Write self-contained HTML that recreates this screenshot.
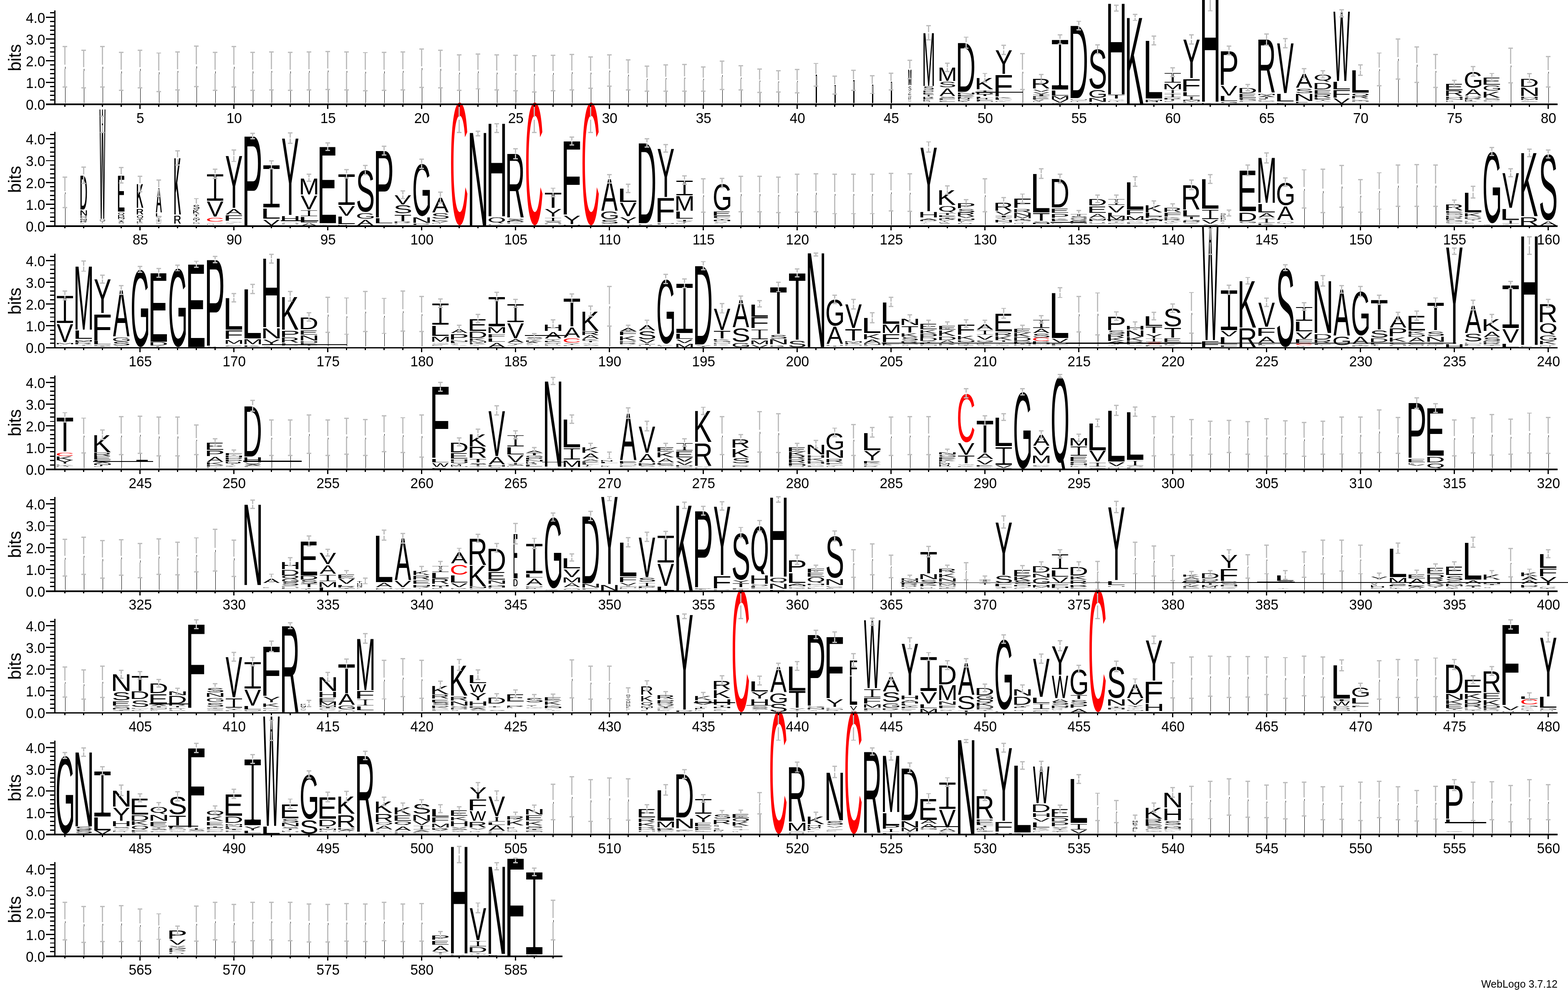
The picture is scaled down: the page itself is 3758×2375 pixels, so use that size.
<!DOCTYPE html>
<html><head><meta charset="utf-8"><title>WebLogo</title><style>html,body{margin:0;padding:0;background:#fff}svg{display:block}</style></head><body>
<svg width="3758" height="2375" viewBox="0 0 3758 2375">
<rect width="3758" height="2375" fill="#fff"/>
<g font-family="'Liberation Sans',sans-serif" font-size="100">
<g fill="#000"><text transform="matrix(.1026 0 0 .0203 2177.18 244.49)">V</text><text transform="matrix(.1268 0 0 .0234 2176.18 241.95)">P</text><text transform="matrix(.1177 0 0 .0266 2176.26 239.02)">K</text><text transform="matrix(.1137 0 0 .0297 2176.29 235.69)">R</text><text transform="matrix(.1245 0 0 .0511 2176.2 227.86)">E</text><text transform="matrix(.1083 0 0 .0556 2176.99 223.35)">Y</text><text transform="matrix(.1173 0 0 .1472 2176.69 217.01)">S</text><text transform="matrix(.1009 0 0 .53 2176.05 204.13)">M</text><text transform="matrix(.1009 0 0 .53 2176.75 204.13)">M</text><text transform="matrix(.2829 0 0 .0223 2210.9 244.49)">N</text><text transform="matrix(.3033 0 0 .0258 2210.74 241.7)">K</text><text transform="matrix(.4566 0 0 .0293 2209.48 238.47)">E</text><text transform="matrix(.4168 0 0 .0327 2209.81 234.81)">R</text><text transform="matrix(.4377 0 0 .0513 2212.24 230.72)">T</text><text transform="matrix(.4566 0 0 .0562 2209.48 226.2)">E</text><text transform="matrix(.465 0 0 .0611 2209.41 221.24)">P</text><text transform="matrix(.4299 0 0 .1166 2211.27 215.43)">S</text><text transform="matrix(.37 0 0 1.8321 2210.19 205.69)">M</text><text transform="matrix(.6891 0 0 .0211 2246.27 244.49)">E</text><text transform="matrix(.3261 0 0 .0244 2249.25 241.85)">E</text><text transform="matrix(.7642 0 0 .0277 2245.66 238.8)">F</text><text transform="matrix(.6488 0 0 .0301 2248.98 235.31)">S</text><text transform="matrix(.5633 0 0 .265 2251.81 230.17)">A</text><text transform="matrix(.6488 0 0 .1766 2248.98 209.17)">S</text><text transform="matrix(.5583 0 0 .4543 2247.34 194.23)">M</text><text transform="matrix(.4721 0 0 .026 2292.15 241.68)">D</text><text transform="matrix(.4915 0 0 .0295 2291.99 238.43)">N</text><text transform="matrix(.6824 0 0 .033 2290.43 234.74)">K</text><text transform="matrix(.7223 0 0 .0517 2290.1 230.61)">E</text><text transform="matrix(.7009 0 0 .0567 2290.28 226.05)">N</text><text transform="matrix(.661 0 0 1.6882 2290.6 219.75)">D</text><text transform="matrix(.5852 0 0 .0227 2336.22 244.49)">M</text><text transform="matrix(.801 0 0 .0263 2334.45 241.65)">F</text><text transform="matrix(.455 0 0 .0298 2337.29 238.36)">H</text><text transform="matrix(.8879 0 0 .0333 2333.74 234.64)">L</text><text transform="matrix(.6924 0 0 .0522 2339.47 230.47)">T</text><text transform="matrix(.661 0 0 .0572 2335.6 225.86)">D</text><text transform="matrix(.6924 0 0 .0622 2339.47 220.82)">T</text><text transform="matrix(.6824 0 0 .3861 2335.43 214.03)">K</text><text transform="matrix(.4701 0 0 .0203 2382.17 244.49)">K</text><text transform="matrix(.5948 0 0 .0234 2385.76 241.96)">V</text><text transform="matrix(.8879 0 0 .0266 2378.74 239.03)">L</text><text transform="matrix(.6824 0 0 .0297 2380.43 235.71)">K</text><text transform="matrix(.801 0 0 .7495 2379.45 230.69)">F</text><text transform="matrix(.6284 0 0 .8101 2384.64 176.53)">Y</text><text transform="matrix(.3236 0 0 .0239 2473.37 244.49)">R</text><text transform="matrix(.3979 0 0 .0277 2475.85 241.5)">V</text><text transform="matrix(.7223 0 0 .0314 2470.1 238.04)">E</text><text transform="matrix(.6824 0 0 .0351 2470.43 234.11)">K</text><text transform="matrix(.5948 0 0 .0603 2475.76 224.87)">V</text><text transform="matrix(.5948 0 0 .0656 2475.76 219.55)">V</text><text transform="matrix(.6594 0 0 .3256 2470.62 212.46)">R</text><text transform="matrix(.5948 0 0 .1124 2520.76 246.28)">V</text><text transform="matrix(.5852 0 0 .1124 2516.22 237.94)">M</text><text transform="matrix(.8879 0 0 .1666 2513.74 228.61)">L</text><text transform="matrix(.3164 0 0 .0192 2563.43 244.49)">H</text><text transform="matrix(.5997 0 0 .0216 2563.01 242.07)">G</text><text transform="matrix(.5852 0 0 .0252 2561.22 239.31)">M</text><text transform="matrix(.661 0 0 2.5058 2560.6 234.86)">D</text><text transform="matrix(.5362 0 0 .025 2606.63 247.62)">K</text><text transform="matrix(.7009 0 0 .12 2605.28 244.19)">N</text><text transform="matrix(.5997 0 0 .2575 2608.01 234.09)">G</text><text transform="matrix(.6801 0 0 1.3315 2607.94 212.2)">S</text><text transform="matrix(.4291 0 0 .0192 2652.51 244.49)">H</text><text transform="matrix(.5904 0 0 .0252 2655.91 239.31)">A</text><text transform="matrix(.6924 0 0 .12 2654.47 235.86)">T</text><text transform="matrix(.7009 0 0 3.1493 2650.28 226)">H</text><text transform="matrix(.6824 0 0 2.9828 2695.43 248.4)">K</text><text transform="matrix(.5158 0 0 .0267 2741.79 244.91)">H</text><text transform="matrix(.5852 0 0 .0308 2741.22 241.57)">M</text><text transform="matrix(.8879 0 0 2.0062 2738.74 236.42)">L</text><text transform="matrix(.4031 0 0 .024 2787.72 244.49)">E</text><text transform="matrix(.6924 0 0 .0278 2789.47 241.49)">T</text><text transform="matrix(.7356 0 0 .0315 2784.99 238.01)">P</text><text transform="matrix(.5852 0 0 .1893 2786.22 214.03)">M</text><text transform="matrix(.7356 0 0 .0232 2829.99 245.53)">P</text><text transform="matrix(.5852 0 0 .0268 2831.22 242.63)">M</text><text transform="matrix(.8879 0 0 .1288 2828.74 230.17)">L</text><text transform="matrix(.801 0 0 .4164 2829.45 218.71)">F</text><text transform="matrix(.6284 0 0 1.3324 2834.64 187.46)">Y</text><text transform="matrix(.4237 0 0 .0225 2877.55 247.83)">K</text><text transform="matrix(.7009 0 0 3.8685 2875.28 243.71)">H</text><text transform="matrix(.5997 0 0 .0291 2923.01 247.17)">G</text><text transform="matrix(.8879 0 0 .159 2918.74 242.15)">L</text><text transform="matrix(.5948 0 0 .3332 2925.76 228.61)">V</text><text transform="matrix(.7356 0 0 1.1735 2919.99 203.09)">P</text><text transform="matrix(.801 0 0 .024 2964.45 244.49)">F</text><text transform="matrix(.5997 0 0 .027 2968.01 241.46)">G</text><text transform="matrix(.801 0 0 .0315 2964.45 238.01)">F</text><text transform="matrix(.7223 0 0 .1275 2965.1 233.78)">E</text><text transform="matrix(.661 0 0 .1742 2965.6 223.4)">D</text><text transform="matrix(.7356 0 0 .0231 3009.99 241.99)">P</text><text transform="matrix(.3286 0 0 .0255 3014.53 239.08)">S</text><text transform="matrix(.6924 0 0 .0293 3014.47 235.82)">T</text><text transform="matrix(.5904 0 0 .0324 3015.91 232.16)">A</text><text transform="matrix(.5852 0 0 .0355 3011.22 228.1)">M</text><text transform="matrix(.6594 0 0 1.8321 3010.62 222.36)">R</text><text transform="matrix(.2659 0 0 .025 3058.84 247.62)">D</text><text transform="matrix(.8879 0 0 .2499 3053.74 243.19)">L</text><text transform="matrix(.5948 0 0 1.7261 3060.76 223.4)">V</text><text transform="matrix(.589 0 0 .03 3101.19 247.2)">F</text><text transform="matrix(.7009 0 0 .2423 3100.28 242.15)">N</text><text transform="matrix(.6801 0 0 .1398 3102.94 222.74)">S</text><text transform="matrix(.5904 0 0 .477 3105.91 210.38)">A</text><text transform="matrix(.5948 0 0 .024 3150.76 244.49)">V</text><text transform="matrix(.6284 0 0 .0278 3149.64 241.49)">Y</text><text transform="matrix(.7223 0 0 .0315 3145.1 238.01)">E</text><text transform="matrix(.6594 0 0 .1048 3145.62 233.78)">R</text><text transform="matrix(.7223 0 0 .1288 3145.1 224.96)">E</text><text transform="matrix(.661 0 0 .2196 3145.6 213.5)">D</text><text transform="matrix(.5948 0 0 .1666 3195.76 248.4)">V</text><text transform="matrix(.801 0 0 .2575 3189.45 234.34)">F</text><text transform="matrix(.8879 0 0 .2499 3188.74 214.03)">L</text><text transform="matrix(.4183 0 0 2.4074 3195.84 194.23)">W</text><text transform="matrix(.7009 0 0 .018 3235.28 244.49)">H</text><text transform="matrix(.7356 0 0 .0236 3234.99 239.63)">P</text><text transform="matrix(.6594 0 0 .0897 3235.62 236.38)">R</text><text transform="matrix(.8879 0 0 .7722 3233.74 222.36)">L</text><text transform="matrix(.3361 0 0 .0211 3463.27 244.49)">P</text><text transform="matrix(.3215 0 0 .0244 3463.39 241.85)">P</text><text transform="matrix(.7009 0 0 .0277 3460.28 238.8)">N</text><text transform="matrix(.7009 0 0 .0309 3460.28 235.34)">H</text><text transform="matrix(.6594 0 0 .1742 3460.62 230.17)">R</text><text transform="matrix(.7223 0 0 .212 3460.1 215.59)">E</text><text transform="matrix(.4828 0 0 .0228 3507.06 244.49)">D</text><text transform="matrix(.3186 0 0 .0263 3508.41 241.64)">R</text><text transform="matrix(.6594 0 0 .0299 3505.62 238.35)">R</text><text transform="matrix(.5904 0 0 .2272 3510.91 229.13)">A</text><text transform="matrix(.5997 0 0 .5444 3508.01 210.37)">G</text><text transform="matrix(.3037 0 0 .0216 3555.97 244.49)">A</text><text transform="matrix(.7356 0 0 .025 3549.99 241.79)">P</text><text transform="matrix(.6801 0 0 .0275 3552.94 238.63)">S</text><text transform="matrix(.6824 0 0 .2045 3550.43 233.82)">K</text><text transform="matrix(.5997 0 0 .1619 3553.01 216.99)">G</text><text transform="matrix(.7223 0 0 .2347 3550.1 203.09)">E</text><text transform="matrix(.5997 0 0 .0205 3643.01 244.47)">G</text><text transform="matrix(.5852 0 0 .0277 3641.22 238.8)">M</text><text transform="matrix(.7009 0 0 .0309 3640.28 235.34)">H</text><text transform="matrix(.7009 0 0 .2877 3640.28 230.17)">N</text><text transform="matrix(.661 0 0 .2802 3640.6 207.78)">D</text><text transform="matrix(.0993 0 0 .0222 192.36 536.16)">M</text><text transform="matrix(.2501 0 0 .0257 191.12 533.38)">R</text><text transform="matrix(.2275 0 0 .0283 192.03 530.13)">G</text><text transform="matrix(.222 0 0 .0326 191.35 526.52)">M</text><text transform="matrix(.2507 0 0 .0511 191.12 522.44)">D</text><text transform="matrix(.2658 0 0 .1817 190.64 516.63)">N</text><text transform="matrix(.2658 0 0 .1817 191.34 516.63)">N</text><text transform="matrix(.2507 0 0 1.1659 190.77 501.53)">D</text><text transform="matrix(.2507 0 0 1.1659 191.47 501.53)">D</text><text transform="matrix(.2 0 0 .024 238.41 536.16)">Y</text><text transform="matrix(.2167 0 0 .0278 238.37 533.15)">Y</text><text transform="matrix(.1442 0 0 3.8079 238.44 524.44)">W</text><text transform="matrix(.1442 0 0 3.8079 239.14 524.44)">W</text><text transform="matrix(.258 0 0 .0233 282 536.14)">S</text><text transform="matrix(.224 0 0 .0278 283.13 533.15)">A</text><text transform="matrix(.2383 0 0 .0315 282.65 529.68)">Y</text><text transform="matrix(.2658 0 0 .0518 280.99 525.44)">N</text><text transform="matrix(.2507 0 0 .0821 281.12 521.28)">D</text><text transform="matrix(.274 0 0 1.2492 280.58 507.25)">E</text><text transform="matrix(.274 0 0 1.2492 281.28 507.25)">E</text><text transform="matrix(.3368 0 0 .0232 325.41 537.2)">L</text><text transform="matrix(.2588 0 0 .0268 326.05 534.3)">K</text><text transform="matrix(.2626 0 0 .0897 327.59 530.65)">T</text><text transform="matrix(.2501 0 0 .1893 325.77 514.03)">R</text><text transform="matrix(.2501 0 0 .1893 326.47 514.03)">R</text><text transform="matrix(.2588 0 0 .8177 325.7 498.4)">K</text><text transform="matrix(.2588 0 0 .8177 326.4 498.4)">K</text><text transform="matrix(.186 0 0 .0185 372.91 536.14)">G</text><text transform="matrix(.2167 0 0 .0309 373.37 524.4)">Y</text><text transform="matrix(.3062 0 0 .1136 371.34 519.23)">L</text><text transform="matrix(.2036 0 0 .8252 373.46 508.82)">A</text><text transform="matrix(.2036 0 0 .8252 374.16 508.82)">A</text><text transform="matrix(.2256 0 0 .02 418.08 539.7)">V</text><text transform="matrix(.2501 0 0 .2802 415.77 535.9)">R</text><text transform="matrix(.2501 0 0 .2802 416.47 535.9)">R</text><text transform="matrix(.2588 0 0 1.9456 415.7 514.03)">K</text><text transform="matrix(.2588 0 0 1.9456 416.4 514.03)">K</text><text transform="matrix(.2658 0 0 .0203 460.99 536.16)">N</text><text transform="matrix(.279 0 0 .0235 460.89 533.61)">P</text><text transform="matrix(.2626 0 0 .0266 462.59 530.68)">T</text><text transform="matrix(.2658 0 0 .0298 460.99 527.34)">N</text><text transform="matrix(.2383 0 0 .033 462.65 523.61)">Y</text><text transform="matrix(.2626 0 0 .0746 462.59 519.19)">T</text><text transform="matrix(.2588 0 0 .1288 461.05 512.46)">K</text><text transform="matrix(.258 0 0 .1472 462 500.86)">S</text><text transform="matrix(.2434 0 0 .0209 494.03 537.62)">M</text><text transform="matrix(.5904 0 0 .0241 495.91 535.01)">A</text><text transform="matrix(.5948 0 0 .5148 495.76 519.23)">V</text><text transform="matrix(.3037 0 0 .0248 539.5 536.76)">G</text><text transform="matrix(.801 0 0 .1742 534.45 528.61)">F</text><text transform="matrix(.5904 0 0 .1893 540.91 514.03)">A</text><text transform="matrix(.6284 0 0 1.8018 539.64 498.4)">Y</text><text transform="matrix(.7356 0 0 3.0888 579.99 540.07)">P</text><text transform="matrix(.5948 0 0 .1893 630.76 540.07)">V</text><text transform="matrix(.8879 0 0 .3559 623.74 524.44)">L</text><text transform="matrix(.7009 0 0 .0232 670.28 537.2)">H</text><text transform="matrix(.7009 0 0 .1742 670.28 529.65)">H</text><text transform="matrix(.6284 0 0 2.6572 674.64 515.07)">Y</text><text transform="matrix(.5904 0 0 .0897 720.91 541.07)">A</text><text transform="matrix(.8879 0 0 .1817 713.74 533.3)">L</text><text transform="matrix(.5948 0 0 .4846 720.76 501.53)">V</text><text transform="matrix(.5852 0 0 .5603 716.22 465.59)">M</text><text transform="matrix(.7223 0 0 2.6497 760.1 534.86)">E</text><text transform="matrix(.2999 0 0 .0125 808.57 540.33)">M</text><text transform="matrix(.8879 0 0 .265 803.74 537.46)">L</text><text transform="matrix(.5948 0 0 .3332 810.76 516.63)">V</text><text transform="matrix(.5904 0 0 .1893 855.91 540.07)">A</text><text transform="matrix(.5997 0 0 .184 853.01 524.26)">G</text><text transform="matrix(.6801 0 0 1.4125 852.94 507.44)">S</text><text transform="matrix(.4482 0 0 .025 900.94 539.28)">A</text><text transform="matrix(.8879 0 0 .1666 893.74 534.86)">L</text><text transform="matrix(.7356 0 0 2.3014 894.99 520.8)">P</text><text transform="matrix(.6824 0 0 .0232 940.43 537.2)">K</text><text transform="matrix(.6594 0 0 .0268 940.62 534.3)">R</text><text transform="matrix(.6924 0 0 .2272 944.47 529.65)">T</text><text transform="matrix(.6801 0 0 .2722 942.94 511.16)">S</text><text transform="matrix(.5948 0 0 .3104 945.76 489.55)">V</text><text transform="matrix(.7356 0 0 .03 984.99 538.87)">P</text><text transform="matrix(.7009 0 0 .1893 985.28 533.82)">N</text><text transform="matrix(.5997 0 0 1.7582 988.01 516.48)">G</text><text transform="matrix(.3492 0 0 .024 1033.16 536.16)">N</text><text transform="matrix(.5948 0 0 .0278 1035.76 533.15)">V</text><text transform="matrix(.6824 0 0 .0315 1030.43 529.68)">K</text><text transform="matrix(.6801 0 0 .184 1032.94 524.26)">S</text><text transform="matrix(.5904 0 0 .4921 1035.91 508.82)">A</text><text transform="matrix(.7009 0 0 3.2175 1120.28 540.07)">N</text><text transform="matrix(.595 0 0 .025 1166.14 539.28)">P</text><text transform="matrix(.7009 0 0 3.2175 1165.28 518.19)">H</text><text transform="matrix(.6824 0 0 .022 1210.43 536.16)">K</text><text transform="matrix(.661 0 0 .0254 1210.6 533.41)">D</text><text transform="matrix(.5904 0 0 .0288 1215.91 530.24)">A</text><text transform="matrix(.6801 0 0 .0313 1212.94 526.61)">S</text><text transform="matrix(.6594 0 0 2.203 1210.62 521.32)">R</text><text transform="matrix(.7009 0 0 .0232 1300.28 537.2)">H</text><text transform="matrix(.6801 0 0 .026 1302.94 534.27)">S</text><text transform="matrix(.6284 0 0 .265 1304.64 519.23)">Y</text><text transform="matrix(.6924 0 0 .5224 1304.47 498.4)">T</text><text transform="matrix(.5852 0 0 .0125 1346.22 540.33)">M</text><text transform="matrix(.6284 0 0 .3029 1349.64 537.46)">Y</text><text transform="matrix(.801 0 0 2.5361 1344.45 514.03)">F</text><text transform="matrix(.6801 0 0 .1239 1437.94 535.74)">S</text><text transform="matrix(.5997 0 0 .2575 1438.01 525.23)">G</text><text transform="matrix(.5904 0 0 1.0902 1440.91 504.65)">A</text><text transform="matrix(.5514 0 0 .025 1485.92 539.28)">A</text><text transform="matrix(.6284 0 0 .2045 1484.64 534.86)">Y</text><text transform="matrix(.5948 0 0 .4543 1485.76 518.19)">V</text><text transform="matrix(.8879 0 0 .4619 1478.74 484.34)">L</text><text transform="matrix(.6023 0 0 .025 1526.08 539.28)">R</text><text transform="matrix(.661 0 0 2.7784 1525.6 534.86)">D</text><text transform="matrix(.801 0 0 .0174 1569.45 538.24)">F</text><text transform="matrix(.7009 0 0 .0201 1570.28 536.07)">N</text><text transform="matrix(.801 0 0 .8404 1569.45 532.25)">F</text><text transform="matrix(.6284 0 0 1.6731 1574.64 471.84)">Y</text><text transform="matrix(.3624 0 0 .024 1618.05 536.16)">N</text><text transform="matrix(.6284 0 0 .0278 1619.64 533.15)">Y</text><text transform="matrix(.6924 0 0 .0315 1619.47 529.68)">T</text><text transform="matrix(.8879 0 0 .2423 1613.74 524.44)">L</text><text transform="matrix(.5852 0 0 .4997 1616.22 505.17)">M</text><text transform="matrix(.375 0 0 .0222 1710.86 536.16)">V</text><text transform="matrix(.5488 0 0 .025 1708.53 533.35)">S</text><text transform="matrix(.7009 0 0 .0291 1705.28 530.16)">H</text><text transform="matrix(.6284 0 0 .0326 1709.64 526.52)">Y</text><text transform="matrix(.801 0 0 .0511 1704.45 522.44)">F</text><text transform="matrix(.7223 0 0 .1515 1705.1 516.63)">E</text><text transform="matrix(.5997 0 0 .8975 1708.01 502.73)">G</text><text transform="matrix(.3038 0 0 .022 2205.36 536.16)">Y</text><text transform="matrix(.4035 0 0 .0254 2205.14 533.41)">Y</text><text transform="matrix(.661 0 0 .0288 2200.6 530.24)">D</text><text transform="matrix(.5904 0 0 .0322 2205.91 526.64)">A</text><text transform="matrix(.7009 0 0 .1817 2200.28 521.32)">H</text><text transform="matrix(.6284 0 0 2.2182 2204.64 506.21)">Y</text><text transform="matrix(.4491 0 0 .0197 2248.99 536.14)">S</text><text transform="matrix(.382 0 0 .0234 2247.89 533.62)">R</text><text transform="matrix(.4181 0 0 .0266 2250.11 530.69)">Y</text><text transform="matrix(.6594 0 0 .0297 2245.62 527.36)">R</text><text transform="matrix(.7223 0 0 .0511 2245.1 519.53)">E</text><text transform="matrix(.6924 0 0 .0556 2249.47 515.02)">T</text><text transform="matrix(.6824 0 0 .4997 2245.43 491.11)">K</text><text transform="matrix(.578 0 0 .0222 2291.28 536.16)">N</text><text transform="matrix(.261 0 0 .0257 2295.45 533.38)">Y</text><text transform="matrix(.6824 0 0 .0291 2290.43 530.16)">K</text><text transform="matrix(.7009 0 0 .0326 2290.28 526.52)">H</text><text transform="matrix(.5948 0 0 .0511 2295.76 522.44)">V</text><text transform="matrix(.6594 0 0 .12 2290.62 517.63)">R</text><text transform="matrix(.6801 0 0 .1092 2292.94 508.67)">S</text><text transform="matrix(.7356 0 0 .159 2289.99 499.44)">P</text><text transform="matrix(.6284 0 0 .0241 2384.64 536.16)">Y</text><text transform="matrix(.7009 0 0 .0279 2380.28 533.14)">N</text><text transform="matrix(.7009 0 0 .0316 2380.28 529.65)">H</text><text transform="matrix(.6284 0 0 .0354 2384.64 525.69)">Y</text><text transform="matrix(.5948 0 0 .1136 2385.76 515.07)">V</text><text transform="matrix(.6594 0 0 .2802 2380.62 504.65)">R</text><text transform="matrix(.3138 0 0 .0211 2428.45 536.16)">M</text><text transform="matrix(.6284 0 0 .0244 2429.64 533.52)">Y</text><text transform="matrix(.5997 0 0 .0269 2428.01 530.44)">G</text><text transform="matrix(.5852 0 0 .067 2426.22 522.84)">M</text><text transform="matrix(.7009 0 0 .1048 2425.28 517.63)">N</text><text transform="matrix(.6594 0 0 .1136 2425.62 508.82)">R</text><text transform="matrix(.801 0 0 .3104 2424.45 498.4)">F</text><text transform="matrix(.7009 0 0 .0255 2470.28 536.78)">N</text><text transform="matrix(.6801 0 0 .0286 2472.94 533.57)">S</text><text transform="matrix(.6924 0 0 .2499 2474.47 528.61)">T</text><text transform="matrix(.8879 0 0 1.3324 2468.74 508.82)">L</text><text transform="matrix(.5152 0 0 .0211 2516.8 536.16)">F</text><text transform="matrix(.6824 0 0 .0244 2515.43 533.52)">K</text><text transform="matrix(.801 0 0 .0277 2514.45 530.47)">F</text><text transform="matrix(.6824 0 0 .0309 2515.43 527.01)">K</text><text transform="matrix(.7356 0 0 .1363 2514.99 521.84)">P</text><text transform="matrix(.7223 0 0 .1515 2515.1 509.86)">E</text><text transform="matrix(.661 0 0 .9842 2515.6 496.84)">D</text><text transform="matrix(.7009 0 0 .0222 2560.28 536.16)">N</text><text transform="matrix(.6594 0 0 .0257 2560.62 533.38)">R</text><text transform="matrix(.6801 0 0 .0283 2562.94 530.13)">S</text><text transform="matrix(.6801 0 0 .0497 2562.94 522.39)">S</text><text transform="matrix(.6924 0 0 .0746 2564.47 517.63)">T</text><text transform="matrix(.5997 0 0 .0205 2608.01 536.14)">G</text><text transform="matrix(.6475 0 0 .0244 2605.71 533.52)">H</text><text transform="matrix(.7356 0 0 .0277 2604.99 530.47)">P</text><text transform="matrix(.5852 0 0 .0309 2606.22 527.01)">M</text><text transform="matrix(.5904 0 0 .1288 2610.91 521.84)">A</text><text transform="matrix(.7223 0 0 .2272 2605.1 510.38)">E</text><text transform="matrix(.661 0 0 .212 2605.6 492.15)">D</text><text transform="matrix(.661 0 0 .0216 2650.6 536.16)">D</text><text transform="matrix(.6924 0 0 .025 2654.47 533.45)">T</text><text transform="matrix(.661 0 0 .0283 2650.6 530.33)">D</text><text transform="matrix(.5852 0 0 .12 2651.22 526.48)">M</text><text transform="matrix(.8879 0 0 .1048 2648.74 517.63)">L</text><text transform="matrix(.5948 0 0 .2196 2655.76 508.82)">V</text><text transform="matrix(.801 0 0 .018 2694.45 536.16)">F</text><text transform="matrix(.7356 0 0 .0208 2694.99 533.9)">P</text><text transform="matrix(.5948 0 0 .0236 2700.76 531.3)">V</text><text transform="matrix(.5852 0 0 .1363 2696.22 527.05)">M</text><text transform="matrix(.801 0 0 .159 2694.45 515.07)">F</text><text transform="matrix(.8879 0 0 .9464 2693.74 501.53)">L</text><text transform="matrix(.4607 0 0 .0222 2742.25 536.16)">F</text><text transform="matrix(.7009 0 0 .0291 2740.28 530.16)">H</text><text transform="matrix(.5904 0 0 .0326 2745.91 526.52)">A</text><text transform="matrix(.7356 0 0 .0511 2739.99 522.44)">P</text><text transform="matrix(.8879 0 0 .1048 2738.74 517.63)">L</text><text transform="matrix(.6824 0 0 .2347 2740.43 508.82)">K</text><text transform="matrix(.3346 0 0 .0191 2790.88 536.16)">V</text><text transform="matrix(.6177 0 0 .022 2785.96 533.77)">K</text><text transform="matrix(.6924 0 0 .025 2789.47 531.02)">T</text><text transform="matrix(.6594 0 0 .0279 2785.62 527.89)">R</text><text transform="matrix(.6824 0 0 .0309 2785.43 524.4)">K</text><text transform="matrix(.801 0 0 .1288 2784.45 519.23)">F</text><text transform="matrix(.6594 0 0 .1439 2785.62 507.78)">R</text><text transform="matrix(.5387 0 0 .0233 2833.32 536.14)">G</text><text transform="matrix(.661 0 0 .0278 2830.6 533.15)">D</text><text transform="matrix(.5997 0 0 .0306 2833.01 529.65)">G</text><text transform="matrix(.6924 0 0 .0821 2834.47 525.44)">T</text><text transform="matrix(.8879 0 0 .2045 2828.74 518.19)">L</text><text transform="matrix(.6594 0 0 .8328 2830.62 501.53)">R</text><text transform="matrix(.6801 0 0 .0243 2877.94 539.26)">S</text><text transform="matrix(.5948 0 0 .1351 2880.76 535.86)">V</text><text transform="matrix(.8879 0 0 1.0145 2873.74 499.96)">L</text><text transform="matrix(.1251 0 0 .0197 2925.4 536.14)">G</text><text transform="matrix(.148 0 0 .0234 2925.7 533.62)">Y</text><text transform="matrix(.1719 0 0 .0266 2924.61 530.69)">K</text><text transform="matrix(.1983 0 0 .0297 2924.4 527.36)">D</text><text transform="matrix(.2403 0 0 .0329 2924.05 523.64)">F</text><text transform="matrix(.2047 0 0 .0511 2924.35 519.53)">K</text><text transform="matrix(.1799 0 0 .054 2925.12 514.97)">G</text><text transform="matrix(.5904 0 0 .0232 2970.91 537.2)">A</text><text transform="matrix(.5997 0 0 .026 2968.01 534.27)">G</text><text transform="matrix(.661 0 0 .3029 2965.6 529.65)">D</text><text transform="matrix(.7223 0 0 1.4081 2965.1 506.21)">E</text><text transform="matrix(.6824 0 0 .03 3010.43 538.87)">K</text><text transform="matrix(.5904 0 0 .1439 3015.91 521.32)">A</text><text transform="matrix(.8879 0 0 .2877 3008.74 508.82)">L</text><text transform="matrix(.5852 0 0 1.552 3011.22 486.42)">M</text><text transform="matrix(.6055 0 0 .018 3059.66 536.16)">T</text><text transform="matrix(.7009 0 0 .0208 3055.28 533.9)">H</text><text transform="matrix(.5904 0 0 .0236 3060.91 531.3)">A</text><text transform="matrix(.5904 0 0 .4694 3060.91 527.05)">A</text><text transform="matrix(.5997 0 0 .7651 3058.01 491.4)">G</text><text transform="matrix(.5948 0 0 .0202 3465.76 536.16)">V</text><text transform="matrix(.801 0 0 .0234 3459.45 533.63)">F</text><text transform="matrix(.5997 0 0 .0258 3463.01 530.68)">G</text><text transform="matrix(.3837 0 0 .0297 3462.88 527.39)">E</text><text transform="matrix(.6594 0 0 .0328 3460.62 523.68)">R</text><text transform="matrix(.661 0 0 .0359 3460.6 519.57)">D</text><text transform="matrix(.5997 0 0 .0539 3463.01 515.03)">G</text><text transform="matrix(.7223 0 0 .0599 3460.1 510.19)">E</text><text transform="matrix(.6594 0 0 .2045 3460.62 503.61)">R</text><text transform="matrix(.3778 0 0 .0191 3507.93 536.16)">D</text><text transform="matrix(.4557 0 0 .022 3507.29 533.77)">L</text><text transform="matrix(.7009 0 0 .025 3505.28 531.02)">H</text><text transform="matrix(.6284 0 0 .0279 3509.64 527.89)">Y</text><text transform="matrix(.661 0 0 .0309 3505.6 524.4)">D</text><text transform="matrix(.6824 0 0 .1136 3505.43 519.23)">K</text><text transform="matrix(.8879 0 0 .6814 3503.74 508.82)">L</text><text transform="matrix(.2459 0 0 .0243 3554.79 539.26)">G</text><text transform="matrix(.5997 0 0 2.4056 3553.01 532.51)">G</text><text transform="matrix(.246 0 0 .0243 3599.79 539.26)">G</text><text transform="matrix(.8879 0 0 .3786 3593.74 527.05)">L</text><text transform="matrix(.5948 0 0 1.2113 3600.76 498.4)">V</text><text transform="matrix(.6594 0 0 .2802 3640.62 540.07)">R</text><text transform="matrix(.6824 0 0 2.1879 3640.43 518.19)">K</text><text transform="matrix(.5904 0 0 .1363 3690.91 540.07)">A</text><text transform="matrix(.6801 0 0 2.229 3687.94 525.91)">S</text><text transform="matrix(.3168 0 0 .0255 135.33 828.45)">Y</text><text transform="matrix(.5852 0 0 .0295 131.22 825.26)">M</text><text transform="matrix(.5948 0 0 .6284 135.76 820.28)">V</text><text transform="matrix(.6924 0 0 .0236 179.47 827.83)">T</text><text transform="matrix(.6594 0 0 .0273 175.62 824.87)">R</text><text transform="matrix(.801 0 0 .031 174.45 821.45)">F</text><text transform="matrix(.5852 0 0 .0346 176.22 817.58)">M</text><text transform="matrix(.8879 0 0 .2877 173.74 811.94)">L</text><text transform="matrix(.5852 0 0 2.1879 176.22 789.55)">M</text><text transform="matrix(.7356 0 0 .0201 219.99 827.73)">P</text><text transform="matrix(.8879 0 0 .1048 218.74 824.92)">L</text><text transform="matrix(.801 0 0 .9161 219.45 816.11)">F</text><text transform="matrix(.6284 0 0 1.1659 224.64 750.48)">Y</text><text transform="matrix(.3257 0 0 .02 270.31 831.37)">Y</text><text transform="matrix(.6801 0 0 .1313 267.94 828.44)">S</text><text transform="matrix(.5997 0 0 .1325 268.01 817.54)">G</text><text transform="matrix(.5904 0 0 1.5898 270.91 805.69)">A</text><text transform="matrix(.5997 0 0 2.6115 313.01 829.18)">G</text><text transform="matrix(.5939 0 0 .025 359.69 830.95)">T</text><text transform="matrix(.661 0 0 .1048 355.6 827.53)">D</text><text transform="matrix(.7223 0 0 2.3771 355.1 818.71)">E</text><text transform="matrix(.5997 0 0 2.6557 403.01 829.14)">G</text><text transform="matrix(.7223 0 0 2.8692 445.1 831.73)">E</text><text transform="matrix(.402 0 0 .0146 494.2 831.77)">S</text><text transform="matrix(.7356 0 0 2.9828 489.99 828.61)">P</text><text transform="matrix(.7223 0 0 .0174 535.1 829.91)">E</text><text transform="matrix(.5904 0 0 .0201 540.91 827.73)">A</text><text transform="matrix(.5852 0 0 .1363 536.22 823.92)">M</text><text transform="matrix(.801 0 0 .2877 534.45 811.94)">F</text><text transform="matrix(.8879 0 0 1.0902 533.74 789.55)">L</text><text transform="matrix(.6824 0 0 .03 580.43 830.53)">K</text><text transform="matrix(.5852 0 0 .1742 581.22 825.48)">M</text><text transform="matrix(.8879 0 0 1.7034 578.74 810.9)">L</text><text transform="matrix(.2582 0 0 .0243 629.73 830.93)">G</text><text transform="matrix(.6284 0 0 .1893 629.64 826.53)">Y</text><text transform="matrix(.7009 0 0 .3483 625.28 810.9)">N</text><text transform="matrix(.7009 0 0 2.3696 625.28 784.34)">H</text><text transform="matrix(.7356 0 0 .0232 669.99 828.87)">P</text><text transform="matrix(.8879 0 0 .0268 668.74 825.97)">L</text><text transform="matrix(.6594 0 0 .159 670.62 821.32)">R</text><text transform="matrix(.7356 0 0 .2272 669.99 807.78)">P</text><text transform="matrix(.6824 0 0 1.1356 670.43 789.55)">K</text><text transform="matrix(.6924 0 0 .024 719.47 827.83)">T</text><text transform="matrix(.7223 0 0 .0278 715.1 824.82)">E</text><text transform="matrix(.7009 0 0 .0315 715.28 821.35)">H</text><text transform="matrix(.7009 0 0 .1742 715.28 816.11)">N</text><text transform="matrix(.7223 0 0 .1439 715.1 801.53)">E</text><text transform="matrix(.661 0 0 .4089 715.6 789.03)">D</text><text transform="matrix(.4265 0 0 .018 1032.53 827.83)">D</text><text transform="matrix(.5997 0 0 .0202 1033.01 825.55)">G</text><text transform="matrix(.5852 0 0 .1666 1031.22 818.71)">M</text><text transform="matrix(.8879 0 0 .3483 1028.74 804.65)">L</text><text transform="matrix(.5948 0 0 .0211 1080.76 827.83)">V</text><text transform="matrix(.8879 0 0 .0277 1073.74 822.13)">L</text><text transform="matrix(.7009 0 0 .0309 1075.28 818.67)">N</text><text transform="matrix(.7356 0 0 .1817 1074.99 813.5)">P</text><text transform="matrix(.5904 0 0 .1363 1080.91 798.4)">A</text><text transform="matrix(.6824 0 0 .0278 1120.43 824.82)">K</text><text transform="matrix(.5852 0 0 .0315 1121.22 821.35)">M</text><text transform="matrix(.6824 0 0 .0821 1120.43 817.11)">K</text><text transform="matrix(.661 0 0 .212 1120.6 809.86)">D</text><text transform="matrix(.7223 0 0 .4089 1120.1 792.67)">E</text><text transform="matrix(.5904 0 0 .1439 1170.91 831.73)">A</text><text transform="matrix(.8879 0 0 .1136 1163.74 819.23)">L</text><text transform="matrix(.801 0 0 .1136 1164.45 808.82)">F</text><text transform="matrix(.5852 0 0 .1969 1166.22 798.4)">M</text><text transform="matrix(.3062 0 0 .0225 1214.49 828.85)">G</text><text transform="matrix(.6284 0 0 .0268 1214.64 825.97)">Y</text><text transform="matrix(.5904 0 0 .1136 1215.91 821.32)">A</text><text transform="matrix(.5948 0 0 .5224 1215.76 810.9)">V</text><text transform="matrix(.5015 0 0 .02 1260.93 827.83)">A</text><text transform="matrix(.2876 0 0 .0224 1259.72 825.3)">S</text><text transform="matrix(.4406 0 0 .0262 1260.94 822.43)">A</text><text transform="matrix(.6824 0 0 .0293 1255.43 819.16)">K</text><text transform="matrix(.6284 0 0 .0324 1259.64 815.49)">Y</text><text transform="matrix(.6801 0 0 .0345 1257.94 811.4)">S</text><text transform="matrix(.7356 0 0 .0191 1299.99 827.83)">P</text><text transform="matrix(.4672 0 0 .022 1302.19 825.44)">M</text><text transform="matrix(.6801 0 0 .0243 1302.94 822.66)">S</text><text transform="matrix(.7223 0 0 .0279 1300.1 819.56)">E</text><text transform="matrix(.6284 0 0 .0309 1304.64 816.07)">Y</text><text transform="matrix(.5904 0 0 .2272 1305.91 810.9)">A</text><text transform="matrix(.7009 0 0 .2272 1300.28 792.67)">H</text><text transform="matrix(.801 0 0 .0232 1344.45 828.87)">F</text><text transform="matrix(.6284 0 0 .0268 1349.64 825.97)">Y</text><text transform="matrix(.5904 0 0 .3483 1350.91 808.82)">A</text><text transform="matrix(.6924 0 0 .9691 1349.47 782.26)">T</text><text transform="matrix(.6801 0 0 .0185 1392.94 827.81)">S</text><text transform="matrix(.5323 0 0 .022 1394.86 825.44)">Y</text><text transform="matrix(.5904 0 0 .025 1395.91 822.69)">A</text><text transform="matrix(.6924 0 0 .0279 1394.47 819.56)">T</text><text transform="matrix(.6824 0 0 .0309 1390.43 816.07)">K</text><text transform="matrix(.5904 0 0 .1275 1395.91 811.9)">A</text><text transform="matrix(.6594 0 0 .12 1390.62 802.53)">R</text><text transform="matrix(.6824 0 0 .6662 1390.43 792.67)">K</text><text transform="matrix(.4431 0 0 .024 1485.94 827.83)">A</text><text transform="matrix(.6594 0 0 .0278 1480.62 824.82)">R</text><text transform="matrix(.7356 0 0 .0315 1479.99 821.35)">P</text><text transform="matrix(.6824 0 0 .1515 1480.43 816.11)">K</text><text transform="matrix(.801 0 0 .1136 1479.45 803.09)">F</text><text transform="matrix(.5904 0 0 .1048 1485.91 793.67)">A</text><text transform="matrix(.5223 0 0 .0232 1526.74 828.87)">H</text><text transform="matrix(.5948 0 0 .1048 1530.76 822.32)">V</text><text transform="matrix(.6801 0 0 .2722 1527.94 813.24)">S</text><text transform="matrix(.5904 0 0 .1893 1530.91 791.63)">A</text><text transform="matrix(.2782 0 0 .0174 1575.4 829.91)">T</text><text transform="matrix(.6824 0 0 .0201 1570.43 827.73)">K</text><text transform="matrix(.5997 0 0 2.1775 1573.01 821.8)">G</text><text transform="matrix(.5852 0 0 .1275 1616.22 832.73)">M</text><text transform="matrix(.5948 0 0 .1136 1620.76 822.36)">V</text><text transform="matrix(.8879 0 0 .159 1613.74 811.94)">L</text><text transform="matrix(.6284 0 0 .03 1664.64 830.53)">Y</text><text transform="matrix(.661 0 0 2.7254 1660.6 825.48)">D</text><text transform="matrix(.6824 0 0 .0191 1705.43 827.83)">K</text><text transform="matrix(.6824 0 0 .022 1705.43 825.44)">K</text><text transform="matrix(.5852 0 0 .025 1706.22 822.69)">M</text><text transform="matrix(.5997 0 0 .0272 1708.01 819.53)">G</text><text transform="matrix(.6824 0 0 .0309 1705.43 816.07)">K</text><text transform="matrix(.6924 0 0 .2499 1709.47 810.9)">T</text><text transform="matrix(.5948 0 0 .742 1710.76 791.11)">V</text><text transform="matrix(.5997 0 0 .1398 1753.01 831.6)">G</text><text transform="matrix(.6801 0 0 .4561 1752.94 818.79)">S</text><text transform="matrix(.5904 0 0 .9388 1755.91 784.34)">A</text><text transform="matrix(.5948 0 0 .0821 1800.76 832.73)">V</text><text transform="matrix(.5852 0 0 .1363 1796.22 825.48)">M</text><text transform="matrix(.801 0 0 .3634 1794.45 786.42)">F</text><text transform="matrix(.8879 0 0 .4316 1793.74 758.82)">L</text><text transform="matrix(.4894 0 0 .0291 1843.56 830.51)">G</text><text transform="matrix(.7009 0 0 .159 1840.28 825.48)">N</text><text transform="matrix(.6801 0 0 .1325 1842.94 811.81)">S</text><text transform="matrix(.6924 0 0 1.6125 1844.47 799.96)">T</text><text transform="matrix(.6801 0 0 .2207 1887.94 831.52)">S</text><text transform="matrix(.6924 0 0 2.3014 1889.47 813.5)">T</text><text transform="matrix(.7009 0 0 3.2629 1930.28 831.73)">N</text><text transform="matrix(.6924 0 0 .0174 1979.47 829.91)">T</text><text transform="matrix(.7009 0 0 .0201 1975.28 827.73)">H</text><text transform="matrix(.5904 0 0 .583 1980.91 823.92)">A</text><text transform="matrix(.5997 0 0 .8828 1978.01 780.35)">G</text><text transform="matrix(.5852 0 0 .024 2021.22 827.83)">M</text><text transform="matrix(.6824 0 0 .0278 2020.43 824.82)">K</text><text transform="matrix(.5852 0 0 .0315 2021.22 821.35)">M</text><text transform="matrix(.6924 0 0 .3937 2024.47 816.11)">T</text><text transform="matrix(.5948 0 0 .8177 2025.76 786.42)">V</text><text transform="matrix(.8879 0 0 .0232 2063.74 828.87)">L</text><text transform="matrix(.7009 0 0 .0268 2065.28 825.97)">N</text><text transform="matrix(.5904 0 0 .1124 2070.91 822.32)">A</text><text transform="matrix(.6824 0 0 .1742 2065.43 812.98)">K</text><text transform="matrix(.8879 0 0 .5148 2063.74 798.4)">L</text><text transform="matrix(.3975 0 0 .0255 2112.76 828.45)">K</text><text transform="matrix(.8879 0 0 .0295 2108.74 825.26)">L</text><text transform="matrix(.801 0 0 .2802 2109.45 820.28)">F</text><text transform="matrix(.5852 0 0 .2877 2111.22 798.4)">M</text><text transform="matrix(.8879 0 0 .742 2108.74 776.01)">L</text><text transform="matrix(.2947 0 0 .0233 2159.69 827.8)">S</text><text transform="matrix(.5997 0 0 .027 2158.01 824.79)">G</text><text transform="matrix(.6594 0 0 .0315 2155.62 821.35)">R</text><text transform="matrix(.6801 0 0 .1104 2157.94 816)">S</text><text transform="matrix(.6824 0 0 .1124 2155.43 806.69)">K</text><text transform="matrix(.6924 0 0 .2272 2159.47 797.36)">T</text><text transform="matrix(.7009 0 0 .2196 2155.28 779.13)">N</text><text transform="matrix(.7009 0 0 .024 2200.28 827.83)">N</text><text transform="matrix(.8879 0 0 .0278 2198.74 824.82)">L</text><text transform="matrix(.6284 0 0 .0315 2204.64 821.35)">Y</text><text transform="matrix(.661 0 0 .1048 2200.6 817.11)">D</text><text transform="matrix(.7356 0 0 .12 2199.99 809.3)">P</text><text transform="matrix(.6824 0 0 .1136 2200.43 799.44)">K</text><text transform="matrix(.7223 0 0 .1742 2200.1 789.03)">E</text><text transform="matrix(.5829 0 0 .0232 2246.24 828.87)">L</text><text transform="matrix(.6594 0 0 .0268 2245.62 825.97)">R</text><text transform="matrix(.5904 0 0 .0821 2250.91 822.32)">A</text><text transform="matrix(.661 0 0 .1136 2245.6 815.07)">D</text><text transform="matrix(.6824 0 0 .1817 2245.43 804.65)">K</text><text transform="matrix(.7223 0 0 .1288 2245.1 789.55)">E</text><text transform="matrix(.3818 0 0 .0244 2292.89 825.19)">M</text><text transform="matrix(.6284 0 0 .0277 2294.64 822.13)">Y</text><text transform="matrix(.7009 0 0 .0309 2290.28 818.67)">H</text><text transform="matrix(.6824 0 0 .1363 2290.43 813.5)">K</text><text transform="matrix(.801 0 0 .3559 2289.45 801.53)">F</text><text transform="matrix(.5422 0 0 .0205 2338.3 827.81)">G</text><text transform="matrix(.3152 0 0 .0244 2338.44 825.19)">N</text><text transform="matrix(.6284 0 0 .0277 2339.64 822.13)">Y</text><text transform="matrix(.5997 0 0 .0301 2338.01 818.65)">G</text><text transform="matrix(.5948 0 0 .1363 2340.76 813.5)">V</text><text transform="matrix(.5904 0 0 .1817 2340.91 789.55)">A</text><text transform="matrix(.2903 0 0 .0244 2385.39 825.19)">Y</text><text transform="matrix(.6924 0 0 .0309 2384.47 818.67)">T</text><text transform="matrix(.6824 0 0 .12 2380.43 814.5)">K</text><text transform="matrix(.6594 0 0 .1136 2380.62 804.65)">R</text><text transform="matrix(.7223 0 0 .6133 2380.1 794.23)">E</text><text transform="matrix(.5852 0 0 .024 2426.22 827.83)">M</text><text transform="matrix(.5852 0 0 .0278 2426.22 824.82)">M</text><text transform="matrix(.7356 0 0 .0315 2424.99 821.35)">P</text><text transform="matrix(.661 0 0 .12 2425.6 817.11)">D</text><text transform="matrix(.6824 0 0 .1212 2425.43 807.25)">K</text><text transform="matrix(.7223 0 0 .1351 2425.1 797.32)">E</text><text transform="matrix(.5447 0 0 .024 2475.92 827.83)">A</text><text transform="matrix(.7009 0 0 .0278 2470.28 824.82)">H</text><text transform="matrix(.7356 0 0 .0315 2469.99 821.35)">P</text><text transform="matrix(.6801 0 0 .1239 2472.94 808.65)">S</text><text transform="matrix(.5904 0 0 .1439 2475.91 798.4)">A</text><text transform="matrix(.8879 0 0 .0232 2513.74 828.87)">L</text><text transform="matrix(.801 0 0 .0268 2514.45 825.97)">F</text><text transform="matrix(.5948 0 0 .1212 2520.76 821.32)">V</text><text transform="matrix(.8879 0 0 1.5671 2513.74 810.38)">L</text><text transform="matrix(.5948 0 0 .0278 2655.76 824.82)">V</text><text transform="matrix(.5904 0 0 .0315 2655.91 821.35)">A</text><text transform="matrix(.6824 0 0 .1124 2650.43 817.11)">K</text><text transform="matrix(.6594 0 0 .1124 2650.62 808.78)">R</text><text transform="matrix(.6801 0 0 .1092 2652.94 800.34)">S</text><text transform="matrix(.7356 0 0 .4694 2649.99 791.11)">P</text><text transform="matrix(.5948 0 0 .024 2700.76 827.83)">V</text><text transform="matrix(.7356 0 0 .0278 2694.99 824.82)">P</text><text transform="matrix(.6594 0 0 .0315 2695.62 821.35)">R</text><text transform="matrix(.6824 0 0 .1275 2695.43 817.11)">K</text><text transform="matrix(.7009 0 0 .2196 2695.28 806.73)">N</text><text transform="matrix(.7009 0 0 .1351 2695.28 790.03)">H</text><text transform="matrix(.7009 0 0 .0174 2740.28 829.91)">N</text><text transform="matrix(.8879 0 0 .0201 2738.74 827.73)">L</text><text transform="matrix(.6284 0 0 .1288 2744.64 809.86)">Y</text><text transform="matrix(.6924 0 0 .212 2744.47 798.4)">T</text><text transform="matrix(.8879 0 0 .3256 2738.74 781.21)">L</text><text transform="matrix(.3695 0 0 .0175 2789.17 827.81)">G</text><text transform="matrix(.6824 0 0 .0208 2785.43 825.57)">K</text><text transform="matrix(.7223 0 0 .1351 2785.1 819.71)">E</text><text transform="matrix(.6924 0 0 .3407 2789.47 808.82)">T</text><text transform="matrix(.6801 0 0 .6033 2787.94 782.19)">S</text><text transform="matrix(.801 0 0 .2045 2874.45 831.73)">F</text><text transform="matrix(.4183 0 0 3.9593 2880.84 815.07)">W</text><text transform="matrix(.801 0 0 .03 2919.45 830.53)">F</text><text transform="matrix(.8879 0 0 .2423 2918.74 825.48)">L</text><text transform="matrix(.5948 0 0 .1817 2925.76 806.21)">V</text><text transform="matrix(.6594 0 0 .6435 2965.62 831.73)">R</text><text transform="matrix(.6824 0 0 1.6125 2965.43 784.86)">K</text><text transform="matrix(.3094 0 0 .0232 3013.49 828.87)">E</text><text transform="matrix(.8879 0 0 .0268 3008.74 825.97)">L</text><text transform="matrix(.5904 0 0 .2045 3015.91 821.32)">A</text><text transform="matrix(.801 0 0 .2802 3009.45 804.65)">F</text><text transform="matrix(.5948 0 0 .8252 3015.76 782.78)">V</text><text transform="matrix(.6801 0 0 2.6704 3057.94 829.13)">S</text><text transform="matrix(.3714 0 0 .0243 3104.34 830.93)">S</text><text transform="matrix(.801 0 0 .1275 3099.45 822.32)">F</text><text transform="matrix(.5948 0 0 .2196 3105.76 811.94)">V</text><text transform="matrix(.8879 0 0 .3332 3098.74 794.23)">L</text><text transform="matrix(.5186 0 0 .0232 3149.89 828.87)">Y</text><text transform="matrix(.801 0 0 .0268 3144.45 825.97)">F</text><text transform="matrix(.6594 0 0 .1124 3145.62 822.32)">R</text><text transform="matrix(.661 0 0 .1742 3145.6 812.98)">D</text><text transform="matrix(.7009 0 0 1.8018 3145.28 798.4)">N</text><text transform="matrix(.5904 0 0 .02 3195.91 831.37)">A</text><text transform="matrix(.5997 0 0 .2943 3193.01 827.28)">G</text><text transform="matrix(.5904 0 0 1.5898 3195.91 804.13)">A</text><text transform="matrix(.7356 0 0 .0174 3234.99 829.91)">P</text><text transform="matrix(.5904 0 0 .2423 3240.91 823.92)">A</text><text transform="matrix(.5997 0 0 1.4787 3238.01 803.21)">G</text><text transform="matrix(.801 0 0 .0295 3279.45 825.26)">F</text><text transform="matrix(.661 0 0 .1288 3280.6 820.28)">D</text><text transform="matrix(.6801 0 0 .2355 3282.94 808.59)">S</text><text transform="matrix(.6924 0 0 1.0145 3284.47 789.55)">T</text><text transform="matrix(.7009 0 0 .018 3325.28 827.83)">H</text><text transform="matrix(.6801 0 0 .0202 3327.94 825.55)">S</text><text transform="matrix(.8879 0 0 .0236 3323.74 822.97)">L</text><text transform="matrix(.6824 0 0 .1439 3325.43 818.71)">K</text><text transform="matrix(.7356 0 0 .2726 3324.99 806.21)">P</text><text transform="matrix(.5904 0 0 .3786 3330.91 784.86)">A</text><text transform="matrix(.5324 0 0 .018 3371.66 827.83)">M</text><text transform="matrix(.6801 0 0 .0202 3372.94 825.55)">S</text><text transform="matrix(.661 0 0 .0236 3370.6 822.97)">D</text><text transform="matrix(.5904 0 0 .1439 3375.91 818.71)">A</text><text transform="matrix(.661 0 0 .0897 3370.6 807.21)">D</text><text transform="matrix(.6824 0 0 .0973 3370.43 800.44)">K</text><text transform="matrix(.7223 0 0 .4997 3370.1 792.15)">E</text><text transform="matrix(.3248 0 0 .018 3418.36 827.83)">M</text><text transform="matrix(.5997 0 0 .0202 3418.01 825.55)">G</text><text transform="matrix(.5997 0 0 .0229 3418.01 822.94)">G</text><text transform="matrix(.7009 0 0 .1666 3415.28 818.71)">N</text><text transform="matrix(.6801 0 0 .1545 3417.94 804.5)">S</text><text transform="matrix(.6924 0 0 .9388 3419.47 791.11)">T</text><text transform="matrix(.7009 0 0 .1048 3460.28 832.73)">H</text><text transform="matrix(.6284 0 0 3.3537 3464.64 823.92)">Y</text><text transform="matrix(.7356 0 0 .018 3504.99 827.83)">P</text><text transform="matrix(.8879 0 0 .0208 3503.74 825.57)">L</text><text transform="matrix(.5852 0 0 .0236 3506.22 822.97)">M</text><text transform="matrix(.6801 0 0 .2575 3507.94 818.46)">S</text><text transform="matrix(.5904 0 0 .9539 3510.91 797.88)">A</text><text transform="matrix(.6594 0 0 .0278 3550.62 824.82)">R</text><text transform="matrix(.661 0 0 .0315 3550.6 821.35)">D</text><text transform="matrix(.6801 0 0 .1019 3552.94 817.01)">S</text><text transform="matrix(.5904 0 0 .1893 3555.91 808.3)">A</text><text transform="matrix(.6824 0 0 .4013 3550.43 792.67)">K</text><text transform="matrix(.8879 0 0 .1136 3593.74 831.73)">L</text><text transform="matrix(.5948 0 0 .4694 3600.76 821.32)">V</text><text transform="matrix(.4464 0 0 .025 3642.36 830.95)">D</text><text transform="matrix(.7009 0 0 3.7777 3640.28 826.53)">H</text><text transform="matrix(.3799 0 0 .0174 3687.91 829.91)">M</text><text transform="matrix(.5948 0 0 .0201 3690.76 827.73)">V</text><text transform="matrix(.6824 0 0 .1048 3685.43 824.92)">K</text><text transform="matrix(.5997 0 0 .1693 3688.01 815.94)">G</text><text transform="matrix(.6594 0 0 .636 3685.62 771.84)">R</text><text transform="matrix(.4915 0 0 .018 131.99 1119.49)">H</text><text transform="matrix(.6924 0 0 .0208 134.47 1117.24)">T</text><text transform="matrix(.6824 0 0 .0236 130.43 1114.63)">K</text><text transform="matrix(.6284 0 0 .12 134.64 1111.38)">Y</text><text transform="matrix(.6824 0 0 .12 130.43 1102.53)">K</text><text transform="matrix(.6924 0 0 1.1735 134.47 1082.26)">T</text><text transform="matrix(.2975 0 0 .0222 223.58 1119.49)">D</text><text transform="matrix(.5852 0 0 .0257 224.71 1116.71)">T</text><text transform="matrix(.7009 0 0 .0291 220.28 1113.5)">N</text><text transform="matrix(.5904 0 0 .0326 225.91 1109.85)">A</text><text transform="matrix(.801 0 0 .0511 219.45 1105.77)">F</text><text transform="matrix(.7223 0 0 .1124 220.1 1100.96)">E</text><text transform="matrix(.6594 0 0 .1048 220.62 1092.63)">R</text><text transform="matrix(.6824 0 0 .5905 220.43 1083.82)">K</text><text transform="matrix(.5063 0 0 .0232 491.87 1120.53)">P</text><text transform="matrix(.7356 0 0 .0268 489.99 1117.63)">P</text><text transform="matrix(.6824 0 0 .0821 490.43 1113.98)">K</text><text transform="matrix(.5904 0 0 .1666 495.91 1106.73)">A</text><text transform="matrix(.7356 0 0 .1742 489.99 1092.67)">P</text><text transform="matrix(.7223 0 0 .2347 490.1 1078.09)">E</text><text transform="matrix(.2603 0 0 .0216 539.72 1119.47)">G</text><text transform="matrix(.3587 0 0 .025 539.22 1116.68)">G</text><text transform="matrix(.5245 0 0 .0292 539.87 1113.49)">Y</text><text transform="matrix(.626 0 0 .0326 535.89 1109.84)">N</text><text transform="matrix(.7356 0 0 .0512 534.99 1105.76)">P</text><text transform="matrix(.7356 0 0 .0561 534.99 1101.25)">P</text><text transform="matrix(.7009 0 0 .061 535.28 1096.3)">H</text><text transform="matrix(.801 0 0 .0659 534.45 1090.93)">F</text><text transform="matrix(.8879 0 0 .024 578.74 1119.49)">L</text><text transform="matrix(.5904 0 0 .0278 585.91 1116.49)">A</text><text transform="matrix(.6801 0 0 .0306 582.94 1112.98)">S</text><text transform="matrix(.7009 0 0 .159 580.28 1107.78)">H</text><text transform="matrix(.661 0 0 1.7488 580.6 1094.23)">D</text><text transform="matrix(.5923 0 0 .02 1031.17 1123.03)">E</text><text transform="matrix(.4183 0 0 .1288 1035.84 1119.23)">W</text><text transform="matrix(.8879 0 0 .1136 1028.74 1107.78)">L</text><text transform="matrix(.801 0 0 2.4604 1029.45 1097.36)">F</text><text transform="matrix(.5852 0 0 .0235 1076.22 1119.49)">M</text><text transform="matrix(.3601 0 0 .0272 1078.07 1116.55)">M</text><text transform="matrix(.6284 0 0 .0308 1079.64 1113.15)">Y</text><text transform="matrix(.7009 0 0 .0345 1075.28 1109.3)">H</text><text transform="matrix(.7009 0 0 .054 1075.28 1104.99)">H</text><text transform="matrix(.7223 0 0 .1817 1075.1 1098.92)">E</text><text transform="matrix(.661 0 0 .3407 1075.6 1083.82)">D</text><text transform="matrix(.6924 0 0 .024 1124.47 1119.49)">T</text><text transform="matrix(.6924 0 0 .0278 1124.47 1116.49)">T</text><text transform="matrix(.6801 0 0 .0306 1122.94 1112.98)">S</text><text transform="matrix(.6924 0 0 .1136 1124.47 1107.78)">T</text><text transform="matrix(.6594 0 0 .3634 1120.62 1097.36)">R</text><text transform="matrix(.6824 0 0 .4316 1120.43 1069.76)">K</text><text transform="matrix(.5271 0 0 .0225 1168.63 1120.51)">S</text><text transform="matrix(.7009 0 0 .0268 1165.28 1117.63)">H</text><text transform="matrix(.5904 0 0 .2575 1170.91 1112.98)">A</text><text transform="matrix(.5948 0 0 1.5671 1170.76 1092.67)">V</text><text transform="matrix(.2878 0 0 .024 1213.66 1119.49)">K</text><text transform="matrix(.6801 0 0 .027 1212.94 1116.46)">S</text><text transform="matrix(.6924 0 0 .0315 1214.47 1113.01)">T</text><text transform="matrix(.5948 0 0 .2423 1215.76 1107.78)">V</text><text transform="matrix(.8879 0 0 .2347 1208.74 1088.51)">L</text><text transform="matrix(.7223 0 0 .0223 1255.1 1119.49)">E</text><text transform="matrix(.8879 0 0 .0257 1253.74 1116.71)">L</text><text transform="matrix(.3842 0 0 .0284 1259.09 1113.46)">G</text><text transform="matrix(.3727 0 0 .0326 1257.97 1109.84)">R</text><text transform="matrix(.7009 0 0 .0512 1255.28 1105.76)">N</text><text transform="matrix(.7356 0 0 .0561 1254.99 1101.25)">P</text><text transform="matrix(.5997 0 0 .0593 1258.01 1096.24)">G</text><text transform="matrix(.6924 0 0 .0659 1259.47 1090.92)">T</text><text transform="matrix(.5904 0 0 .0708 1260.91 1085.11)">A</text><text transform="matrix(.5597 0 0 .025 1305.92 1122.62)">A</text><text transform="matrix(.7009 0 0 2.9601 1300.28 1118.19)">N</text><text transform="matrix(.5997 0 0 .0194 1348.01 1123.02)">G</text><text transform="matrix(.5852 0 0 .2272 1346.22 1119.23)">M</text><text transform="matrix(.8879 0 0 .9615 1343.74 1071.84)">L</text><text transform="matrix(.3664 0 0 .0235 1395.2 1119.49)">T</text><text transform="matrix(.4338 0 0 .0272 1395.05 1116.55)">T</text><text transform="matrix(.8879 0 0 .0308 1388.74 1113.15)">L</text><text transform="matrix(.7223 0 0 .0345 1390.1 1109.3)">E</text><text transform="matrix(.5904 0 0 .054 1395.91 1104.99)">A</text><text transform="matrix(.5904 0 0 .159 1395.91 1098.92)">A</text><text transform="matrix(.6824 0 0 .1893 1390.43 1085.38)">K</text><text transform="matrix(.3004 0 0 .0219 1438.56 1119.49)">N</text><text transform="matrix(.4087 0 0 .0253 1437.67 1116.75)">F</text><text transform="matrix(.8879 0 0 .0321 1433.74 1109.99)">L</text><text transform="matrix(.4786 0 0 .0355 1437.1 1105.97)">N</text><text transform="matrix(.6597 0 0 .0191 1480.61 1119.49)">L</text><text transform="matrix(.661 0 0 .022 1480.6 1117.11)">D</text><text transform="matrix(.5852 0 0 .025 1481.22 1114.35)">M</text><text transform="matrix(.801 0 0 .0279 1479.45 1111.23)">F</text><text transform="matrix(.7223 0 0 .0309 1480.1 1107.73)">E</text><text transform="matrix(.5904 0 0 1.6201 1485.91 1102.57)">A</text><text transform="matrix(.6801 0 0 .0233 1527.94 1119.47)">S</text><text transform="matrix(.7223 0 0 .0278 1525.1 1116.49)">E</text><text transform="matrix(.7009 0 0 .0315 1525.28 1113.01)">N</text><text transform="matrix(.5904 0 0 .2877 1530.91 1107.78)">A</text><text transform="matrix(.5948 0 0 .9161 1530.76 1085.38)">V</text><text transform="matrix(.5904 0 0 .024 1575.91 1119.49)">A</text><text transform="matrix(.6801 0 0 .027 1572.94 1116.46)">S</text><text transform="matrix(.801 0 0 .0315 1569.45 1113.01)">F</text><text transform="matrix(.5904 0 0 .1363 1575.91 1107.78)">A</text><text transform="matrix(.6824 0 0 .159 1570.43 1095.8)">K</text><text transform="matrix(.7223 0 0 .1515 1570.1 1082.26)">E</text><text transform="matrix(.7223 0 0 .0232 1615.1 1120.53)">E</text><text transform="matrix(.661 0 0 .0268 1615.6 1117.63)">D</text><text transform="matrix(.5948 0 0 .1124 1620.76 1113.98)">V</text><text transform="matrix(.5948 0 0 .12 1620.76 1105.65)">V</text><text transform="matrix(.7223 0 0 .1969 1615.1 1095.8)">E</text><text transform="matrix(.5823 0 0 .0174 1661.25 1121.58)">P</text><text transform="matrix(.5948 0 0 .0201 1665.76 1119.4)">V</text><text transform="matrix(.6594 0 0 .7798 1660.62 1115.59)">R</text><text transform="matrix(.6824 0 0 1.0675 1660.43 1059.34)">K</text><text transform="matrix(.6594 0 0 .018 1750.62 1119.49)">R</text><text transform="matrix(.661 0 0 .0208 1750.6 1117.24)">D</text><text transform="matrix(.5948 0 0 .0236 1755.76 1114.63)">V</text><text transform="matrix(.6801 0 0 .1693 1752.94 1110.21)">S</text><text transform="matrix(.6824 0 0 .2877 1750.43 1095.8)">K</text><text transform="matrix(.6594 0 0 .3029 1750.62 1073.4)">R</text><text transform="matrix(.6411 0 0 .024 1885.77 1119.49)">N</text><text transform="matrix(.7009 0 0 .0278 1885.28 1116.49)">H</text><text transform="matrix(.7223 0 0 .0315 1885.1 1113.01)">E</text><text transform="matrix(.6594 0 0 .1124 1885.62 1108.78)">R</text><text transform="matrix(.6594 0 0 .1124 1885.62 1100.44)">R</text><text transform="matrix(.6824 0 0 .1275 1885.43 1092.11)">K</text><text transform="matrix(.7223 0 0 .1439 1885.1 1081.73)">E</text><text transform="matrix(.8879 0 0 .0191 1928.74 1119.49)">L</text><text transform="matrix(.7356 0 0 .022 1929.99 1117.11)">P</text><text transform="matrix(.5948 0 0 .025 1935.76 1114.35)">V</text><text transform="matrix(.7009 0 0 .0279 1930.28 1111.23)">H</text><text transform="matrix(.661 0 0 .0309 1930.6 1107.73)">D</text><text transform="matrix(.6824 0 0 .0897 1930.43 1103.57)">K</text><text transform="matrix(.7009 0 0 .0973 1930.28 1096.8)">H</text><text transform="matrix(.7009 0 0 .3332 1930.28 1088.51)">N</text><text transform="matrix(.3652 0 0 .024 1978.03 1119.49)">R</text><text transform="matrix(.801 0 0 .0315 1974.45 1113.01)">F</text><text transform="matrix(.6594 0 0 .1136 1975.62 1107.78)">R</text><text transform="matrix(.7009 0 0 .2575 1975.28 1097.36)">N</text><text transform="matrix(.5997 0 0 .5591 1978.01 1076.5)">G</text><text transform="matrix(.5389 0 0 .0191 2066.6 1119.49)">R</text><text transform="matrix(.6266 0 0 .022 2065.88 1117.11)">P</text><text transform="matrix(.801 0 0 .025 2064.45 1114.35)">F</text><text transform="matrix(.6824 0 0 .0279 2065.43 1111.23)">K</text><text transform="matrix(.7223 0 0 .0309 2065.1 1107.73)">E</text><text transform="matrix(.6284 0 0 .3104 2069.64 1102.57)">Y</text><text transform="matrix(.8879 0 0 .5981 2063.74 1078.61)">L</text><text transform="matrix(.4084 0 0 .0236 2247.67 1119.49)">M</text><text transform="matrix(.4208 0 0 .0273 2247.57 1116.54)">H</text><text transform="matrix(.3663 0 0 .0309 2248.02 1113.13)">M</text><text transform="matrix(.3083 0 0 .0346 2248.5 1109.26)">P</text><text transform="matrix(.6824 0 0 .0543 2245.43 1104.93)">K</text><text transform="matrix(.7223 0 0 .0595 2245.1 1100.14)">E</text><text transform="matrix(.5997 0 0 .0628 2248.01 1094.84)">G</text><text transform="matrix(.7009 0 0 .0699 2245.28 1089.2)">N</text><text transform="matrix(.6824 0 0 .018 2290.43 1119.49)">K</text><text transform="matrix(.5948 0 0 .0208 2295.76 1117.24)">V</text><text transform="matrix(.6924 0 0 .2575 2294.47 1110.38)">T</text><text transform="matrix(.5948 0 0 .4013 2295.76 1090.07)">V</text><text transform="matrix(.5545 0 0 .0225 2338.24 1120.51)">G</text><text transform="matrix(.7223 0 0 .0268 2335.1 1117.63)">E</text><text transform="matrix(.5948 0 0 .1515 2340.76 1112.98)">V</text><text transform="matrix(.5904 0 0 .1817 2340.91 1099.96)">A</text><text transform="matrix(.6924 0 0 1.1053 2339.47 1084.86)">T</text><text transform="matrix(.5997 0 0 .0146 2383.01 1123.44)">G</text><text transform="matrix(.5948 0 0 .0821 2385.76 1121.28)">V</text><text transform="matrix(.8879 0 0 .9918 2378.74 1069.23)">L</text><text transform="matrix(.5997 0 0 2.5895 2428.01 1120.87)">G</text><text transform="matrix(.5948 0 0 .018 2475.76 1119.49)">V</text><text transform="matrix(.8879 0 0 .0208 2468.74 1117.24)">L</text><text transform="matrix(.5904 0 0 .0236 2475.91 1114.63)">A</text><text transform="matrix(.5852 0 0 .2499 2471.22 1110.38)">M</text><text transform="matrix(.5948 0 0 .2953 2475.76 1090.59)">V</text><text transform="matrix(.5904 0 0 .3634 2475.91 1067.67)">A</text><text transform="matrix(.3607 0 0 .0211 2563.07 1119.49)">K</text><text transform="matrix(.5852 0 0 .0244 2561.22 1116.85)">M</text><text transform="matrix(.7009 0 0 .0277 2560.28 1113.8)">H</text><text transform="matrix(.7356 0 0 .0309 2559.99 1110.34)">P</text><text transform="matrix(.7223 0 0 .1515 2560.1 1105.17)">E</text><text transform="matrix(.5852 0 0 .2499 2561.22 1067.67)">M</text><text transform="matrix(.5997 0 0 .0243 2608.01 1122.59)">G</text><text transform="matrix(.5948 0 0 .3634 2610.76 1106.21)">V</text><text transform="matrix(.8879 0 0 .9312 2603.74 1078.61)">L</text><text transform="matrix(.3939 0 0 .0174 2652.79 1121.58)">M</text><text transform="matrix(.5904 0 0 .0201 2655.91 1119.4)">A</text><text transform="matrix(.5948 0 0 .1275 2655.76 1116.59)">V</text><text transform="matrix(.8879 0 0 1.7639 2648.74 1106.21)">L</text><text transform="matrix(.8879 0 0 .0174 2693.74 1121.58)">L</text><text transform="matrix(.6801 0 0 .0195 2697.94 1119.38)">S</text><text transform="matrix(.8879 0 0 1.658 2693.74 1102.05)">L</text><text transform="matrix(.5948 0 0 .0278 3375.76 1116.49)">V</text><text transform="matrix(.2593 0 0 .0315 3373.9 1113.01)">K</text><text transform="matrix(.7223 0 0 .1136 3370.1 1107.78)">E</text><text transform="matrix(.7356 0 0 1.8926 3369.99 1097.36)">P</text><text transform="matrix(.661 0 0 .1893 3415.6 1107.78)">D</text><text transform="matrix(.7223 0 0 1.6428 3415.1 1092.15)">E</text><text transform="matrix(.7009 0 0 2.7935 580.28 1402.05)">N</text><text transform="matrix(.2547 0 0 .0244 628.94 1408.52)">E</text><text transform="matrix(.5904 0 0 .1515 630.91 1396.84)">A</text><text transform="matrix(.6331 0 0 .018 670.83 1411.16)">F</text><text transform="matrix(.7009 0 0 .0208 670.28 1408.91)">H</text><text transform="matrix(.661 0 0 .0236 670.6 1406.3)">D</text><text transform="matrix(.6801 0 0 .1019 672.94 1402.95)">S</text><text transform="matrix(.5997 0 0 .1019 673.01 1395.14)">G</text><text transform="matrix(.661 0 0 .1817 670.6 1378.61)">D</text><text transform="matrix(.7009 0 0 .2347 670.28 1363.51)">H</text><text transform="matrix(.4525 0 0 .0174 720.01 1413.24)">T</text><text transform="matrix(.6924 0 0 .0201 719.47 1411.07)">T</text><text transform="matrix(.6924 0 0 .1136 719.47 1407.26)">T</text><text transform="matrix(.6801 0 0 .1166 717.94 1397.73)">S</text><text transform="matrix(.661 0 0 .1275 715.6 1388.98)">D</text><text transform="matrix(.7223 0 0 1.1735 715.1 1378.61)">E</text><text transform="matrix(.8879 0 0 .1124 758.74 1416.07)">L</text><text transform="matrix(.5852 0 0 .1666 761.22 1406.73)">M</text><text transform="matrix(.5904 0 0 .3029 765.91 1375.48)">A</text><text transform="matrix(.5948 0 0 .3861 765.76 1352.05)">V</text><text transform="matrix(.6594 0 0 .0278 805.62 1408.15)">R</text><text transform="matrix(.8879 0 0 .0315 803.74 1404.68)">L</text><text transform="matrix(.5948 0 0 .159 810.76 1399.44)">V</text><text transform="matrix(.7223 0 0 .1288 805.1 1385.9)">E</text><text transform="matrix(.1458 0 0 .0229 854.83 1411.16)">L</text><text transform="matrix(.1799 0 0 .0257 855.12 1408.27)">G</text><text transform="matrix(.2103 0 0 .03 854.3 1404.99)">N</text><text transform="matrix(.2103 0 0 .0335 854.3 1401.24)">H</text><text transform="matrix(.2077 0 0 .0526 855.56 1397.05)">T</text><text transform="matrix(.3201 0 0 .0174 898.4 1413.24)">D</text><text transform="matrix(.7009 0 0 .0201 895.28 1411.07)">N</text><text transform="matrix(.5904 0 0 .1439 900.91 1407.26)">A</text><text transform="matrix(.8879 0 0 1.6125 893.74 1394.76)">L</text><text transform="matrix(.3202 0 0 .0174 945.88 1413.24)">V</text><text transform="matrix(.6924 0 0 .0201 944.47 1411.07)">T</text><text transform="matrix(.5948 0 0 .212 945.76 1407.26)">V</text><text transform="matrix(.5904 0 0 1.4384 945.91 1390.07)">A</text><text transform="matrix(.4759 0 0 .024 989.98 1411.16)">Y</text><text transform="matrix(.6594 0 0 .0278 985.62 1408.15)">R</text><text transform="matrix(.7009 0 0 .0315 985.28 1404.68)">H</text><text transform="matrix(.7223 0 0 .1136 985.1 1399.44)">E</text><text transform="matrix(.6594 0 0 .1288 985.62 1389.03)">R</text><text transform="matrix(.6824 0 0 .1439 985.43 1377.57)">K</text><text transform="matrix(.4775 0 0 .024 1032.11 1411.16)">E</text><text transform="matrix(.6924 0 0 .0278 1034.47 1408.15)">T</text><text transform="matrix(.7009 0 0 .0315 1030.28 1404.68)">H</text><text transform="matrix(.6594 0 0 .159 1030.62 1399.44)">R</text><text transform="matrix(.8879 0 0 .1817 1028.74 1385.9)">L</text><text transform="matrix(.6594 0 0 .0201 1075.62 1411.07)">R</text><text transform="matrix(.5948 0 0 .1212 1080.76 1407.26)">V</text><text transform="matrix(.8879 0 0 .2423 1073.74 1396.32)">L</text><text transform="matrix(.5904 0 0 .3634 1080.91 1350.49)">A</text><text transform="matrix(.6755 0 0 .0232 1120.48 1412.2)">E</text><text transform="matrix(.7009 0 0 .0268 1120.28 1409.3)">N</text><text transform="matrix(.6824 0 0 .7041 1120.43 1404.65)">K</text><text transform="matrix(.6594 0 0 .9085 1120.62 1353.61)">R</text><text transform="matrix(.598 0 0 .024 1166.12 1411.16)">K</text><text transform="matrix(.7009 0 0 .0278 1165.28 1408.15)">H</text><text transform="matrix(.5997 0 0 .0306 1168.01 1404.65)">G</text><text transform="matrix(.7009 0 0 .1136 1165.28 1399.44)">N</text><text transform="matrix(.7223 0 0 .2575 1165.1 1389.03)">E</text><text transform="matrix(.661 0 0 .7874 1165.6 1368.71)">D</text><text transform="matrix(.0988 0 0 .0232 1231.08 1412.2)">A</text><text transform="matrix(.152 0 0 .2347 1229.5 1404.65)">D</text><text transform="matrix(.152 0 0 .2347 1230.2 1404.65)">D</text><text transform="matrix(.1661 0 0 1.5368 1229.39 1385.9)">E</text><text transform="matrix(.1661 0 0 1.5368 1230.09 1385.9)">E</text><text transform="matrix(.4114 0 0 .018 1257.65 1411.16)">N</text><text transform="matrix(.7223 0 0 .0208 1255.1 1408.91)">E</text><text transform="matrix(.7009 0 0 .0236 1255.28 1406.3)">N</text><text transform="matrix(.5904 0 0 .2196 1260.91 1402.05)">A</text><text transform="matrix(.8879 0 0 .1136 1253.74 1384.34)">L</text><text transform="matrix(.4814 0 0 .0243 1303.6 1414.26)">G</text><text transform="matrix(.5997 0 0 2.3908 1303.01 1407.52)">G</text><text transform="matrix(.7009 0 0 .0174 1345.28 1413.24)">N</text><text transform="matrix(.5948 0 0 .0201 1350.76 1411.07)">V</text><text transform="matrix(.5904 0 0 .1212 1350.91 1407.26)">A</text><text transform="matrix(.5852 0 0 .159 1346.22 1396.32)">M</text><text transform="matrix(.5948 0 0 .265 1350.76 1382.78)">V</text><text transform="matrix(.8879 0 0 .3559 1343.74 1361.94)">L</text><text transform="matrix(.801 0 0 .0174 1389.45 1413.24)">F</text><text transform="matrix(.661 0 0 .0201 1390.6 1411.07)">D</text><text transform="matrix(.7009 0 0 .1275 1390.28 1408.26)">N</text><text transform="matrix(.661 0 0 2.3242 1390.6 1397.88)">D</text><text transform="matrix(.7009 0 0 .1893 1435.28 1415.07)">N</text><text transform="matrix(.6284 0 0 3.0282 1439.64 1399.44)">Y</text><text transform="matrix(.3705 0 0 .018 1482.99 1411.16)">L</text><text transform="matrix(.5852 0 0 .0208 1481.22 1408.91)">M</text><text transform="matrix(.5948 0 0 .0897 1485.76 1403.05)">V</text><text transform="matrix(.801 0 0 .1666 1479.45 1395.28)">F</text><text transform="matrix(.8879 0 0 1.1659 1478.74 1381.21)">L</text><text transform="matrix(.2667 0 0 .0232 1528.84 1412.2)">M</text><text transform="matrix(.7356 0 0 .0268 1524.99 1409.3)">P</text><text transform="matrix(.6801 0 0 .1251 1527.94 1394.11)">S</text><text transform="matrix(.5948 0 0 1.3779 1530.76 1382.78)">V</text><text transform="matrix(.8879 0 0 .1288 1568.74 1415.07)">L</text><text transform="matrix(.5948 0 0 .7647 1575.76 1403.61)">V</text><text transform="matrix(.6824 0 0 2.9525 1615.43 1415.07)">K</text><text transform="matrix(.661 0 0 .0201 1660.6 1411.07)">D</text><text transform="matrix(.7356 0 0 2.6421 1659.99 1407.26)">P</text><text transform="matrix(.7356 0 0 .025 1704.99 1414.28)">P</text><text transform="matrix(.801 0 0 .4316 1704.45 1409.86)">F</text><text transform="matrix(.6284 0 0 2.3771 1709.64 1377.57)">Y</text><text transform="matrix(.801 0 0 .0174 1749.45 1413.24)">F</text><text transform="matrix(.8879 0 0 .0201 1748.74 1411.07)">L</text><text transform="matrix(.6924 0 0 .1212 1754.47 1407.26)">T</text><text transform="matrix(.6284 0 0 .0897 1754.64 1397.32)">Y</text><text transform="matrix(.6801 0 0 1.5817 1752.94 1388)">S</text><text transform="matrix(.801 0 0 .024 1794.45 1411.16)">F</text><text transform="matrix(.8879 0 0 .0278 1793.74 1408.15)">L</text><text transform="matrix(.7009 0 0 .3029 1795.28 1399.44)">H</text><text transform="matrix(.7011 0 0 .02 1840.27 1414.7)">F</text><text transform="matrix(.7009 0 0 .1742 1840.28 1410.9)">N</text><text transform="matrix(.7009 0 0 2.7481 1840.28 1381.73)">H</text><text transform="matrix(.7356 0 0 .0244 1884.99 1408.52)">P</text><text transform="matrix(.7009 0 0 .0277 1885.28 1405.47)">N</text><text transform="matrix(.5904 0 0 .0309 1890.91 1402.01)">A</text><text transform="matrix(.8879 0 0 .3407 1883.74 1396.84)">L</text><text transform="matrix(.7356 0 0 .4089 1884.99 1370.8)">P</text><text transform="matrix(.801 0 0 .0211 1929.45 1411.16)">F</text><text transform="matrix(.3603 0 0 .0244 1933.07 1408.52)">F</text><text transform="matrix(.7009 0 0 .0309 1930.28 1402.01)">H</text><text transform="matrix(.7223 0 0 .1351 1930.1 1381.69)">E</text><text transform="matrix(.801 0 0 .1351 1929.45 1371.8)">F</text><text transform="matrix(.2832 0 0 .018 1978.7 1411.16)">D</text><text transform="matrix(.6801 0 0 .0202 1977.94 1408.89)">S</text><text transform="matrix(.7356 0 0 .0236 1974.99 1406.3)">P</text><text transform="matrix(.7009 0 0 .2045 1975.28 1402.05)">N</text><text transform="matrix(.6801 0 0 1.4051 1977.94 1384.01)">S</text><text transform="matrix(.6209 0 0 .0203 2155.93 1411.16)">K</text><text transform="matrix(.3716 0 0 .0234 2160.21 1408.62)">Y</text><text transform="matrix(.6009 0 0 .0266 2156.1 1405.69)">D</text><text transform="matrix(.6594 0 0 .0297 2155.62 1402.36)">R</text><text transform="matrix(.7356 0 0 .0329 2154.99 1398.64)">P</text><text transform="matrix(.5852 0 0 .0511 2156.22 1394.53)">M</text><text transform="matrix(.7009 0 0 .0556 2155.28 1390.02)">N</text><text transform="matrix(.8157 0 0 .0211 2199.33 1411.16)">L</text><text transform="matrix(.4297 0 0 .0244 2202.5 1408.52)">M</text><text transform="matrix(.7356 0 0 .0277 2199.99 1405.47)">P</text><text transform="matrix(.6824 0 0 .0309 2200.43 1402.01)">K</text><text transform="matrix(.6801 0 0 .1166 2202.94 1397.73)">S</text><text transform="matrix(.7009 0 0 .1666 2200.28 1387.98)">N</text><text transform="matrix(.6924 0 0 .7344 2204.47 1373.92)">T</text><text transform="matrix(.661 0 0 .0191 2245.6 1411.16)">D</text><text transform="matrix(.6924 0 0 .022 2249.47 1408.77)">T</text><text transform="matrix(.7009 0 0 .025 2245.28 1406.02)">N</text><text transform="matrix(.5852 0 0 .0279 2246.22 1402.89)">M</text><text transform="matrix(.661 0 0 .0309 2245.6 1399.4)">D</text><text transform="matrix(.7009 0 0 .1136 2245.28 1394.23)">N</text><text transform="matrix(.6824 0 0 .1288 2245.43 1383.82)">K</text><text transform="matrix(.6594 0 0 .1363 2245.62 1372.36)">R</text><text transform="matrix(.4775 0 0 .033 2346.03 1401.41)">T</text><text transform="matrix(.434 0 0 .0211 2385.83 1411.16)">V</text><text transform="matrix(.8879 0 0 .0277 2378.74 1405.47)">L</text><text transform="matrix(.801 0 0 .0309 2379.45 1402.01)">F</text><text transform="matrix(.6801 0 0 .2355 2382.94 1396.61)">S</text><text transform="matrix(.6284 0 0 1.8169 2384.64 1377.57)">Y</text><text transform="matrix(.5631 0 0 .024 2426.41 1411.16)">L</text><text transform="matrix(.7009 0 0 .0315 2425.28 1404.68)">H</text><text transform="matrix(.6801 0 0 .1239 2427.94 1400.32)">S</text><text transform="matrix(.6824 0 0 .1275 2425.43 1391.07)">K</text><text transform="matrix(.7223 0 0 .212 2425.1 1380.69)">E</text><text transform="matrix(.2594 0 0 .024 2475.45 1411.16)">Y</text><text transform="matrix(.5852 0 0 .0278 2471.22 1408.15)">M</text><text transform="matrix(.7009 0 0 .0315 2470.28 1404.68)">H</text><text transform="matrix(.5997 0 0 .184 2473.01 1399.26)">G</text><text transform="matrix(.7009 0 0 .1363 2470.28 1383.82)">N</text><text transform="matrix(.661 0 0 .2196 2470.6 1371.84)">D</text><text transform="matrix(.5125 0 0 .0232 2519.87 1412.2)">T</text><text transform="matrix(.7009 0 0 .0268 2515.28 1409.3)">H</text><text transform="matrix(.801 0 0 .0973 2514.45 1405.65)">F</text><text transform="matrix(.5948 0 0 .1893 2520.76 1397.36)">V</text><text transform="matrix(.8879 0 0 .2272 2513.74 1381.73)">L</text><text transform="matrix(.661 0 0 .024 2560.6 1411.16)">D</text><text transform="matrix(.7356 0 0 .0278 2559.99 1408.15)">P</text><text transform="matrix(.6594 0 0 .0315 2560.62 1404.68)">R</text><text transform="matrix(.6594 0 0 .1136 2560.62 1399.44)">R</text><text transform="matrix(.6824 0 0 .1136 2560.43 1389.03)">K</text><text transform="matrix(.661 0 0 .2953 2560.6 1378.61)">D</text><text transform="matrix(.7009 0 0 .0236 2650.28 1406.3)">H</text><text transform="matrix(.8879 0 0 .1363 2648.74 1402.05)">L</text><text transform="matrix(.6284 0 0 2.5286 2654.64 1390.07)">Y</text><text transform="matrix(.7223 0 0 .0226 2830.1 1411.16)">E</text><text transform="matrix(.6824 0 0 .0261 2830.43 1408.33)">K</text><text transform="matrix(.5948 0 0 .0296 2835.76 1405.07)">V</text><text transform="matrix(.5113 0 0 .0331 2834.9 1401.36)">Y</text><text transform="matrix(.7356 0 0 .0519 2829.99 1397.22)">P</text><text transform="matrix(.6801 0 0 .0553 2832.94 1392.59)">S</text><text transform="matrix(.5904 0 0 .0619 2835.91 1387.62)">A</text><text transform="matrix(.6824 0 0 .0669 2830.43 1382.16)">K</text><text transform="matrix(.6198 0 0 .0225 2875.94 1411.16)">R</text><text transform="matrix(.4951 0 0 .026 2876.96 1408.35)">M</text><text transform="matrix(.661 0 0 .0295 2875.6 1405.09)">D</text><text transform="matrix(.6924 0 0 .033 2879.47 1401.41)">T</text><text transform="matrix(.6824 0 0 .0517 2875.43 1397.28)">K</text><text transform="matrix(.661 0 0 .159 2875.6 1386.42)">D</text><text transform="matrix(.5356 0 0 .0216 2923.33 1411.14)">G</text><text transform="matrix(.5997 0 0 .025 2923.01 1408.35)">G</text><text transform="matrix(.7009 0 0 .0291 2920.28 1405.16)">H</text><text transform="matrix(.6801 0 0 .0317 2922.94 1401.49)">S</text><text transform="matrix(.5997 0 0 .0497 2923.01 1397.39)">G</text><text transform="matrix(.801 0 0 .4089 2919.45 1391.63)">F</text><text transform="matrix(.6284 0 0 .4467 2924.64 1360.9)">Y</text><text transform="matrix(.4559 0 0 .0222 3060.02 1411.16)">Y</text><text transform="matrix(.5997 0 0 .0497 3058.01 1397.39)">G</text><text transform="matrix(.8879 0 0 .1817 3053.74 1391.63)">L</text><text transform="matrix(.482 0 0 .0235 3282.07 1411.16)">D</text><text transform="matrix(.5582 0 0 .0272 3281.45 1408.22)">H</text><text transform="matrix(.2744 0 0 .0308 3283.77 1404.81)">P</text><text transform="matrix(.231 0 0 .0345 3285.92 1400.95)">V</text><text transform="matrix(.5948 0 0 .0645 3285.76 1386.64)">V</text><text transform="matrix(.5116 0 0 .0211 3329.88 1411.16)">T</text><text transform="matrix(.4808 0 0 .0244 3327.08 1408.52)">F</text><text transform="matrix(.7223 0 0 .0277 3325.1 1405.47)">E</text><text transform="matrix(.6801 0 0 .0301 3327.94 1401.98)">S</text><text transform="matrix(.5852 0 0 .1666 3326.22 1396.84)">M</text><text transform="matrix(.8879 0 0 .9842 3323.74 1382.78)">L</text><text transform="matrix(.4443 0 0 .024 3372.38 1411.16)">M</text><text transform="matrix(.5904 0 0 .0278 3375.91 1408.15)">A</text><text transform="matrix(.7223 0 0 .0315 3370.1 1404.68)">E</text><text transform="matrix(.5904 0 0 .159 3375.91 1399.44)">A</text><text transform="matrix(.7223 0 0 .1288 3370.1 1385.9)">E</text><text transform="matrix(.3348 0 0 .024 3420.96 1411.16)">A</text><text transform="matrix(.6284 0 0 .0278 3419.64 1408.15)">Y</text><text transform="matrix(.6824 0 0 .1275 3415.43 1400.44)">K</text><text transform="matrix(.6594 0 0 .0821 3415.62 1391.07)">R</text><text transform="matrix(.661 0 0 .1124 3415.6 1384.82)">D</text><text transform="matrix(.7223 0 0 .2045 3415.1 1375.48)">E</text><text transform="matrix(.5054 0 0 .025 3463.73 1408.35)">S</text><text transform="matrix(.5852 0 0 .0291 3461.22 1405.16)">M</text><text transform="matrix(.661 0 0 .0326 3460.6 1401.52)">D</text><text transform="matrix(.6801 0 0 .0497 3462.94 1397.39)">S</text><text transform="matrix(.6801 0 0 .1545 3462.94 1391.48)">S</text><text transform="matrix(.7223 0 0 .3029 3460.1 1378.09)">E</text><text transform="matrix(.5904 0 0 .024 3510.91 1411.16)">A</text><text transform="matrix(.6924 0 0 .0278 3509.47 1408.15)">T</text><text transform="matrix(.6801 0 0 .0306 3507.94 1404.65)">S</text><text transform="matrix(.5904 0 0 .1136 3510.91 1399.44)">A</text><text transform="matrix(.8879 0 0 1.2794 3503.74 1389.03)">L</text><text transform="matrix(.2939 0 0 .0224 3554.69 1408.64)">S</text><text transform="matrix(.7009 0 0 .0324 3550.28 1398.82)">H</text><text transform="matrix(.6824 0 0 .1742 3550.43 1389.03)">K</text><text transform="matrix(.4088 0 0 .024 3645.95 1411.16)">A</text><text transform="matrix(.7356 0 0 .0278 3639.99 1408.15)">P</text><text transform="matrix(.661 0 0 .0315 3640.6 1404.68)">D</text><text transform="matrix(.5904 0 0 .1136 3645.91 1399.44)">A</text><text transform="matrix(.5904 0 0 .1048 3645.91 1390.03)">A</text><text transform="matrix(.6824 0 0 .1212 3640.43 1381.21)">K</text><text transform="matrix(.6242 0 0 .018 3689.62 1411.16)">T</text><text transform="matrix(.6594 0 0 .0208 3685.62 1408.91)">R</text><text transform="matrix(.5904 0 0 .0236 3690.91 1406.3)">A</text><text transform="matrix(.6284 0 0 .2726 3689.64 1402.05)">Y</text><text transform="matrix(.801 0 0 .2499 3684.45 1380.69)">F</text><text transform="matrix(.8879 0 0 .477 3683.74 1360.9)">L</text><text transform="matrix(.7009 0 0 .0278 265.28 1699.82)">N</text><text transform="matrix(.6801 0 0 .0306 267.94 1696.32)">S</text><text transform="matrix(.7223 0 0 .1515 265.1 1691.11)">E</text><text transform="matrix(.6801 0 0 .2722 267.94 1677.82)">S</text><text transform="matrix(.7009 0 0 .5678 265.28 1656.21)">N</text><text transform="matrix(.5883 0 0 .018 311.2 1702.83)">F</text><text transform="matrix(.6284 0 0 .0208 314.64 1700.57)">Y</text><text transform="matrix(.801 0 0 .0236 309.45 1697.97)">F</text><text transform="matrix(.6801 0 0 .2207 312.94 1693.5)">S</text><text transform="matrix(.661 0 0 .2499 310.6 1675.49)">D</text><text transform="matrix(.6924 0 0 .5224 314.47 1655.69)">T</text><text transform="matrix(.2876 0 0 .0191 358.67 1702.83)">D</text><text transform="matrix(.7223 0 0 .022 355.1 1700.44)">E</text><text transform="matrix(.5852 0 0 .025 356.22 1697.69)">M</text><text transform="matrix(.5904 0 0 .0309 360.91 1691.07)">A</text><text transform="matrix(.7223 0 0 .318 355.1 1685.9)">E</text><text transform="matrix(.661 0 0 .3332 355.6 1661.42)">D</text><text transform="matrix(.7356 0 0 .0191 399.99 1702.83)">P</text><text transform="matrix(.533 0 0 .022 401.65 1700.44)">H</text><text transform="matrix(.661 0 0 .025 400.6 1697.69)">D</text><text transform="matrix(.6924 0 0 .0279 404.47 1694.56)">T</text><text transform="matrix(.6594 0 0 .0309 400.62 1691.07)">R</text><text transform="matrix(.661 0 0 .265 400.6 1685.9)">D</text><text transform="matrix(.7009 0 0 .1275 400.28 1666.07)">N</text><text transform="matrix(.801 0 0 2.8919 444.45 1696.32)">F</text><text transform="matrix(.5997 0 0 .0175 493.01 1702.81)">G</text><text transform="matrix(.5997 0 0 .0202 493.01 1700.55)">G</text><text transform="matrix(.6801 0 0 .1325 492.94 1693.58)">S</text><text transform="matrix(.5997 0 0 .1251 493.01 1681.61)">G</text><text transform="matrix(.7009 0 0 .1288 490.28 1670.28)">N</text><text transform="matrix(.6801 0 0 .1472 492.94 1658.67)">S</text><text transform="matrix(.801 0 0 .0232 534.45 1703.87)">F</text><text transform="matrix(.6284 0 0 .0268 539.64 1700.97)">Y</text><text transform="matrix(.5948 0 0 1.393 540.76 1671.32)">V</text><text transform="matrix(.5462 0 0 .0169 583.28 1704.89)">G</text><text transform="matrix(.7009 0 0 .0201 580.28 1702.74)">N</text><text transform="matrix(.8879 0 0 .1048 578.74 1699.92)">L</text><text transform="matrix(.5948 0 0 .5527 585.76 1691.11)">V</text><text transform="matrix(.6824 0 0 .018 625.43 1702.83)">K</text><text transform="matrix(.5904 0 0 .0208 630.91 1700.57)">A</text><text transform="matrix(.661 0 0 .0236 625.6 1697.97)">D</text><text transform="matrix(.6824 0 0 .1136 625.43 1693.71)">K</text><text transform="matrix(.6284 0 0 .1893 629.64 1683.3)">Y</text><text transform="matrix(.801 0 0 1.7034 624.45 1667.67)">F</text><text transform="matrix(.6594 0 0 2.9903 670.62 1706.73)">R</text><text transform="matrix(.1799 0 0 .0198 720.12 1702.81)">G</text><text transform="matrix(.2103 0 0 .0235 719.3 1700.28)">N</text><text transform="matrix(.1784 0 0 .0266 720.95 1697.34)">V</text><text transform="matrix(.2103 0 0 .0298 719.3 1694.01)">N</text><text transform="matrix(.2207 0 0 .033 719.21 1690.28)">P</text><text transform="matrix(.5948 0 0 .0211 765.76 1702.83)">V</text><text transform="matrix(.7356 0 0 .0244 759.99 1700.19)">P</text><text transform="matrix(.5852 0 0 .0309 761.22 1693.68)">M</text><text transform="matrix(.5852 0 0 .1048 761.22 1689.51)">M</text><text transform="matrix(.7223 0 0 .1275 760.1 1681.69)">E</text><text transform="matrix(.7009 0 0 .1817 760.28 1671.32)">H</text><text transform="matrix(.7009 0 0 .477 760.28 1656.21)">N</text><text transform="matrix(.5852 0 0 .0174 806.22 1704.91)">M</text><text transform="matrix(.5904 0 0 .0201 810.91 1702.74)">A</text><text transform="matrix(.5997 0 0 .1313 808.01 1699.79)">G</text><text transform="matrix(.5904 0 0 .371 810.91 1689.03)">A</text><text transform="matrix(.6924 0 0 1.0069 809.47 1660.9)">T</text><text transform="matrix(.4715 0 0 .025 855.93 1705.95)">A</text><text transform="matrix(.8879 0 0 .1212 848.74 1701.53)">L</text><text transform="matrix(.801 0 0 .2575 849.45 1673.92)">F</text><text transform="matrix(.5852 0 0 1.7791 851.22 1653.61)">M</text><text transform="matrix(.8879 0 0 .0211 1028.74 1702.83)">L</text><text transform="matrix(.7356 0 0 .0244 1029.99 1700.19)">P</text><text transform="matrix(.6824 0 0 .0277 1030.43 1697.14)">K</text><text transform="matrix(.661 0 0 .0309 1030.6 1693.68)">D</text><text transform="matrix(.6801 0 0 .0872 1032.94 1689.42)">S</text><text transform="matrix(.7223 0 0 .0973 1030.1 1682.74)">E</text><text transform="matrix(.6594 0 0 .1212 1030.62 1674.44)">R</text><text transform="matrix(.6824 0 0 .2953 1030.43 1663.51)">K</text><text transform="matrix(.3139 0 0 .0233 1079.6 1702.8)">S</text><text transform="matrix(.661 0 0 .0278 1075.6 1699.82)">D</text><text transform="matrix(.7009 0 0 .1439 1075.28 1691.11)">N</text><text transform="matrix(.6594 0 0 .1363 1075.62 1678.61)">R</text><text transform="matrix(.6824 0 0 1.0448 1075.43 1666.63)">K</text><text transform="matrix(.6801 0 0 .0233 1122.94 1702.8)">S</text><text transform="matrix(.5904 0 0 .0278 1125.91 1699.82)">A</text><text transform="matrix(.7223 0 0 .0315 1120.1 1696.35)">E</text><text transform="matrix(.7009 0 0 .1515 1120.28 1691.11)">H</text><text transform="matrix(.6284 0 0 .2423 1124.64 1678.09)">Y</text><text transform="matrix(.4183 0 0 .2802 1125.84 1658.82)">W</text><text transform="matrix(.8879 0 0 .2726 1118.74 1636.94)">L</text><text transform="matrix(.6801 0 0 .0185 1167.94 1702.81)">S</text><text transform="matrix(.661 0 0 .1969 1165.6 1685.9)">D</text><text transform="matrix(.2388 0 0 .0262 1214.07 1697.44)">K</text><text transform="matrix(.6594 0 0 .0293 1210.62 1694.16)">R</text><text transform="matrix(.7223 0 0 .2423 1210.1 1680.69)">E</text><text transform="matrix(.4228 0 0 .0326 1260.1 1693.18)">Y</text><text transform="matrix(.6801 0 0 .1472 1257.94 1683.15)">S</text><text transform="matrix(.6284 0 0 .0211 1304.64 1702.83)">Y</text><text transform="matrix(.7009 0 0 .0277 1300.28 1697.14)">N</text><text transform="matrix(.6824 0 0 .0309 1300.43 1693.68)">K</text><text transform="matrix(.6824 0 0 .1136 1300.43 1688.51)">K</text><text transform="matrix(.7223 0 0 .1124 1300.1 1679.09)">E</text><text transform="matrix(.0818 0 0 .022 1500.43 1702.83)">L</text><text transform="matrix(.131 0 0 .0254 1500.03 1700.08)">N</text><text transform="matrix(.1112 0 0 .0288 1500.19 1696.9)">E</text><text transform="matrix(.1345 0 0 .0322 1500 1693.3)">M</text><text transform="matrix(.152 0 0 .0356 1499.85 1689.27)">D</text><text transform="matrix(.1345 0 0 .0554 1500 1684.81)">M</text><text transform="matrix(.1445 0 0 .065 1500.78 1674.62)">Y</text><text transform="matrix(.1379 0 0 .0679 1500.41 1668.82)">G</text><text transform="matrix(.2362 0 0 .024 1535.16 1702.83)">D</text><text transform="matrix(.4775 0 0 .0278 1536.03 1699.82)">T</text><text transform="matrix(.4036 0 0 .0315 1533.79 1696.35)">M</text><text transform="matrix(.4706 0 0 .1893 1533.24 1680.69)">K</text><text transform="matrix(.4547 0 0 .3029 1533.37 1665.07)">R</text><text transform="matrix(.4958 0 0 .0203 1571.96 1702.83)">D</text><text transform="matrix(.6449 0 0 .0234 1570.73 1700.29)">K</text><text transform="matrix(.5948 0 0 .0297 1575.76 1694.03)">V</text><text transform="matrix(.6594 0 0 .0511 1570.62 1686.2)">R</text><text transform="matrix(.7356 0 0 .0556 1569.99 1681.69)">P</text><text transform="matrix(.6594 0 0 .1212 1570.62 1675.49)">R</text><text transform="matrix(.7356 0 0 .03 1614.99 1705.54)">P</text><text transform="matrix(.6284 0 0 3.2932 1619.64 1700.49)">Y</text><text transform="matrix(.3081 0 0 .0225 1663.5 1702.83)">K</text><text transform="matrix(.4875 0 0 .026 1662.03 1700.01)">F</text><text transform="matrix(.5032 0 0 .0295 1664.89 1696.76)">T</text><text transform="matrix(.5948 0 0 .0517 1665.76 1688.95)">V</text><text transform="matrix(.7009 0 0 .0567 1660.28 1684.39)">H</text><text transform="matrix(.6824 0 0 .1515 1660.43 1678.09)">K</text><text transform="matrix(.5149 0 0 .0211 1706.8 1702.83)">D</text><text transform="matrix(.2815 0 0 .0237 1709.61 1700.16)">G</text><text transform="matrix(.7009 0 0 .0277 1705.28 1697.14)">H</text><text transform="matrix(.6924 0 0 .0309 1709.47 1693.68)">T</text><text transform="matrix(.7009 0 0 .1893 1705.28 1688.51)">H</text><text transform="matrix(.6824 0 0 .2726 1705.43 1672.88)">K</text><text transform="matrix(.6594 0 0 .2953 1705.62 1651.53)">R</text><text transform="matrix(.3555 0 0 .024 1800.24 1702.83)">Y</text><text transform="matrix(.6801 0 0 .027 1797.94 1699.79)">S</text><text transform="matrix(.6801 0 0 .0306 1797.94 1696.32)">S</text><text transform="matrix(.7009 0 0 .212 1795.28 1691.11)">H</text><text transform="matrix(.6284 0 0 .212 1799.64 1673.92)">Y</text><text transform="matrix(.8879 0 0 .3559 1793.74 1656.74)">L</text><text transform="matrix(.6801 0 0 .2722 1842.94 1706.47)">S</text><text transform="matrix(.5997 0 0 .3311 1843.01 1684.54)">G</text><text transform="matrix(.5904 0 0 .8782 1845.91 1658.82)">A</text><text transform="matrix(.6924 0 0 .0232 1889.47 1703.87)">T</text><text transform="matrix(.6284 0 0 .0268 1889.64 1700.97)">Y</text><text transform="matrix(.6924 0 0 .5678 1889.47 1696.32)">T</text><text transform="matrix(.8879 0 0 .8328 1883.74 1654.65)">L</text><text transform="matrix(.7009 0 0 .0278 1930.28 1699.82)">N</text><text transform="matrix(.5997 0 0 .0306 1933.01 1696.32)">G</text><text transform="matrix(.7356 0 0 2.4604 1929.99 1691.11)">P</text><text transform="matrix(.5023 0 0 .018 1976.9 1702.83)">R</text><text transform="matrix(.7009 0 0 .0208 1975.28 1700.57)">N</text><text transform="matrix(.7356 0 0 .0236 1974.99 1697.97)">P</text><text transform="matrix(.6284 0 0 .2575 1979.64 1693.71)">Y</text><text transform="matrix(.801 0 0 2.1122 1974.45 1673.4)">F</text><text transform="matrix(.2892 0 0 .0243 2035.96 1705.93)">S</text><text transform="matrix(.253 0 0 .1439 2037.16 1701.53)">V</text><text transform="matrix(.3776 0 0 .9842 2033.83 1689.03)">L</text><text transform="matrix(.3776 0 0 .9842 2034.53 1689.03)">L</text><text transform="matrix(.3407 0 0 .5148 2034.13 1618.71)">F</text><text transform="matrix(.3407 0 0 .5148 2034.83 1618.71)">F</text><text transform="matrix(.8879 0 0 .0232 2063.74 1703.87)">L</text><text transform="matrix(.801 0 0 .0268 2064.45 1700.97)">F</text><text transform="matrix(.5852 0 0 .1136 2066.22 1696.32)">M</text><text transform="matrix(.801 0 0 .1742 2064.45 1685.9)">F</text><text transform="matrix(.4183 0 0 2.362 2070.84 1649.44)">W</text><text transform="matrix(.4503 0 0 .0225 2113.76 1703.85)">G</text><text transform="matrix(.6594 0 0 .0268 2110.62 1700.97)">R</text><text transform="matrix(.5997 0 0 .1545 2113.01 1696.17)">G</text><text transform="matrix(.6801 0 0 .3311 2112.94 1682.45)">S</text><text transform="matrix(.5904 0 0 .4997 2115.91 1656.74)">A</text><text transform="matrix(.368 0 0 .0197 2159.17 1702.81)">G</text><text transform="matrix(.6283 0 0 .0234 2155.87 1700.29)">E</text><text transform="matrix(.801 0 0 .0266 2154.45 1697.36)">F</text><text transform="matrix(.6284 0 0 .0297 2159.64 1694.03)">Y</text><text transform="matrix(.8879 0 0 .0329 2153.74 1690.31)">L</text><text transform="matrix(.7009 0 0 .0511 2155.28 1686.2)">H</text><text transform="matrix(.5904 0 0 .0556 2160.91 1681.69)">A</text><text transform="matrix(.7009 0 0 .1351 2155.28 1676.49)">H</text><text transform="matrix(.6284 0 0 1.7867 2159.64 1665.59)">Y</text><text transform="matrix(.5852 0 0 .1275 2201.22 1707.73)">M</text><text transform="matrix(.8879 0 0 .1288 2198.74 1697.36)">L</text><text transform="matrix(.5948 0 0 .3937 2205.76 1685.9)">V</text><text transform="matrix(.5482 0 0 .0205 2248.54 1702.81)">S</text><text transform="matrix(.5904 0 0 .0244 2250.91 1700.19)">A</text><text transform="matrix(.801 0 0 .0277 2244.45 1697.14)">F</text><text transform="matrix(.801 0 0 .0309 2244.45 1693.68)">F</text><text transform="matrix(.7009 0 0 .1136 2245.28 1688.51)">N</text><text transform="matrix(.5852 0 0 .5224 2246.22 1678.09)">M</text><text transform="matrix(.661 0 0 .6435 2245.6 1639.55)">D</text><text transform="matrix(.6924 0 0 .03 2294.47 1705.54)">T</text><text transform="matrix(.6801 0 0 .4709 2292.94 1700.03)">S</text><text transform="matrix(.5904 0 0 1.0902 2295.91 1664.55)">A</text><text transform="matrix(.6924 0 0 .024 2339.47 1702.83)">T</text><text transform="matrix(.6594 0 0 .0278 2335.62 1699.82)">R</text><text transform="matrix(.7009 0 0 .0315 2335.28 1696.35)">H</text><text transform="matrix(.6824 0 0 .1048 2335.43 1692.11)">K</text><text transform="matrix(.5997 0 0 .1239 2338.01 1676.36)">G</text><text transform="matrix(.661 0 0 .2347 2335.6 1666.11)">D</text><text transform="matrix(.5972 0 0 .025 2381.13 1705.95)">F</text><text transform="matrix(.5997 0 0 2.3835 2383.01 1699.2)">G</text><text transform="matrix(.4089 0 0 .0211 2427.67 1702.83)">R</text><text transform="matrix(.5841 0 0 .0277 2426.23 1697.14)">F</text><text transform="matrix(.6284 0 0 .0309 2429.64 1693.68)">Y</text><text transform="matrix(.661 0 0 .2802 2425.6 1688.51)">D</text><text transform="matrix(.7009 0 0 .2196 2425.28 1666.63)">N</text><text transform="matrix(.661 0 0 .0174 2470.6 1704.91)">D</text><text transform="matrix(.5948 0 0 .0201 2475.76 1702.74)">V</text><text transform="matrix(.8879 0 0 .1817 2468.74 1684.86)">L</text><text transform="matrix(.5948 0 0 1.3097 2475.76 1669.76)">V</text><text transform="matrix(.3952 0 0 .0211 2520.95 1702.83)">A</text><text transform="matrix(.4608 0 0 .0244 2517.25 1700.19)">R</text><text transform="matrix(.661 0 0 .0277 2515.6 1697.14)">D</text><text transform="matrix(.7009 0 0 .0309 2515.28 1693.68)">N</text><text transform="matrix(.6801 0 0 .1019 2517.94 1689.41)">S</text><text transform="matrix(.5904 0 0 .0973 2520.91 1681.69)">A</text><text transform="matrix(.4183 0 0 .7798 2520.84 1673.4)">W</text><text transform="matrix(.6284 0 0 .9918 2519.64 1617.15)">Y</text><text transform="matrix(.5904 0 0 .1136 2565.91 1706.73)">A</text><text transform="matrix(.7356 0 0 .1136 2559.99 1696.32)">P</text><text transform="matrix(.6801 0 0 .1104 2562.94 1685.79)">S</text><text transform="matrix(.6924 0 0 .1212 2564.47 1675.49)">T</text><text transform="matrix(.5997 0 0 .846 2563.01 1663.72)">G</text><text transform="matrix(.5441 0 0 .024 2654.83 1702.83)">Y</text><text transform="matrix(.7009 0 0 .0278 2650.28 1699.82)">H</text><text transform="matrix(.7009 0 0 .2272 2650.28 1691.11)">N</text><text transform="matrix(.6801 0 0 1.052 2652.94 1671.85)">S</text><text transform="matrix(.7009 0 0 .0211 2695.28 1702.83)">N</text><text transform="matrix(.5253 0 0 .0244 2699.87 1700.19)">Y</text><text transform="matrix(.6284 0 0 .0309 2699.64 1693.68)">Y</text><text transform="matrix(.5948 0 0 .1893 2700.76 1688.51)">V</text><text transform="matrix(.5904 0 0 .477 2700.91 1672.88)">A</text><text transform="matrix(.548 0 0 .0125 2745.78 1706.99)">V</text><text transform="matrix(.7009 0 0 .2423 2740.28 1704.13)">H</text><text transform="matrix(.801 0 0 .7495 2739.45 1684.86)">F</text><text transform="matrix(.6284 0 0 1.393 2744.64 1630.69)">Y</text><text transform="matrix(.7009 0 0 .024 3190.28 1702.83)">N</text><text transform="matrix(.661 0 0 .0278 3190.6 1699.82)">D</text><text transform="matrix(.7356 0 0 .0315 3189.99 1696.35)">P</text><text transform="matrix(.4183 0 0 .1439 3195.84 1691.11)">W</text><text transform="matrix(.8879 0 0 1.1432 3188.74 1674.44)">L</text><text transform="matrix(.2063 0 0 .0191 3240.57 1702.83)">Y</text><text transform="matrix(.801 0 0 .0279 3234.45 1694.56)">F</text><text transform="matrix(.8879 0 0 .1893 3233.74 1685.9)">L</text><text transform="matrix(.5997 0 0 .309 3238.01 1669.98)">G</text><text transform="matrix(.7356 0 0 .0232 3459.99 1703.87)">P</text><text transform="matrix(.6284 0 0 .0268 3464.64 1700.97)">Y</text><text transform="matrix(.7223 0 0 .1351 3460.1 1697.32)">E</text><text transform="matrix(.6824 0 0 .1275 3460.43 1687.42)">K</text><text transform="matrix(.7009 0 0 .1969 3460.28 1677.05)">N</text><text transform="matrix(.661 0 0 .9766 3460.6 1660.9)">D</text><text transform="matrix(.6924 0 0 .018 3509.47 1702.83)">T</text><text transform="matrix(.7356 0 0 .0208 3504.99 1700.57)">P</text><text transform="matrix(.7009 0 0 .0236 3505.28 1697.97)">H</text><text transform="matrix(.6594 0 0 .1048 3505.62 1694.71)">R</text><text transform="matrix(.661 0 0 .1212 3505.6 1685.9)">D</text><text transform="matrix(.6824 0 0 .1742 3505.43 1674.96)">K</text><text transform="matrix(.7223 0 0 .4391 3505.1 1660.38)">E</text><text transform="matrix(.6386 0 0 .0232 3550.79 1703.87)">N</text><text transform="matrix(.6824 0 0 .0268 3550.43 1700.97)">K</text><text transform="matrix(.661 0 0 .0897 3550.6 1697.32)">D</text><text transform="matrix(.6824 0 0 .1666 3550.43 1689.55)">K</text><text transform="matrix(.7223 0 0 .1969 3550.1 1675.49)">E</text><text transform="matrix(.6594 0 0 .7268 3550.62 1659.34)">R</text><text transform="matrix(.497 0 0 .025 3596.95 1705.95)">N</text><text transform="matrix(.5948 0 0 .1363 3600.76 1701.53)">V</text><text transform="matrix(.801 0 0 2.7859 3594.45 1689.55)">F</text><text transform="matrix(.5306 0 0 .0211 3644.83 1702.83)">T</text><text transform="matrix(.5742 0 0 .0244 3641.31 1700.19)">F</text><text transform="matrix(.5997 0 0 .0301 3643.01 1693.65)">G</text><text transform="matrix(.8879 0 0 .0821 3638.74 1675.44)">L</text><text transform="matrix(.4664 0 0 .0232 3687.2 1703.87)">M</text><text transform="matrix(.5997 0 0 .026 3688.01 1700.94)">G</text><text transform="matrix(.8879 0 0 .3634 3683.74 1696.32)">L</text><text transform="matrix(.6284 0 0 2.0441 3689.64 1668.71)">Y</text><text transform="matrix(.5997 0 0 2.6336 133.01 1995.83)">G</text><text transform="matrix(.6801 0 0 .1019 177.94 1996.7)">S</text><text transform="matrix(.6801 0 0 .1019 177.94 1988.89)">S</text><text transform="matrix(.7009 0 0 2.5664 175.28 1980.17)">N</text><text transform="matrix(.5948 0 0 .12 225.76 1999.4)">V</text><text transform="matrix(.8879 0 0 .4391 218.74 1989.55)">L</text><text transform="matrix(.4348 0 0 .0211 267.46 1994.49)">M</text><text transform="matrix(.6824 0 0 .0244 265.43 1991.85)">K</text><text transform="matrix(.6801 0 0 .0301 267.94 1985.31)">S</text><text transform="matrix(.7009 0 0 .159 265.28 1980.17)">H</text><text transform="matrix(.6284 0 0 .4467 269.64 1966.63)">Y</text><text transform="matrix(.7009 0 0 .5527 265.28 1933.3)">N</text><text transform="matrix(.8879 0 0 .0232 308.74 1995.54)">L</text><text transform="matrix(.7223 0 0 .0268 310.1 1992.64)">E</text><text transform="matrix(.6824 0 0 .1275 310.43 1977.01)">K</text><text transform="matrix(.661 0 0 .1817 310.6 1966.63)">D</text><text transform="matrix(.7223 0 0 .5527 310.1 1951.53)">E</text><text transform="matrix(.6824 0 0 .0211 355.43 1994.49)">K</text><text transform="matrix(.5948 0 0 .0244 360.76 1991.85)">V</text><text transform="matrix(.6801 0 0 .0269 357.94 1988.78)">S</text><text transform="matrix(.6284 0 0 .0309 359.64 1985.34)">Y</text><text transform="matrix(.7223 0 0 .1515 355.1 1980.17)">E</text><text transform="matrix(.7009 0 0 .2045 355.28 1967.15)">N</text><text transform="matrix(.5904 0 0 .022 405.91 1992.11)">A</text><text transform="matrix(.7009 0 0 .025 400.28 1989.35)">N</text><text transform="matrix(.6824 0 0 .0279 400.43 1986.23)">K</text><text transform="matrix(.8879 0 0 .0309 398.74 1982.73)">L</text><text transform="matrix(.6924 0 0 .3407 404.47 1977.57)">T</text><text transform="matrix(.6801 0 0 .5886 402.94 1950.95)">S</text><text transform="matrix(.5997 0 0 .0233 448.01 1994.47)">G</text><text transform="matrix(.6801 0 0 .027 447.94 1991.46)">S</text><text transform="matrix(.6924 0 0 .0315 449.47 1988.02)">T</text><text transform="matrix(.801 0 0 2.7481 444.45 1982.78)">F</text><text transform="matrix(.661 0 0 .0191 490.6 1994.49)">D</text><text transform="matrix(.7009 0 0 .025 490.28 1989.35)">N</text><text transform="matrix(.7356 0 0 .0279 489.99 1986.23)">P</text><text transform="matrix(.7223 0 0 .1136 490.1 1977.57)">E</text><text transform="matrix(.6824 0 0 .1439 490.43 1967.15)">K</text><text transform="matrix(.661 0 0 .02 535.6 1994.49)">D</text><text transform="matrix(.6824 0 0 .0231 535.43 1991.99)">K</text><text transform="matrix(.8879 0 0 .0293 533.74 1985.82)">L</text><text transform="matrix(.7009 0 0 .0324 535.28 1982.16)">N</text><text transform="matrix(.5852 0 0 .0355 536.22 1978.1)">M</text><text transform="matrix(.661 0 0 .212 535.6 1972.36)">D</text><text transform="matrix(.7223 0 0 .7495 535.1 1955.17)">E</text><text transform="matrix(.5663 0 0 .0125 581.38 1998.66)">N</text><text transform="matrix(.8879 0 0 .0821 578.74 1996.8)">L</text><text transform="matrix(.6284 0 0 .1363 584.64 1989.55)">Y</text><text transform="matrix(.8879 0 0 .2423 623.74 1998.4)">L</text><text transform="matrix(.4183 0 0 3.8079 630.84 1979.13)">W</text><text transform="matrix(.7009 0 0 .0211 670.28 1994.49)">H</text><text transform="matrix(.3597 0 0 .0244 673.07 1991.85)">R</text><text transform="matrix(.6924 0 0 .0277 674.47 1988.8)">T</text><text transform="matrix(.6801 0 0 .0301 672.94 1985.31)">S</text><text transform="matrix(.7009 0 0 .1136 670.28 1980.17)">N</text><text transform="matrix(.6801 0 0 .1166 672.94 1970.64)">S</text><text transform="matrix(.7223 0 0 .4846 670.1 1960.9)">E</text><text transform="matrix(.6801 0 0 .4561 717.94 1997.96)">S</text><text transform="matrix(.5997 0 0 1.5007 718.01 1962.04)">G</text><text transform="matrix(.2529 0 0 .0211 763.95 1994.49)">M</text><text transform="matrix(.7009 0 0 .0244 760.28 1991.85)">H</text><text transform="matrix(.5852 0 0 .0277 761.22 1988.8)">M</text><text transform="matrix(.6924 0 0 .0309 764.47 1985.34)">T</text><text transform="matrix(.661 0 0 .2196 760.6 1980.17)">D</text><text transform="matrix(.7223 0 0 .742 760.1 1962.46)">E</text><text transform="matrix(.4271 0 0 .024 807.52 1994.49)">M</text><text transform="matrix(.5904 0 0 .0278 810.91 1991.49)">A</text><text transform="matrix(.661 0 0 .0315 805.6 1988.02)">D</text><text transform="matrix(.6594 0 0 .4316 805.62 1982.78)">R</text><text transform="matrix(.6824 0 0 .5905 805.43 1950.49)">K</text><text transform="matrix(.422 0 0 .025 855.84 1997.62)">V</text><text transform="matrix(.6594 0 0 2.6345 850.62 1993.19)">R</text><text transform="matrix(.8879 0 0 .0232 893.74 1995.54)">L</text><text transform="matrix(.5904 0 0 .1363 900.91 1987.99)">A</text><text transform="matrix(.6594 0 0 .2726 895.62 1969.76)">R</text><text transform="matrix(.6824 0 0 .3861 895.43 1948.4)">K</text><text transform="matrix(.7436 0 0 .0174 939.93 1996.58)">F</text><text transform="matrix(.6824 0 0 .0201 940.43 1994.4)">K</text><text transform="matrix(.5904 0 0 .1515 945.91 1990.59)">A</text><text transform="matrix(.7223 0 0 .1817 940.1 1967.15)">E</text><text transform="matrix(.6824 0 0 .2423 940.43 1952.05)">K</text><text transform="matrix(.661 0 0 .0232 985.6 1995.54)">D</text><text transform="matrix(.5904 0 0 .0268 990.91 1992.64)">A</text><text transform="matrix(.5948 0 0 .1275 990.76 1977.01)">V</text><text transform="matrix(.7009 0 0 .1969 985.28 1966.63)">N</text><text transform="matrix(.6801 0 0 .3237 987.94 1950.17)">S</text><text transform="matrix(.5904 0 0 .024 1035.91 1994.49)">A</text><text transform="matrix(.5948 0 0 .0278 1035.76 1991.49)">V</text><text transform="matrix(.6594 0 0 .0315 1030.62 1988.02)">R</text><text transform="matrix(.5852 0 0 .1288 1031.22 1982.78)">M</text><text transform="matrix(.801 0 0 .1666 1029.45 1971.32)">F</text><text transform="matrix(.8879 0 0 .2575 1028.74 1957.26)">L</text><text transform="matrix(.513 0 0 .0211 1079.9 1994.49)">Y</text><text transform="matrix(.5406 0 0 .0237 1078.57 1991.83)">S</text><text transform="matrix(.6801 0 0 .0269 1077.94 1988.78)">S</text><text transform="matrix(.5948 0 0 .0309 1080.76 1985.34)">V</text><text transform="matrix(.7009 0 0 .1742 1075.28 1980.17)">H</text><text transform="matrix(.6824 0 0 .1136 1075.43 1965.59)">K</text><text transform="matrix(.7223 0 0 .1742 1075.1 1955.17)">E</text><text transform="matrix(.4358 0 0 .024 1122.45 1994.49)">R</text><text transform="matrix(.5948 0 0 .0315 1125.76 1988.02)">V</text><text transform="matrix(.6594 0 0 .1893 1120.62 1982.78)">R</text><text transform="matrix(.4183 0 0 .3332 1125.84 1967.15)">W</text><text transform="matrix(.801 0 0 .3634 1119.45 1941.63)">F</text><text transform="matrix(.6284 0 0 .3861 1124.64 1914.03)">Y</text><text transform="matrix(.7594 0 0 .0174 1164.8 1996.58)">L</text><text transform="matrix(.7356 0 0 .0201 1164.99 1994.4)">P</text><text transform="matrix(.5904 0 0 .1742 1170.91 1990.59)">A</text><text transform="matrix(.8879 0 0 .0973 1163.74 1977.01)">L</text><text transform="matrix(.5948 0 0 .689 1170.76 1955.69)">V</text><text transform="matrix(.4036 0 0 .0191 1215.85 1994.49)">V</text><text transform="matrix(.3472 0 0 .022 1213.18 1992.11)">M</text><text transform="matrix(.4513 0 0 .025 1212.32 1989.35)">K</text><text transform="matrix(.3312 0 0 .0279 1213.31 1986.23)">P</text><text transform="matrix(.6824 0 0 .159 1210.43 1977.57)">K</text><text transform="matrix(.6594 0 0 .1136 1210.62 1964.03)">R</text><text transform="matrix(.5852 0 0 .0191 1256.22 1994.49)">M</text><text transform="matrix(.7223 0 0 .022 1255.1 1992.11)">E</text><text transform="matrix(.7356 0 0 .0279 1254.99 1986.23)">P</text><text transform="matrix(.6801 0 0 .03 1257.94 1982.7)">S</text><text transform="matrix(.6824 0 0 .1363 1255.43 1977.57)">K</text><text transform="matrix(.7223 0 0 .159 1255.1 1965.59)">E</text><text transform="matrix(.7009 0 0 .1893 1255.28 1952.05)">N</text><text transform="matrix(.5233 0 0 .0211 1526.73 1994.49)">K</text><text transform="matrix(.7009 0 0 .0244 1525.28 1991.85)">H</text><text transform="matrix(.661 0 0 .0277 1525.6 1988.8)">D</text><text transform="matrix(.6594 0 0 .0309 1525.62 1985.34)">R</text><text transform="matrix(.6824 0 0 .1136 1525.43 1980.17)">K</text><text transform="matrix(.6594 0 0 .1136 1525.62 1969.76)">R</text><text transform="matrix(.7223 0 0 .2877 1525.1 1959.34)">E</text><text transform="matrix(.661 0 0 .024 1570.6 1994.49)">D</text><text transform="matrix(.801 0 0 .0278 1569.45 1991.49)">F</text><text transform="matrix(.6594 0 0 .0315 1570.62 1988.02)">R</text><text transform="matrix(.5852 0 0 .1969 1571.22 1982.78)">M</text><text transform="matrix(.8879 0 0 1.0523 1568.74 1966.63)">L</text><text transform="matrix(.5033 0 0 .018 1620.93 1994.49)">A</text><text transform="matrix(.8879 0 0 .0208 1613.74 1992.24)">L</text><text transform="matrix(.7009 0 0 .3407 1615.28 1985.38)">N</text><text transform="matrix(.661 0 0 1.499 1615.6 1959.34)">D</text><text transform="matrix(.5997 0 0 .0205 1663.01 1994.47)">G</text><text transform="matrix(.3802 0 0 .0244 1662.91 1991.85)">D</text><text transform="matrix(.801 0 0 .0277 1659.45 1988.8)">F</text><text transform="matrix(.7223 0 0 .0309 1660.1 1985.34)">E</text><text transform="matrix(.7223 0 0 .1136 1660.1 1980.17)">E</text><text transform="matrix(.6284 0 0 .2423 1664.64 1969.76)">Y</text><text transform="matrix(.2724 0 0 .0222 1708.79 1994.49)">M</text><text transform="matrix(.4509 0 0 .0257 1707.33 1991.71)">P</text><text transform="matrix(.2387 0 0 .0283 1709.94 1988.47)">S</text><text transform="matrix(.2072 0 0 .0497 1710.08 1980.73)">S</text><text transform="matrix(.6594 0 0 .1515 1705.62 1974.96)">R</text><text transform="matrix(.6801 0 0 .1545 1707.94 1961.79)">S</text><text transform="matrix(.2378 0 0 .0191 1754.07 1994.49)">R</text><text transform="matrix(.6924 0 0 .025 1754.47 1989.35)">T</text><text transform="matrix(.4178 0 0 .03 1754.13 1982.7)">S</text><text transform="matrix(.6824 0 0 .1275 1750.43 1978.57)">K</text><text transform="matrix(.7223 0 0 .1363 1750.1 1960.38)">E</text><text transform="matrix(.5342 0 0 .0174 1886.64 1996.58)">M</text><text transform="matrix(.5997 0 0 .0195 1888.01 1994.38)">G</text><text transform="matrix(.5852 0 0 .2726 1886.22 1990.59)">M</text><text transform="matrix(.6594 0 0 1.8851 1885.62 1969.24)">R</text><text transform="matrix(.2948 0 0 .0222 1933.61 1994.49)">E</text><text transform="matrix(.6486 0 0 .0291 1930.7 1988.5)">L</text><text transform="matrix(.4532 0 0 .0326 1932.31 1984.85)">M</text><text transform="matrix(.5489 0 0 .0511 1931.52 1980.77)">H</text><text transform="matrix(.6824 0 0 .2575 1930.43 1974.96)">K</text><text transform="matrix(.4046 0 0 .022 1977.71 1992.11)">D</text><text transform="matrix(.5997 0 0 .0243 1978.01 1989.33)">G</text><text transform="matrix(.5948 0 0 .0309 1980.76 1982.73)">V</text><text transform="matrix(.6801 0 0 .1325 1977.94 1977.44)">S</text><text transform="matrix(.7009 0 0 1.658 1975.28 1965.59)">N</text><text transform="matrix(.5904 0 0 .0125 2070.91 1998.66)">A</text><text transform="matrix(.6594 0 0 2.8087 2065.62 1995.8)">R</text><text transform="matrix(.832 0 0 .025 2109.2 1997.62)">L</text><text transform="matrix(.7356 0 0 .1048 2109.99 1986.38)">P</text><text transform="matrix(.8879 0 0 .4164 2108.74 1977.57)">L</text><text transform="matrix(.5852 0 0 1.9456 2111.22 1946.32)">M</text><text transform="matrix(.5377 0 0 .0174 2159.82 1996.58)">T</text><text transform="matrix(.6924 0 0 .0201 2159.47 1994.4)">T</text><text transform="matrix(.5852 0 0 .1048 2156.22 1991.59)">M</text><text transform="matrix(.7009 0 0 .212 2155.28 1982.78)">N</text><text transform="matrix(.661 0 0 1.8094 2155.6 1965.59)">D</text><text transform="matrix(.5997 0 0 .0306 2203.01 1987.99)">G</text><text transform="matrix(.5904 0 0 .1275 2205.91 1983.78)">A</text><text transform="matrix(.5904 0 0 .12 2205.91 1974.4)">A</text><text transform="matrix(.7223 0 0 .7192 2200.1 1964.55)">E</text><text transform="matrix(.3448 0 0 .0174 2248.2 1996.58)">E</text><text transform="matrix(.6801 0 0 .0195 2247.94 1994.38)">S</text><text transform="matrix(.5904 0 0 .0973 2250.91 1991.59)">A</text><text transform="matrix(.5948 0 0 .6133 2250.76 1983.3)">V</text><text transform="matrix(.7009 0 0 3.2629 2290.28 1998.4)">N</text><text transform="matrix(.5997 0 0 .0203 2338.01 1994.47)">G</text><text transform="matrix(.2615 0 0 .0274 2338.88 1988.86)">M</text><text transform="matrix(.6924 0 0 .0339 2339.47 1981.6)">T</text><text transform="matrix(.8879 0 0 .0527 2333.74 1977.36)">L</text><text transform="matrix(.7223 0 0 .0573 2335.1 1972.71)">E</text><text transform="matrix(.7356 0 0 .0619 2334.99 1967.66)">P</text><text transform="matrix(.6594 0 0 .7798 2335.62 1960.9)">R</text><text transform="matrix(.7009 0 0 .025 2380.28 1997.62)">H</text><text transform="matrix(.801 0 0 .3407 2379.45 1993.19)">F</text><text transform="matrix(.6284 0 0 2.5286 2384.64 1967.15)">Y</text><text transform="matrix(.243 0 0 .0146 2429.8 1998.44)">G</text><text transform="matrix(.8879 0 0 2.3166 2423.74 1995.28)">L</text><text transform="matrix(.3297 0 0 .024 2473.32 1994.49)">P</text><text transform="matrix(.6824 0 0 .0315 2470.43 1988.02)">K</text><text transform="matrix(.8879 0 0 .1666 2468.74 1982.78)">L</text><text transform="matrix(.5948 0 0 .1136 2475.76 1968.71)">V</text><text transform="matrix(.7009 0 0 .1363 2470.28 1958.3)">H</text><text transform="matrix(.661 0 0 .265 2470.6 1946.32)">D</text><text transform="matrix(.4183 0 0 1.2719 2475.84 1925.49)">W</text><text transform="matrix(.4754 0 0 .0211 2519.96 1994.49)">T</text><text transform="matrix(.5997 0 0 .0237 2518.01 1991.83)">G</text><text transform="matrix(.6284 0 0 .0277 2519.64 1988.8)">Y</text><text transform="matrix(.5948 0 0 .0309 2520.76 1985.34)">V</text><text transform="matrix(.7356 0 0 .1363 2514.99 1980.17)">P</text><text transform="matrix(.661 0 0 .1351 2515.6 1969.19)">D</text><text transform="matrix(.7223 0 0 .2726 2515.1 1958.3)">E</text><text transform="matrix(.2991 0 0 .0125 2563.57 1998.66)">M</text><text transform="matrix(.5948 0 0 .1048 2565.76 1996.8)">V</text><text transform="matrix(.8879 0 0 1.5141 2558.74 1972.36)">L</text><text transform="matrix(.1006 0 0 .0227 2714.15 1994.49)">N</text><text transform="matrix(.1813 0 0 .0263 2713.49 1991.65)">L</text><text transform="matrix(.2114 0 0 .0298 2713.24 1988.37)">P</text><text transform="matrix(.1954 0 0 .0324 2714.09 1984.61)">S</text><text transform="matrix(.199 0 0 .0522 2714.53 1980.47)">T</text><text transform="matrix(.2076 0 0 .0572 2713.27 1975.87)">E</text><text transform="matrix(.1682 0 0 .0622 2713.6 1970.82)">M</text><text transform="matrix(.6824 0 0 .025 2740.43 1989.35)">K</text><text transform="matrix(.6801 0 0 .0272 2742.94 1986.2)">S</text><text transform="matrix(.5948 0 0 .0309 2745.76 1982.73)">V</text><text transform="matrix(.7223 0 0 .1048 2740.1 1978.57)">E</text><text transform="matrix(.6594 0 0 .1048 2740.62 1970.76)">R</text><text transform="matrix(.6824 0 0 .3634 2740.43 1961.94)">K</text><text transform="matrix(.4049 0 0 .0191 2790.95 1994.49)">A</text><text transform="matrix(.3026 0 0 .022 2790.97 1992.11)">A</text><text transform="matrix(.5852 0 0 .025 2786.22 1989.35)">M</text><text transform="matrix(.7009 0 0 .0279 2785.28 1986.23)">N</text><text transform="matrix(.5997 0 0 .03 2788.01 1982.7)">G</text><text transform="matrix(.6801 0 0 .1251 2787.94 1977.45)">S</text><text transform="matrix(.7009 0 0 .4089 2785.28 1966.11)">H</text><text transform="matrix(.7009 0 0 .5073 2785.28 1935.38)">N</text><text transform="matrix(.5997 0 0 .0194 3463.01 1994.47)">G</text><text transform="matrix(.8879 0 0 .1136 3458.74 1972.36)">L</text><text transform="matrix(.7356 0 0 1.1508 3459.99 1961.94)">P</text><text transform="matrix(.6063 0 0 .02 401.05 2286.16)">H</text><text transform="matrix(.6824 0 0 .0231 400.43 2283.66)">K</text><text transform="matrix(.7356 0 0 .0262 399.99 2280.77)">P</text><text transform="matrix(.6824 0 0 .0293 400.43 2277.49)">K</text><text transform="matrix(.5997 0 0 .0315 403.01 2273.79)">G</text><text transform="matrix(.5948 0 0 .0355 405.76 2269.77)">V</text><text transform="matrix(.5948 0 0 .159 405.76 2264.03)">V</text><text transform="matrix(.7356 0 0 .2877 399.99 2250.49)">P</text><text transform="matrix(.6924 0 0 .0232 1034.47 2287.2)">T</text><text transform="matrix(.6284 0 0 .0268 1034.64 2284.3)">Y</text><text transform="matrix(.5904 0 0 .1893 1035.91 2279.65)">A</text><text transform="matrix(.7223 0 0 .1363 1030.1 2264.03)">E</text><text transform="matrix(.7356 0 0 .1439 1029.99 2252.05)">P</text><text transform="matrix(.638 0 0 .025 1075.79 2289.29)">P</text><text transform="matrix(.7009 0 0 3.7095 1075.28 2284.86)">H</text><text transform="matrix(.6924 0 0 .0201 1124.47 2286.07)">T</text><text transform="matrix(.661 0 0 .1666 1120.6 2282.26)">D</text><text transform="matrix(.5948 0 0 1.1053 1125.76 2253.09)">V</text><text transform="matrix(.3574 0 0 .02 1168.09 2289.7)">D</text><text transform="matrix(.7009 0 0 3.0282 1165.28 2285.9)">N</text><text transform="matrix(.801 0 0 3.3689 1209.45 2290.07)">F</text></g>
<g fill="#f00"><text transform="matrix(.6182 0 0 .1251 492.89 530.57)">C</text><text transform="matrix(.6182 0 0 4.1564 1077.89 536.01)">C</text><text transform="matrix(.6182 0 0 4.1564 1257.89 536.01)">C</text><text transform="matrix(.6182 0 0 4.1564 1392.89 536.01)">C</text><text transform="matrix(.6182 0 0 .1398 1347.89 821.18)">C</text><text transform="matrix(.6182 0 0 .1092 2472.89 817)">C</text><text transform="matrix(.6182 0 0 .0798 2742.89 824.84)">C</text><text transform="matrix(.6182 0 0 .0651 3102.89 827.46)">C</text><text transform="matrix(.6182 0 0 .1104 132.89 1092.56)">C</text><text transform="matrix(.6182 0 0 1.6405 2292.89 1058.26)">C</text><text transform="matrix(.6182 0 0 .3384 1077.89 1376.72)">C</text><text transform="matrix(.6182 0 0 4.1564 1752.89 1702.68)">C</text><text transform="matrix(.6182 0 0 4.1564 2607.89 1702.68)">C</text><text transform="matrix(.6182 0 0 .1619 3642.89 1688.35)">C</text><text transform="matrix(.6182 0 0 4.1711 1842.89 1994.33)">C</text><text transform="matrix(.6182 0 0 4.1711 2022.89 1994.33)">C</text></g>
</g>
<g font-family="'Liberation Mono',monospace" font-weight="normal" font-size="100" fill="#000"><text transform="matrix(.555 0 0 .0235 2290.55 244.49)">I</text><text transform="matrix(.9742 0 0 .0575 2466.42 229.72)">I</text><svg x="2521.03" y="95.79" width="39.15" height="10.45"><text transform="matrix(.9742 0 0 1.3719 -9.61 90.37)">I</text></svg><svg x="2521.03" y="204.1" width="39.15" height="10.45"><text transform="matrix(.9742 0 0 1.3719 -9.61 10.45)">I</text></svg><svg x="2537.96" y="105.74" width="5.29" height="98.85"><text transform="matrix(.5667 0 0 2.9574 -14.33 146.9)">I</text></svg><svg x="2791.03" y="224.96" width="39.15" height=".69"><text transform="matrix(.9742 0 0 .0903 -9.61 5.95)">I</text></svg><svg x="2791.03" y="232.09" width="39.15" height=".69"><text transform="matrix(.9742 0 0 .0903 -9.61 .69)">I</text></svg><svg x="2807.96" y="225.15" width="5.29" height="7.44"><text transform="matrix(.5667 0 0 .1947 -14.33 10.14)">I</text></svg><svg x="2791.03" y="215.63" width="39.15" height=".68"><text transform="matrix(.9742 0 0 .0893 -9.61 5.88)">I</text></svg><svg x="2791.03" y="222.68" width="39.15" height=".68"><text transform="matrix(.9742 0 0 .0893 -9.61 .68)">I</text></svg><svg x="2807.96" y="215.81" width="5.29" height="7.37"><text transform="matrix(.5667 0 0 .1926 -14.33 10.03)">I</text></svg><svg x="2791.03" y="174.44" width="39.15" height="2.11"><text transform="matrix(.9742 0 0 .2768 -9.61 18.23)">I</text></svg><svg x="2791.03" y="196.29" width="39.15" height="2.11"><text transform="matrix(.9742 0 0 .2768 -9.61 2.11)">I</text></svg><svg x="2807.96" y="176.05" width="5.29" height="20.74"><text transform="matrix(.5667 0 0 .5968 -14.33 30.04)">I</text></svg><svg x="2836.03" y="231.77" width="39.15" height=".63"><text transform="matrix(.9742 0 0 .0833 -9.61 5.49)">I</text></svg><svg x="2836.03" y="238.35" width="39.15" height=".63"><text transform="matrix(.9742 0 0 .0833 -9.61 .63)">I</text></svg><svg x="2852.96" y="231.91" width="5.29" height="6.94"><text transform="matrix(.5667 0 0 .1796 -14.33 9.39)">I</text></svg><text transform="matrix(.9742 0 0 .0217 3231.42 242.24)">I</text><text transform="matrix(.3359 0 0 .0261 370.54 531.02)">I</text><text transform="matrix(.3359 0 0 .0292 370.54 527.89)">I</text><svg x="496.03" y="417.67" width="39.15" height="5.59"><text transform="matrix(.9742 0 0 .7341 -9.61 48.36)">I</text></svg><svg x="496.03" y="475.62" width="39.15" height="5.59"><text transform="matrix(.9742 0 0 .7341 -9.61 5.59)">I</text></svg><svg x="512.96" y="422.76" width="5.29" height="53.36"><text transform="matrix(.5667 0 0 1.5825 -14.33 78.84)">I</text></svg><svg x="631.02" y="396.31" width="39.15" height="8.89"><text transform="matrix(.9742 0 0 1.1674 -9.61 76.89)">I</text></svg><svg x="631.02" y="488.47" width="39.15" height="8.89"><text transform="matrix(.9742 0 0 1.1674 -9.61 8.89)">I</text></svg><svg x="647.96" y="404.71" width="5.29" height="84.26"><text transform="matrix(.5667 0 0 2.5164 -14.33 125.07)">I</text></svg><svg x="721.02" y="504.13" width="39.15" height="1.24"><text transform="matrix(.9742 0 0 .1625 -9.61 10.7)">I</text></svg><svg x="721.02" y="516.95" width="39.15" height="1.24"><text transform="matrix(.9742 0 0 .1625 -9.61 1.24)">I</text></svg><svg x="737.96" y="504.86" width="5.29" height="12.59"><text transform="matrix(.5667 0 0 .3503 -14.33 17.84)">I</text></svg><svg x="811.02" y="417.67" width="39.15" height="6.46"><text transform="matrix(.9742 0 0 .8485 -9.61 55.89)">I</text></svg><svg x="811.02" y="484.65" width="39.15" height="6.46"><text transform="matrix(.9742 0 0 .8485 -9.61 6.46)">I</text></svg><svg x="827.96" y="423.63" width="5.29" height="61.52"><text transform="matrix(.5667 0 0 1.829 -14.33 91.04)">I</text></svg><svg x="1306.02" y="521.83" width="39.15" height=".69"><text transform="matrix(.9742 0 0 .0903 -9.61 5.95)">I</text></svg><svg x="1306.02" y="528.96" width="39.15" height=".69"><text transform="matrix(.9742 0 0 .0903 -9.61 .69)">I</text></svg><svg x="1322.96" y="522.02" width="5.29" height="7.44"><text transform="matrix(.5667 0 0 .1947 -14.33 10.14)">I</text></svg><svg x="1621.02" y="432.77" width="39.15" height="3.12"><text transform="matrix(.9742 0 0 .4092 -9.61 26.95)">I</text></svg><svg x="1621.02" y="465.08" width="39.15" height="3.12"><text transform="matrix(.9742 0 0 .4092 -9.61 3.12)">I</text></svg><svg x="1637.96" y="435.39" width="5.29" height="30.19"><text transform="matrix(.5667 0 0 .8821 -14.33 44.17)">I</text></svg><text transform="matrix(.9742 0 0 .0344 2241.42 523.64)">I</text><text transform="matrix(.9742 0 0 .058 2376.42 521.26)">I</text><text transform="matrix(.9742 0 0 .0323 2421.42 527.01)">I</text><svg x="2656.03" y="477.56" width="39.15" height="1.19"><text transform="matrix(.9742 0 0 .1565 -9.61 10.31)">I</text></svg><svg x="2656.03" y="489.92" width="39.15" height="1.19"><text transform="matrix(.9742 0 0 .1565 -9.61 1.19)">I</text></svg><svg x="2672.96" y="478.26" width="5.29" height="12.16"><text transform="matrix(.5667 0 0 .3373 -14.33 17.2)">I</text></svg><svg x="2881.03" y="502.56" width="39.15" height="1.97"><text transform="matrix(.9742 0 0 .2588 -9.61 17.05)">I</text></svg><svg x="2881.03" y="522.99" width="39.15" height="1.97"><text transform="matrix(.9742 0 0 .2588 -9.61 1.97)">I</text></svg><svg x="2897.96" y="504.03" width="5.29" height="19.46"><text transform="matrix(.5667 0 0 .5578 -14.33 28.11)">I</text></svg><svg x="3016.03" y="523.92" width="39.15" height=".87"><text transform="matrix(.9742 0 0 .1144 -9.61 7.53)">I</text></svg><svg x="3016.03" y="532.95" width="39.15" height=".87"><text transform="matrix(.9742 0 0 .1144 -9.61 .87)">I</text></svg><svg x="3032.96" y="524.29" width="5.29" height="9.16"><text transform="matrix(.5667 0 0 .2465 -14.33 12.7)">I</text></svg><svg x="3601.03" y="528.65" width="39.15" height=".63"><text transform="matrix(.9742 0 0 .0833 -9.61 5.49)">I</text></svg><svg x="3601.03" y="535.22" width="39.15" height=".63"><text transform="matrix(.9742 0 0 .0833 -9.61 .63)">I</text></svg><svg x="3617.96" y="528.78" width="5.29" height="6.94"><text transform="matrix(.5667 0 0 .1796 -14.33 9.39)">I</text></svg><svg x="136.03" y="709.33" width="39.15" height="5.73"><text transform="matrix(.9742 0 0 .7522 -9.61 49.55)">I</text></svg><svg x="136.03" y="768.71" width="39.15" height="5.73"><text transform="matrix(.9742 0 0 .7522 -9.61 5.73)">I</text></svg><svg x="152.96" y="714.56" width="5.29" height="54.65"><text transform="matrix(.5667 0 0 1.6214 -14.33 80.77)">I</text></svg><text transform="matrix(.9742 0 0 .0182 216.42 829.91)">I</text><svg x="1036.02" y="727.56" width="39.15" height="4.45"><text transform="matrix(.9742 0 0 .5837 -9.61 38.45)">I</text></svg><svg x="1036.02" y="773.64" width="39.15" height="4.45"><text transform="matrix(.9742 0 0 .5837 -9.61 4.45)">I</text></svg><svg x="1052.96" y="731.51" width="5.29" height="42.63"><text transform="matrix(.5667 0 0 1.2582 -14.33 62.79)">I</text></svg><text transform="matrix(.4081 0 0 .0255 1077 825.19)">I</text><svg x="1171.02" y="711.94" width="39.15" height="6.19"><text transform="matrix(.9742 0 0 .8124 -9.61 53.51)">I</text></svg><svg x="1171.02" y="776.07" width="39.15" height="6.19"><text transform="matrix(.9742 0 0 .8124 -9.61 6.19)">I</text></svg><svg x="1187.96" y="717.63" width="5.29" height="58.94"><text transform="matrix(.5667 0 0 1.7511 -14.33 87.19)">I</text></svg><svg x="1216.02" y="728.61" width="39.15" height="3.85"><text transform="matrix(.9742 0 0 .5055 -9.61 33.3)">I</text></svg><svg x="1216.02" y="768.51" width="39.15" height="3.85"><text transform="matrix(.9742 0 0 .5055 -9.61 3.85)">I</text></svg><svg x="1232.96" y="731.96" width="5.29" height="37.05"><text transform="matrix(.5667 0 0 1.0896 -14.33 54.44)">I</text></svg><text transform="matrix(.9742 0 0 .028 1521.42 825.97)">I</text><svg x="1621.02" y="680.17" width="39.15" height="10.4"><text transform="matrix(.9742 0 0 1.3659 -9.61 89.97)">I</text></svg><svg x="1621.02" y="788" width="39.15" height="10.4"><text transform="matrix(.9742 0 0 1.3659 -9.61 10.4)">I</text></svg><svg x="1637.96" y="690.07" width="5.29" height="98.42"><text transform="matrix(.5667 0 0 2.9444 -14.33 146.26)">I</text></svg><svg x="1801.02" y="789.02" width="39.15" height="2.15"><text transform="matrix(.9742 0 0 .2828 -9.61 18.63)">I</text></svg><svg x="1801.02" y="811.35" width="39.15" height="2.15"><text transform="matrix(.9742 0 0 .2828 -9.61 2.15)">I</text></svg><svg x="1817.96" y="790.68" width="5.29" height="21.17"><text transform="matrix(.5667 0 0 .6097 -14.33 30.68)">I</text></svg><text transform="matrix(.9138 0 0 .022 2287.01 827.83)">I</text><svg x="2341.03" y="792.15" width="39.15" height=".83"><text transform="matrix(.9742 0 0 .1084 -9.61 7.14)">I</text></svg><svg x="2341.03" y="800.7" width="39.15" height=".83"><text transform="matrix(.9742 0 0 .1084 -9.61 .83)">I</text></svg><svg x="2357.96" y="792.47" width="5.29" height="8.73"><text transform="matrix(.5667 0 0 .2336 -14.33 12.06)">I</text></svg><svg x="2476.03" y="766.63" width="39.15" height="1.7"><text transform="matrix(.9742 0 0 .2227 -9.61 14.67)">I</text></svg><svg x="2476.03" y="784.2" width="39.15" height="1.7"><text transform="matrix(.9742 0 0 .2227 -9.61 1.7)">I</text></svg><svg x="2492.96" y="767.82" width="5.29" height="16.88"><text transform="matrix(.5667 0 0 .48 -14.33 24.26)">I</text></svg><svg x="2746.03" y="811.46" width="39.15" height=".63"><text transform="matrix(.9742 0 0 .0833 -9.61 5.49)">I</text></svg><svg x="2746.03" y="818.04" width="39.15" height=".63"><text transform="matrix(.9742 0 0 .0833 -9.61 .63)">I</text></svg><svg x="2762.96" y="811.59" width="5.29" height="6.94"><text transform="matrix(.5667 0 0 .1796 -14.33 9.39)">I</text></svg><svg x="2926.03" y="695.79" width="39.15" height="8.39"><text transform="matrix(.9742 0 0 1.1012 -9.61 72.53)">I</text></svg><svg x="2926.03" y="782.72" width="39.15" height="8.39"><text transform="matrix(.9742 0 0 1.1012 -9.61 8.39)">I</text></svg><svg x="2942.96" y="703.68" width="5.29" height="79.54"><text transform="matrix(.5667 0 0 2.3737 -14.33 118.01)">I</text></svg><svg x="3106.03" y="735.9" width="39.15" height="2.89"><text transform="matrix(.9742 0 0 .3791 -9.61 24.97)">I</text></svg><svg x="3106.03" y="765.83" width="39.15" height="2.89"><text transform="matrix(.9742 0 0 .3791 -9.61 2.89)">I</text></svg><svg x="3122.96" y="738.28" width="5.29" height="28.04"><text transform="matrix(.5667 0 0 .8173 -14.33 40.96)">I</text></svg><text transform="matrix(.9742 0 0 .021 3231.42 827.73)">I</text><text transform="matrix(.4329 0 0 .0266 3281.76 828.45)">I</text><text transform="matrix(.9742 0 0 .0251 3546.42 827.83)">I</text><svg x="3601.03" y="684.33" width="39.15" height="8.98"><text transform="matrix(.9742 0 0 1.1794 -9.61 77.69)">I</text></svg><svg x="3601.03" y="777.44" width="39.15" height="8.98"><text transform="matrix(.9742 0 0 1.1794 -9.61 8.98)">I</text></svg><svg x="3617.96" y="692.82" width="5.29" height="85.12"><text transform="matrix(.5667 0 0 2.5423 -14.33 126.35)">I</text></svg><svg x="1216.02" y="1043.19" width="39.15" height="2.34"><text transform="matrix(.9742 0 0 .3069 -9.61 20.22)">I</text></svg><svg x="1216.02" y="1067.42" width="39.15" height="2.34"><text transform="matrix(.9742 0 0 .3069 -9.61 2.34)">I</text></svg><svg x="1232.96" y="1045.03" width="5.29" height="22.89"><text transform="matrix(.5667 0 0 .6616 -14.33 33.25)">I</text></svg><svg x="1351.02" y="1074.44" width="39.15" height="2.34"><text transform="matrix(.9742 0 0 .3069 -9.61 20.22)">I</text></svg><svg x="1351.02" y="1098.67" width="39.15" height="2.34"><text transform="matrix(.9742 0 0 .3069 -9.61 2.34)">I</text></svg><svg x="1367.96" y="1076.28" width="5.29" height="22.89"><text transform="matrix(.5667 0 0 .6616 -14.33 33.25)">I</text></svg><svg x="1621.02" y="1061.94" width="39.15" height="1.56"><text transform="matrix(.9742 0 0 .2046 -9.61 13.48)">I</text></svg><svg x="1621.02" y="1078.09" width="39.15" height="1.56"><text transform="matrix(.9742 0 0 .2046 -9.61 1.56)">I</text></svg><svg x="1637.96" y="1063" width="5.29" height="15.59"><text transform="matrix(.5667 0 0 .4411 -14.33 22.34)">I</text></svg><svg x="2386.03" y="1071.83" width="39.15" height="3.71"><text transform="matrix(.9742 0 0 .4874 -9.61 32.11)">I</text></svg><svg x="2386.03" y="1110.31" width="39.15" height="3.71"><text transform="matrix(.9742 0 0 .4874 -9.61 3.71)">I</text></svg><svg x="2402.96" y="1075.05" width="5.29" height="35.77"><text transform="matrix(.5667 0 0 1.0507 -14.33 52.51)">I</text></svg><svg x="2566.03" y="1070.27" width="39.15" height="1.93"><text transform="matrix(.9742 0 0 .2528 -9.61 16.65)">I</text></svg><svg x="2566.03" y="1090.23" width="39.15" height="1.93"><text transform="matrix(.9742 0 0 .2528 -9.61 1.93)">I</text></svg><svg x="2582.96" y="1071.7" width="5.29" height="19.03"><text transform="matrix(.5667 0 0 .5449 -14.33 27.47)">I</text></svg><svg x="2611.03" y="1108.81" width="39.15" height=".83"><text transform="matrix(.9742 0 0 .1084 -9.61 7.14)">I</text></svg><svg x="2611.03" y="1117.37" width="39.15" height=".83"><text transform="matrix(.9742 0 0 .1084 -9.61 .83)">I</text></svg><svg x="2627.96" y="1109.14" width="5.29" height="8.73"><text transform="matrix(.5667 0 0 .2336 -14.33 12.06)">I</text></svg><svg x="2701.03" y="1104.65" width="39.15" height=".96"><text transform="matrix(.9742 0 0 .1264 -9.61 8.33)">I</text></svg><svg x="2701.03" y="1114.63" width="39.15" height=".96"><text transform="matrix(.9742 0 0 .1264 -9.61 .96)">I</text></svg><svg x="2717.96" y="1105.11" width="5.29" height="10.02"><text transform="matrix(.5667 0 0 .2725 -14.33 13.99)">I</text></svg><svg x="766.02" y="1378.08" width="39.15" height="1.28"><text transform="matrix(.9742 0 0 .1685 -9.61 11.1)">I</text></svg><svg x="766.02" y="1391.39" width="39.15" height="1.28"><text transform="matrix(.9742 0 0 .1685 -9.61 1.28)">I</text></svg><svg x="782.96" y="1378.87" width="5.29" height="13.02"><text transform="matrix(.5667 0 0 .3633 -14.33 18.48)">I</text></svg><text transform="matrix(.9742 0 0 .0251 801.42 1411.16)">I</text><svg x="1036.02" y="1356.73" width="39.15" height="1.24"><text transform="matrix(.9742 0 0 .1625 -9.61 10.7)">I</text></svg><svg x="1036.02" y="1369.56" width="39.15" height="1.24"><text transform="matrix(.9742 0 0 .1625 -9.61 1.24)">I</text></svg><svg x="1052.96" y="1357.47" width="5.29" height="12.59"><text transform="matrix(.5667 0 0 .3503 -14.33 17.84)">I</text></svg><svg x="1261.02" y="1303.61" width="39.15" height="6.19"><text transform="matrix(.9742 0 0 .8124 -9.61 53.51)">I</text></svg><svg x="1261.02" y="1367.73" width="39.15" height="6.19"><text transform="matrix(.9742 0 0 .8124 -9.61 6.19)">I</text></svg><svg x="1277.96" y="1309.29" width="5.29" height="58.94"><text transform="matrix(.5667 0 0 1.7511 -14.33 87.19)">I</text></svg><text transform="matrix(.9742 0 0 .0247 1476.42 1406.3)">I</text><svg x="1531.02" y="1396.83" width="39.15" height=".69"><text transform="matrix(.9742 0 0 .0903 -9.61 5.95)">I</text></svg><svg x="1531.02" y="1403.96" width="39.15" height=".69"><text transform="matrix(.9742 0 0 .0903 -9.61 .69)">I</text></svg><svg x="1547.96" y="1397.02" width="5.29" height="7.44"><text transform="matrix(.5667 0 0 .1947 -14.33 10.14)">I</text></svg><svg x="1576.02" y="1283.81" width="39.15" height="5.68"><text transform="matrix(.9742 0 0 .7462 -9.61 49.15)">I</text></svg><svg x="1576.02" y="1342.72" width="39.15" height="5.68"><text transform="matrix(.9742 0 0 .7462 -9.61 5.68)">I</text></svg><svg x="1592.96" y="1289" width="5.29" height="54.22"><text transform="matrix(.5667 0 0 1.6085 -14.33 80.12)">I</text></svg><text transform="matrix(.6758 0 0 .0182 1659.36 1413.24)">I</text><text transform="matrix(.6719 0 0 .0592 2340.47 1392.72)">I</text><text transform="matrix(.9742 0 0 .0255 2376.42 1408.52)">I</text><svg x="2521.03" y="1328.61" width="39.15" height="3.07"><text transform="matrix(.9742 0 0 .4032 -9.61 26.56)">I</text></svg><svg x="2521.03" y="1360.43" width="39.15" height="3.07"><text transform="matrix(.9742 0 0 .4032 -9.61 3.07)">I</text></svg><svg x="2537.96" y="1331.18" width="5.29" height="29.76"><text transform="matrix(.5667 0 0 .8691 -14.33 43.52)">I</text></svg><text transform="matrix(.7024 0 0 .0232 3459.1 1411.16)">I</text><text transform="matrix(.9742 0 0 .0306 3546.42 1402.49)">I</text><text transform="matrix(.9742 0 0 .0251 261.42 1702.83)">I</text><text transform="matrix(.9742 0 0 .0292 351.42 1694.56)">I</text><text transform="matrix(.9742 0 0 .0247 486.42 1697.97)">I</text><svg x="541.02" y="1673.92" width="39.15" height="1.97"><text transform="matrix(.9742 0 0 .2588 -9.61 17.05)">I</text></svg><svg x="541.02" y="1694.35" width="39.15" height="1.97"><text transform="matrix(.9742 0 0 .2588 -9.61 1.97)">I</text></svg><svg x="557.96" y="1675.39" width="5.29" height="19.46"><text transform="matrix(.5667 0 0 .5578 -14.33 28.11)">I</text></svg><svg x="586.02" y="1586.94" width="39.15" height="5.59"><text transform="matrix(.9742 0 0 .7341 -9.61 48.36)">I</text></svg><svg x="586.02" y="1644.89" width="39.15" height="5.59"><text transform="matrix(.9742 0 0 .7341 -9.61 5.59)">I</text></svg><svg x="602.96" y="1592.03" width="5.29" height="53.36"><text transform="matrix(.5667 0 0 1.5825 -14.33 78.84)">I</text></svg><text transform="matrix(.9742 0 0 .0289 756.42 1697.14)">I</text><svg x="856.02" y="1676.52" width="39.15" height="1.24"><text transform="matrix(.9742 0 0 .1625 -9.61 10.7)">I</text></svg><svg x="856.02" y="1689.35" width="39.15" height="1.24"><text transform="matrix(.9742 0 0 .1625 -9.61 1.24)">I</text></svg><svg x="872.96" y="1677.26" width="5.29" height="12.59"><text transform="matrix(.5667 0 0 .3503 -14.33 17.84)">I</text></svg><text transform="matrix(.715 0 0 .0292 1163.97 1694.56)">I</text><text transform="matrix(.9742 0 0 .0278 1566.42 1697.36)">I</text><svg x="2071.03" y="1652.04" width="39.15" height="1.7"><text transform="matrix(.9742 0 0 .2227 -9.61 14.67)">I</text></svg><svg x="2071.03" y="1669.62" width="39.15" height="1.7"><text transform="matrix(.9742 0 0 .2227 -9.61 1.7)">I</text></svg><svg x="2087.96" y="1653.24" width="5.29" height="16.88"><text transform="matrix(.5667 0 0 .48 -14.33 24.26)">I</text></svg><svg x="2206.03" y="1574.44" width="39.15" height="7.2"><text transform="matrix(.9742 0 0 .9447 -9.61 62.23)">I</text></svg><svg x="2206.03" y="1649.02" width="39.15" height="7.2"><text transform="matrix(.9742 0 0 .9447 -9.61 7.2)">I</text></svg><svg x="2222.96" y="1581.14" width="5.29" height="68.38"><text transform="matrix(.5667 0 0 2.0365 -14.33 101.31)">I</text></svg><svg x="2476.03" y="1687.46" width="39.15" height="1.01"><text transform="matrix(.9742 0 0 .1324 -9.61 8.72)">I</text></svg><svg x="2476.03" y="1697.91" width="39.15" height="1.01"><text transform="matrix(.9742 0 0 .1324 -9.61 1.01)">I</text></svg><svg x="2492.96" y="1687.97" width="5.29" height="10.45"><text transform="matrix(.5667 0 0 .2855 -14.33 14.63)">I</text></svg><text transform="matrix(.9742 0 0 .0329 2646.42 1696.35)">I</text><text transform="matrix(.9742 0 0 .0541 3186.42 1679.61)">I</text><svg x="226.03" y="1848.4" width="39.15" height="9.53"><text transform="matrix(.9742 0 0 1.2516 -9.61 82.44)">I</text></svg><svg x="226.03" y="1947.2" width="39.15" height="9.53"><text transform="matrix(.9742 0 0 1.2516 -9.61 9.53)">I</text></svg><svg x="242.96" y="1857.43" width="5.29" height="90.27"><text transform="matrix(.5667 0 0 2.698 -14.33 134.06)">I</text></svg><text transform="matrix(.9742 0 0 .0323 486.42 1982.73)">I</text><text transform="matrix(.9742 0 0 .0274 531.42 1989.1)">I</text><svg x="586.02" y="1820.27" width="39.15" height="13.84"><text transform="matrix(.9742 0 0 1.8172 -9.61 119.7)">I</text></svg><svg x="586.02" y="1963.73" width="39.15" height="13.84"><text transform="matrix(.9742 0 0 1.8172 -9.61 13.84)">I</text></svg><svg x="602.96" y="1833.62" width="5.29" height="130.61"><text transform="matrix(.5667 0 0 3.9172 -14.33 194.41)">I</text></svg><svg x="991.02" y="1978.61" width="39.15" height=".83"><text transform="matrix(.9742 0 0 .1084 -9.61 7.14)">I</text></svg><svg x="991.02" y="1987.16" width="39.15" height=".83"><text transform="matrix(.9742 0 0 .1084 -9.61 .83)">I</text></svg><svg x="1007.96" y="1978.93" width="5.29" height="8.73"><text transform="matrix(.5667 0 0 .2336 -14.33 12.06)">I</text></svg><svg x="1171.02" y="1958.29" width="39.15" height=".92"><text transform="matrix(.9742 0 0 .1204 -9.61 7.93)">I</text></svg><svg x="1171.02" y="1967.8" width="39.15" height=".92"><text transform="matrix(.9742 0 0 .1204 -9.61 .92)">I</text></svg><svg x="1187.96" y="1958.71" width="5.29" height="9.59"><text transform="matrix(.5667 0 0 .2595 -14.33 13.35)">I</text></svg><text transform="matrix(.9742 0 0 .0261 1251.42 1989.35)">I</text><text transform="matrix(.9742 0 0 .0247 1611.42 1989.64)">I</text><svg x="1666.02" y="1914.54" width="39.15" height="3.16"><text transform="matrix(.9742 0 0 .4152 -9.61 27.35)">I</text></svg><svg x="1666.02" y="1947.32" width="39.15" height="3.16"><text transform="matrix(.9742 0 0 .4152 -9.61 3.16)">I</text></svg><svg x="1682.96" y="1917.21" width="5.29" height="30.62"><text transform="matrix(.5667 0 0 .8951 -14.33 44.81)">I</text></svg><svg x="2116.03" y="1986.98" width="39.15" height=".63"><text transform="matrix(.9742 0 0 .0833 -9.61 5.49)">I</text></svg><svg x="2116.03" y="1993.56" width="39.15" height=".63"><text transform="matrix(.9742 0 0 .0833 -9.61 .63)">I</text></svg><svg x="2132.96" y="1987.12" width="5.29" height="6.94"><text transform="matrix(.5667 0 0 .1796 -14.33 9.39)">I</text></svg><svg x="2251.03" y="1875.48" width="39.15" height="5.55"><text transform="matrix(.9742 0 0 .7281 -9.61 47.96)">I</text></svg><svg x="2251.03" y="1932.96" width="39.15" height="5.55"><text transform="matrix(.9742 0 0 .7281 -9.61 5.55)">I</text></svg><svg x="2267.96" y="1880.53" width="5.29" height="52.93"><text transform="matrix(.5667 0 0 1.5695 -14.33 78.2)">I</text></svg><text transform="matrix(.9742 0 0 .0252 2331.42 1991.88)">I</text><text transform="matrix(.5942 0 0 .032 2335.16 1985.43)">I</text><svg x="2566.03" y="1974.96" width="39.15" height="1.15"><text transform="matrix(.9742 0 0 .1505 -9.61 9.91)">I</text></svg><svg x="2566.03" y="1986.84" width="39.15" height="1.15"><text transform="matrix(.9742 0 0 .1505 -9.61 1.15)">I</text></svg><svg x="2582.96" y="1975.61" width="5.29" height="11.73"><text transform="matrix(.5667 0 0 .3244 -14.33 16.56)">I</text></svg><svg x="1126.02" y="2255.69" width="39.15" height="1.1"><text transform="matrix(.9742 0 0 .1445 -9.61 9.52)">I</text></svg><svg x="1126.02" y="2267.09" width="39.15" height="1.1"><text transform="matrix(.9742 0 0 .1445 -9.61 1.1)">I</text></svg><svg x="1142.96" y="2256.29" width="5.29" height="11.3"><text transform="matrix(.5667 0 0 .3114 -14.33 15.92)">I</text></svg><svg x="1261.02" y="2090.59" width="39.15" height="17.28"><text transform="matrix(.9742 0 0 2.2685 -9.61 149.42)">I</text></svg><svg x="1261.02" y="2269.66" width="39.15" height="17.28"><text transform="matrix(.9742 0 0 2.2685 -9.61 17.28)">I</text></svg><svg x="1277.96" y="2107.37" width="5.29" height="162.8"><text transform="matrix(.5667 0 0 4.89 -14.33 242.57)">I</text></svg></g>
<g font-family="'DejaVu Sans',sans-serif" font-size="100" fill="#000"><text transform="matrix(.1 0 0 .026 2176.66 231.64)">Q</text><text transform="matrix(.4171 0 0 .0118 2518.68 248.3)">Q</text><text transform="matrix(.5802 0 0 .0175 2652.77 241.86)">Q</text><text transform="matrix(.5802 0 0 .0158 3012.77 244.29)">Q</text><text transform="matrix(.5802 0 0 .1854 3147.77 193.41)">Q</text><text transform="matrix(.5802 0 0 .0649 3237.77 228.77)">Q</text><text transform="matrix(.5802 0 0 .0264 3507.77 234.27)">Q</text><text transform="matrix(.2689 0 0 .0193 3644.52 241.6)">Q</text><text transform="matrix(.2001 0 0 .0249 237.73 529.36)">Q</text><text transform="matrix(.2201 0 0 .0708 281.94 514.11)">Q</text><text transform="matrix(.2201 0 0 .0948 326.94 522.66)">Q</text><text transform="matrix(.2001 0 0 .0174 372.73 533.55)">Q</text><text transform="matrix(.5802 0 0 .0233 537.77 533.29)">Q</text><text transform="matrix(.5802 0 0 .0212 672.77 534.03)">Q</text><text transform="matrix(.2647 0 0 .0197 764.54 539.03)">Q</text><text transform="matrix(.5802 0 0 .1615 1167.77 532.78)">Q</text><text transform="matrix(.407 0 0 .0197 1438.74 539.03)">Q</text><text transform="matrix(.5802 0 0 .1734 2247.77 506.58)">Q</text><text transform="matrix(.5802 0 0 .0257 2562.77 526.18)">Q</text><text transform="matrix(.4089 0 0 .0203 2743.73 533.11)">Q</text><text transform="matrix(.5802 0 0 .0187 1032.77 822.73)">Q</text><text transform="matrix(.3391 0 0 .019 1124.12 827.58)">Q</text><text transform="matrix(.4938 0 0 .0167 2383.25 827.61)">Q</text><text transform="matrix(.5802 0 0 .0218 2382.77 821.85)">Q</text><text transform="matrix(.2706 0 0 .019 2654.51 827.58)">Q</text><text transform="matrix(.5802 0 0 .0187 2787.77 822.73)">Q</text><text transform="matrix(.5802 0 0 .311 3687.77 797.52)">Q</text><text transform="matrix(.5802 0 0 .0219 1977.77 1116.2)">Q</text><text transform="matrix(.5802 0 0 .0187 2292.77 1114.39)">Q</text><svg x="2520.03" y="901.56" width="41.15" height="221.84"><text transform="matrix(.5802 0 0 2.7328 -2.26 203.82)">Q</text></svg><text transform="matrix(.5802 0 0 .1495 3417.77 1121.47)">Q</text><text transform="matrix(.5802 0 0 .0828 672.77 1386.36)">Q</text><text transform="matrix(.3258 0 0 .0137 1079.2 1413.07)">Q</text><text transform="matrix(.1334 0 0 .0212 1230.35 1409.03)">Q</text><text transform="matrix(.5802 0 0 .0249 1797.77 1404.36)">Q</text><svg x="1800.02" y="1260.42" width="41.15" height="115.59"><text transform="matrix(.5802 0 0 1.418 -2.26 106.24)">Q</text></svg><text transform="matrix(.5802 0 0 .1376 1842.77 1394.54)">Q</text><text transform="matrix(.5802 0 0 .0167 1887.77 1410.94)">Q</text><text transform="matrix(.5802 0 0 .0218 1932.77 1405.19)">Q</text><text transform="matrix(.5802 0 0 .1555 1932.77 1394.83)">Q</text><text transform="matrix(.5802 0 0 .0219 2427.77 1407.87)">Q</text><text transform="matrix(.5802 0 0 .0448 2877.77 1392.14)">Q</text><text transform="matrix(.5802 0 0 .0249 3417.77 1404.36)">Q</text><text transform="matrix(.5802 0 0 .0249 1077.77 1696.03)">Q</text><text transform="matrix(.5802 0 0 .023 1257.77 1696.53)">Q</text><text transform="matrix(.2474 0 0 .0193 1304.64 1699.94)">Q</text><text transform="matrix(.1334 0 0 .0475 1500.35 1679.32)">Q</text><text transform="matrix(.4001 0 0 .0897 1534.85 1689.95)">Q</text><text transform="matrix(.5802 0 0 .026 1572.77 1689.97)">Q</text><text transform="matrix(.3368 0 0 .019 1934.13 1702.58)">Q</text><text transform="matrix(.5802 0 0 .0828 2337.77 1683.23)">Q</text><text transform="matrix(.5802 0 0 .0218 2697.77 1696.85)">Q</text><text transform="matrix(.2621 0 0 .0244 3239.55 1690.75)">Q</text><text transform="matrix(.3783 0 0 .0218 3643.9 1696.85)">Q</text><text transform="matrix(.3284 0 0 .0099 179.18 1998.53)">Q</text><text transform="matrix(.5802 0 0 .0218 267.77 1988.52)">Q</text><text transform="matrix(.5802 0 0 .1077 312.77 1986.6)">Q</text><text transform="matrix(.5802 0 0 .1974 357.77 1947.94)">Q</text><text transform="matrix(.5802 0 0 .0151 402.77 1994.3)">Q</text><text transform="matrix(.5802 0 0 .0174 492.77 1991.88)">Q</text><text transform="matrix(.5802 0 0 .1435 492.77 1952.8)">Q</text><text transform="matrix(.5802 0 0 .0212 897.77 1992.36)">Q</text><text transform="matrix(.5802 0 0 .0649 897.77 1976.17)">Q</text><text transform="matrix(.5802 0 0 .0897 942.77 1976.41)">Q</text><text transform="matrix(.5802 0 0 .0828 1752.77 1968.13)">Q</text><text transform="matrix(.5802 0 0 .0219 2472.77 1991.21)">Q</text><text transform="matrix(.5802 0 0 .0151 2742.77 1994.3)">Q</text><text transform="matrix(.5802 0 0 .0174 2742.77 1991.88)">Q</text><text transform="matrix(.5802 0 0 .0137 1122.77 2288.07)">Q</text><text transform="matrix(.4085 0 0 .0118 1258.73 2289.97)">Q</text></g>
<g fill="#000" shape-rendering="crispEdges"><rect x="155.9" y="160.12" width="1.2" height="86.78"/><rect x="200.9" y="165.33" width="1.2" height="81.57"/><rect x="245.9" y="160.12" width="1.2" height="86.78"/><rect x="290.9" y="171.05" width="1.2" height="75.85"/><rect x="335.9" y="165.33" width="1.2" height="81.57"/><rect x="380.9" y="173.14" width="1.2" height="73.76"/><rect x="425.9" y="170.01" width="1.2" height="76.89"/><rect x="470.9" y="159.08" width="1.2" height="87.82"/><rect x="515.9" y="171.05" width="1.2" height="75.85"/><rect x="560.9" y="160.12" width="1.2" height="86.78"/><rect x="605.9" y="171.05" width="1.2" height="75.85"/><rect x="650.9" y="170.01" width="1.2" height="76.89"/><rect x="695.9" y="171.05" width="1.2" height="75.85"/><rect x="740.9" y="170.01" width="1.2" height="76.89"/><rect x="785.9" y="168.97" width="1.2" height="77.93"/><rect x="830.9" y="170.01" width="1.2" height="76.89"/><rect x="875.9" y="171.58" width="1.2" height="75.32"/><rect x="920.9" y="171.05" width="1.2" height="75.85"/><rect x="965.9" y="170.01" width="1.2" height="76.89"/><rect x="1010.9" y="163.24" width="1.2" height="83.66"/><rect x="1055.9" y="165.33" width="1.2" height="81.57"/><rect x="1100.9" y="174.18" width="1.2" height="72.72"/><rect x="1145.9" y="171.05" width="1.2" height="75.85"/><rect x="1190.9" y="173.66" width="1.2" height="73.24"/><rect x="1235.9" y="174.7" width="1.2" height="72.2"/><rect x="1280.9" y="176.78" width="1.2" height="70.12"/><rect x="1325.9" y="174.7" width="1.2" height="72.2"/><rect x="1370.9" y="173.14" width="1.2" height="73.76"/><rect x="1415.9" y="174.18" width="1.2" height="72.72"/><rect x="1460.9" y="168.97" width="1.2" height="77.93"/><rect x="1505.85" y="179.39" width="1.3" height="67.51"/><rect x="1550.85" y="188.76" width="1.3" height="58.14"/><rect x="1595.85" y="187.2" width="1.3" height="59.7"/><rect x="1640.85" y="186.16" width="1.3" height="60.74"/><rect x="1685.85" y="189.28" width="1.3" height="57.62"/><rect x="1730.85" y="180.43" width="1.3" height="66.47"/><rect x="1775.85" y="186.16" width="1.3" height="60.74"/><rect x="1820.85" y="193.45" width="1.3" height="53.45"/><rect x="1865.85" y="195.01" width="1.3" height="51.89"/><rect x="1910.85" y="194.49" width="1.3" height="52.41"/><rect x="1955.4" y="179.39" width="2.2" height="67.51"/><rect x="2000.4" y="203.87" width="2.2" height="43.03"/><rect x="2045.4" y="192.41" width="2.2" height="54.49"/><rect x="2090.4" y="202.83" width="2.2" height="44.07"/><rect x="2135.4" y="195.53" width="2.2" height="51.37"/><rect x="2450.9" y="171.58" width="1.2" height="75.32"/><rect x="3305.9" y="166.37" width="1.2" height="80.53"/><rect x="3350.9" y="141.37" width="1.2" height="105.53"/><rect x="3395.9" y="155.43" width="1.2" height="91.47"/><rect x="3440.9" y="170.01" width="1.2" height="76.89"/><rect x="3620.9" y="156.99" width="1.2" height="89.91"/><rect x="3710.9" y="172.1" width="1.2" height="74.8"/><rect x="155.9" y="461.16" width="1.2" height="77.41"/><rect x="1685.9" y="468.45" width="1.2" height="70.12"/><rect x="1775.9" y="465.33" width="1.2" height="73.24"/><rect x="1820.9" y="465.33" width="1.2" height="73.24"/><rect x="1865.9" y="466.89" width="1.2" height="71.68"/><rect x="1910.9" y="463.24" width="1.2" height="75.32"/><rect x="1955.9" y="462.2" width="1.2" height="76.37"/><rect x="2000.9" y="464.8" width="1.2" height="73.76"/><rect x="2045.9" y="464.8" width="1.2" height="73.76"/><rect x="2090.9" y="464.8" width="1.2" height="73.76"/><rect x="2135.9" y="460.64" width="1.2" height="77.93"/><rect x="2180.9" y="461.68" width="1.2" height="76.89"/><rect x="2360.9" y="467.93" width="1.2" height="70.64"/><rect x="3125.9" y="452.83" width="1.2" height="85.74"/><rect x="3170.9" y="457.51" width="1.2" height="81.05"/><rect x="3215.9" y="446.58" width="1.2" height="91.99"/><rect x="3260.9" y="469.49" width="1.2" height="69.07"/><rect x="3305.9" y="457.51" width="1.2" height="81.05"/><rect x="3350.9" y="445.01" width="1.2" height="93.55"/><rect x="3395.9" y="444.49" width="1.2" height="94.07"/><rect x="3440.9" y="445.01" width="1.2" height="93.55"/><rect x="785.9" y="754.39" width="1.2" height="75.85"/><rect x="830.9" y="757.51" width="1.2" height="72.72"/><rect x="875.9" y="746.58" width="1.2" height="83.66"/><rect x="920.9" y="756.99" width="1.2" height="73.24"/><rect x="965.9" y="745.53" width="1.2" height="84.7"/><rect x="1010.9" y="752.83" width="1.2" height="77.41"/><rect x="1460.9" y="734.08" width="1.2" height="96.16"/><rect x="2585.9" y="753.35" width="1.2" height="76.89"/><rect x="2630.9" y="752.31" width="1.2" height="77.93"/><rect x="2855.9" y="749.7" width="1.2" height="80.53"/><rect x="200.9" y="1043.97" width="1.2" height="77.93"/><rect x="290.9" y="1043.97" width="1.2" height="77.93"/><rect x="335.9" y="1041.89" width="1.2" height="80.01"/><rect x="380.9" y="1046.06" width="1.2" height="75.85"/><rect x="425.9" y="1046.06" width="1.2" height="75.85"/><rect x="470.9" y="1053.87" width="1.2" height="68.03"/><rect x="650.9" y="1049.18" width="1.2" height="72.72"/><rect x="695.9" y="1049.18" width="1.2" height="72.72"/><rect x="740.9" y="1040.33" width="1.2" height="81.57"/><rect x="785.9" y="1049.18" width="1.2" height="72.72"/><rect x="830.9" y="1045.53" width="1.2" height="76.37"/><rect x="875.9" y="1048.66" width="1.2" height="73.24"/><rect x="920.9" y="1039.81" width="1.2" height="82.1"/><rect x="965.9" y="1042.93" width="1.2" height="78.97"/><rect x="1010.9" y="1045.01" width="1.2" height="76.89"/><rect x="1730.9" y="1043.97" width="1.2" height="77.93"/><rect x="1820.9" y="1035.12" width="1.2" height="86.78"/><rect x="1865.9" y="1038.24" width="1.2" height="83.66"/><rect x="2045.9" y="1054.39" width="1.2" height="67.51"/><rect x="2135.9" y="1045.53" width="1.2" height="76.37"/><rect x="2180.9" y="1043.97" width="1.2" height="77.93"/><rect x="2225.9" y="1043.97" width="1.2" height="77.93"/><rect x="2765.9" y="1045.53" width="1.2" height="76.37"/><rect x="2810.9" y="1043.97" width="1.2" height="77.93"/><rect x="2855.9" y="1048.14" width="1.2" height="73.76"/><rect x="2900.9" y="1049.18" width="1.2" height="72.72"/><rect x="2945.9" y="1046.06" width="1.2" height="75.85"/><rect x="2990.9" y="1049.7" width="1.2" height="72.2"/><rect x="3035.9" y="1048.14" width="1.2" height="73.76"/><rect x="3080.9" y="1048.14" width="1.2" height="73.76"/><rect x="3125.9" y="1052.83" width="1.2" height="69.07"/><rect x="3170.9" y="1049.18" width="1.2" height="72.72"/><rect x="3215.9" y="1043.97" width="1.2" height="77.93"/><rect x="3260.9" y="1042.41" width="1.2" height="79.49"/><rect x="3305.9" y="1033.56" width="1.2" height="88.35"/><rect x="3350.9" y="1043.45" width="1.2" height="78.45"/><rect x="3485.9" y="1049.7" width="1.2" height="72.2"/><rect x="3530.9" y="1043.45" width="1.2" height="78.45"/><rect x="3575.9" y="1041.89" width="1.2" height="80.01"/><rect x="3620.9" y="1046.58" width="1.2" height="75.32"/><rect x="3665.9" y="1037.72" width="1.2" height="84.18"/><rect x="3710.9" y="1043.45" width="1.2" height="78.45"/><rect x="155.9" y="1336.68" width="1.2" height="76.89"/><rect x="200.9" y="1331.99" width="1.2" height="81.57"/><rect x="245.9" y="1340.33" width="1.2" height="73.24"/><rect x="290.9" y="1336.16" width="1.2" height="77.41"/><rect x="335.9" y="1343.45" width="1.2" height="70.12"/><rect x="380.9" y="1334.08" width="1.2" height="79.49"/><rect x="425.9" y="1338.24" width="1.2" height="75.32"/><rect x="470.9" y="1329.91" width="1.2" height="83.66"/><rect x="515.9" y="1318.45" width="1.2" height="95.12"/><rect x="560.9" y="1338.24" width="1.2" height="75.32"/><rect x="2045.9" y="1350.22" width="1.2" height="63.35"/><rect x="2090.9" y="1340.33" width="1.2" height="73.24"/><rect x="2135.9" y="1357.51" width="1.2" height="56.05"/><rect x="2315.9" y="1368.97" width="1.2" height="44.6"/><rect x="2630.9" y="1370.01" width="1.2" height="43.55"/><rect x="2720.9" y="1337.2" width="1.2" height="76.37"/><rect x="2765.9" y="1344.49" width="1.2" height="69.07"/><rect x="2810.9" y="1361.68" width="1.2" height="51.89"/><rect x="2990.9" y="1357.51" width="1.2" height="56.05"/><rect x="3035.9" y="1340.85" width="1.2" height="72.72"/><rect x="3125.9" y="1352.83" width="1.2" height="60.74"/><rect x="3170.9" y="1335.12" width="1.2" height="78.45"/><rect x="3215.9" y="1331.47" width="1.2" height="82.1"/><rect x="3260.9" y="1340.85" width="1.2" height="72.72"/><rect x="3620.9" y="1348.66" width="1.2" height="64.91"/><rect x="155.9" y="1634.6" width="1.2" height="70.64"/><rect x="200.9" y="1640.33" width="1.2" height="64.91"/><rect x="245.9" y="1634.08" width="1.2" height="71.16"/><rect x="920.9" y="1628.87" width="1.2" height="76.37"/><rect x="965.9" y="1623.66" width="1.2" height="81.57"/><rect x="1010.9" y="1627.83" width="1.2" height="77.41"/><rect x="1370.9" y="1627.31" width="1.2" height="77.93"/><rect x="1415.9" y="1636.16" width="1.2" height="69.07"/><rect x="1460.9" y="1635.64" width="1.2" height="69.6"/><rect x="2810.9" y="1630.43" width="1.2" height="74.8"/><rect x="2855.9" y="1624.18" width="1.2" height="81.05"/><rect x="2900.9" y="1620.54" width="1.2" height="84.7"/><rect x="2945.9" y="1622.62" width="1.2" height="82.62"/><rect x="2990.9" y="1622.1" width="1.2" height="83.14"/><rect x="3035.9" y="1619.49" width="1.2" height="85.74"/><rect x="3080.9" y="1624.7" width="1.2" height="80.53"/><rect x="3125.9" y="1620.01" width="1.2" height="85.22"/><rect x="3170.9" y="1622.62" width="1.2" height="82.62"/><rect x="3305.9" y="1629.39" width="1.2" height="75.85"/><rect x="3350.9" y="1625.74" width="1.2" height="79.49"/><rect x="3395.9" y="1626.79" width="1.2" height="78.45"/><rect x="3440.9" y="1623.14" width="1.2" height="82.1"/><rect x="1325.9" y="1921.58" width="1.2" height="75.32"/><rect x="1370.9" y="1909.6" width="1.2" height="87.3"/><rect x="1415.9" y="1918.45" width="1.2" height="78.45"/><rect x="1460.9" y="1913.24" width="1.2" height="83.66"/><rect x="1505.9" y="1915.85" width="1.2" height="81.05"/><rect x="1820.9" y="1925.22" width="1.2" height="71.68"/><rect x="2630.9" y="1933.56" width="1.2" height="63.35"/><rect x="2675.9" y="1945.01" width="1.2" height="51.89"/><rect x="2855.9" y="1923.66" width="1.2" height="73.24"/><rect x="2900.9" y="1917.41" width="1.2" height="79.49"/><rect x="2945.9" y="1910.12" width="1.2" height="86.78"/><rect x="2990.9" y="1915.85" width="1.2" height="81.05"/><rect x="3035.9" y="1920.54" width="1.2" height="76.37"/><rect x="3080.9" y="1918.97" width="1.2" height="77.93"/><rect x="3125.9" y="1914.81" width="1.2" height="82.1"/><rect x="3170.9" y="1925.22" width="1.2" height="71.68"/><rect x="3215.9" y="1924.18" width="1.2" height="72.72"/><rect x="3260.9" y="1920.54" width="1.2" height="76.37"/><rect x="3305.9" y="1915.85" width="1.2" height="81.05"/><rect x="3350.9" y="1925.22" width="1.2" height="71.68"/><rect x="3395.9" y="1930.95" width="1.2" height="65.95"/><rect x="3440.9" y="1923.66" width="1.2" height="73.24"/><rect x="3530.9" y="1920.54" width="1.2" height="76.37"/><rect x="3575.9" y="1918.97" width="1.2" height="77.93"/><rect x="3620.9" y="1925.74" width="1.2" height="71.16"/><rect x="3665.9" y="1915.33" width="1.2" height="81.57"/><rect x="3710.9" y="1922.1" width="1.2" height="74.8"/><rect x="155.9" y="2207.52" width="1.2" height="81.05"/><rect x="200.9" y="2215.33" width="1.2" height="73.24"/><rect x="245.9" y="2214.29" width="1.2" height="74.28"/><rect x="290.9" y="2213.24" width="1.2" height="75.32"/><rect x="335.9" y="2216.89" width="1.2" height="71.68"/><rect x="380.9" y="2220.54" width="1.2" height="68.03"/><rect x="470.9" y="2213.77" width="1.2" height="74.8"/><rect x="515.9" y="2207.52" width="1.2" height="81.05"/><rect x="560.9" y="2212.2" width="1.2" height="76.37"/><rect x="605.9" y="2208.56" width="1.2" height="80.01"/><rect x="650.9" y="2207.52" width="1.2" height="81.05"/><rect x="695.9" y="2208.56" width="1.2" height="80.01"/><rect x="740.9" y="2211.68" width="1.2" height="76.89"/><rect x="785.9" y="2212.2" width="1.2" height="76.37"/><rect x="830.9" y="2210.64" width="1.2" height="77.93"/><rect x="875.9" y="2211.16" width="1.2" height="77.41"/><rect x="920.9" y="2208.56" width="1.2" height="80.01"/><rect x="965.9" y="2211.16" width="1.2" height="77.41"/><rect x="1010.9" y="2210.64" width="1.2" height="77.93"/><rect x="1325.9" y="2204.91" width="1.2" height="83.66"/><rect x="2338.1" y="220.05" width="112.5" height="2"/><rect x="673.1" y="528.39" width="90" height="2"/><rect x="2518.1" y="532.28" width="85.5" height="1.5"/><rect x="2653.1" y="525.51" width="135" height="1.5"/><rect x="628.1" y="824.74" width="202.5" height="2"/><rect x="1258.1" y="802.62" width="103.5" height="2.5"/><rect x="2113.1" y="823.16" width="1377" height="1"/><rect x="2113.1" y="821.34" width="1377" height="1"/><rect x="2554.1" y="821.62" width="324" height="2"/><rect x="223.1" y="1104.95" width="144" height="2"/><rect x="326.6" y="1101.85" width="27" height="3"/><rect x="583.1" y="1104.33" width="139.5" height="2.2"/><rect x="1298.6" y="1106.76" width="54" height="1.5"/><rect x="2158.1" y="1395.72" width="720" height="1.2"/><rect x="2833.1" y="1395.22" width="924.9" height="2.2"/><rect x="3013.1" y="1394.03" width="90" height="3"/><rect x="358.1" y="1685.68" width="94.5" height="2"/><rect x="1663.1" y="1683.33" width="99" height="1.5"/><rect x="1789.1" y="1689.58" width="58.5" height="1.5"/><rect x="403.1" y="1979.16" width="72" height="1.5"/><rect x="2216.6" y="1979.95" width="81" height="2"/><rect x="3463.1" y="1970.33" width="99" height="2.5"/></g>
<g fill="#bebebe" shape-rendering="crispEdges"><rect x="154.1" y="112.2" width="3" height="43.12"/><rect x="150.2" y="110.45" width="10.8" height="2.9"/><rect x="154.1" y="164.91" width="3" height="43.12"/><rect x="150.2" y="206.88" width="10.8" height="2.9"/><rect x="199.1" y="120.53" width="3" height="40.31"/><rect x="195.2" y="118.78" width="10.8" height="2.9"/><rect x="199.1" y="169.8" width="3" height="40.31"/><rect x="195.2" y="208.97" width="10.8" height="2.9"/><rect x="244.1" y="112.2" width="3" height="43.12"/><rect x="240.2" y="110.45" width="10.8" height="2.9"/><rect x="244.1" y="164.91" width="3" height="43.12"/><rect x="240.2" y="206.88" width="10.8" height="2.9"/><rect x="289.1" y="126" width="3" height="40.55"/><rect x="285.2" y="124.25" width="10.8" height="2.9"/><rect x="289.1" y="175.56" width="3" height="40.55"/><rect x="285.2" y="214.96" width="10.8" height="2.9"/><rect x="334.1" y="120.53" width="3" height="40.31"/><rect x="330.2" y="118.78" width="10.8" height="2.9"/><rect x="334.1" y="169.8" width="3" height="40.31"/><rect x="330.2" y="208.97" width="10.8" height="2.9"/><rect x="379.1" y="127.3" width="3" height="41.25"/><rect x="375.2" y="125.55" width="10.8" height="2.9"/><rect x="379.1" y="177.72" width="3" height="41.25"/><rect x="375.2" y="217.82" width="10.8" height="2.9"/><rect x="424.1" y="125.22" width="3" height="40.31"/><rect x="420.2" y="123.47" width="10.8" height="2.9"/><rect x="424.1" y="174.49" width="3" height="40.31"/><rect x="420.2" y="213.65" width="10.8" height="2.9"/><rect x="469.1" y="110.64" width="3" height="43.59"/><rect x="465.2" y="108.89" width="10.8" height="2.9"/><rect x="469.1" y="163.92" width="3" height="43.59"/><rect x="465.2" y="206.36" width="10.8" height="2.9"/><rect x="514.1" y="126" width="3" height="40.55"/><rect x="510.2" y="124.25" width="10.8" height="2.9"/><rect x="514.1" y="175.56" width="3" height="40.55"/><rect x="510.2" y="214.96" width="10.8" height="2.9"/><rect x="559.1" y="112.2" width="3" height="43.12"/><rect x="555.2" y="110.45" width="10.8" height="2.9"/><rect x="559.1" y="164.91" width="3" height="43.12"/><rect x="555.2" y="206.88" width="10.8" height="2.9"/><rect x="604.1" y="126" width="3" height="40.55"/><rect x="600.2" y="124.25" width="10.8" height="2.9"/><rect x="604.1" y="175.56" width="3" height="40.55"/><rect x="600.2" y="214.96" width="10.8" height="2.9"/><rect x="649.1" y="125.22" width="3" height="40.31"/><rect x="645.2" y="123.47" width="10.8" height="2.9"/><rect x="649.1" y="174.49" width="3" height="40.31"/><rect x="645.2" y="213.65" width="10.8" height="2.9"/><rect x="694.1" y="126" width="3" height="40.55"/><rect x="690.2" y="124.25" width="10.8" height="2.9"/><rect x="694.1" y="175.56" width="3" height="40.55"/><rect x="690.2" y="214.96" width="10.8" height="2.9"/><rect x="739.1" y="125.22" width="3" height="40.31"/><rect x="735.2" y="123.47" width="10.8" height="2.9"/><rect x="739.1" y="174.49" width="3" height="40.31"/><rect x="735.2" y="213.65" width="10.8" height="2.9"/><rect x="784.1" y="124.18" width="3" height="40.31"/><rect x="780.2" y="122.43" width="10.8" height="2.9"/><rect x="784.1" y="173.45" width="3" height="40.31"/><rect x="780.2" y="212.61" width="10.8" height="2.9"/><rect x="829.1" y="125.22" width="3" height="40.31"/><rect x="825.2" y="123.47" width="10.8" height="2.9"/><rect x="829.1" y="174.49" width="3" height="40.31"/><rect x="825.2" y="213.65" width="10.8" height="2.9"/><rect x="874.1" y="126.26" width="3" height="40.78"/><rect x="870.2" y="124.51" width="10.8" height="2.9"/><rect x="874.1" y="176.11" width="3" height="40.78"/><rect x="870.2" y="215.74" width="10.8" height="2.9"/><rect x="919.1" y="126" width="3" height="40.55"/><rect x="915.2" y="124.25" width="10.8" height="2.9"/><rect x="919.1" y="175.56" width="3" height="40.55"/><rect x="915.2" y="214.96" width="10.8" height="2.9"/><rect x="964.1" y="125.22" width="3" height="40.31"/><rect x="960.2" y="123.47" width="10.8" height="2.9"/><rect x="964.1" y="174.49" width="3" height="40.31"/><rect x="960.2" y="213.65" width="10.8" height="2.9"/><rect x="1009.1" y="117.41" width="3" height="41.25"/><rect x="1005.2" y="115.66" width="10.8" height="2.9"/><rect x="1009.1" y="167.83" width="3" height="41.25"/><rect x="1005.2" y="207.93" width="10.8" height="2.9"/><rect x="1054.1" y="120.53" width="3" height="40.31"/><rect x="1050.2" y="118.78" width="10.8" height="2.9"/><rect x="1054.1" y="169.8" width="3" height="40.31"/><rect x="1050.2" y="208.97" width="10.8" height="2.9"/><rect x="1099.1" y="131.99" width="3" height="37.97"/><rect x="1095.2" y="130.24" width="10.8" height="2.9"/><rect x="1099.1" y="178.4" width="3" height="37.97"/><rect x="1095.2" y="215.22" width="10.8" height="2.9"/><rect x="1144.1" y="129.39" width="3" height="37.5"/><rect x="1140.2" y="127.64" width="10.8" height="2.9"/><rect x="1144.1" y="175.22" width="3" height="37.5"/><rect x="1140.2" y="211.57" width="10.8" height="2.9"/><rect x="1189.1" y="131.99" width="3" height="37.5"/><rect x="1185.2" y="130.24" width="10.8" height="2.9"/><rect x="1189.1" y="177.83" width="3" height="37.5"/><rect x="1185.2" y="214.18" width="10.8" height="2.9"/><rect x="1234.1" y="132.51" width="3" height="37.97"/><rect x="1230.2" y="130.76" width="10.8" height="2.9"/><rect x="1234.1" y="178.92" width="3" height="37.97"/><rect x="1230.2" y="215.74" width="10.8" height="2.9"/><rect x="1279.1" y="133.55" width="3" height="38.91"/><rect x="1275.2" y="131.8" width="10.8" height="2.9"/><rect x="1279.1" y="181.11" width="3" height="38.91"/><rect x="1275.2" y="218.86" width="10.8" height="2.9"/><rect x="1324.1" y="132.51" width="3" height="37.97"/><rect x="1320.2" y="130.76" width="10.8" height="2.9"/><rect x="1324.1" y="178.92" width="3" height="37.97"/><rect x="1320.2" y="215.74" width="10.8" height="2.9"/><rect x="1369.1" y="130.95" width="3" height="37.97"/><rect x="1365.2" y="129.2" width="10.8" height="2.9"/><rect x="1369.1" y="177.36" width="3" height="37.97"/><rect x="1365.2" y="214.18" width="10.8" height="2.9"/><rect x="1414.1" y="137.2" width="3" height="33.28"/><rect x="1410.2" y="135.45" width="10.8" height="2.9"/><rect x="1414.1" y="177.88" width="3" height="33.28"/><rect x="1410.2" y="210.01" width="10.8" height="2.9"/><rect x="1459.1" y="131.99" width="3" height="33.28"/><rect x="1455.2" y="130.24" width="10.8" height="2.9"/><rect x="1459.1" y="172.67" width="3" height="33.28"/><rect x="1455.2" y="204.8" width="10.8" height="2.9"/><rect x="1504.1" y="143.97" width="3" height="31.87"/><rect x="1500.2" y="142.22" width="10.8" height="2.9"/><rect x="1504.1" y="182.93" width="3" height="31.87"/><rect x="1500.2" y="213.65" width="10.8" height="2.9"/><rect x="1549.1" y="159.08" width="3" height="26.72"/><rect x="1545.2" y="157.33" width="10.8" height="2.9"/><rect x="1549.1" y="191.73" width="3" height="26.72"/><rect x="1545.2" y="217.3" width="10.8" height="2.9"/><rect x="1594.1" y="155.95" width="3" height="28.12"/><rect x="1590.2" y="154.2" width="10.8" height="2.9"/><rect x="1594.1" y="190.33" width="3" height="28.12"/><rect x="1590.2" y="217.3" width="10.8" height="2.9"/><rect x="1639.1" y="154.39" width="3" height="28.59"/><rect x="1635.2" y="152.64" width="10.8" height="2.9"/><rect x="1639.1" y="189.34" width="3" height="28.59"/><rect x="1635.2" y="216.78" width="10.8" height="2.9"/><rect x="1684.1" y="160.64" width="3" height="25.78"/><rect x="1680.2" y="158.89" width="10.8" height="2.9"/><rect x="1684.1" y="192.15" width="3" height="25.78"/><rect x="1680.2" y="216.78" width="10.8" height="2.9"/><rect x="1729.1" y="146.58" width="3" height="30.47"/><rect x="1725.2" y="144.83" width="10.8" height="2.9"/><rect x="1729.1" y="183.82" width="3" height="30.47"/><rect x="1725.2" y="213.13" width="10.8" height="2.9"/><rect x="1774.1" y="157.51" width="3" height="25.78"/><rect x="1770.2" y="155.76" width="10.8" height="2.9"/><rect x="1774.1" y="189.02" width="3" height="25.78"/><rect x="1770.2" y="213.65" width="10.8" height="2.9"/><rect x="1819.1" y="165.85" width="3" height="24.84"/><rect x="1815.2" y="164.1" width="10.8" height="2.9"/><rect x="1819.1" y="196.21" width="3" height="24.84"/><rect x="1815.2" y="219.9" width="10.8" height="2.9"/><rect x="1864.1" y="169.49" width="3" height="22.97"/><rect x="1860.2" y="167.74" width="10.8" height="2.9"/><rect x="1864.1" y="197.56" width="3" height="22.97"/><rect x="1860.2" y="219.38" width="10.8" height="2.9"/><rect x="1909.1" y="166.37" width="3" height="25.31"/><rect x="1905.2" y="164.62" width="10.8" height="2.9"/><rect x="1909.1" y="197.3" width="3" height="25.31"/><rect x="1905.2" y="221.47" width="10.8" height="2.9"/><rect x="1954.1" y="152.3" width="3" height="24.37"/><rect x="1950.2" y="150.55" width="10.8" height="2.9"/><rect x="1954.1" y="182.1" width="3" height="24.37"/><rect x="1950.2" y="205.32" width="10.8" height="2.9"/><rect x="1999.1" y="182.51" width="3" height="19.22"/><rect x="1995.2" y="180.76" width="10.8" height="2.9"/><rect x="1999.1" y="206" width="3" height="19.22"/><rect x="1995.2" y="224.07" width="10.8" height="2.9"/><rect x="2044.1" y="168.97" width="3" height="21.09"/><rect x="2040.2" y="167.22" width="10.8" height="2.9"/><rect x="2044.1" y="194.75" width="3" height="21.09"/><rect x="2040.2" y="214.7" width="10.8" height="2.9"/><rect x="2089.1" y="181.99" width="3" height="18.75"/><rect x="2085.2" y="180.24" width="10.8" height="2.9"/><rect x="2089.1" y="204.91" width="3" height="18.75"/><rect x="2085.2" y="222.51" width="10.8" height="2.9"/><rect x="2134.1" y="175.74" width="3" height="17.81"/><rect x="2130.2" y="173.99" width="10.8" height="2.9"/><rect x="2134.1" y="197.51" width="3" height="17.81"/><rect x="2130.2" y="214.18" width="10.8" height="2.9"/><rect x="2179.1" y="144.49" width="3" height="19.69"/><rect x="2175.2" y="142.74" width="10.8" height="2.9"/><rect x="2179.1" y="168.55" width="3" height="19.69"/><rect x="2175.2" y="187.09" width="10.8" height="2.9"/><rect x="2224.1" y="61.68" width="3" height="15"/><rect x="2220.2" y="59.93" width="10.8" height="2.9"/><rect x="2224.1" y="80.01" width="3" height="15"/><rect x="2220.2" y="93.86" width="10.8" height="2.9"/><rect x="2269.1" y="151.78" width="3" height="8.91"/><rect x="2265.2" y="150.03" width="10.8" height="2.9"/><rect x="2269.1" y="162.67" width="3" height="8.91"/><rect x="2265.2" y="170.43" width="10.8" height="2.9"/><rect x="2314.1" y="89.28" width="3" height="11.72"/><rect x="2310.2" y="87.53" width="10.8" height="2.9"/><rect x="2314.1" y="103.61" width="3" height="11.72"/><rect x="2310.2" y="114.18" width="10.8" height="2.9"/><rect x="2359.1" y="176.26" width="3" height="8.91"/><rect x="2355.2" y="174.51" width="10.8" height="2.9"/><rect x="2359.1" y="187.15" width="3" height="8.91"/><rect x="2355.2" y="194.9" width="10.8" height="2.9"/><rect x="2404.1" y="109.08" width="3" height="9.37"/><rect x="2400.2" y="107.33" width="10.8" height="2.9"/><rect x="2404.1" y="120.53" width="3" height="9.37"/><rect x="2400.2" y="128.76" width="10.8" height="2.9"/><rect x="2449.1" y="128.87" width="3" height="38.44"/><rect x="2445.2" y="127.12" width="10.8" height="2.9"/><rect x="2449.1" y="175.85" width="3" height="38.44"/><rect x="2445.2" y="213.13" width="10.8" height="2.9"/><rect x="2494.1" y="178.35" width="3" height="9.37"/><rect x="2490.2" y="176.6" width="10.8" height="2.9"/><rect x="2494.1" y="189.8" width="3" height="9.37"/><rect x="2490.2" y="198.03" width="10.8" height="2.9"/><rect x="2539.1" y="84.08" width="3" height="9.37"/><rect x="2535.2" y="82.33" width="10.8" height="2.9"/><rect x="2539.1" y="95.53" width="3" height="9.37"/><rect x="2535.2" y="103.76" width="10.8" height="2.9"/><rect x="2584.1" y="51.26" width="3" height="8.91"/><rect x="2580.2" y="49.51" width="10.8" height="2.9"/><rect x="2584.1" y="62.15" width="3" height="8.91"/><rect x="2580.2" y="69.91" width="10.8" height="2.9"/><rect x="2629.1" y="107.51" width="3" height="9.37"/><rect x="2625.2" y="105.76" width="10.8" height="2.9"/><rect x="2629.1" y="118.97" width="3" height="9.37"/><rect x="2625.2" y="127.2" width="10.8" height="2.9"/><rect x="2674.1" y="12.72" width="3" height="6.09"/><rect x="2670.2" y="10.97" width="10.8" height="2.9"/><rect x="2674.1" y="20.17" width="3" height="6.09"/><rect x="2670.2" y="25.11" width="10.8" height="2.9"/><rect x="2719.1" y="35.12" width="3" height="6.09"/><rect x="2715.2" y="33.37" width="10.8" height="2.9"/><rect x="2719.1" y="42.57" width="3" height="6.09"/><rect x="2715.2" y="47.51" width="10.8" height="2.9"/><rect x="2764.1" y="86.68" width="3" height="9.37"/><rect x="2760.2" y="84.93" width="10.8" height="2.9"/><rect x="2764.1" y="98.14" width="3" height="9.37"/><rect x="2760.2" y="106.36" width="10.8" height="2.9"/><rect x="2809.1" y="163.24" width="3" height="8.91"/><rect x="2805.2" y="161.49" width="10.8" height="2.9"/><rect x="2809.1" y="174.13" width="3" height="8.91"/><rect x="2805.2" y="181.88" width="10.8" height="2.9"/><rect x="2854.1" y="84.08" width="3" height="9.37"/><rect x="2850.2" y="82.33" width="10.8" height="2.9"/><rect x="2854.1" y="95.53" width="3" height="9.37"/><rect x="2850.2" y="103.76" width="10.8" height="2.9"/><rect x="2899.1" y="-36.76" width="3" height="28.12"/><rect x="2895.2" y="-38.51" width="10.8" height="2.9"/><rect x="2899.1" y="-2.38" width="3" height="28.12"/><rect x="2895.2" y="24.59" width="10.8" height="2.9"/><rect x="2944.1" y="110.64" width="3" height="9.37"/><rect x="2940.2" y="108.89" width="10.8" height="2.9"/><rect x="2944.1" y="122.1" width="3" height="9.37"/><rect x="2940.2" y="130.32" width="10.8" height="2.9"/><rect x="2989.1" y="202.83" width="3" height="6.56"/><rect x="2985.2" y="201.08" width="10.8" height="2.9"/><rect x="2989.1" y="210.85" width="3" height="6.56"/><rect x="2985.2" y="216.26" width="10.8" height="2.9"/><rect x="3034.1" y="81.99" width="3" height="11.72"/><rect x="3030.2" y="80.24" width="10.8" height="2.9"/><rect x="3034.1" y="96.32" width="3" height="11.72"/><rect x="3030.2" y="106.88" width="10.8" height="2.9"/><rect x="3079.1" y="92.93" width="3" height="9.37"/><rect x="3075.2" y="91.18" width="10.8" height="2.9"/><rect x="3079.1" y="104.39" width="3" height="9.37"/><rect x="3075.2" y="112.61" width="10.8" height="2.9"/><rect x="3124.1" y="164.8" width="3" height="10.31"/><rect x="3120.2" y="163.05" width="10.8" height="2.9"/><rect x="3124.1" y="177.41" width="3" height="10.31"/><rect x="3120.2" y="186.57" width="10.8" height="2.9"/><rect x="3169.1" y="170.01" width="3" height="7.5"/><rect x="3165.2" y="168.26" width="10.8" height="2.9"/><rect x="3169.1" y="179.18" width="3" height="7.5"/><rect x="3165.2" y="185.53" width="10.8" height="2.9"/><rect x="3214.1" y="24.18" width="3" height="7.03"/><rect x="3210.2" y="22.43" width="10.8" height="2.9"/><rect x="3214.1" y="32.77" width="3" height="7.03"/><rect x="3210.2" y="38.66" width="10.8" height="2.9"/><rect x="3259.1" y="155.43" width="3" height="11.25"/><rect x="3255.2" y="153.68" width="10.8" height="2.9"/><rect x="3259.1" y="169.18" width="3" height="11.25"/><rect x="3255.2" y="179.28" width="10.8" height="2.9"/><rect x="3304.1" y="127.3" width="3" height="35.16"/><rect x="3300.2" y="125.55" width="10.8" height="2.9"/><rect x="3304.1" y="170.27" width="3" height="35.16"/><rect x="3300.2" y="204.28" width="10.8" height="2.9"/><rect x="3349.1" y="93.97" width="3" height="42.66"/><rect x="3345.2" y="92.22" width="10.8" height="2.9"/><rect x="3349.1" y="146.11" width="3" height="42.66"/><rect x="3345.2" y="187.61" width="10.8" height="2.9"/><rect x="3394.1" y="113.24" width="3" height="37.97"/><rect x="3390.2" y="111.49" width="10.8" height="2.9"/><rect x="3394.1" y="159.65" width="3" height="37.97"/><rect x="3390.2" y="196.47" width="10.8" height="2.9"/><rect x="3439.1" y="130.95" width="3" height="35.16"/><rect x="3435.2" y="129.2" width="10.8" height="2.9"/><rect x="3439.1" y="173.92" width="3" height="35.16"/><rect x="3435.2" y="207.93" width="10.8" height="2.9"/><rect x="3484.1" y="192.93" width="3" height="6.09"/><rect x="3480.2" y="191.18" width="10.8" height="2.9"/><rect x="3484.1" y="200.38" width="3" height="6.09"/><rect x="3480.2" y="205.32" width="10.8" height="2.9"/><rect x="3529.1" y="160.12" width="3" height="9.84"/><rect x="3525.2" y="158.37" width="10.8" height="2.9"/><rect x="3529.1" y="172.15" width="3" height="9.84"/><rect x="3525.2" y="180.84" width="10.8" height="2.9"/><rect x="3574.1" y="176.26" width="3" height="8.44"/><rect x="3570.2" y="174.51" width="10.8" height="2.9"/><rect x="3574.1" y="186.58" width="3" height="8.44"/><rect x="3570.2" y="193.86" width="10.8" height="2.9"/><rect x="3619.1" y="115.85" width="3" height="37.03"/><rect x="3615.2" y="114.1" width="10.8" height="2.9"/><rect x="3619.1" y="161.11" width="3" height="37.03"/><rect x="3615.2" y="196.99" width="10.8" height="2.9"/><rect x="3664.1" y="176.78" width="3" height="9.37"/><rect x="3660.2" y="175.03" width="10.8" height="2.9"/><rect x="3664.1" y="188.24" width="3" height="9.37"/><rect x="3660.2" y="196.47" width="10.8" height="2.9"/><rect x="3709.1" y="135.64" width="3" height="32.81"/><rect x="3705.2" y="133.89" width="10.8" height="2.9"/><rect x="3709.1" y="175.74" width="3" height="32.81"/><rect x="3705.2" y="207.4" width="10.8" height="2.9"/><rect x="154.1" y="425.22" width="3" height="32.34"/><rect x="150.2" y="423.47" width="10.8" height="2.9"/><rect x="154.1" y="464.75" width="3" height="32.34"/><rect x="150.2" y="495.95" width="10.8" height="2.9"/><rect x="199.1" y="400.74" width="3" height="17.34"/><rect x="195.2" y="398.99" width="10.8" height="2.9"/><rect x="199.1" y="421.94" width="3" height="17.34"/><rect x="195.2" y="438.13" width="10.8" height="2.9"/><rect x="244.1" y="278.87" width="3" height="17.34"/><rect x="240.2" y="277.12" width="10.8" height="2.9"/><rect x="244.1" y="300.07" width="3" height="17.34"/><rect x="240.2" y="316.26" width="10.8" height="2.9"/><rect x="289.1" y="401.78" width="3" height="16.41"/><rect x="285.2" y="400.03" width="10.8" height="2.9"/><rect x="289.1" y="421.84" width="3" height="16.41"/><rect x="285.2" y="437.09" width="10.8" height="2.9"/><rect x="334.1" y="422.62" width="3" height="16.41"/><rect x="330.2" y="420.87" width="10.8" height="2.9"/><rect x="334.1" y="442.67" width="3" height="16.41"/><rect x="330.2" y="457.93" width="10.8" height="2.9"/><rect x="379.1" y="431.47" width="3" height="17.34"/><rect x="375.2" y="429.72" width="10.8" height="2.9"/><rect x="379.1" y="452.67" width="3" height="17.34"/><rect x="375.2" y="468.86" width="10.8" height="2.9"/><rect x="424.1" y="362.2" width="3" height="15"/><rect x="420.2" y="360.45" width="10.8" height="2.9"/><rect x="424.1" y="380.53" width="3" height="15"/><rect x="420.2" y="394.38" width="10.8" height="2.9"/><rect x="469.1" y="476.26" width="3" height="11.72"/><rect x="465.2" y="474.51" width="10.8" height="2.9"/><rect x="469.1" y="490.59" width="3" height="11.72"/><rect x="465.2" y="501.15" width="10.8" height="2.9"/><rect x="514.1" y="405.95" width="3" height="9.37"/><rect x="510.2" y="404.2" width="10.8" height="2.9"/><rect x="514.1" y="417.41" width="3" height="9.37"/><rect x="510.2" y="425.63" width="10.8" height="2.9"/><rect x="559.1" y="359.6" width="3" height="12.19"/><rect x="555.2" y="357.85" width="10.8" height="2.9"/><rect x="559.1" y="374.49" width="3" height="12.19"/><rect x="555.2" y="385.53" width="10.8" height="2.9"/><rect x="604.1" y="320.01" width="3" height="5.62"/><rect x="600.2" y="318.26" width="10.8" height="2.9"/><rect x="604.1" y="326.89" width="3" height="5.62"/><rect x="600.2" y="331.36" width="10.8" height="2.9"/><rect x="649.1" y="386.16" width="3" height="7.97"/><rect x="645.2" y="384.41" width="10.8" height="2.9"/><rect x="649.1" y="395.9" width="3" height="7.97"/><rect x="645.2" y="402.72" width="10.8" height="2.9"/><rect x="694.1" y="318.97" width="3" height="10.78"/><rect x="690.2" y="317.22" width="10.8" height="2.9"/><rect x="694.1" y="332.15" width="3" height="10.78"/><rect x="690.2" y="341.78" width="10.8" height="2.9"/><rect x="739.1" y="417.41" width="3" height="7.5"/><rect x="735.2" y="415.66" width="10.8" height="2.9"/><rect x="739.1" y="426.58" width="3" height="7.5"/><rect x="735.2" y="432.93" width="10.8" height="2.9"/><rect x="784.1" y="342.41" width="3" height="7.97"/><rect x="780.2" y="340.66" width="10.8" height="2.9"/><rect x="784.1" y="352.15" width="3" height="7.97"/><rect x="780.2" y="358.97" width="10.8" height="2.9"/><rect x="829.1" y="406.47" width="3" height="8.91"/><rect x="825.2" y="404.72" width="10.8" height="2.9"/><rect x="829.1" y="417.36" width="3" height="8.91"/><rect x="825.2" y="425.11" width="10.8" height="2.9"/><rect x="874.1" y="397.1" width="3" height="9.37"/><rect x="870.2" y="395.35" width="10.8" height="2.9"/><rect x="874.1" y="408.56" width="3" height="9.37"/><rect x="870.2" y="416.78" width="10.8" height="2.9"/><rect x="919.1" y="350.74" width="3" height="9.37"/><rect x="915.2" y="348.99" width="10.8" height="2.9"/><rect x="919.1" y="362.2" width="3" height="9.37"/><rect x="915.2" y="370.43" width="10.8" height="2.9"/><rect x="964.1" y="458.03" width="3" height="7.97"/><rect x="960.2" y="456.28" width="10.8" height="2.9"/><rect x="964.1" y="467.77" width="3" height="7.97"/><rect x="960.2" y="474.59" width="10.8" height="2.9"/><rect x="1009.1" y="381.47" width="3" height="9.84"/><rect x="1005.2" y="379.72" width="10.8" height="2.9"/><rect x="1009.1" y="393.5" width="3" height="9.84"/><rect x="1005.2" y="402.2" width="10.8" height="2.9"/><rect x="1054.1" y="461.16" width="3" height="11.25"/><rect x="1050.2" y="459.41" width="10.8" height="2.9"/><rect x="1054.1" y="474.91" width="3" height="11.25"/><rect x="1050.2" y="485.01" width="10.8" height="2.9"/><rect x="1099.1" y="249.7" width="3" height="30.47"/><rect x="1095.2" y="247.95" width="10.8" height="2.9"/><rect x="1099.1" y="286.94" width="3" height="30.47"/><rect x="1095.2" y="316.26" width="10.8" height="2.9"/><rect x="1144.1" y="314.81" width="3" height="4.69"/><rect x="1140.2" y="313.06" width="10.8" height="2.9"/><rect x="1144.1" y="320.54" width="3" height="4.69"/><rect x="1140.2" y="324.07" width="10.8" height="2.9"/><rect x="1189.1" y="296.58" width="3" height="9.37"/><rect x="1185.2" y="294.83" width="10.8" height="2.9"/><rect x="1189.1" y="308.04" width="3" height="9.37"/><rect x="1185.2" y="316.26" width="10.8" height="2.9"/><rect x="1234.1" y="356.99" width="3" height="10.31"/><rect x="1230.2" y="355.24" width="10.8" height="2.9"/><rect x="1234.1" y="369.6" width="3" height="10.31"/><rect x="1230.2" y="378.76" width="10.8" height="2.9"/><rect x="1279.1" y="249.7" width="3" height="30.47"/><rect x="1275.2" y="247.95" width="10.8" height="2.9"/><rect x="1279.1" y="286.94" width="3" height="30.47"/><rect x="1275.2" y="316.26" width="10.8" height="2.9"/><rect x="1324.1" y="451.26" width="3" height="8.91"/><rect x="1320.2" y="449.51" width="10.8" height="2.9"/><rect x="1324.1" y="462.15" width="3" height="8.91"/><rect x="1320.2" y="469.9" width="10.8" height="2.9"/><rect x="1369.1" y="328.87" width="3" height="8.44"/><rect x="1365.2" y="327.12" width="10.8" height="2.9"/><rect x="1369.1" y="339.18" width="3" height="8.44"/><rect x="1365.2" y="346.47" width="10.8" height="2.9"/><rect x="1414.1" y="249.7" width="3" height="30.47"/><rect x="1410.2" y="247.95" width="10.8" height="2.9"/><rect x="1414.1" y="286.94" width="3" height="30.47"/><rect x="1410.2" y="316.26" width="10.8" height="2.9"/><rect x="1459.1" y="418.45" width="3" height="8.91"/><rect x="1455.2" y="416.7" width="10.8" height="2.9"/><rect x="1459.1" y="429.34" width="3" height="8.91"/><rect x="1455.2" y="437.09" width="10.8" height="2.9"/><rect x="1504.1" y="441.37" width="3" height="8.91"/><rect x="1500.2" y="439.62" width="10.8" height="2.9"/><rect x="1504.1" y="452.25" width="3" height="8.91"/><rect x="1500.2" y="460.01" width="10.8" height="2.9"/><rect x="1549.1" y="333.04" width="3" height="8.44"/><rect x="1545.2" y="331.29" width="10.8" height="2.9"/><rect x="1549.1" y="343.35" width="3" height="8.44"/><rect x="1545.2" y="350.63" width="10.8" height="2.9"/><rect x="1594.1" y="347.1" width="3" height="7.5"/><rect x="1590.2" y="345.35" width="10.8" height="2.9"/><rect x="1594.1" y="356.26" width="3" height="7.5"/><rect x="1590.2" y="362.61" width="10.8" height="2.9"/><rect x="1639.1" y="421.58" width="3" height="8.91"/><rect x="1635.2" y="419.83" width="10.8" height="2.9"/><rect x="1639.1" y="432.46" width="3" height="8.91"/><rect x="1635.2" y="440.22" width="10.8" height="2.9"/><rect x="1684.1" y="428.87" width="3" height="35.62"/><rect x="1680.2" y="427.12" width="10.8" height="2.9"/><rect x="1684.1" y="472.41" width="3" height="35.62"/><rect x="1680.2" y="506.88" width="10.8" height="2.9"/><rect x="1729.1" y="427.83" width="3" height="9.84"/><rect x="1725.2" y="426.08" width="10.8" height="2.9"/><rect x="1729.1" y="439.86" width="3" height="9.84"/><rect x="1725.2" y="448.55" width="10.8" height="2.9"/><rect x="1774.1" y="423.14" width="3" height="37.97"/><rect x="1770.2" y="421.39" width="10.8" height="2.9"/><rect x="1774.1" y="469.54" width="3" height="37.97"/><rect x="1770.2" y="506.36" width="10.8" height="2.9"/><rect x="1819.1" y="423.14" width="3" height="37.97"/><rect x="1815.2" y="421.39" width="10.8" height="2.9"/><rect x="1819.1" y="469.54" width="3" height="37.97"/><rect x="1815.2" y="506.36" width="10.8" height="2.9"/><rect x="1864.1" y="424.7" width="3" height="37.97"/><rect x="1860.2" y="422.95" width="10.8" height="2.9"/><rect x="1864.1" y="471.11" width="3" height="37.97"/><rect x="1860.2" y="507.93" width="10.8" height="2.9"/><rect x="1909.1" y="417.93" width="3" height="40.78"/><rect x="1905.2" y="416.18" width="10.8" height="2.9"/><rect x="1909.1" y="467.77" width="3" height="40.78"/><rect x="1905.2" y="507.4" width="10.8" height="2.9"/><rect x="1954.1" y="417.15" width="3" height="40.55"/><rect x="1950.2" y="415.4" width="10.8" height="2.9"/><rect x="1954.1" y="466.71" width="3" height="40.55"/><rect x="1950.2" y="506.1" width="10.8" height="2.9"/><rect x="1999.1" y="417.93" width="3" height="42.19"/><rect x="1995.2" y="416.18" width="10.8" height="2.9"/><rect x="1999.1" y="469.49" width="3" height="42.19"/><rect x="1995.2" y="510.53" width="10.8" height="2.9"/><rect x="2044.1" y="417.93" width="3" height="42.19"/><rect x="2040.2" y="416.18" width="10.8" height="2.9"/><rect x="2044.1" y="469.49" width="3" height="42.19"/><rect x="2040.2" y="510.53" width="10.8" height="2.9"/><rect x="2089.1" y="417.93" width="3" height="42.19"/><rect x="2085.2" y="416.18" width="10.8" height="2.9"/><rect x="2089.1" y="469.49" width="3" height="42.19"/><rect x="2085.2" y="510.53" width="10.8" height="2.9"/><rect x="2134.1" y="415.85" width="3" height="40.31"/><rect x="2130.2" y="414.1" width="10.8" height="2.9"/><rect x="2134.1" y="465.12" width="3" height="40.31"/><rect x="2130.2" y="504.28" width="10.8" height="2.9"/><rect x="2179.1" y="416.89" width="3" height="40.31"/><rect x="2175.2" y="415.14" width="10.8" height="2.9"/><rect x="2179.1" y="466.16" width="3" height="40.31"/><rect x="2175.2" y="505.32" width="10.8" height="2.9"/><rect x="2224.1" y="340.33" width="3" height="10.78"/><rect x="2220.2" y="338.58" width="10.8" height="2.9"/><rect x="2224.1" y="353.5" width="3" height="10.78"/><rect x="2220.2" y="363.13" width="10.8" height="2.9"/><rect x="2269.1" y="446.06" width="3" height="8.44"/><rect x="2265.2" y="444.31" width="10.8" height="2.9"/><rect x="2269.1" y="456.37" width="3" height="8.44"/><rect x="2265.2" y="463.65" width="10.8" height="2.9"/><rect x="2314.1" y="478.87" width="3" height="7.5"/><rect x="2310.2" y="477.12" width="10.8" height="2.9"/><rect x="2314.1" y="488.03" width="3" height="7.5"/><rect x="2310.2" y="494.38" width="10.8" height="2.9"/><rect x="2359.1" y="428.87" width="3" height="35.16"/><rect x="2355.2" y="427.12" width="10.8" height="2.9"/><rect x="2359.1" y="471.84" width="3" height="35.16"/><rect x="2355.2" y="505.84" width="10.8" height="2.9"/><rect x="2404.1" y="474.18" width="3" height="8.91"/><rect x="2400.2" y="472.43" width="10.8" height="2.9"/><rect x="2404.1" y="485.07" width="3" height="8.91"/><rect x="2400.2" y="492.82" width="10.8" height="2.9"/><rect x="2449.1" y="465.33" width="3" height="9.37"/><rect x="2445.2" y="463.58" width="10.8" height="2.9"/><rect x="2449.1" y="476.78" width="3" height="9.37"/><rect x="2445.2" y="485.01" width="10.8" height="2.9"/><rect x="2494.1" y="404.39" width="3" height="10.31"/><rect x="2490.2" y="402.64" width="10.8" height="2.9"/><rect x="2494.1" y="416.99" width="3" height="10.31"/><rect x="2490.2" y="426.16" width="10.8" height="2.9"/><rect x="2539.1" y="417.41" width="3" height="9.37"/><rect x="2535.2" y="415.66" width="10.8" height="2.9"/><rect x="2539.1" y="428.87" width="3" height="9.37"/><rect x="2535.2" y="437.09" width="10.8" height="2.9"/><rect x="2584.1" y="504.39" width="3" height="7.03"/><rect x="2580.2" y="502.64" width="10.8" height="2.9"/><rect x="2584.1" y="512.98" width="3" height="7.03"/><rect x="2580.2" y="518.86" width="10.8" height="2.9"/><rect x="2629.1" y="467.41" width="3" height="7.97"/><rect x="2625.2" y="465.66" width="10.8" height="2.9"/><rect x="2629.1" y="477.15" width="3" height="7.97"/><rect x="2625.2" y="483.97" width="10.8" height="2.9"/><rect x="2674.1" y="467.41" width="3" height="7.97"/><rect x="2670.2" y="465.66" width="10.8" height="2.9"/><rect x="2674.1" y="477.15" width="3" height="7.97"/><rect x="2670.2" y="483.97" width="10.8" height="2.9"/><rect x="2719.1" y="423.66" width="3" height="10.31"/><rect x="2715.2" y="421.91" width="10.8" height="2.9"/><rect x="2719.1" y="436.26" width="3" height="10.31"/><rect x="2715.2" y="445.43" width="10.8" height="2.9"/><rect x="2764.1" y="481.99" width="3" height="8.44"/><rect x="2760.2" y="480.24" width="10.8" height="2.9"/><rect x="2764.1" y="492.3" width="3" height="8.44"/><rect x="2760.2" y="499.59" width="10.8" height="2.9"/><rect x="2809.1" y="488.76" width="3" height="7.03"/><rect x="2805.2" y="487.01" width="10.8" height="2.9"/><rect x="2809.1" y="497.36" width="3" height="7.03"/><rect x="2805.2" y="503.24" width="10.8" height="2.9"/><rect x="2854.1" y="431.47" width="3" height="10.31"/><rect x="2850.2" y="429.72" width="10.8" height="2.9"/><rect x="2854.1" y="444.08" width="3" height="10.31"/><rect x="2850.2" y="453.24" width="10.8" height="2.9"/><rect x="2899.1" y="418.45" width="3" height="9.37"/><rect x="2895.2" y="416.7" width="10.8" height="2.9"/><rect x="2899.1" y="429.91" width="3" height="9.37"/><rect x="2895.2" y="438.13" width="10.8" height="2.9"/><rect x="2944.1" y="503.35" width="3" height="6.09"/><rect x="2940.2" y="501.6" width="10.8" height="2.9"/><rect x="2944.1" y="510.79" width="3" height="6.09"/><rect x="2940.2" y="515.74" width="10.8" height="2.9"/><rect x="2989.1" y="396.06" width="3" height="10.78"/><rect x="2985.2" y="394.31" width="10.8" height="2.9"/><rect x="2989.1" y="409.23" width="3" height="10.78"/><rect x="2985.2" y="418.86" width="10.8" height="2.9"/><rect x="3034.1" y="366.89" width="3" height="10.31"/><rect x="3030.2" y="365.14" width="10.8" height="2.9"/><rect x="3034.1" y="379.49" width="3" height="10.31"/><rect x="3030.2" y="388.66" width="10.8" height="2.9"/><rect x="3079.1" y="426.78" width="3" height="8.91"/><rect x="3075.2" y="425.03" width="10.8" height="2.9"/><rect x="3079.1" y="437.67" width="3" height="8.91"/><rect x="3075.2" y="445.43" width="10.8" height="2.9"/><rect x="3124.1" y="407.25" width="3" height="41.02"/><rect x="3120.2" y="405.5" width="10.8" height="2.9"/><rect x="3124.1" y="457.38" width="3" height="41.02"/><rect x="3120.2" y="497.25" width="10.8" height="2.9"/><rect x="3169.1" y="405.43" width="3" height="46.87"/><rect x="3165.2" y="403.68" width="10.8" height="2.9"/><rect x="3169.1" y="462.72" width="3" height="46.87"/><rect x="3165.2" y="508.45" width="10.8" height="2.9"/><rect x="3214.1" y="396.84" width="3" height="44.77"/><rect x="3210.2" y="395.09" width="10.8" height="2.9"/><rect x="3214.1" y="451.55" width="3" height="44.77"/><rect x="3210.2" y="495.17" width="10.8" height="2.9"/><rect x="3259.1" y="430.95" width="3" height="34.69"/><rect x="3255.2" y="429.2" width="10.8" height="2.9"/><rect x="3259.1" y="473.35" width="3" height="34.69"/><rect x="3255.2" y="506.88" width="10.8" height="2.9"/><rect x="3304.1" y="414.28" width="3" height="38.91"/><rect x="3300.2" y="412.53" width="10.8" height="2.9"/><rect x="3304.1" y="461.84" width="3" height="38.91"/><rect x="3300.2" y="499.59" width="10.8" height="2.9"/><rect x="3349.1" y="395.53" width="3" height="44.53"/><rect x="3345.2" y="393.78" width="10.8" height="2.9"/><rect x="3349.1" y="449.96" width="3" height="44.53"/><rect x="3345.2" y="493.34" width="10.8" height="2.9"/><rect x="3394.1" y="394.75" width="3" height="44.77"/><rect x="3390.2" y="393" width="10.8" height="2.9"/><rect x="3394.1" y="449.47" width="3" height="44.77"/><rect x="3390.2" y="493.08" width="10.8" height="2.9"/><rect x="3439.1" y="395.53" width="3" height="44.53"/><rect x="3435.2" y="393.78" width="10.8" height="2.9"/><rect x="3439.1" y="449.96" width="3" height="44.53"/><rect x="3435.2" y="493.34" width="10.8" height="2.9"/><rect x="3484.1" y="479.91" width="3" height="7.5"/><rect x="3480.2" y="478.16" width="10.8" height="2.9"/><rect x="3484.1" y="489.08" width="3" height="7.5"/><rect x="3480.2" y="495.43" width="10.8" height="2.9"/><rect x="3529.1" y="447.1" width="3" height="12.19"/><rect x="3525.2" y="445.35" width="10.8" height="2.9"/><rect x="3529.1" y="461.99" width="3" height="12.19"/><rect x="3525.2" y="473.03" width="10.8" height="2.9"/><rect x="3574.1" y="353.87" width="3" height="8.44"/><rect x="3570.2" y="352.12" width="10.8" height="2.9"/><rect x="3574.1" y="364.18" width="3" height="8.44"/><rect x="3570.2" y="371.47" width="10.8" height="2.9"/><rect x="3619.1" y="404.39" width="3" height="8.44"/><rect x="3615.2" y="402.64" width="10.8" height="2.9"/><rect x="3619.1" y="414.7" width="3" height="8.44"/><rect x="3615.2" y="421.99" width="10.8" height="2.9"/><rect x="3664.1" y="357.51" width="3" height="7.97"/><rect x="3660.2" y="355.76" width="10.8" height="2.9"/><rect x="3664.1" y="367.25" width="3" height="7.97"/><rect x="3660.2" y="374.07" width="10.8" height="2.9"/><rect x="3709.1" y="360.12" width="3" height="7.97"/><rect x="3705.2" y="358.37" width="10.8" height="2.9"/><rect x="3709.1" y="369.86" width="3" height="7.97"/><rect x="3705.2" y="376.68" width="10.8" height="2.9"/><rect x="154.1" y="698.14" width="3" height="8.91"/><rect x="150.2" y="696.39" width="10.8" height="2.9"/><rect x="154.1" y="709.02" width="3" height="8.91"/><rect x="150.2" y="716.78" width="10.8" height="2.9"/><rect x="199.1" y="625.74" width="3" height="10.78"/><rect x="195.2" y="623.99" width="10.8" height="2.9"/><rect x="199.1" y="638.92" width="3" height="10.78"/><rect x="195.2" y="648.55" width="10.8" height="2.9"/><rect x="244.1" y="659.6" width="3" height="8.44"/><rect x="240.2" y="657.85" width="10.8" height="2.9"/><rect x="244.1" y="669.91" width="3" height="8.44"/><rect x="240.2" y="677.2" width="10.8" height="2.9"/><rect x="289.1" y="685.12" width="3" height="8.91"/><rect x="285.2" y="683.37" width="10.8" height="2.9"/><rect x="289.1" y="696" width="3" height="8.91"/><rect x="285.2" y="703.76" width="10.8" height="2.9"/><rect x="334.1" y="638.76" width="3" height="6.09"/><rect x="330.2" y="637.01" width="10.8" height="2.9"/><rect x="334.1" y="646.21" width="3" height="6.09"/><rect x="330.2" y="651.16" width="10.8" height="2.9"/><rect x="379.1" y="643.97" width="3" height="8.91"/><rect x="375.2" y="642.22" width="10.8" height="2.9"/><rect x="379.1" y="654.86" width="3" height="8.91"/><rect x="375.2" y="662.61" width="10.8" height="2.9"/><rect x="424.1" y="636.16" width="3" height="5.62"/><rect x="420.2" y="634.41" width="10.8" height="2.9"/><rect x="424.1" y="643.04" width="3" height="5.62"/><rect x="420.2" y="647.51" width="10.8" height="2.9"/><rect x="469.1" y="626.26" width="3" height="6.09"/><rect x="465.2" y="624.51" width="10.8" height="2.9"/><rect x="469.1" y="633.71" width="3" height="6.09"/><rect x="465.2" y="638.66" width="10.8" height="2.9"/><rect x="514.1" y="614.81" width="3" height="6.56"/><rect x="510.2" y="613.06" width="10.8" height="2.9"/><rect x="514.1" y="622.83" width="3" height="6.56"/><rect x="510.2" y="628.24" width="10.8" height="2.9"/><rect x="559.1" y="703.35" width="3" height="8.91"/><rect x="555.2" y="701.6" width="10.8" height="2.9"/><rect x="559.1" y="714.23" width="3" height="8.91"/><rect x="555.2" y="721.99" width="10.8" height="2.9"/><rect x="604.1" y="681.47" width="3" height="9.84"/><rect x="600.2" y="679.72" width="10.8" height="2.9"/><rect x="604.1" y="693.5" width="3" height="9.84"/><rect x="600.2" y="702.2" width="10.8" height="2.9"/><rect x="649.1" y="610.12" width="3" height="8.91"/><rect x="645.2" y="608.37" width="10.8" height="2.9"/><rect x="649.1" y="621" width="3" height="8.91"/><rect x="645.2" y="628.76" width="10.8" height="2.9"/><rect x="694.1" y="699.18" width="3" height="9.84"/><rect x="690.2" y="697.43" width="10.8" height="2.9"/><rect x="694.1" y="711.21" width="3" height="9.84"/><rect x="690.2" y="719.91" width="10.8" height="2.9"/><rect x="739.1" y="750.22" width="3" height="8.44"/><rect x="735.2" y="748.47" width="10.8" height="2.9"/><rect x="739.1" y="760.53" width="3" height="8.44"/><rect x="735.2" y="767.82" width="10.8" height="2.9"/><rect x="784.1" y="712.72" width="3" height="37.5"/><rect x="780.2" y="710.97" width="10.8" height="2.9"/><rect x="784.1" y="758.56" width="3" height="37.5"/><rect x="780.2" y="794.91" width="10.8" height="2.9"/><rect x="829.1" y="714.28" width="3" height="38.91"/><rect x="825.2" y="712.53" width="10.8" height="2.9"/><rect x="829.1" y="761.84" width="3" height="38.91"/><rect x="825.2" y="799.59" width="10.8" height="2.9"/><rect x="874.1" y="699.18" width="3" height="42.66"/><rect x="870.2" y="697.43" width="10.8" height="2.9"/><rect x="874.1" y="751.32" width="3" height="42.66"/><rect x="870.2" y="792.82" width="10.8" height="2.9"/><rect x="919.1" y="715.33" width="3" height="37.5"/><rect x="915.2" y="713.58" width="10.8" height="2.9"/><rect x="919.1" y="761.16" width="3" height="37.5"/><rect x="915.2" y="797.51" width="10.8" height="2.9"/><rect x="964.1" y="697.62" width="3" height="43.12"/><rect x="960.2" y="695.87" width="10.8" height="2.9"/><rect x="964.1" y="750.33" width="3" height="43.12"/><rect x="960.2" y="792.3" width="10.8" height="2.9"/><rect x="1009.1" y="711.16" width="3" height="37.5"/><rect x="1005.2" y="709.41" width="10.8" height="2.9"/><rect x="1009.1" y="756.99" width="3" height="37.5"/><rect x="1005.2" y="793.34" width="10.8" height="2.9"/><rect x="1054.1" y="716.37" width="3" height="8.91"/><rect x="1050.2" y="714.62" width="10.8" height="2.9"/><rect x="1054.1" y="727.25" width="3" height="8.91"/><rect x="1050.2" y="735.01" width="10.8" height="2.9"/><rect x="1099.1" y="779.39" width="3" height="7.5"/><rect x="1095.2" y="777.64" width="10.8" height="2.9"/><rect x="1099.1" y="788.56" width="3" height="7.5"/><rect x="1095.2" y="794.91" width="10.8" height="2.9"/><rect x="1144.1" y="753.35" width="3" height="8.91"/><rect x="1140.2" y="751.6" width="10.8" height="2.9"/><rect x="1144.1" y="764.23" width="3" height="8.91"/><rect x="1140.2" y="771.99" width="10.8" height="2.9"/><rect x="1189.1" y="700.74" width="3" height="8.91"/><rect x="1185.2" y="698.99" width="10.8" height="2.9"/><rect x="1189.1" y="711.63" width="3" height="8.91"/><rect x="1185.2" y="719.38" width="10.8" height="2.9"/><rect x="1234.1" y="717.93" width="3" height="8.44"/><rect x="1230.2" y="716.18" width="10.8" height="2.9"/><rect x="1234.1" y="728.24" width="3" height="8.44"/><rect x="1230.2" y="735.53" width="10.8" height="2.9"/><rect x="1279.1" y="799.7" width="3" height="6.56"/><rect x="1275.2" y="797.95" width="10.8" height="2.9"/><rect x="1279.1" y="807.72" width="3" height="6.56"/><rect x="1275.2" y="813.13" width="10.8" height="2.9"/><rect x="1324.1" y="766.37" width="3" height="8.44"/><rect x="1320.2" y="764.62" width="10.8" height="2.9"/><rect x="1324.1" y="776.68" width="3" height="8.44"/><rect x="1320.2" y="783.97" width="10.8" height="2.9"/><rect x="1369.1" y="704.39" width="3" height="8.91"/><rect x="1365.2" y="702.64" width="10.8" height="2.9"/><rect x="1369.1" y="715.27" width="3" height="8.91"/><rect x="1365.2" y="723.03" width="10.8" height="2.9"/><rect x="1414.1" y="733.56" width="3" height="10.78"/><rect x="1410.2" y="731.81" width="10.8" height="2.9"/><rect x="1414.1" y="746.73" width="3" height="10.78"/><rect x="1410.2" y="756.36" width="10.8" height="2.9"/><rect x="1459.1" y="687.2" width="3" height="42.19"/><rect x="1455.2" y="685.45" width="10.8" height="2.9"/><rect x="1459.1" y="738.76" width="3" height="42.19"/><rect x="1455.2" y="779.8" width="10.8" height="2.9"/><rect x="1504.1" y="779.39" width="3" height="6.09"/><rect x="1500.2" y="777.64" width="10.8" height="2.9"/><rect x="1504.1" y="786.84" width="3" height="6.09"/><rect x="1500.2" y="791.78" width="10.8" height="2.9"/><rect x="1549.1" y="767.41" width="3" height="8.91"/><rect x="1545.2" y="765.66" width="10.8" height="2.9"/><rect x="1549.1" y="778.29" width="3" height="8.91"/><rect x="1545.2" y="786.05" width="10.8" height="2.9"/><rect x="1594.1" y="657.51" width="3" height="9.84"/><rect x="1590.2" y="655.76" width="10.8" height="2.9"/><rect x="1594.1" y="669.55" width="3" height="9.84"/><rect x="1590.2" y="678.24" width="10.8" height="2.9"/><rect x="1639.1" y="668.97" width="3" height="8.91"/><rect x="1635.2" y="667.22" width="10.8" height="2.9"/><rect x="1639.1" y="679.86" width="3" height="8.91"/><rect x="1635.2" y="687.61" width="10.8" height="2.9"/><rect x="1684.1" y="627.31" width="3" height="8.44"/><rect x="1680.2" y="625.56" width="10.8" height="2.9"/><rect x="1684.1" y="637.62" width="3" height="8.44"/><rect x="1680.2" y="644.91" width="10.8" height="2.9"/><rect x="1729.1" y="727.83" width="3" height="9.84"/><rect x="1725.2" y="726.08" width="10.8" height="2.9"/><rect x="1729.1" y="739.86" width="3" height="9.84"/><rect x="1725.2" y="748.55" width="10.8" height="2.9"/><rect x="1774.1" y="709.6" width="3" height="7.97"/><rect x="1770.2" y="707.85" width="10.8" height="2.9"/><rect x="1774.1" y="719.34" width="3" height="7.97"/><rect x="1770.2" y="726.16" width="10.8" height="2.9"/><rect x="1819.1" y="720.53" width="3" height="6.56"/><rect x="1815.2" y="718.78" width="10.8" height="2.9"/><rect x="1819.1" y="728.56" width="3" height="6.56"/><rect x="1815.2" y="733.97" width="10.8" height="2.9"/><rect x="1864.1" y="676.78" width="3" height="9.84"/><rect x="1860.2" y="675.03" width="10.8" height="2.9"/><rect x="1864.1" y="688.82" width="3" height="9.84"/><rect x="1860.2" y="697.51" width="10.8" height="2.9"/><rect x="1909.1" y="644.49" width="3" height="8.44"/><rect x="1905.2" y="642.74" width="10.8" height="2.9"/><rect x="1909.1" y="654.81" width="3" height="8.44"/><rect x="1905.2" y="662.09" width="10.8" height="2.9"/><rect x="1954.1" y="606.99" width="3" height="2.81"/><rect x="1950.2" y="605.24" width="10.8" height="2.9"/><rect x="1954.1" y="610.43" width="3" height="2.81"/><rect x="1950.2" y="612.09" width="10.8" height="2.9"/><rect x="1999.1" y="708.03" width="3" height="8.44"/><rect x="1995.2" y="706.28" width="10.8" height="2.9"/><rect x="1999.1" y="718.35" width="3" height="8.44"/><rect x="1995.2" y="725.63" width="10.8" height="2.9"/><rect x="2044.1" y="717.93" width="3" height="9.84"/><rect x="2040.2" y="716.18" width="10.8" height="2.9"/><rect x="2044.1" y="729.96" width="3" height="9.84"/><rect x="2040.2" y="738.66" width="10.8" height="2.9"/><rect x="2089.1" y="750.22" width="3" height="10.31"/><rect x="2085.2" y="748.47" width="10.8" height="2.9"/><rect x="2089.1" y="762.83" width="3" height="10.31"/><rect x="2085.2" y="771.99" width="10.8" height="2.9"/><rect x="2134.1" y="713.24" width="3" height="9.37"/><rect x="2130.2" y="711.49" width="10.8" height="2.9"/><rect x="2134.1" y="724.7" width="3" height="9.37"/><rect x="2130.2" y="732.93" width="10.8" height="2.9"/><rect x="2179.1" y="754.39" width="3" height="7.5"/><rect x="2175.2" y="752.64" width="10.8" height="2.9"/><rect x="2179.1" y="763.56" width="3" height="7.5"/><rect x="2175.2" y="769.91" width="10.8" height="2.9"/><rect x="2224.1" y="767.93" width="3" height="7.03"/><rect x="2220.2" y="766.18" width="10.8" height="2.9"/><rect x="2224.1" y="776.52" width="3" height="7.03"/><rect x="2220.2" y="782.41" width="10.8" height="2.9"/><rect x="2269.1" y="771.58" width="3" height="7.03"/><rect x="2265.2" y="769.83" width="10.8" height="2.9"/><rect x="2269.1" y="780.17" width="3" height="7.03"/><rect x="2265.2" y="786.05" width="10.8" height="2.9"/><rect x="2314.1" y="766.89" width="3" height="7.97"/><rect x="2310.2" y="765.14" width="10.8" height="2.9"/><rect x="2314.1" y="776.63" width="3" height="7.97"/><rect x="2310.2" y="783.45" width="10.8" height="2.9"/><rect x="2359.1" y="767.41" width="3" height="7.5"/><rect x="2355.2" y="765.66" width="10.8" height="2.9"/><rect x="2359.1" y="776.58" width="3" height="7.5"/><rect x="2355.2" y="782.93" width="10.8" height="2.9"/><rect x="2404.1" y="739.28" width="3" height="10.31"/><rect x="2400.2" y="737.53" width="10.8" height="2.9"/><rect x="2404.1" y="751.89" width="3" height="10.31"/><rect x="2400.2" y="761.05" width="10.8" height="2.9"/><rect x="2449.1" y="779.91" width="3" height="7.03"/><rect x="2445.2" y="778.16" width="10.8" height="2.9"/><rect x="2449.1" y="788.5" width="3" height="7.03"/><rect x="2445.2" y="794.38" width="10.8" height="2.9"/><rect x="2494.1" y="756.47" width="3" height="7.97"/><rect x="2490.2" y="754.72" width="10.8" height="2.9"/><rect x="2494.1" y="766.21" width="3" height="7.97"/><rect x="2490.2" y="773.03" width="10.8" height="2.9"/><rect x="2539.1" y="689.81" width="3" height="10.31"/><rect x="2535.2" y="688.06" width="10.8" height="2.9"/><rect x="2539.1" y="702.41" width="3" height="10.31"/><rect x="2535.2" y="711.57" width="10.8" height="2.9"/><rect x="2584.1" y="711.16" width="3" height="37.97"/><rect x="2580.2" y="709.41" width="10.8" height="2.9"/><rect x="2584.1" y="757.57" width="3" height="37.97"/><rect x="2580.2" y="794.38" width="10.8" height="2.9"/><rect x="2629.1" y="702.31" width="3" height="45"/><rect x="2625.2" y="700.56" width="10.8" height="2.9"/><rect x="2629.1" y="757.31" width="3" height="45"/><rect x="2625.2" y="801.16" width="10.8" height="2.9"/><rect x="2674.1" y="747.62" width="3" height="8.91"/><rect x="2670.2" y="745.87" width="10.8" height="2.9"/><rect x="2674.1" y="758.5" width="3" height="8.91"/><rect x="2670.2" y="766.26" width="10.8" height="2.9"/><rect x="2719.1" y="771.58" width="3" height="7.97"/><rect x="2715.2" y="769.83" width="10.8" height="2.9"/><rect x="2719.1" y="781.32" width="3" height="7.97"/><rect x="2715.2" y="788.13" width="10.8" height="2.9"/><rect x="2764.1" y="749.18" width="3" height="7.5"/><rect x="2760.2" y="747.43" width="10.8" height="2.9"/><rect x="2764.1" y="758.35" width="3" height="7.5"/><rect x="2760.2" y="764.7" width="10.8" height="2.9"/><rect x="2809.1" y="728.87" width="3" height="8.91"/><rect x="2805.2" y="727.12" width="10.8" height="2.9"/><rect x="2809.1" y="739.75" width="3" height="8.91"/><rect x="2805.2" y="747.51" width="10.8" height="2.9"/><rect x="2854.1" y="701.26" width="3" height="43.59"/><rect x="2850.2" y="699.51" width="10.8" height="2.9"/><rect x="2854.1" y="754.54" width="3" height="43.59"/><rect x="2850.2" y="796.99" width="10.8" height="2.9"/><rect x="2899.1" y="546.58" width="3" height="28.12"/><rect x="2895.2" y="544.83" width="10.8" height="2.9"/><rect x="2899.1" y="580.95" width="3" height="28.12"/><rect x="2895.2" y="607.93" width="10.8" height="2.9"/><rect x="2944.1" y="684.08" width="3" height="9.37"/><rect x="2940.2" y="682.33" width="10.8" height="2.9"/><rect x="2944.1" y="695.53" width="3" height="9.37"/><rect x="2940.2" y="703.76" width="10.8" height="2.9"/><rect x="2989.1" y="665.33" width="3" height="6.56"/><rect x="2985.2" y="663.58" width="10.8" height="2.9"/><rect x="2989.1" y="673.35" width="3" height="6.56"/><rect x="2985.2" y="678.76" width="10.8" height="2.9"/><rect x="3034.1" y="714.81" width="3" height="8.91"/><rect x="3030.2" y="713.06" width="10.8" height="2.9"/><rect x="3034.1" y="725.69" width="3" height="8.91"/><rect x="3030.2" y="733.45" width="10.8" height="2.9"/><rect x="3079.1" y="634.6" width="3" height="6.09"/><rect x="3075.2" y="632.85" width="10.8" height="2.9"/><rect x="3079.1" y="642.05" width="3" height="6.09"/><rect x="3075.2" y="646.99" width="10.8" height="2.9"/><rect x="3124.1" y="725.74" width="3" height="7.97"/><rect x="3120.2" y="723.99" width="10.8" height="2.9"/><rect x="3124.1" y="735.48" width="3" height="7.97"/><rect x="3120.2" y="742.3" width="10.8" height="2.9"/><rect x="3169.1" y="661.16" width="3" height="10.78"/><rect x="3165.2" y="659.41" width="10.8" height="2.9"/><rect x="3169.1" y="674.34" width="3" height="10.78"/><rect x="3165.2" y="683.97" width="10.8" height="2.9"/><rect x="3214.1" y="685.12" width="3" height="7.5"/><rect x="3210.2" y="683.37" width="10.8" height="2.9"/><rect x="3214.1" y="694.28" width="3" height="7.5"/><rect x="3210.2" y="700.63" width="10.8" height="2.9"/><rect x="3259.1" y="687.2" width="3" height="10.31"/><rect x="3255.2" y="685.45" width="10.8" height="2.9"/><rect x="3259.1" y="699.81" width="3" height="10.31"/><rect x="3255.2" y="708.97" width="10.8" height="2.9"/><rect x="3304.1" y="708.03" width="3" height="9.37"/><rect x="3300.2" y="706.28" width="10.8" height="2.9"/><rect x="3304.1" y="719.49" width="3" height="9.37"/><rect x="3300.2" y="727.72" width="10.8" height="2.9"/><rect x="3349.1" y="748.66" width="3" height="7.97"/><rect x="3345.2" y="746.91" width="10.8" height="2.9"/><rect x="3349.1" y="758.4" width="3" height="7.97"/><rect x="3345.2" y="765.22" width="10.8" height="2.9"/><rect x="3394.1" y="746.06" width="3" height="9.37"/><rect x="3390.2" y="744.31" width="10.8" height="2.9"/><rect x="3394.1" y="757.51" width="3" height="9.37"/><rect x="3390.2" y="765.74" width="10.8" height="2.9"/><rect x="3439.1" y="714.28" width="3" height="9.84"/><rect x="3435.2" y="712.53" width="10.8" height="2.9"/><rect x="3439.1" y="726.32" width="3" height="9.84"/><rect x="3435.2" y="735.01" width="10.8" height="2.9"/><rect x="3484.1" y="594.49" width="3" height="6.56"/><rect x="3480.2" y="592.74" width="10.8" height="2.9"/><rect x="3484.1" y="602.51" width="3" height="6.56"/><rect x="3480.2" y="607.93" width="10.8" height="2.9"/><rect x="3529.1" y="719.49" width="3" height="10.31"/><rect x="3525.2" y="717.74" width="10.8" height="2.9"/><rect x="3529.1" y="732.1" width="3" height="10.31"/><rect x="3525.2" y="741.26" width="10.8" height="2.9"/><rect x="3574.1" y="753.87" width="3" height="8.91"/><rect x="3570.2" y="752.12" width="10.8" height="2.9"/><rect x="3574.1" y="764.75" width="3" height="8.91"/><rect x="3570.2" y="772.51" width="10.8" height="2.9"/><rect x="3619.1" y="674.7" width="3" height="7.5"/><rect x="3615.2" y="672.95" width="10.8" height="2.9"/><rect x="3619.1" y="683.87" width="3" height="7.5"/><rect x="3615.2" y="690.22" width="10.8" height="2.9"/><rect x="3664.1" y="567.41" width="3" height="18.75"/><rect x="3660.2" y="565.66" width="10.8" height="2.9"/><rect x="3664.1" y="590.33" width="3" height="18.75"/><rect x="3660.2" y="607.93" width="10.8" height="2.9"/><rect x="3709.1" y="717.41" width="3" height="8.44"/><rect x="3705.2" y="715.66" width="10.8" height="2.9"/><rect x="3709.1" y="727.72" width="3" height="8.44"/><rect x="3705.2" y="735.01" width="10.8" height="2.9"/><rect x="154.1" y="989.29" width="3" height="9.84"/><rect x="150.2" y="987.54" width="10.8" height="2.9"/><rect x="154.1" y="1001.32" width="3" height="9.84"/><rect x="150.2" y="1010.01" width="10.8" height="2.9"/><rect x="199.1" y="1002.31" width="3" height="37.5"/><rect x="195.2" y="1000.56" width="10.8" height="2.9"/><rect x="199.1" y="1048.14" width="3" height="37.5"/><rect x="195.2" y="1084.49" width="10.8" height="2.9"/><rect x="244.1" y="1030.95" width="3" height="9.84"/><rect x="240.2" y="1029.2" width="10.8" height="2.9"/><rect x="244.1" y="1042.98" width="3" height="9.84"/><rect x="240.2" y="1051.68" width="10.8" height="2.9"/><rect x="289.1" y="999.18" width="3" height="40.31"/><rect x="285.2" y="997.43" width="10.8" height="2.9"/><rect x="289.1" y="1048.45" width="3" height="40.31"/><rect x="285.2" y="1087.61" width="10.8" height="2.9"/><rect x="334.1" y="997.62" width="3" height="39.84"/><rect x="330.2" y="995.87" width="10.8" height="2.9"/><rect x="334.1" y="1046.32" width="3" height="39.84"/><rect x="330.2" y="1085.01" width="10.8" height="2.9"/><rect x="379.1" y="1000.22" width="3" height="41.25"/><rect x="375.2" y="998.47" width="10.8" height="2.9"/><rect x="379.1" y="1050.64" width="3" height="41.25"/><rect x="375.2" y="1090.74" width="10.8" height="2.9"/><rect x="424.1" y="1000.22" width="3" height="41.25"/><rect x="420.2" y="998.47" width="10.8" height="2.9"/><rect x="424.1" y="1050.64" width="3" height="41.25"/><rect x="420.2" y="1090.74" width="10.8" height="2.9"/><rect x="469.1" y="1018.45" width="3" height="31.87"/><rect x="465.2" y="1016.7" width="10.8" height="2.9"/><rect x="469.1" y="1057.41" width="3" height="31.87"/><rect x="465.2" y="1088.13" width="10.8" height="2.9"/><rect x="514.1" y="1051.78" width="3" height="7.97"/><rect x="510.2" y="1050.03" width="10.8" height="2.9"/><rect x="514.1" y="1061.52" width="3" height="7.97"/><rect x="510.2" y="1068.34" width="10.8" height="2.9"/><rect x="559.1" y="1078.35" width="3" height="6.09"/><rect x="555.2" y="1076.6" width="10.8" height="2.9"/><rect x="559.1" y="1085.79" width="3" height="6.09"/><rect x="555.2" y="1090.74" width="10.8" height="2.9"/><rect x="604.1" y="960.12" width="3" height="11.25"/><rect x="600.2" y="958.37" width="10.8" height="2.9"/><rect x="604.1" y="973.87" width="3" height="11.25"/><rect x="600.2" y="983.97" width="10.8" height="2.9"/><rect x="649.1" y="1006.99" width="3" height="37.97"/><rect x="645.2" y="1005.24" width="10.8" height="2.9"/><rect x="649.1" y="1053.4" width="3" height="37.97"/><rect x="645.2" y="1090.22" width="10.8" height="2.9"/><rect x="694.1" y="1006.99" width="3" height="37.97"/><rect x="690.2" y="1005.24" width="10.8" height="2.9"/><rect x="694.1" y="1053.4" width="3" height="37.97"/><rect x="690.2" y="1090.22" width="10.8" height="2.9"/><rect x="739.1" y="994.49" width="3" height="41.25"/><rect x="735.2" y="992.74" width="10.8" height="2.9"/><rect x="739.1" y="1044.91" width="3" height="41.25"/><rect x="735.2" y="1085.01" width="10.8" height="2.9"/><rect x="784.1" y="1006.99" width="3" height="37.97"/><rect x="780.2" y="1005.24" width="10.8" height="2.9"/><rect x="784.1" y="1053.4" width="3" height="37.97"/><rect x="780.2" y="1090.22" width="10.8" height="2.9"/><rect x="829.1" y="1002.83" width="3" height="38.44"/><rect x="825.2" y="1001.08" width="10.8" height="2.9"/><rect x="829.1" y="1049.81" width="3" height="38.44"/><rect x="825.2" y="1087.09" width="10.8" height="2.9"/><rect x="874.1" y="1005.95" width="3" height="38.44"/><rect x="870.2" y="1004.2" width="10.8" height="2.9"/><rect x="874.1" y="1052.93" width="3" height="38.44"/><rect x="870.2" y="1090.22" width="10.8" height="2.9"/><rect x="919.1" y="997.1" width="3" height="38.44"/><rect x="915.2" y="995.35" width="10.8" height="2.9"/><rect x="919.1" y="1044.08" width="3" height="38.44"/><rect x="915.2" y="1081.36" width="10.8" height="2.9"/><rect x="964.1" y="1001.26" width="3" height="37.5"/><rect x="960.2" y="999.51" width="10.8" height="2.9"/><rect x="964.1" y="1047.1" width="3" height="37.5"/><rect x="960.2" y="1083.45" width="10.8" height="2.9"/><rect x="1009.1" y="995.01" width="3" height="45"/><rect x="1005.2" y="993.26" width="10.8" height="2.9"/><rect x="1009.1" y="1050.01" width="3" height="45"/><rect x="1005.2" y="1093.86" width="10.8" height="2.9"/><rect x="1054.1" y="916.37" width="3" height="9.37"/><rect x="1050.2" y="914.62" width="10.8" height="2.9"/><rect x="1054.1" y="927.83" width="3" height="9.37"/><rect x="1050.2" y="936.05" width="10.8" height="2.9"/><rect x="1099.1" y="1049.7" width="3" height="8.44"/><rect x="1095.2" y="1047.95" width="10.8" height="2.9"/><rect x="1099.1" y="1060.01" width="3" height="8.44"/><rect x="1095.2" y="1067.3" width="10.8" height="2.9"/><rect x="1144.1" y="1028.87" width="3" height="8.91"/><rect x="1140.2" y="1027.12" width="10.8" height="2.9"/><rect x="1144.1" y="1039.75" width="3" height="8.91"/><rect x="1140.2" y="1047.51" width="10.8" height="2.9"/><rect x="1189.1" y="973.14" width="3" height="9.37"/><rect x="1185.2" y="971.39" width="10.8" height="2.9"/><rect x="1189.1" y="984.6" width="3" height="9.37"/><rect x="1185.2" y="992.82" width="10.8" height="2.9"/><rect x="1234.1" y="1032.51" width="3" height="8.44"/><rect x="1230.2" y="1030.76" width="10.8" height="2.9"/><rect x="1234.1" y="1042.83" width="3" height="8.44"/><rect x="1230.2" y="1050.11" width="10.8" height="2.9"/><rect x="1279.1" y="1073.14" width="3" height="5.16"/><rect x="1275.2" y="1071.39" width="10.8" height="2.9"/><rect x="1279.1" y="1079.44" width="3" height="5.16"/><rect x="1275.2" y="1083.45" width="10.8" height="2.9"/><rect x="1324.1" y="904.91" width="3" height="7.5"/><rect x="1320.2" y="903.16" width="10.8" height="2.9"/><rect x="1324.1" y="914.08" width="3" height="7.5"/><rect x="1320.2" y="920.43" width="10.8" height="2.9"/><rect x="1369.1" y="995.01" width="3" height="8.44"/><rect x="1365.2" y="993.26" width="10.8" height="2.9"/><rect x="1369.1" y="1005.33" width="3" height="8.44"/><rect x="1365.2" y="1012.61" width="10.8" height="2.9"/><rect x="1414.1" y="1063.24" width="3" height="7.03"/><rect x="1410.2" y="1061.49" width="10.8" height="2.9"/><rect x="1414.1" y="1071.84" width="3" height="7.03"/><rect x="1410.2" y="1077.72" width="10.8" height="2.9"/><rect x="1459.1" y="1084.08" width="3" height="6.56"/><rect x="1455.2" y="1082.33" width="10.8" height="2.9"/><rect x="1459.1" y="1092.1" width="3" height="6.56"/><rect x="1455.2" y="1097.51" width="10.8" height="2.9"/><rect x="1504.1" y="977.83" width="3" height="10.78"/><rect x="1500.2" y="976.08" width="10.8" height="2.9"/><rect x="1504.1" y="991" width="3" height="10.78"/><rect x="1500.2" y="1000.64" width="10.8" height="2.9"/><rect x="1549.1" y="1009.6" width="3" height="10.31"/><rect x="1545.2" y="1007.85" width="10.8" height="2.9"/><rect x="1549.1" y="1022.2" width="3" height="10.31"/><rect x="1545.2" y="1031.36" width="10.8" height="2.9"/><rect x="1594.1" y="1062.72" width="3" height="7.03"/><rect x="1590.2" y="1060.97" width="10.8" height="2.9"/><rect x="1594.1" y="1071.32" width="3" height="7.03"/><rect x="1590.2" y="1077.2" width="10.8" height="2.9"/><rect x="1639.1" y="1051.78" width="3" height="7.97"/><rect x="1635.2" y="1050.03" width="10.8" height="2.9"/><rect x="1639.1" y="1061.52" width="3" height="7.97"/><rect x="1635.2" y="1068.34" width="10.8" height="2.9"/><rect x="1684.1" y="976.26" width="3" height="7.5"/><rect x="1680.2" y="974.51" width="10.8" height="2.9"/><rect x="1684.1" y="985.43" width="3" height="7.5"/><rect x="1680.2" y="991.78" width="10.8" height="2.9"/><rect x="1729.1" y="999.18" width="3" height="40.31"/><rect x="1725.2" y="997.43" width="10.8" height="2.9"/><rect x="1729.1" y="1048.45" width="3" height="40.31"/><rect x="1725.2" y="1087.61" width="10.8" height="2.9"/><rect x="1774.1" y="1041.89" width="3" height="8.44"/><rect x="1770.2" y="1040.14" width="10.8" height="2.9"/><rect x="1774.1" y="1052.2" width="3" height="8.44"/><rect x="1770.2" y="1059.49" width="10.8" height="2.9"/><rect x="1819.1" y="986.68" width="3" height="43.59"/><rect x="1815.2" y="984.93" width="10.8" height="2.9"/><rect x="1819.1" y="1039.96" width="3" height="43.59"/><rect x="1815.2" y="1082.41" width="10.8" height="2.9"/><rect x="1864.1" y="991.89" width="3" height="41.72"/><rect x="1860.2" y="990.14" width="10.8" height="2.9"/><rect x="1864.1" y="1042.88" width="3" height="41.72"/><rect x="1860.2" y="1083.45" width="10.8" height="2.9"/><rect x="1909.1" y="1063.24" width="3" height="6.56"/><rect x="1905.2" y="1061.49" width="10.8" height="2.9"/><rect x="1909.1" y="1071.26" width="3" height="6.56"/><rect x="1905.2" y="1076.68" width="10.8" height="2.9"/><rect x="1954.1" y="1055.43" width="3" height="7.97"/><rect x="1950.2" y="1053.68" width="10.8" height="2.9"/><rect x="1954.1" y="1065.17" width="3" height="7.97"/><rect x="1950.2" y="1071.99" width="10.8" height="2.9"/><rect x="1999.1" y="1026.26" width="3" height="8.91"/><rect x="1995.2" y="1024.51" width="10.8" height="2.9"/><rect x="1999.1" y="1037.15" width="3" height="8.91"/><rect x="1995.2" y="1044.91" width="10.8" height="2.9"/><rect x="2044.1" y="1017.93" width="3" height="32.81"/><rect x="2040.2" y="1016.18" width="10.8" height="2.9"/><rect x="2044.1" y="1058.03" width="3" height="32.81"/><rect x="2040.2" y="1089.7" width="10.8" height="2.9"/><rect x="2089.1" y="1025.22" width="3" height="9.84"/><rect x="2085.2" y="1023.47" width="10.8" height="2.9"/><rect x="2089.1" y="1037.25" width="3" height="9.84"/><rect x="2085.2" y="1045.95" width="10.8" height="2.9"/><rect x="2134.1" y="1000.22" width="3" height="40.78"/><rect x="2130.2" y="998.47" width="10.8" height="2.9"/><rect x="2134.1" y="1050.07" width="3" height="40.78"/><rect x="2130.2" y="1089.7" width="10.8" height="2.9"/><rect x="2179.1" y="999.18" width="3" height="40.31"/><rect x="2175.2" y="997.43" width="10.8" height="2.9"/><rect x="2179.1" y="1048.45" width="3" height="40.31"/><rect x="2175.2" y="1087.61" width="10.8" height="2.9"/><rect x="2224.1" y="999.18" width="3" height="40.31"/><rect x="2220.2" y="997.43" width="10.8" height="2.9"/><rect x="2224.1" y="1048.45" width="3" height="40.31"/><rect x="2220.2" y="1087.61" width="10.8" height="2.9"/><rect x="2269.1" y="1076.78" width="3" height="5.62"/><rect x="2265.2" y="1075.03" width="10.8" height="2.9"/><rect x="2269.1" y="1083.66" width="3" height="5.62"/><rect x="2265.2" y="1088.13" width="10.8" height="2.9"/><rect x="2314.1" y="931.47" width="3" height="9.84"/><rect x="2310.2" y="929.72" width="10.8" height="2.9"/><rect x="2314.1" y="943.5" width="3" height="9.84"/><rect x="2310.2" y="952.2" width="10.8" height="2.9"/><rect x="2359.1" y="997.1" width="3" height="9.37"/><rect x="2355.2" y="995.35" width="10.8" height="2.9"/><rect x="2359.1" y="1008.56" width="3" height="9.37"/><rect x="2355.2" y="1016.78" width="10.8" height="2.9"/><rect x="2404.1" y="991.89" width="3" height="7.03"/><rect x="2400.2" y="990.14" width="10.8" height="2.9"/><rect x="2404.1" y="1000.48" width="3" height="7.03"/><rect x="2400.2" y="1006.36" width="10.8" height="2.9"/><rect x="2449.1" y="931.47" width="3" height="6.56"/><rect x="2445.2" y="929.72" width="10.8" height="2.9"/><rect x="2449.1" y="939.49" width="3" height="6.56"/><rect x="2445.2" y="944.91" width="10.8" height="2.9"/><rect x="2494.1" y="1032.51" width="3" height="7.97"/><rect x="2490.2" y="1030.76" width="10.8" height="2.9"/><rect x="2494.1" y="1042.25" width="3" height="7.97"/><rect x="2490.2" y="1049.07" width="10.8" height="2.9"/><rect x="2539.1" y="897.62" width="3" height="3.28"/><rect x="2535.2" y="895.87" width="10.8" height="2.9"/><rect x="2539.1" y="901.63" width="3" height="3.28"/><rect x="2535.2" y="903.76" width="10.8" height="2.9"/><rect x="2584.1" y="1040.85" width="3" height="7.5"/><rect x="2580.2" y="1039.1" width="10.8" height="2.9"/><rect x="2584.1" y="1050.01" width="3" height="7.5"/><rect x="2580.2" y="1056.36" width="10.8" height="2.9"/><rect x="2629.1" y="1004.39" width="3" height="7.97"/><rect x="2625.2" y="1002.64" width="10.8" height="2.9"/><rect x="2629.1" y="1014.13" width="3" height="7.97"/><rect x="2625.2" y="1020.95" width="10.8" height="2.9"/><rect x="2674.1" y="972.1" width="3" height="10.31"/><rect x="2670.2" y="970.35" width="10.8" height="2.9"/><rect x="2674.1" y="984.7" width="3" height="10.31"/><rect x="2670.2" y="993.86" width="10.8" height="2.9"/><rect x="2719.1" y="975.74" width="3" height="9.84"/><rect x="2715.2" y="973.99" width="10.8" height="2.9"/><rect x="2719.1" y="987.77" width="3" height="9.84"/><rect x="2715.2" y="996.47" width="10.8" height="2.9"/><rect x="2764.1" y="999.18" width="3" height="41.72"/><rect x="2760.2" y="997.43" width="10.8" height="2.9"/><rect x="2764.1" y="1050.17" width="3" height="41.72"/><rect x="2760.2" y="1090.74" width="10.8" height="2.9"/><rect x="2809.1" y="998.66" width="3" height="40.78"/><rect x="2805.2" y="996.91" width="10.8" height="2.9"/><rect x="2809.1" y="1048.5" width="3" height="40.78"/><rect x="2805.2" y="1088.13" width="10.8" height="2.9"/><rect x="2854.1" y="1005.95" width="3" height="37.97"/><rect x="2850.2" y="1004.2" width="10.8" height="2.9"/><rect x="2854.1" y="1052.36" width="3" height="37.97"/><rect x="2850.2" y="1089.18" width="10.8" height="2.9"/><rect x="2899.1" y="1010.12" width="3" height="35.16"/><rect x="2895.2" y="1008.37" width="10.8" height="2.9"/><rect x="2899.1" y="1053.09" width="3" height="35.16"/><rect x="2895.2" y="1087.09" width="10.8" height="2.9"/><rect x="2944.1" y="1007.51" width="3" height="34.69"/><rect x="2940.2" y="1005.76" width="10.8" height="2.9"/><rect x="2944.1" y="1049.91" width="3" height="34.69"/><rect x="2940.2" y="1083.45" width="10.8" height="2.9"/><rect x="2989.1" y="1011.16" width="3" height="34.69"/><rect x="2985.2" y="1009.41" width="10.8" height="2.9"/><rect x="2989.1" y="1053.56" width="3" height="34.69"/><rect x="2985.2" y="1087.09" width="10.8" height="2.9"/><rect x="3034.1" y="1003.61" width="3" height="40.08"/><rect x="3030.2" y="1001.86" width="10.8" height="2.9"/><rect x="3034.1" y="1052.59" width="3" height="40.08"/><rect x="3030.2" y="1091.52" width="10.8" height="2.9"/><rect x="3079.1" y="1009.08" width="3" height="35.16"/><rect x="3075.2" y="1007.33" width="10.8" height="2.9"/><rect x="3079.1" y="1052.05" width="3" height="35.16"/><rect x="3075.2" y="1086.05" width="10.8" height="2.9"/><rect x="3124.1" y="1012.72" width="3" height="36.09"/><rect x="3120.2" y="1010.97" width="10.8" height="2.9"/><rect x="3124.1" y="1056.84" width="3" height="36.09"/><rect x="3120.2" y="1091.78" width="10.8" height="2.9"/><rect x="3169.1" y="1010.12" width="3" height="35.16"/><rect x="3165.2" y="1008.37" width="10.8" height="2.9"/><rect x="3169.1" y="1053.09" width="3" height="35.16"/><rect x="3165.2" y="1087.09" width="10.8" height="2.9"/><rect x="3214.1" y="1000.22" width="3" height="39.37"/><rect x="3210.2" y="998.47" width="10.8" height="2.9"/><rect x="3214.1" y="1048.35" width="3" height="39.37"/><rect x="3210.2" y="1086.57" width="10.8" height="2.9"/><rect x="3259.1" y="999.7" width="3" height="38.44"/><rect x="3255.2" y="997.95" width="10.8" height="2.9"/><rect x="3259.1" y="1046.68" width="3" height="38.44"/><rect x="3255.2" y="1083.97" width="10.8" height="2.9"/><rect x="3304.1" y="983.04" width="3" height="45.47"/><rect x="3300.2" y="981.29" width="10.8" height="2.9"/><rect x="3304.1" y="1038.61" width="3" height="45.47"/><rect x="3300.2" y="1082.93" width="10.8" height="2.9"/><rect x="3349.1" y="1000.74" width="3" height="38.44"/><rect x="3345.2" y="998.99" width="10.8" height="2.9"/><rect x="3349.1" y="1047.72" width="3" height="38.44"/><rect x="3345.2" y="1085.01" width="10.8" height="2.9"/><rect x="3394.1" y="953.35" width="3" height="11.25"/><rect x="3390.2" y="951.6" width="10.8" height="2.9"/><rect x="3394.1" y="967.1" width="3" height="11.25"/><rect x="3390.2" y="977.2" width="10.8" height="2.9"/><rect x="3439.1" y="967.41" width="3" height="9.37"/><rect x="3435.2" y="965.66" width="10.8" height="2.9"/><rect x="3439.1" y="978.87" width="3" height="9.37"/><rect x="3435.2" y="987.09" width="10.8" height="2.9"/><rect x="3484.1" y="1006.99" width="3" height="38.44"/><rect x="3480.2" y="1005.24" width="10.8" height="2.9"/><rect x="3484.1" y="1053.97" width="3" height="38.44"/><rect x="3480.2" y="1091.26" width="10.8" height="2.9"/><rect x="3529.1" y="1001.79" width="3" height="37.5"/><rect x="3525.2" y="1000.04" width="10.8" height="2.9"/><rect x="3529.1" y="1047.62" width="3" height="37.5"/><rect x="3525.2" y="1083.97" width="10.8" height="2.9"/><rect x="3574.1" y="993.45" width="3" height="43.59"/><rect x="3570.2" y="991.7" width="10.8" height="2.9"/><rect x="3574.1" y="1046.73" width="3" height="43.59"/><rect x="3570.2" y="1089.18" width="10.8" height="2.9"/><rect x="3619.1" y="1004.91" width="3" height="37.5"/><rect x="3615.2" y="1003.16" width="10.8" height="2.9"/><rect x="3619.1" y="1050.74" width="3" height="37.5"/><rect x="3615.2" y="1087.09" width="10.8" height="2.9"/><rect x="3664.1" y="990.33" width="3" height="42.66"/><rect x="3660.2" y="988.58" width="10.8" height="2.9"/><rect x="3664.1" y="1042.46" width="3" height="42.66"/><rect x="3660.2" y="1083.97" width="10.8" height="2.9"/><rect x="3709.1" y="1000.74" width="3" height="38.44"/><rect x="3705.2" y="998.99" width="10.8" height="2.9"/><rect x="3709.1" y="1047.72" width="3" height="38.44"/><rect x="3705.2" y="1085.01" width="10.8" height="2.9"/><rect x="154.1" y="1292.93" width="3" height="39.37"/><rect x="150.2" y="1291.18" width="10.8" height="2.9"/><rect x="154.1" y="1341.06" width="3" height="39.37"/><rect x="150.2" y="1379.28" width="10.8" height="2.9"/><rect x="199.1" y="1287.72" width="3" height="39.84"/><rect x="195.2" y="1285.97" width="10.8" height="2.9"/><rect x="199.1" y="1336.42" width="3" height="39.84"/><rect x="195.2" y="1375.11" width="10.8" height="2.9"/><rect x="244.1" y="1295.8" width="3" height="40.08"/><rect x="240.2" y="1294.05" width="10.8" height="2.9"/><rect x="244.1" y="1344.78" width="3" height="40.08"/><rect x="240.2" y="1383.71" width="10.8" height="2.9"/><rect x="289.1" y="1293.97" width="3" height="37.97"/><rect x="285.2" y="1292.22" width="10.8" height="2.9"/><rect x="289.1" y="1340.38" width="3" height="37.97"/><rect x="285.2" y="1377.2" width="10.8" height="2.9"/><rect x="334.1" y="1302.83" width="3" height="36.56"/><rect x="330.2" y="1301.08" width="10.8" height="2.9"/><rect x="334.1" y="1347.51" width="3" height="36.56"/><rect x="330.2" y="1382.93" width="10.8" height="2.9"/><rect x="379.1" y="1291.89" width="3" height="37.97"/><rect x="375.2" y="1290.14" width="10.8" height="2.9"/><rect x="379.1" y="1338.3" width="3" height="37.97"/><rect x="375.2" y="1375.11" width="10.8" height="2.9"/><rect x="424.1" y="1299.7" width="3" height="34.69"/><rect x="420.2" y="1297.95" width="10.8" height="2.9"/><rect x="424.1" y="1342.1" width="3" height="34.69"/><rect x="420.2" y="1375.63" width="10.8" height="2.9"/><rect x="469.1" y="1289.29" width="3" height="36.56"/><rect x="465.2" y="1287.54" width="10.8" height="2.9"/><rect x="469.1" y="1333.97" width="3" height="36.56"/><rect x="465.2" y="1369.38" width="10.8" height="2.9"/><rect x="514.1" y="1268.45" width="3" height="45"/><rect x="510.2" y="1266.7" width="10.8" height="2.9"/><rect x="514.1" y="1323.45" width="3" height="45"/><rect x="510.2" y="1367.3" width="10.8" height="2.9"/><rect x="559.1" y="1295.01" width="3" height="38.91"/><rect x="555.2" y="1293.26" width="10.8" height="2.9"/><rect x="559.1" y="1342.57" width="3" height="38.91"/><rect x="555.2" y="1380.32" width="10.8" height="2.9"/><rect x="604.1" y="1198.66" width="3" height="8.91"/><rect x="600.2" y="1196.91" width="10.8" height="2.9"/><rect x="604.1" y="1209.55" width="3" height="8.91"/><rect x="600.2" y="1217.3" width="10.8" height="2.9"/><rect x="649.1" y="1376.26" width="3" height="7.97"/><rect x="645.2" y="1374.51" width="10.8" height="2.9"/><rect x="649.1" y="1386" width="3" height="7.97"/><rect x="645.2" y="1392.82" width="10.8" height="2.9"/><rect x="694.1" y="1337.2" width="3" height="7.97"/><rect x="690.2" y="1335.45" width="10.8" height="2.9"/><rect x="694.1" y="1346.94" width="3" height="7.97"/><rect x="690.2" y="1353.76" width="10.8" height="2.9"/><rect x="739.1" y="1285.12" width="3" height="10.31"/><rect x="735.2" y="1283.37" width="10.8" height="2.9"/><rect x="739.1" y="1297.72" width="3" height="10.31"/><rect x="735.2" y="1306.89" width="10.8" height="2.9"/><rect x="784.1" y="1316.37" width="3" height="7.03"/><rect x="780.2" y="1314.62" width="10.8" height="2.9"/><rect x="784.1" y="1324.96" width="3" height="7.03"/><rect x="780.2" y="1330.84" width="10.8" height="2.9"/><rect x="829.1" y="1367.41" width="3" height="7.5"/><rect x="825.2" y="1365.66" width="10.8" height="2.9"/><rect x="829.1" y="1376.58" width="3" height="7.5"/><rect x="825.2" y="1382.93" width="10.8" height="2.9"/><rect x="874.1" y="1386.16" width="3" height="5.62"/><rect x="870.2" y="1384.41" width="10.8" height="2.9"/><rect x="874.1" y="1393.03" width="3" height="5.62"/><rect x="870.2" y="1397.51" width="10.8" height="2.9"/><rect x="919.1" y="1270.54" width="3" height="10.78"/><rect x="915.2" y="1268.79" width="10.8" height="2.9"/><rect x="919.1" y="1283.71" width="3" height="10.78"/><rect x="915.2" y="1293.34" width="10.8" height="2.9"/><rect x="964.1" y="1278.35" width="3" height="10.31"/><rect x="960.2" y="1276.6" width="10.8" height="2.9"/><rect x="964.1" y="1290.95" width="3" height="10.31"/><rect x="960.2" y="1300.11" width="10.8" height="2.9"/><rect x="1009.1" y="1358.04" width="3" height="7.5"/><rect x="1005.2" y="1356.29" width="10.8" height="2.9"/><rect x="1009.1" y="1367.2" width="3" height="7.5"/><rect x="1005.2" y="1373.55" width="10.8" height="2.9"/><rect x="1054.1" y="1345.54" width="3" height="8.91"/><rect x="1050.2" y="1343.79" width="10.8" height="2.9"/><rect x="1054.1" y="1356.42" width="3" height="8.91"/><rect x="1050.2" y="1364.18" width="10.8" height="2.9"/><rect x="1099.1" y="1314.29" width="3" height="8.91"/><rect x="1095.2" y="1312.54" width="10.8" height="2.9"/><rect x="1099.1" y="1325.17" width="3" height="8.91"/><rect x="1095.2" y="1332.93" width="10.8" height="2.9"/><rect x="1144.1" y="1280.43" width="3" height="8.44"/><rect x="1140.2" y="1278.68" width="10.8" height="2.9"/><rect x="1144.1" y="1290.74" width="3" height="8.44"/><rect x="1140.2" y="1298.03" width="10.8" height="2.9"/><rect x="1189.1" y="1302.83" width="3" height="9.37"/><rect x="1185.2" y="1301.08" width="10.8" height="2.9"/><rect x="1189.1" y="1314.29" width="3" height="9.37"/><rect x="1185.2" y="1322.51" width="10.8" height="2.9"/><rect x="1234.1" y="1254.39" width="3" height="22.03"/><rect x="1230.2" y="1252.64" width="10.8" height="2.9"/><rect x="1234.1" y="1281.32" width="3" height="22.03"/><rect x="1230.2" y="1302.2" width="10.8" height="2.9"/><rect x="1279.1" y="1290.33" width="3" height="10.78"/><rect x="1275.2" y="1288.58" width="10.8" height="2.9"/><rect x="1279.1" y="1303.5" width="3" height="10.78"/><rect x="1275.2" y="1313.14" width="10.8" height="2.9"/><rect x="1324.1" y="1229.91" width="3" height="8.44"/><rect x="1320.2" y="1228.16" width="10.8" height="2.9"/><rect x="1324.1" y="1240.22" width="3" height="8.44"/><rect x="1320.2" y="1247.51" width="10.8" height="2.9"/><rect x="1369.1" y="1327.83" width="3" height="7.5"/><rect x="1365.2" y="1326.08" width="10.8" height="2.9"/><rect x="1369.1" y="1336.99" width="3" height="7.5"/><rect x="1365.2" y="1343.34" width="10.8" height="2.9"/><rect x="1414.1" y="1225.74" width="3" height="9.84"/><rect x="1410.2" y="1223.99" width="10.8" height="2.9"/><rect x="1414.1" y="1237.78" width="3" height="9.84"/><rect x="1410.2" y="1246.47" width="10.8" height="2.9"/><rect x="1459.1" y="1190.33" width="3" height="4.22"/><rect x="1455.2" y="1188.58" width="10.8" height="2.9"/><rect x="1459.1" y="1195.48" width="3" height="4.22"/><rect x="1455.2" y="1198.55" width="10.8" height="2.9"/><rect x="1504.1" y="1288.76" width="3" height="9.84"/><rect x="1500.2" y="1287.01" width="10.8" height="2.9"/><rect x="1504.1" y="1300.8" width="3" height="9.84"/><rect x="1500.2" y="1309.49" width="10.8" height="2.9"/><rect x="1549.1" y="1275.74" width="3" height="9.84"/><rect x="1545.2" y="1273.99" width="10.8" height="2.9"/><rect x="1549.1" y="1287.78" width="3" height="9.84"/><rect x="1545.2" y="1296.47" width="10.8" height="2.9"/><rect x="1594.1" y="1274.18" width="3" height="7.5"/><rect x="1590.2" y="1272.43" width="10.8" height="2.9"/><rect x="1594.1" y="1283.35" width="3" height="7.5"/><rect x="1590.2" y="1289.7" width="10.8" height="2.9"/><rect x="1639.1" y="1203.35" width="3" height="6.56"/><rect x="1635.2" y="1201.6" width="10.8" height="2.9"/><rect x="1639.1" y="1211.37" width="3" height="6.56"/><rect x="1635.2" y="1216.78" width="10.8" height="2.9"/><rect x="1684.1" y="1213.77" width="3" height="9.37"/><rect x="1680.2" y="1212.02" width="10.8" height="2.9"/><rect x="1684.1" y="1225.22" width="3" height="9.37"/><rect x="1680.2" y="1233.45" width="10.8" height="2.9"/><rect x="1729.1" y="1202.83" width="3" height="8.91"/><rect x="1725.2" y="1201.08" width="10.8" height="2.9"/><rect x="1729.1" y="1213.71" width="3" height="8.91"/><rect x="1725.2" y="1221.47" width="10.8" height="2.9"/><rect x="1774.1" y="1264.29" width="3" height="10.78"/><rect x="1770.2" y="1262.54" width="10.8" height="2.9"/><rect x="1774.1" y="1277.46" width="3" height="10.78"/><rect x="1770.2" y="1287.09" width="10.8" height="2.9"/><rect x="1819.1" y="1247.62" width="3" height="11.25"/><rect x="1815.2" y="1245.87" width="10.8" height="2.9"/><rect x="1819.1" y="1261.37" width="3" height="11.25"/><rect x="1815.2" y="1271.47" width="10.8" height="2.9"/><rect x="1864.1" y="1190.85" width="3" height="5.62"/><rect x="1860.2" y="1189.1" width="10.8" height="2.9"/><rect x="1864.1" y="1197.72" width="3" height="5.62"/><rect x="1860.2" y="1202.2" width="10.8" height="2.9"/><rect x="1909.1" y="1330.43" width="3" height="9.84"/><rect x="1905.2" y="1328.68" width="10.8" height="2.9"/><rect x="1909.1" y="1342.46" width="3" height="9.84"/><rect x="1905.2" y="1351.16" width="10.8" height="2.9"/><rect x="1954.1" y="1354.91" width="3" height="6.56"/><rect x="1950.2" y="1353.16" width="10.8" height="2.9"/><rect x="1954.1" y="1362.93" width="3" height="6.56"/><rect x="1950.2" y="1368.34" width="10.8" height="2.9"/><rect x="1999.1" y="1272.62" width="3" height="10.78"/><rect x="1995.2" y="1270.87" width="10.8" height="2.9"/><rect x="1999.1" y="1285.8" width="3" height="10.78"/><rect x="1995.2" y="1295.43" width="10.8" height="2.9"/><rect x="2044.1" y="1317.41" width="3" height="29.53"/><rect x="2040.2" y="1315.66" width="10.8" height="2.9"/><rect x="2044.1" y="1353.5" width="3" height="29.53"/><rect x="2040.2" y="1381.88" width="10.8" height="2.9"/><rect x="2089.1" y="1303.87" width="3" height="32.81"/><rect x="2085.2" y="1302.12" width="10.8" height="2.9"/><rect x="2089.1" y="1343.97" width="3" height="32.81"/><rect x="2085.2" y="1375.63" width="10.8" height="2.9"/><rect x="2134.1" y="1330.95" width="3" height="23.91"/><rect x="2130.2" y="1329.2" width="10.8" height="2.9"/><rect x="2134.1" y="1360.17" width="3" height="23.91"/><rect x="2130.2" y="1382.93" width="10.8" height="2.9"/><rect x="2179.1" y="1378.87" width="3" height="5.62"/><rect x="2175.2" y="1377.12" width="10.8" height="2.9"/><rect x="2179.1" y="1385.74" width="3" height="5.62"/><rect x="2175.2" y="1390.22" width="10.8" height="2.9"/><rect x="2224.1" y="1309.6" width="3" height="11.25"/><rect x="2220.2" y="1307.85" width="10.8" height="2.9"/><rect x="2224.1" y="1323.35" width="3" height="11.25"/><rect x="2220.2" y="1333.45" width="10.8" height="2.9"/><rect x="2269.1" y="1354.39" width="3" height="6.56"/><rect x="2265.2" y="1352.64" width="10.8" height="2.9"/><rect x="2269.1" y="1362.41" width="3" height="6.56"/><rect x="2265.2" y="1367.82" width="10.8" height="2.9"/><rect x="2314.1" y="1349.18" width="3" height="17.81"/><rect x="2310.2" y="1347.43" width="10.8" height="2.9"/><rect x="2314.1" y="1370.95" width="3" height="17.81"/><rect x="2310.2" y="1387.61" width="10.8" height="2.9"/><rect x="2359.1" y="1380.95" width="3" height="6.09"/><rect x="2355.2" y="1379.2" width="10.8" height="2.9"/><rect x="2359.1" y="1388.4" width="3" height="6.09"/><rect x="2355.2" y="1393.34" width="10.8" height="2.9"/><rect x="2404.1" y="1237.2" width="3" height="12.66"/><rect x="2400.2" y="1235.45" width="10.8" height="2.9"/><rect x="2404.1" y="1252.67" width="3" height="12.66"/><rect x="2400.2" y="1264.18" width="10.8" height="2.9"/><rect x="2449.1" y="1355.43" width="3" height="8.44"/><rect x="2445.2" y="1353.68" width="10.8" height="2.9"/><rect x="2449.1" y="1365.74" width="3" height="8.44"/><rect x="2445.2" y="1373.03" width="10.8" height="2.9"/><rect x="2494.1" y="1346.58" width="3" height="7.97"/><rect x="2490.2" y="1344.83" width="10.8" height="2.9"/><rect x="2494.1" y="1356.32" width="3" height="7.97"/><rect x="2490.2" y="1363.13" width="10.8" height="2.9"/><rect x="2539.1" y="1317.41" width="3" height="8.91"/><rect x="2535.2" y="1315.66" width="10.8" height="2.9"/><rect x="2539.1" y="1328.3" width="3" height="8.91"/><rect x="2535.2" y="1336.05" width="10.8" height="2.9"/><rect x="2584.1" y="1347.1" width="3" height="8.91"/><rect x="2580.2" y="1345.35" width="10.8" height="2.9"/><rect x="2584.1" y="1357.98" width="3" height="8.91"/><rect x="2580.2" y="1365.74" width="10.8" height="2.9"/><rect x="2629.1" y="1346.06" width="3" height="21.56"/><rect x="2625.2" y="1344.31" width="10.8" height="2.9"/><rect x="2629.1" y="1372.41" width="3" height="21.56"/><rect x="2625.2" y="1392.82" width="10.8" height="2.9"/><rect x="2674.1" y="1201.79" width="3" height="11.72"/><rect x="2670.2" y="1200.04" width="10.8" height="2.9"/><rect x="2674.1" y="1216.11" width="3" height="11.72"/><rect x="2670.2" y="1226.68" width="10.8" height="2.9"/><rect x="2719.1" y="1299.7" width="3" height="33.75"/><rect x="2715.2" y="1297.95" width="10.8" height="2.9"/><rect x="2719.1" y="1340.95" width="3" height="33.75"/><rect x="2715.2" y="1373.55" width="10.8" height="2.9"/><rect x="2764.1" y="1308.56" width="3" height="32.34"/><rect x="2760.2" y="1306.81" width="10.8" height="2.9"/><rect x="2764.1" y="1348.09" width="3" height="32.34"/><rect x="2760.2" y="1379.28" width="10.8" height="2.9"/><rect x="2809.1" y="1331.99" width="3" height="26.72"/><rect x="2805.2" y="1330.24" width="10.8" height="2.9"/><rect x="2809.1" y="1364.65" width="3" height="26.72"/><rect x="2805.2" y="1390.22" width="10.8" height="2.9"/><rect x="2854.1" y="1370.01" width="3" height="5.62"/><rect x="2850.2" y="1368.26" width="10.8" height="2.9"/><rect x="2854.1" y="1376.89" width="3" height="5.62"/><rect x="2850.2" y="1381.36" width="10.8" height="2.9"/><rect x="2899.1" y="1367.93" width="3" height="5.62"/><rect x="2895.2" y="1366.18" width="10.8" height="2.9"/><rect x="2899.1" y="1374.81" width="3" height="5.62"/><rect x="2895.2" y="1379.28" width="10.8" height="2.9"/><rect x="2944.1" y="1317.41" width="3" height="10.31"/><rect x="2940.2" y="1315.66" width="10.8" height="2.9"/><rect x="2944.1" y="1330.01" width="3" height="10.31"/><rect x="2940.2" y="1339.18" width="10.8" height="2.9"/><rect x="2989.1" y="1329.91" width="3" height="24.84"/><rect x="2985.2" y="1328.16" width="10.8" height="2.9"/><rect x="2989.1" y="1360.27" width="3" height="24.84"/><rect x="2985.2" y="1383.97" width="10.8" height="2.9"/><rect x="3034.1" y="1306.99" width="3" height="30.47"/><rect x="3030.2" y="1305.24" width="10.8" height="2.9"/><rect x="3034.1" y="1344.23" width="3" height="30.47"/><rect x="3030.2" y="1373.55" width="10.8" height="2.9"/><rect x="3079.1" y="1367.41" width="3" height="9.37"/><rect x="3075.2" y="1365.66" width="10.8" height="2.9"/><rect x="3079.1" y="1378.87" width="3" height="9.37"/><rect x="3075.2" y="1387.09" width="10.8" height="2.9"/><rect x="3124.1" y="1322.62" width="3" height="27.19"/><rect x="3120.2" y="1320.87" width="10.8" height="2.9"/><rect x="3124.1" y="1355.85" width="3" height="27.19"/><rect x="3120.2" y="1381.88" width="10.8" height="2.9"/><rect x="3169.1" y="1295.01" width="3" height="36.09"/><rect x="3165.2" y="1293.26" width="10.8" height="2.9"/><rect x="3169.1" y="1339.13" width="3" height="36.09"/><rect x="3165.2" y="1374.07" width="10.8" height="2.9"/><rect x="3214.1" y="1295.01" width="3" height="32.81"/><rect x="3210.2" y="1293.26" width="10.8" height="2.9"/><rect x="3214.1" y="1335.12" width="3" height="32.81"/><rect x="3210.2" y="1366.78" width="10.8" height="2.9"/><rect x="3259.1" y="1306.99" width="3" height="30.47"/><rect x="3255.2" y="1305.24" width="10.8" height="2.9"/><rect x="3259.1" y="1344.23" width="3" height="30.47"/><rect x="3255.2" y="1373.55" width="10.8" height="2.9"/><rect x="3304.1" y="1374.18" width="3" height="6.09"/><rect x="3300.2" y="1372.43" width="10.8" height="2.9"/><rect x="3304.1" y="1381.63" width="3" height="6.09"/><rect x="3300.2" y="1386.57" width="10.8" height="2.9"/><rect x="3349.1" y="1301.79" width="3" height="10.78"/><rect x="3345.2" y="1300.04" width="10.8" height="2.9"/><rect x="3349.1" y="1314.96" width="3" height="10.78"/><rect x="3345.2" y="1324.59" width="10.8" height="2.9"/><rect x="3394.1" y="1366.89" width="3" height="7.97"/><rect x="3390.2" y="1365.14" width="10.8" height="2.9"/><rect x="3394.1" y="1376.63" width="3" height="7.97"/><rect x="3390.2" y="1383.45" width="10.8" height="2.9"/><rect x="3439.1" y="1351.79" width="3" height="7.5"/><rect x="3435.2" y="1350.04" width="10.8" height="2.9"/><rect x="3439.1" y="1360.95" width="3" height="7.5"/><rect x="3435.2" y="1367.3" width="10.8" height="2.9"/><rect x="3484.1" y="1347.1" width="3" height="7.97"/><rect x="3480.2" y="1345.35" width="10.8" height="2.9"/><rect x="3484.1" y="1356.84" width="3" height="7.97"/><rect x="3480.2" y="1363.66" width="10.8" height="2.9"/><rect x="3529.1" y="1288.24" width="3" height="10.31"/><rect x="3525.2" y="1286.49" width="10.8" height="2.9"/><rect x="3529.1" y="1300.85" width="3" height="10.31"/><rect x="3525.2" y="1310.01" width="10.8" height="2.9"/><rect x="3574.1" y="1367.41" width="3" height="7.5"/><rect x="3570.2" y="1365.66" width="10.8" height="2.9"/><rect x="3574.1" y="1376.58" width="3" height="7.5"/><rect x="3570.2" y="1382.93" width="10.8" height="2.9"/><rect x="3619.1" y="1314.81" width="3" height="30.47"/><rect x="3615.2" y="1313.06" width="10.8" height="2.9"/><rect x="3619.1" y="1352.05" width="3" height="30.47"/><rect x="3615.2" y="1381.36" width="10.8" height="2.9"/><rect x="3664.1" y="1364.29" width="3" height="6.56"/><rect x="3660.2" y="1362.54" width="10.8" height="2.9"/><rect x="3664.1" y="1372.31" width="3" height="6.56"/><rect x="3660.2" y="1377.72" width="10.8" height="2.9"/><rect x="3709.1" y="1317.41" width="3" height="8.44"/><rect x="3705.2" y="1315.66" width="10.8" height="2.9"/><rect x="3709.1" y="1327.72" width="3" height="8.44"/><rect x="3705.2" y="1335.01" width="10.8" height="2.9"/><rect x="154.1" y="1598.66" width="3" height="32.34"/><rect x="150.2" y="1596.91" width="10.8" height="2.9"/><rect x="154.1" y="1638.19" width="3" height="32.34"/><rect x="150.2" y="1669.39" width="10.8" height="2.9"/><rect x="199.1" y="1605.43" width="3" height="31.41"/><rect x="195.2" y="1603.68" width="10.8" height="2.9"/><rect x="199.1" y="1643.82" width="3" height="31.41"/><rect x="195.2" y="1674.07" width="10.8" height="2.9"/><rect x="244.1" y="1596.58" width="3" height="33.75"/><rect x="240.2" y="1594.83" width="10.8" height="2.9"/><rect x="244.1" y="1637.83" width="3" height="33.75"/><rect x="240.2" y="1670.43" width="10.8" height="2.9"/><rect x="289.1" y="1606.47" width="3" height="8.44"/><rect x="285.2" y="1604.72" width="10.8" height="2.9"/><rect x="289.1" y="1616.79" width="3" height="8.44"/><rect x="285.2" y="1624.07" width="10.8" height="2.9"/><rect x="334.1" y="1610.12" width="3" height="7.5"/><rect x="330.2" y="1608.37" width="10.8" height="2.9"/><rect x="334.1" y="1619.29" width="3" height="7.5"/><rect x="330.2" y="1625.64" width="10.8" height="2.9"/><rect x="379.1" y="1628.35" width="3" height="7.97"/><rect x="375.2" y="1626.6" width="10.8" height="2.9"/><rect x="379.1" y="1638.09" width="3" height="7.97"/><rect x="375.2" y="1644.91" width="10.8" height="2.9"/><rect x="424.1" y="1649.7" width="3" height="6.56"/><rect x="420.2" y="1647.95" width="10.8" height="2.9"/><rect x="424.1" y="1657.72" width="3" height="6.56"/><rect x="420.2" y="1663.14" width="10.8" height="2.9"/><rect x="469.1" y="1485.64" width="3" height="9.37"/><rect x="465.2" y="1483.89" width="10.8" height="2.9"/><rect x="469.1" y="1497.1" width="3" height="9.37"/><rect x="465.2" y="1505.32" width="10.8" height="2.9"/><rect x="514.1" y="1638.76" width="3" height="7.5"/><rect x="510.2" y="1637.01" width="10.8" height="2.9"/><rect x="514.1" y="1647.93" width="3" height="7.5"/><rect x="510.2" y="1654.28" width="10.8" height="2.9"/><rect x="559.1" y="1563.77" width="3" height="9.37"/><rect x="555.2" y="1562.02" width="10.8" height="2.9"/><rect x="559.1" y="1575.22" width="3" height="9.37"/><rect x="555.2" y="1583.45" width="10.8" height="2.9"/><rect x="604.1" y="1575.74" width="3" height="8.91"/><rect x="600.2" y="1573.99" width="10.8" height="2.9"/><rect x="604.1" y="1586.63" width="3" height="8.91"/><rect x="600.2" y="1594.39" width="10.8" height="2.9"/><rect x="649.1" y="1537.2" width="3" height="10.78"/><rect x="645.2" y="1535.45" width="10.8" height="2.9"/><rect x="649.1" y="1550.38" width="3" height="10.78"/><rect x="645.2" y="1560.01" width="10.8" height="2.9"/><rect x="694.1" y="1492.93" width="3" height="6.09"/><rect x="690.2" y="1491.18" width="10.8" height="2.9"/><rect x="694.1" y="1500.38" width="3" height="6.09"/><rect x="690.2" y="1505.32" width="10.8" height="2.9"/><rect x="739.1" y="1678.87" width="3" height="6.56"/><rect x="735.2" y="1677.12" width="10.8" height="2.9"/><rect x="739.1" y="1686.89" width="3" height="6.56"/><rect x="735.2" y="1692.3" width="10.8" height="2.9"/><rect x="784.1" y="1612.2" width="3" height="8.91"/><rect x="780.2" y="1610.45" width="10.8" height="2.9"/><rect x="784.1" y="1623.09" width="3" height="8.91"/><rect x="780.2" y="1630.84" width="10.8" height="2.9"/><rect x="829.1" y="1579.39" width="3" height="9.84"/><rect x="825.2" y="1577.64" width="10.8" height="2.9"/><rect x="829.1" y="1591.42" width="3" height="9.84"/><rect x="825.2" y="1600.11" width="10.8" height="2.9"/><rect x="874.1" y="1518.97" width="3" height="9.84"/><rect x="870.2" y="1517.22" width="10.8" height="2.9"/><rect x="874.1" y="1531" width="3" height="9.84"/><rect x="870.2" y="1539.7" width="10.8" height="2.9"/><rect x="919.1" y="1583.04" width="3" height="41.25"/><rect x="915.2" y="1581.29" width="10.8" height="2.9"/><rect x="919.1" y="1633.45" width="3" height="41.25"/><rect x="915.2" y="1673.55" width="10.8" height="2.9"/><rect x="964.1" y="1578.35" width="3" height="40.78"/><rect x="960.2" y="1576.6" width="10.8" height="2.9"/><rect x="964.1" y="1628.19" width="3" height="40.78"/><rect x="960.2" y="1667.82" width="10.8" height="2.9"/><rect x="1009.1" y="1582.51" width="3" height="40.78"/><rect x="1005.2" y="1580.76" width="10.8" height="2.9"/><rect x="1009.1" y="1632.36" width="3" height="40.78"/><rect x="1005.2" y="1671.99" width="10.8" height="2.9"/><rect x="1054.1" y="1633.04" width="3" height="7.97"/><rect x="1050.2" y="1631.29" width="10.8" height="2.9"/><rect x="1054.1" y="1642.78" width="3" height="7.97"/><rect x="1050.2" y="1649.59" width="10.8" height="2.9"/><rect x="1099.1" y="1580.95" width="3" height="11.25"/><rect x="1095.2" y="1579.2" width="10.8" height="2.9"/><rect x="1099.1" y="1594.7" width="3" height="11.25"/><rect x="1095.2" y="1604.8" width="10.8" height="2.9"/><rect x="1144.1" y="1605.43" width="3" height="10.31"/><rect x="1140.2" y="1603.68" width="10.8" height="2.9"/><rect x="1144.1" y="1618.04" width="3" height="10.31"/><rect x="1140.2" y="1627.2" width="10.8" height="2.9"/><rect x="1189.1" y="1662.72" width="3" height="7.5"/><rect x="1185.2" y="1660.97" width="10.8" height="2.9"/><rect x="1189.1" y="1671.89" width="3" height="7.5"/><rect x="1185.2" y="1678.24" width="10.8" height="2.9"/><rect x="1234.1" y="1653.87" width="3" height="7.97"/><rect x="1230.2" y="1652.12" width="10.8" height="2.9"/><rect x="1234.1" y="1663.61" width="3" height="7.97"/><rect x="1230.2" y="1670.43" width="10.8" height="2.9"/><rect x="1279.1" y="1664.81" width="3" height="6.09"/><rect x="1275.2" y="1663.06" width="10.8" height="2.9"/><rect x="1279.1" y="1672.25" width="3" height="6.09"/><rect x="1275.2" y="1677.2" width="10.8" height="2.9"/><rect x="1324.1" y="1663.76" width="3" height="6.56"/><rect x="1320.2" y="1662.01" width="10.8" height="2.9"/><rect x="1324.1" y="1671.79" width="3" height="6.56"/><rect x="1320.2" y="1677.2" width="10.8" height="2.9"/><rect x="1369.1" y="1581.99" width="3" height="40.78"/><rect x="1365.2" y="1580.24" width="10.8" height="2.9"/><rect x="1369.1" y="1631.84" width="3" height="40.78"/><rect x="1365.2" y="1671.47" width="10.8" height="2.9"/><rect x="1414.1" y="1597.1" width="3" height="35.16"/><rect x="1410.2" y="1595.35" width="10.8" height="2.9"/><rect x="1414.1" y="1640.07" width="3" height="35.16"/><rect x="1410.2" y="1674.07" width="10.8" height="2.9"/><rect x="1459.1" y="1597.1" width="3" height="34.69"/><rect x="1455.2" y="1595.35" width="10.8" height="2.9"/><rect x="1459.1" y="1639.49" width="3" height="34.69"/><rect x="1455.2" y="1673.03" width="10.8" height="2.9"/><rect x="1504.1" y="1649.18" width="3" height="12.19"/><rect x="1500.2" y="1647.43" width="10.8" height="2.9"/><rect x="1504.1" y="1664.08" width="3" height="12.19"/><rect x="1500.2" y="1675.11" width="10.8" height="2.9"/><rect x="1549.1" y="1631.47" width="3" height="10.31"/><rect x="1545.2" y="1629.72" width="10.8" height="2.9"/><rect x="1549.1" y="1644.08" width="3" height="10.31"/><rect x="1545.2" y="1653.24" width="10.8" height="2.9"/><rect x="1594.1" y="1657.51" width="3" height="7.5"/><rect x="1590.2" y="1655.76" width="10.8" height="2.9"/><rect x="1594.1" y="1666.68" width="3" height="7.5"/><rect x="1590.2" y="1673.03" width="10.8" height="2.9"/><rect x="1639.1" y="1472.1" width="3" height="4.69"/><rect x="1635.2" y="1470.35" width="10.8" height="2.9"/><rect x="1639.1" y="1477.83" width="3" height="4.69"/><rect x="1635.2" y="1481.37" width="10.8" height="2.9"/><rect x="1684.1" y="1659.6" width="3" height="6.09"/><rect x="1680.2" y="1657.85" width="10.8" height="2.9"/><rect x="1684.1" y="1667.05" width="3" height="6.09"/><rect x="1680.2" y="1671.99" width="10.8" height="2.9"/><rect x="1729.1" y="1620.01" width="3" height="8.91"/><rect x="1725.2" y="1618.26" width="10.8" height="2.9"/><rect x="1729.1" y="1630.9" width="3" height="8.91"/><rect x="1725.2" y="1638.66" width="10.8" height="2.9"/><rect x="1774.1" y="1412.72" width="3" height="31.41"/><rect x="1770.2" y="1410.97" width="10.8" height="2.9"/><rect x="1774.1" y="1451.11" width="3" height="31.41"/><rect x="1770.2" y="1481.37" width="10.8" height="2.9"/><rect x="1819.1" y="1620.54" width="3" height="9.37"/><rect x="1815.2" y="1618.79" width="10.8" height="2.9"/><rect x="1819.1" y="1631.99" width="3" height="9.37"/><rect x="1815.2" y="1640.22" width="10.8" height="2.9"/><rect x="1864.1" y="1589.81" width="3" height="6.56"/><rect x="1860.2" y="1588.06" width="10.8" height="2.9"/><rect x="1864.1" y="1597.83" width="3" height="6.56"/><rect x="1860.2" y="1603.24" width="10.8" height="2.9"/><rect x="1909.1" y="1585.64" width="3" height="9.37"/><rect x="1905.2" y="1583.89" width="10.8" height="2.9"/><rect x="1909.1" y="1597.1" width="3" height="9.37"/><rect x="1905.2" y="1605.32" width="10.8" height="2.9"/><rect x="1954.1" y="1511.16" width="3" height="8.44"/><rect x="1950.2" y="1509.41" width="10.8" height="2.9"/><rect x="1954.1" y="1521.47" width="3" height="8.44"/><rect x="1950.2" y="1528.76" width="10.8" height="2.9"/><rect x="1999.1" y="1514.81" width="3" height="10.78"/><rect x="1995.2" y="1513.06" width="10.8" height="2.9"/><rect x="1999.1" y="1527.98" width="3" height="10.78"/><rect x="1995.2" y="1537.62" width="10.8" height="2.9"/><rect x="2044.1" y="1566.37" width="3" height="14.06"/><rect x="2040.2" y="1564.62" width="10.8" height="2.9"/><rect x="2044.1" y="1583.56" width="3" height="14.06"/><rect x="2040.2" y="1596.47" width="10.8" height="2.9"/><rect x="2089.1" y="1481.99" width="3" height="7.5"/><rect x="2085.2" y="1480.24" width="10.8" height="2.9"/><rect x="2089.1" y="1491.16" width="3" height="7.5"/><rect x="2085.2" y="1497.51" width="10.8" height="2.9"/><rect x="2134.1" y="1613.24" width="3" height="7.03"/><rect x="2130.2" y="1611.49" width="10.8" height="2.9"/><rect x="2134.1" y="1621.84" width="3" height="7.03"/><rect x="2130.2" y="1627.72" width="10.8" height="2.9"/><rect x="2179.1" y="1528.35" width="3" height="11.72"/><rect x="2175.2" y="1526.6" width="10.8" height="2.9"/><rect x="2179.1" y="1542.67" width="3" height="11.72"/><rect x="2175.2" y="1553.24" width="10.8" height="2.9"/><rect x="2224.1" y="1564.29" width="3" height="7.97"/><rect x="2220.2" y="1562.54" width="10.8" height="2.9"/><rect x="2224.1" y="1574.03" width="3" height="7.97"/><rect x="2220.2" y="1580.84" width="10.8" height="2.9"/><rect x="2269.1" y="1583.56" width="3" height="9.37"/><rect x="2265.2" y="1581.81" width="10.8" height="2.9"/><rect x="2269.1" y="1595.01" width="3" height="9.37"/><rect x="2265.2" y="1603.24" width="10.8" height="2.9"/><rect x="2314.1" y="1578.35" width="3" height="8.91"/><rect x="2310.2" y="1576.6" width="10.8" height="2.9"/><rect x="2314.1" y="1589.23" width="3" height="8.91"/><rect x="2310.2" y="1596.99" width="10.8" height="2.9"/><rect x="2359.1" y="1639.81" width="3" height="7.97"/><rect x="2355.2" y="1638.06" width="10.8" height="2.9"/><rect x="2359.1" y="1649.55" width="3" height="7.97"/><rect x="2355.2" y="1656.36" width="10.8" height="2.9"/><rect x="2404.1" y="1522.1" width="3" height="8.44"/><rect x="2400.2" y="1520.35" width="10.8" height="2.9"/><rect x="2404.1" y="1532.41" width="3" height="8.44"/><rect x="2400.2" y="1539.7" width="10.8" height="2.9"/><rect x="2449.1" y="1641.37" width="3" height="7.97"/><rect x="2445.2" y="1639.62" width="10.8" height="2.9"/><rect x="2449.1" y="1651.11" width="3" height="7.97"/><rect x="2445.2" y="1657.93" width="10.8" height="2.9"/><rect x="2494.1" y="1567.41" width="3" height="9.84"/><rect x="2490.2" y="1565.66" width="10.8" height="2.9"/><rect x="2494.1" y="1579.44" width="3" height="9.84"/><rect x="2490.2" y="1588.14" width="10.8" height="2.9"/><rect x="2539.1" y="1536.16" width="3" height="10.31"/><rect x="2535.2" y="1534.41" width="10.8" height="2.9"/><rect x="2539.1" y="1548.77" width="3" height="10.31"/><rect x="2535.2" y="1557.93" width="10.8" height="2.9"/><rect x="2584.1" y="1595.01" width="3" height="7.5"/><rect x="2580.2" y="1593.26" width="10.8" height="2.9"/><rect x="2584.1" y="1604.18" width="3" height="7.5"/><rect x="2580.2" y="1610.53" width="10.8" height="2.9"/><rect x="2629.1" y="1412.72" width="3" height="31.41"/><rect x="2625.2" y="1410.97" width="10.8" height="2.9"/><rect x="2629.1" y="1451.11" width="3" height="31.41"/><rect x="2625.2" y="1481.37" width="10.8" height="2.9"/><rect x="2674.1" y="1584.6" width="3" height="11.25"/><rect x="2670.2" y="1582.85" width="10.8" height="2.9"/><rect x="2674.1" y="1598.35" width="3" height="11.25"/><rect x="2670.2" y="1608.45" width="10.8" height="2.9"/><rect x="2719.1" y="1627.31" width="3" height="10.31"/><rect x="2715.2" y="1625.56" width="10.8" height="2.9"/><rect x="2719.1" y="1639.91" width="3" height="10.31"/><rect x="2715.2" y="1649.07" width="10.8" height="2.9"/><rect x="2764.1" y="1525.22" width="3" height="7.5"/><rect x="2760.2" y="1523.47" width="10.8" height="2.9"/><rect x="2764.1" y="1534.39" width="3" height="7.5"/><rect x="2760.2" y="1540.74" width="10.8" height="2.9"/><rect x="2809.1" y="1588.76" width="3" height="37.5"/><rect x="2805.2" y="1587.01" width="10.8" height="2.9"/><rect x="2809.1" y="1634.6" width="3" height="37.5"/><rect x="2805.2" y="1670.95" width="10.8" height="2.9"/><rect x="2854.1" y="1575.22" width="3" height="44.06"/><rect x="2850.2" y="1573.47" width="10.8" height="2.9"/><rect x="2854.1" y="1629.08" width="3" height="44.06"/><rect x="2850.2" y="1671.99" width="10.8" height="2.9"/><rect x="2899.1" y="1573.14" width="3" height="42.66"/><rect x="2895.2" y="1571.39" width="10.8" height="2.9"/><rect x="2899.1" y="1625.28" width="3" height="42.66"/><rect x="2895.2" y="1666.78" width="10.8" height="2.9"/><rect x="2944.1" y="1574.18" width="3" height="43.59"/><rect x="2940.2" y="1572.43" width="10.8" height="2.9"/><rect x="2944.1" y="1627.46" width="3" height="43.59"/><rect x="2940.2" y="1669.91" width="10.8" height="2.9"/><rect x="2989.1" y="1574.18" width="3" height="43.12"/><rect x="2985.2" y="1572.43" width="10.8" height="2.9"/><rect x="2989.1" y="1626.89" width="3" height="43.12"/><rect x="2985.2" y="1668.86" width="10.8" height="2.9"/><rect x="3034.1" y="1575.22" width="3" height="39.84"/><rect x="3030.2" y="1573.47" width="10.8" height="2.9"/><rect x="3034.1" y="1623.92" width="3" height="39.84"/><rect x="3030.2" y="1662.61" width="10.8" height="2.9"/><rect x="3079.1" y="1576.27" width="3" height="43.59"/><rect x="3075.2" y="1574.52" width="10.8" height="2.9"/><rect x="3079.1" y="1629.55" width="3" height="43.59"/><rect x="3075.2" y="1671.99" width="10.8" height="2.9"/><rect x="3124.1" y="1572.62" width="3" height="42.66"/><rect x="3120.2" y="1570.87" width="10.8" height="2.9"/><rect x="3124.1" y="1624.75" width="3" height="42.66"/><rect x="3120.2" y="1666.26" width="10.8" height="2.9"/><rect x="3169.1" y="1575.22" width="3" height="42.66"/><rect x="3165.2" y="1573.47" width="10.8" height="2.9"/><rect x="3169.1" y="1627.36" width="3" height="42.66"/><rect x="3165.2" y="1668.86" width="10.8" height="2.9"/><rect x="3214.1" y="1581.47" width="3" height="11.72"/><rect x="3210.2" y="1579.72" width="10.8" height="2.9"/><rect x="3214.1" y="1595.8" width="3" height="11.72"/><rect x="3210.2" y="1606.36" width="10.8" height="2.9"/><rect x="3259.1" y="1637.72" width="3" height="8.44"/><rect x="3255.2" y="1635.97" width="10.8" height="2.9"/><rect x="3259.1" y="1648.04" width="3" height="8.44"/><rect x="3255.2" y="1655.32" width="10.8" height="2.9"/><rect x="3304.1" y="1583.56" width="3" height="41.25"/><rect x="3300.2" y="1581.81" width="10.8" height="2.9"/><rect x="3304.1" y="1633.97" width="3" height="41.25"/><rect x="3300.2" y="1674.07" width="10.8" height="2.9"/><rect x="3349.1" y="1580.43" width="3" height="40.78"/><rect x="3345.2" y="1578.68" width="10.8" height="2.9"/><rect x="3349.1" y="1630.28" width="3" height="40.78"/><rect x="3345.2" y="1669.91" width="10.8" height="2.9"/><rect x="3394.1" y="1581.99" width="3" height="40.31"/><rect x="3390.2" y="1580.24" width="10.8" height="2.9"/><rect x="3394.1" y="1631.26" width="3" height="40.31"/><rect x="3390.2" y="1670.43" width="10.8" height="2.9"/><rect x="3439.1" y="1577.31" width="3" height="41.25"/><rect x="3435.2" y="1575.56" width="10.8" height="2.9"/><rect x="3439.1" y="1627.72" width="3" height="41.25"/><rect x="3435.2" y="1667.82" width="10.8" height="2.9"/><rect x="3484.1" y="1580.95" width="3" height="10.31"/><rect x="3480.2" y="1579.2" width="10.8" height="2.9"/><rect x="3484.1" y="1593.56" width="3" height="10.31"/><rect x="3480.2" y="1602.72" width="10.8" height="2.9"/><rect x="3529.1" y="1620.01" width="3" height="7.97"/><rect x="3525.2" y="1618.26" width="10.8" height="2.9"/><rect x="3529.1" y="1629.75" width="3" height="7.97"/><rect x="3525.2" y="1636.57" width="10.8" height="2.9"/><rect x="3574.1" y="1597.62" width="3" height="9.37"/><rect x="3570.2" y="1595.87" width="10.8" height="2.9"/><rect x="3574.1" y="1609.08" width="3" height="9.37"/><rect x="3570.2" y="1617.3" width="10.8" height="2.9"/><rect x="3619.1" y="1486.16" width="3" height="9.37"/><rect x="3615.2" y="1484.41" width="10.8" height="2.9"/><rect x="3619.1" y="1497.62" width="3" height="9.37"/><rect x="3615.2" y="1505.84" width="10.8" height="2.9"/><rect x="3664.1" y="1661.16" width="3" height="7.5"/><rect x="3660.2" y="1659.41" width="10.8" height="2.9"/><rect x="3664.1" y="1670.33" width="3" height="7.5"/><rect x="3660.2" y="1676.68" width="10.8" height="2.9"/><rect x="3709.1" y="1515.33" width="3" height="10.31"/><rect x="3705.2" y="1513.58" width="10.8" height="2.9"/><rect x="3709.1" y="1527.93" width="3" height="10.31"/><rect x="3705.2" y="1537.09" width="10.8" height="2.9"/><rect x="154.1" y="1803.87" width="3" height="6.09"/><rect x="150.2" y="1802.12" width="10.8" height="2.9"/><rect x="154.1" y="1811.32" width="3" height="6.09"/><rect x="150.2" y="1816.26" width="10.8" height="2.9"/><rect x="199.1" y="1792.41" width="3" height="8.91"/><rect x="195.2" y="1790.66" width="10.8" height="2.9"/><rect x="199.1" y="1803.3" width="3" height="8.91"/><rect x="195.2" y="1811.05" width="10.8" height="2.9"/><rect x="244.1" y="1837.72" width="3" height="8.44"/><rect x="240.2" y="1835.97" width="10.8" height="2.9"/><rect x="244.1" y="1848.04" width="3" height="8.44"/><rect x="240.2" y="1855.32" width="10.8" height="2.9"/><rect x="289.1" y="1881.99" width="3" height="10.78"/><rect x="285.2" y="1880.24" width="10.8" height="2.9"/><rect x="289.1" y="1895.17" width="3" height="10.78"/><rect x="285.2" y="1904.8" width="10.8" height="2.9"/><rect x="334.1" y="1902.83" width="3" height="8.44"/><rect x="330.2" y="1901.08" width="10.8" height="2.9"/><rect x="334.1" y="1913.14" width="3" height="8.44"/><rect x="330.2" y="1920.43" width="10.8" height="2.9"/><rect x="379.1" y="1923.66" width="3" height="7.5"/><rect x="375.2" y="1921.91" width="10.8" height="2.9"/><rect x="379.1" y="1932.83" width="3" height="7.5"/><rect x="375.2" y="1939.18" width="10.8" height="2.9"/><rect x="424.1" y="1898.14" width="3" height="9.37"/><rect x="420.2" y="1896.39" width="10.8" height="2.9"/><rect x="424.1" y="1909.6" width="3" height="9.37"/><rect x="420.2" y="1917.82" width="10.8" height="2.9"/><rect x="469.1" y="1781.47" width="3" height="9.84"/><rect x="465.2" y="1779.72" width="10.8" height="2.9"/><rect x="469.1" y="1793.51" width="3" height="9.84"/><rect x="465.2" y="1802.2" width="10.8" height="2.9"/><rect x="514.1" y="1931.99" width="3" height="7.97"/><rect x="510.2" y="1930.24" width="10.8" height="2.9"/><rect x="514.1" y="1941.73" width="3" height="7.97"/><rect x="510.2" y="1948.55" width="10.8" height="2.9"/><rect x="559.1" y="1891.37" width="3" height="9.84"/><rect x="555.2" y="1889.62" width="10.8" height="2.9"/><rect x="559.1" y="1903.4" width="3" height="9.84"/><rect x="555.2" y="1912.09" width="10.8" height="2.9"/><rect x="604.1" y="1809.08" width="3" height="8.91"/><rect x="600.2" y="1807.33" width="10.8" height="2.9"/><rect x="604.1" y="1819.96" width="3" height="8.91"/><rect x="600.2" y="1827.72" width="10.8" height="2.9"/><rect x="649.1" y="1726.27" width="3" height="21.56"/><rect x="645.2" y="1724.52" width="10.8" height="2.9"/><rect x="649.1" y="1752.62" width="3" height="21.56"/><rect x="645.2" y="1773.03" width="10.8" height="2.9"/><rect x="694.1" y="1915.33" width="3" height="9.84"/><rect x="690.2" y="1913.58" width="10.8" height="2.9"/><rect x="694.1" y="1927.36" width="3" height="9.84"/><rect x="690.2" y="1936.05" width="10.8" height="2.9"/><rect x="739.1" y="1847.62" width="3" height="7.5"/><rect x="735.2" y="1845.87" width="10.8" height="2.9"/><rect x="739.1" y="1856.79" width="3" height="7.5"/><rect x="735.2" y="1863.14" width="10.8" height="2.9"/><rect x="784.1" y="1899.18" width="3" height="9.84"/><rect x="780.2" y="1897.43" width="10.8" height="2.9"/><rect x="784.1" y="1911.21" width="3" height="9.84"/><rect x="780.2" y="1919.91" width="10.8" height="2.9"/><rect x="829.1" y="1897.1" width="3" height="10.31"/><rect x="825.2" y="1895.35" width="10.8" height="2.9"/><rect x="829.1" y="1909.7" width="3" height="10.31"/><rect x="825.2" y="1918.87" width="10.8" height="2.9"/><rect x="874.1" y="1800.74" width="3" height="8.91"/><rect x="870.2" y="1798.99" width="10.8" height="2.9"/><rect x="874.1" y="1811.63" width="3" height="8.91"/><rect x="870.2" y="1819.39" width="10.8" height="2.9"/><rect x="919.1" y="1910.64" width="3" height="8.91"/><rect x="915.2" y="1908.89" width="10.8" height="2.9"/><rect x="919.1" y="1921.53" width="3" height="8.91"/><rect x="915.2" y="1929.28" width="10.8" height="2.9"/><rect x="964.1" y="1925.22" width="3" height="7.97"/><rect x="960.2" y="1923.47" width="10.8" height="2.9"/><rect x="964.1" y="1934.96" width="3" height="7.97"/><rect x="960.2" y="1941.78" width="10.8" height="2.9"/><rect x="1009.1" y="1916.89" width="3" height="8.44"/><rect x="1005.2" y="1915.14" width="10.8" height="2.9"/><rect x="1009.1" y="1927.2" width="3" height="8.44"/><rect x="1005.2" y="1934.49" width="10.8" height="2.9"/><rect x="1054.1" y="1928.87" width="3" height="8.44"/><rect x="1050.2" y="1927.12" width="10.8" height="2.9"/><rect x="1054.1" y="1939.18" width="3" height="8.44"/><rect x="1050.2" y="1946.47" width="10.8" height="2.9"/><rect x="1099.1" y="1933.56" width="3" height="7.5"/><rect x="1095.2" y="1931.81" width="10.8" height="2.9"/><rect x="1099.1" y="1942.72" width="3" height="7.5"/><rect x="1095.2" y="1949.07" width="10.8" height="2.9"/><rect x="1144.1" y="1875.74" width="3" height="9.37"/><rect x="1140.2" y="1873.99" width="10.8" height="2.9"/><rect x="1144.1" y="1887.2" width="3" height="9.37"/><rect x="1140.2" y="1895.43" width="10.8" height="2.9"/><rect x="1189.1" y="1896.06" width="3" height="9.84"/><rect x="1185.2" y="1894.31" width="10.8" height="2.9"/><rect x="1189.1" y="1908.09" width="3" height="9.84"/><rect x="1185.2" y="1916.78" width="10.8" height="2.9"/><rect x="1234.1" y="1946.58" width="3" height="7.5"/><rect x="1230.2" y="1944.83" width="10.8" height="2.9"/><rect x="1234.1" y="1955.74" width="3" height="7.5"/><rect x="1230.2" y="1962.09" width="10.8" height="2.9"/><rect x="1279.1" y="1929.91" width="3" height="7.03"/><rect x="1275.2" y="1928.16" width="10.8" height="2.9"/><rect x="1279.1" y="1938.5" width="3" height="7.03"/><rect x="1275.2" y="1944.39" width="10.8" height="2.9"/><rect x="1324.1" y="1879.39" width="3" height="37.97"/><rect x="1320.2" y="1877.64" width="10.8" height="2.9"/><rect x="1324.1" y="1925.8" width="3" height="37.97"/><rect x="1320.2" y="1962.61" width="10.8" height="2.9"/><rect x="1369.1" y="1862.2" width="3" height="42.66"/><rect x="1365.2" y="1860.45" width="10.8" height="2.9"/><rect x="1369.1" y="1914.34" width="3" height="42.66"/><rect x="1365.2" y="1955.84" width="10.8" height="2.9"/><rect x="1414.1" y="1868.97" width="3" height="44.53"/><rect x="1410.2" y="1867.22" width="10.8" height="2.9"/><rect x="1414.1" y="1923.4" width="3" height="44.53"/><rect x="1410.2" y="1966.78" width="10.8" height="2.9"/><rect x="1459.1" y="1864.81" width="3" height="43.59"/><rect x="1455.2" y="1863.06" width="10.8" height="2.9"/><rect x="1459.1" y="1918.09" width="3" height="43.59"/><rect x="1455.2" y="1960.53" width="10.8" height="2.9"/><rect x="1504.1" y="1866.89" width="3" height="44.06"/><rect x="1500.2" y="1865.14" width="10.8" height="2.9"/><rect x="1504.1" y="1920.74" width="3" height="44.06"/><rect x="1500.2" y="1963.66" width="10.8" height="2.9"/><rect x="1549.1" y="1928.87" width="3" height="8.44"/><rect x="1545.2" y="1927.12" width="10.8" height="2.9"/><rect x="1549.1" y="1939.18" width="3" height="8.44"/><rect x="1545.2" y="1946.47" width="10.8" height="2.9"/><rect x="1594.1" y="1880.43" width="3" height="11.25"/><rect x="1590.2" y="1878.68" width="10.8" height="2.9"/><rect x="1594.1" y="1894.18" width="3" height="11.25"/><rect x="1590.2" y="1904.28" width="10.8" height="2.9"/><rect x="1639.1" y="1844.49" width="3" height="9.37"/><rect x="1635.2" y="1842.74" width="10.8" height="2.9"/><rect x="1639.1" y="1855.95" width="3" height="9.37"/><rect x="1635.2" y="1864.18" width="10.8" height="2.9"/><rect x="1684.1" y="1904.39" width="3" height="7.97"/><rect x="1680.2" y="1902.64" width="10.8" height="2.9"/><rect x="1684.1" y="1914.13" width="3" height="7.97"/><rect x="1680.2" y="1920.95" width="10.8" height="2.9"/><rect x="1729.1" y="1942.41" width="3" height="6.56"/><rect x="1725.2" y="1940.66" width="10.8" height="2.9"/><rect x="1729.1" y="1950.43" width="3" height="6.56"/><rect x="1725.2" y="1955.84" width="10.8" height="2.9"/><rect x="1774.1" y="1941.89" width="3" height="7.03"/><rect x="1770.2" y="1940.14" width="10.8" height="2.9"/><rect x="1774.1" y="1950.48" width="3" height="7.03"/><rect x="1770.2" y="1956.36" width="10.8" height="2.9"/><rect x="1819.1" y="1900.22" width="3" height="22.5"/><rect x="1815.2" y="1898.47" width="10.8" height="2.9"/><rect x="1819.1" y="1927.72" width="3" height="22.5"/><rect x="1815.2" y="1949.07" width="10.8" height="2.9"/><rect x="1864.1" y="1704.91" width="3" height="30.94"/><rect x="1860.2" y="1703.16" width="10.8" height="2.9"/><rect x="1864.1" y="1742.72" width="3" height="30.94"/><rect x="1860.2" y="1772.51" width="10.8" height="2.9"/><rect x="1909.1" y="1826.79" width="3" height="10.31"/><rect x="1905.2" y="1825.04" width="10.8" height="2.9"/><rect x="1909.1" y="1839.39" width="3" height="10.31"/><rect x="1905.2" y="1848.55" width="10.8" height="2.9"/><rect x="1954.1" y="1947.1" width="3" height="7.97"/><rect x="1950.2" y="1945.35" width="10.8" height="2.9"/><rect x="1954.1" y="1956.84" width="3" height="7.97"/><rect x="1950.2" y="1963.66" width="10.8" height="2.9"/><rect x="1999.1" y="1837.2" width="3" height="11.72"/><rect x="1995.2" y="1835.45" width="10.8" height="2.9"/><rect x="1999.1" y="1851.53" width="3" height="11.72"/><rect x="1995.2" y="1862.09" width="10.8" height="2.9"/><rect x="2044.1" y="1704.91" width="3" height="30.94"/><rect x="2040.2" y="1703.16" width="10.8" height="2.9"/><rect x="2044.1" y="1742.72" width="3" height="30.94"/><rect x="2040.2" y="1772.51" width="10.8" height="2.9"/><rect x="2089.1" y="1792.93" width="3" height="7.5"/><rect x="2085.2" y="1791.18" width="10.8" height="2.9"/><rect x="2089.1" y="1802.1" width="3" height="7.5"/><rect x="2085.2" y="1808.45" width="10.8" height="2.9"/><rect x="2134.1" y="1800.74" width="3" height="9.37"/><rect x="2130.2" y="1798.99" width="10.8" height="2.9"/><rect x="2134.1" y="1812.2" width="3" height="9.37"/><rect x="2130.2" y="1820.43" width="10.8" height="2.9"/><rect x="2179.1" y="1828.35" width="3" height="10.31"/><rect x="2175.2" y="1826.6" width="10.8" height="2.9"/><rect x="2179.1" y="1840.95" width="3" height="10.31"/><rect x="2175.2" y="1850.12" width="10.8" height="2.9"/><rect x="2224.1" y="1902.31" width="3" height="10.31"/><rect x="2220.2" y="1900.56" width="10.8" height="2.9"/><rect x="2224.1" y="1914.91" width="3" height="10.31"/><rect x="2220.2" y="1924.07" width="10.8" height="2.9"/><rect x="2269.1" y="1864.29" width="3" height="8.91"/><rect x="2265.2" y="1862.54" width="10.8" height="2.9"/><rect x="2269.1" y="1875.17" width="3" height="8.91"/><rect x="2265.2" y="1882.93" width="10.8" height="2.9"/><rect x="2314.1" y="1772.62" width="3" height="2.81"/><rect x="2310.2" y="1770.87" width="10.8" height="2.9"/><rect x="2314.1" y="1776.06" width="3" height="2.81"/><rect x="2310.2" y="1777.72" width="10.8" height="2.9"/><rect x="2359.1" y="1893.45" width="3" height="11.25"/><rect x="2355.2" y="1891.7" width="10.8" height="2.9"/><rect x="2359.1" y="1907.2" width="3" height="11.25"/><rect x="2355.2" y="1917.3" width="10.8" height="2.9"/><rect x="2404.1" y="1781.47" width="3" height="9.37"/><rect x="2400.2" y="1779.72" width="10.8" height="2.9"/><rect x="2404.1" y="1792.93" width="3" height="9.37"/><rect x="2400.2" y="1801.16" width="10.8" height="2.9"/><rect x="2449.1" y="1825.74" width="3" height="7.97"/><rect x="2445.2" y="1823.99" width="10.8" height="2.9"/><rect x="2449.1" y="1835.48" width="3" height="7.97"/><rect x="2445.2" y="1842.3" width="10.8" height="2.9"/><rect x="2494.1" y="1824.7" width="3" height="10.78"/><rect x="2490.2" y="1822.95" width="10.8" height="2.9"/><rect x="2494.1" y="1837.88" width="3" height="10.78"/><rect x="2490.2" y="1847.51" width="10.8" height="2.9"/><rect x="2539.1" y="1929.39" width="3" height="7.97"/><rect x="2535.2" y="1927.64" width="10.8" height="2.9"/><rect x="2539.1" y="1939.13" width="3" height="7.97"/><rect x="2535.2" y="1945.95" width="10.8" height="2.9"/><rect x="2584.1" y="1856.99" width="3" height="8.91"/><rect x="2580.2" y="1855.24" width="10.8" height="2.9"/><rect x="2584.1" y="1867.88" width="3" height="8.91"/><rect x="2580.2" y="1875.64" width="10.8" height="2.9"/><rect x="2629.1" y="1901.27" width="3" height="29.06"/><rect x="2625.2" y="1899.52" width="10.8" height="2.9"/><rect x="2629.1" y="1936.79" width="3" height="29.06"/><rect x="2625.2" y="1964.7" width="10.8" height="2.9"/><rect x="2674.1" y="1918.97" width="3" height="23.44"/><rect x="2670.2" y="1917.22" width="10.8" height="2.9"/><rect x="2674.1" y="1947.62" width="3" height="23.44"/><rect x="2670.2" y="1969.91" width="10.8" height="2.9"/><rect x="2719.1" y="1953.35" width="3" height="10.78"/><rect x="2715.2" y="1951.6" width="10.8" height="2.9"/><rect x="2719.1" y="1966.53" width="3" height="10.78"/><rect x="2715.2" y="1976.16" width="10.8" height="2.9"/><rect x="2764.1" y="1925.22" width="3" height="9.37"/><rect x="2760.2" y="1923.47" width="10.8" height="2.9"/><rect x="2764.1" y="1936.68" width="3" height="9.37"/><rect x="2760.2" y="1944.91" width="10.8" height="2.9"/><rect x="2809.1" y="1888.24" width="3" height="9.84"/><rect x="2805.2" y="1886.49" width="10.8" height="2.9"/><rect x="2809.1" y="1900.28" width="3" height="9.84"/><rect x="2805.2" y="1908.97" width="10.8" height="2.9"/><rect x="2854.1" y="1884.6" width="3" height="35.16"/><rect x="2850.2" y="1882.85" width="10.8" height="2.9"/><rect x="2854.1" y="1927.57" width="3" height="35.16"/><rect x="2850.2" y="1961.57" width="10.8" height="2.9"/><rect x="2899.1" y="1873.14" width="3" height="39.84"/><rect x="2895.2" y="1871.39" width="10.8" height="2.9"/><rect x="2899.1" y="1921.84" width="3" height="39.84"/><rect x="2895.2" y="1960.53" width="10.8" height="2.9"/><rect x="2944.1" y="1866.89" width="3" height="38.91"/><rect x="2940.2" y="1865.14" width="10.8" height="2.9"/><rect x="2944.1" y="1914.44" width="3" height="38.91"/><rect x="2940.2" y="1952.2" width="10.8" height="2.9"/><rect x="2989.1" y="1873.14" width="3" height="38.44"/><rect x="2985.2" y="1871.39" width="10.8" height="2.9"/><rect x="2989.1" y="1920.12" width="3" height="38.44"/><rect x="2985.2" y="1957.41" width="10.8" height="2.9"/><rect x="3034.1" y="1881.99" width="3" height="34.69"/><rect x="3030.2" y="1880.24" width="10.8" height="2.9"/><rect x="3034.1" y="1924.39" width="3" height="34.69"/><rect x="3030.2" y="1957.93" width="10.8" height="2.9"/><rect x="3079.1" y="1875.74" width="3" height="38.91"/><rect x="3075.2" y="1873.99" width="10.8" height="2.9"/><rect x="3079.1" y="1923.3" width="3" height="38.91"/><rect x="3075.2" y="1961.05" width="10.8" height="2.9"/><rect x="3124.1" y="1874.7" width="3" height="36.09"/><rect x="3120.2" y="1872.95" width="10.8" height="2.9"/><rect x="3124.1" y="1918.82" width="3" height="36.09"/><rect x="3120.2" y="1953.76" width="10.8" height="2.9"/><rect x="3169.1" y="1886.16" width="3" height="35.16"/><rect x="3165.2" y="1884.41" width="10.8" height="2.9"/><rect x="3169.1" y="1929.13" width="3" height="35.16"/><rect x="3165.2" y="1963.14" width="10.8" height="2.9"/><rect x="3214.1" y="1885.12" width="3" height="35.16"/><rect x="3210.2" y="1883.37" width="10.8" height="2.9"/><rect x="3214.1" y="1928.09" width="3" height="35.16"/><rect x="3210.2" y="1962.09" width="10.8" height="2.9"/><rect x="3259.1" y="1875.22" width="3" height="40.78"/><rect x="3255.2" y="1873.47" width="10.8" height="2.9"/><rect x="3259.1" y="1925.07" width="3" height="40.78"/><rect x="3255.2" y="1964.7" width="10.8" height="2.9"/><rect x="3304.1" y="1872.62" width="3" height="38.91"/><rect x="3300.2" y="1870.87" width="10.8" height="2.9"/><rect x="3304.1" y="1920.17" width="3" height="38.91"/><rect x="3300.2" y="1957.93" width="10.8" height="2.9"/><rect x="3349.1" y="1886.16" width="3" height="35.16"/><rect x="3345.2" y="1884.41" width="10.8" height="2.9"/><rect x="3349.1" y="1929.13" width="3" height="35.16"/><rect x="3345.2" y="1963.14" width="10.8" height="2.9"/><rect x="3394.1" y="1895.02" width="3" height="32.34"/><rect x="3390.2" y="1893.27" width="10.8" height="2.9"/><rect x="3394.1" y="1934.55" width="3" height="32.34"/><rect x="3390.2" y="1965.74" width="10.8" height="2.9"/><rect x="3439.1" y="1884.6" width="3" height="35.16"/><rect x="3435.2" y="1882.85" width="10.8" height="2.9"/><rect x="3439.1" y="1927.57" width="3" height="35.16"/><rect x="3435.2" y="1961.57" width="10.8" height="2.9"/><rect x="3484.1" y="1868.45" width="3" height="11.72"/><rect x="3480.2" y="1866.7" width="10.8" height="2.9"/><rect x="3484.1" y="1882.78" width="3" height="11.72"/><rect x="3480.2" y="1893.34" width="10.8" height="2.9"/><rect x="3529.1" y="1874.7" width="3" height="41.25"/><rect x="3525.2" y="1872.95" width="10.8" height="2.9"/><rect x="3529.1" y="1925.12" width="3" height="41.25"/><rect x="3525.2" y="1965.22" width="10.8" height="2.9"/><rect x="3574.1" y="1873.66" width="3" height="40.78"/><rect x="3570.2" y="1871.91" width="10.8" height="2.9"/><rect x="3574.1" y="1923.5" width="3" height="40.78"/><rect x="3570.2" y="1963.14" width="10.8" height="2.9"/><rect x="3619.1" y="1882.52" width="3" height="38.91"/><rect x="3615.2" y="1880.77" width="10.8" height="2.9"/><rect x="3619.1" y="1930.07" width="3" height="38.91"/><rect x="3615.2" y="1967.82" width="10.8" height="2.9"/><rect x="3664.1" y="1868.45" width="3" height="42.19"/><rect x="3660.2" y="1866.7" width="10.8" height="2.9"/><rect x="3664.1" y="1920.02" width="3" height="42.19"/><rect x="3660.2" y="1961.05" width="10.8" height="2.9"/><rect x="3709.1" y="1880.43" width="3" height="37.5"/><rect x="3705.2" y="1878.68" width="10.8" height="2.9"/><rect x="3709.1" y="1926.26" width="3" height="37.5"/><rect x="3705.2" y="1962.61" width="10.8" height="2.9"/><rect x="154.1" y="2162.72" width="3" height="40.31"/><rect x="150.2" y="2160.97" width="10.8" height="2.9"/><rect x="154.1" y="2211.99" width="3" height="40.31"/><rect x="150.2" y="2251.16" width="10.8" height="2.9"/><rect x="199.1" y="2172.62" width="3" height="38.44"/><rect x="195.2" y="2170.87" width="10.8" height="2.9"/><rect x="199.1" y="2219.6" width="3" height="38.44"/><rect x="195.2" y="2256.89" width="10.8" height="2.9"/><rect x="244.1" y="2172.62" width="3" height="37.5"/><rect x="240.2" y="2170.87" width="10.8" height="2.9"/><rect x="244.1" y="2218.45" width="3" height="37.5"/><rect x="240.2" y="2254.8" width="10.8" height="2.9"/><rect x="289.1" y="2170.54" width="3" height="38.44"/><rect x="285.2" y="2168.79" width="10.8" height="2.9"/><rect x="289.1" y="2217.52" width="3" height="38.44"/><rect x="285.2" y="2254.8" width="10.8" height="2.9"/><rect x="334.1" y="2178.35" width="3" height="34.69"/><rect x="330.2" y="2176.6" width="10.8" height="2.9"/><rect x="334.1" y="2220.74" width="3" height="34.69"/><rect x="330.2" y="2254.28" width="10.8" height="2.9"/><rect x="379.1" y="2190.33" width="3" height="27.19"/><rect x="375.2" y="2188.58" width="10.8" height="2.9"/><rect x="379.1" y="2223.56" width="3" height="27.19"/><rect x="375.2" y="2249.59" width="10.8" height="2.9"/><rect x="424.1" y="2220.02" width="3" height="8.44"/><rect x="420.2" y="2218.27" width="10.8" height="2.9"/><rect x="424.1" y="2230.33" width="3" height="8.44"/><rect x="420.2" y="2237.62" width="10.8" height="2.9"/><rect x="469.1" y="2172.1" width="3" height="37.5"/><rect x="465.2" y="2170.35" width="10.8" height="2.9"/><rect x="469.1" y="2217.93" width="3" height="37.5"/><rect x="465.2" y="2254.28" width="10.8" height="2.9"/><rect x="514.1" y="2162.72" width="3" height="40.31"/><rect x="510.2" y="2160.97" width="10.8" height="2.9"/><rect x="514.1" y="2211.99" width="3" height="40.31"/><rect x="510.2" y="2251.16" width="10.8" height="2.9"/><rect x="559.1" y="2167.41" width="3" height="40.31"/><rect x="555.2" y="2165.66" width="10.8" height="2.9"/><rect x="559.1" y="2216.68" width="3" height="40.31"/><rect x="555.2" y="2255.84" width="10.8" height="2.9"/><rect x="604.1" y="2163.24" width="3" height="40.78"/><rect x="600.2" y="2161.49" width="10.8" height="2.9"/><rect x="604.1" y="2213.09" width="3" height="40.78"/><rect x="600.2" y="2252.72" width="10.8" height="2.9"/><rect x="649.1" y="2162.72" width="3" height="40.31"/><rect x="645.2" y="2160.97" width="10.8" height="2.9"/><rect x="649.1" y="2211.99" width="3" height="40.31"/><rect x="645.2" y="2251.16" width="10.8" height="2.9"/><rect x="694.1" y="2163.24" width="3" height="40.78"/><rect x="690.2" y="2161.49" width="10.8" height="2.9"/><rect x="694.1" y="2213.09" width="3" height="40.78"/><rect x="690.2" y="2252.72" width="10.8" height="2.9"/><rect x="739.1" y="2166.37" width="3" height="40.78"/><rect x="735.2" y="2164.62" width="10.8" height="2.9"/><rect x="739.1" y="2216.21" width="3" height="40.78"/><rect x="735.2" y="2255.84" width="10.8" height="2.9"/><rect x="784.1" y="2167.41" width="3" height="40.31"/><rect x="780.2" y="2165.66" width="10.8" height="2.9"/><rect x="784.1" y="2216.68" width="3" height="40.31"/><rect x="780.2" y="2255.84" width="10.8" height="2.9"/><rect x="829.1" y="2165.85" width="3" height="40.31"/><rect x="825.2" y="2164.1" width="10.8" height="2.9"/><rect x="829.1" y="2215.12" width="3" height="40.31"/><rect x="825.2" y="2254.28" width="10.8" height="2.9"/><rect x="874.1" y="2166.37" width="3" height="40.31"/><rect x="870.2" y="2164.62" width="10.8" height="2.9"/><rect x="874.1" y="2215.64" width="3" height="40.31"/><rect x="870.2" y="2254.8" width="10.8" height="2.9"/><rect x="919.1" y="2163.24" width="3" height="40.78"/><rect x="915.2" y="2161.49" width="10.8" height="2.9"/><rect x="919.1" y="2213.09" width="3" height="40.78"/><rect x="915.2" y="2252.72" width="10.8" height="2.9"/><rect x="964.1" y="2166.37" width="3" height="40.31"/><rect x="960.2" y="2164.62" width="10.8" height="2.9"/><rect x="964.1" y="2215.64" width="3" height="40.31"/><rect x="960.2" y="2254.8" width="10.8" height="2.9"/><rect x="1009.1" y="2165.85" width="3" height="40.31"/><rect x="1005.2" y="2164.1" width="10.8" height="2.9"/><rect x="1009.1" y="2215.12" width="3" height="40.31"/><rect x="1005.2" y="2254.28" width="10.8" height="2.9"/><rect x="1054.1" y="2232.52" width="3" height="7.5"/><rect x="1050.2" y="2230.77" width="10.8" height="2.9"/><rect x="1054.1" y="2241.68" width="3" height="7.5"/><rect x="1050.2" y="2248.03" width="10.8" height="2.9"/><rect x="1099.1" y="2028.87" width="3" height="17.34"/><rect x="1095.2" y="2027.12" width="10.8" height="2.9"/><rect x="1099.1" y="2050.07" width="3" height="17.34"/><rect x="1095.2" y="2066.26" width="10.8" height="2.9"/><rect x="1144.1" y="2164.29" width="3" height="10.31"/><rect x="1140.2" y="2162.54" width="10.8" height="2.9"/><rect x="1144.1" y="2176.89" width="3" height="10.31"/><rect x="1140.2" y="2186.05" width="10.8" height="2.9"/><rect x="1189.1" y="2067.93" width="3" height="7.5"/><rect x="1185.2" y="2066.18" width="10.8" height="2.9"/><rect x="1189.1" y="2077.1" width="3" height="7.5"/><rect x="1185.2" y="2083.45" width="10.8" height="2.9"/><rect x="1234.1" y="2056.47" width="3" height="4.69"/><rect x="1230.2" y="2054.72" width="10.8" height="2.9"/><rect x="1234.1" y="2062.2" width="3" height="4.69"/><rect x="1230.2" y="2065.74" width="10.8" height="2.9"/><rect x="1279.1" y="2080.43" width="3" height="7.97"/><rect x="1275.2" y="2078.68" width="10.8" height="2.9"/><rect x="1279.1" y="2090.17" width="3" height="7.97"/><rect x="1275.2" y="2096.99" width="10.8" height="2.9"/><rect x="1324.1" y="2157.52" width="3" height="42.66"/><rect x="1320.2" y="2155.77" width="10.8" height="2.9"/><rect x="1324.1" y="2209.65" width="3" height="42.66"/><rect x="1320.2" y="2251.16" width="10.8" height="2.9"/></g>
<g fill="#000" shape-rendering="crispEdges"><rect x="130.15" y="24.7" width="3" height="226.7"/><rect x="110.1" y="248.2" width="3623" height="3.75"/><rect x="120.1" y="237.68" width="11.55" height="2.9"/><rect x="120.1" y="227.27" width="11.55" height="2.9"/><rect x="120.1" y="216.85" width="11.55" height="2.9"/><rect x="120.1" y="206.43" width="11.55" height="2.9"/><rect x="110.1" y="196.02" width="21.55" height="2.9"/><rect x="120.1" y="185.6" width="11.55" height="2.9"/><rect x="120.1" y="175.18" width="11.55" height="2.9"/><rect x="120.1" y="164.77" width="11.55" height="2.9"/><rect x="120.1" y="154.35" width="11.55" height="2.9"/><rect x="110.1" y="143.93" width="21.55" height="2.9"/><rect x="120.1" y="133.52" width="11.55" height="2.9"/><rect x="120.1" y="123.1" width="11.55" height="2.9"/><rect x="120.1" y="112.68" width="11.55" height="2.9"/><rect x="120.1" y="102.27" width="11.55" height="2.9"/><rect x="110.1" y="91.85" width="21.55" height="2.9"/><rect x="120.1" y="81.43" width="11.55" height="2.9"/><rect x="120.1" y="71.02" width="11.55" height="2.9"/><rect x="120.1" y="60.6" width="11.55" height="2.9"/><rect x="120.1" y="50.18" width="11.55" height="2.9"/><rect x="110.1" y="39.77" width="21.55" height="2.9"/><rect x="120.1" y="29.35" width="11.55" height="2.9"/><rect x="154.1" y="249.7" width="3" height="6.1"/><rect x="199.1" y="249.7" width="3" height="6.1"/><rect x="244.1" y="249.7" width="3" height="6.1"/><rect x="289.1" y="249.7" width="3" height="6.1"/><rect x="334.1" y="249.7" width="3" height="10.9"/><rect x="379.1" y="249.7" width="3" height="6.1"/><rect x="424.1" y="249.7" width="3" height="6.1"/><rect x="469.1" y="249.7" width="3" height="6.1"/><rect x="514.1" y="249.7" width="3" height="6.1"/><rect x="559.1" y="249.7" width="3" height="10.9"/><rect x="604.1" y="249.7" width="3" height="6.1"/><rect x="649.1" y="249.7" width="3" height="6.1"/><rect x="694.1" y="249.7" width="3" height="6.1"/><rect x="739.1" y="249.7" width="3" height="6.1"/><rect x="784.1" y="249.7" width="3" height="10.9"/><rect x="829.1" y="249.7" width="3" height="6.1"/><rect x="874.1" y="249.7" width="3" height="6.1"/><rect x="919.1" y="249.7" width="3" height="6.1"/><rect x="964.1" y="249.7" width="3" height="6.1"/><rect x="1009.1" y="249.7" width="3" height="10.9"/><rect x="1054.1" y="249.7" width="3" height="6.1"/><rect x="1099.1" y="249.7" width="3" height="6.1"/><rect x="1144.1" y="249.7" width="3" height="6.1"/><rect x="1189.1" y="249.7" width="3" height="6.1"/><rect x="1234.1" y="249.7" width="3" height="10.9"/><rect x="1279.1" y="249.7" width="3" height="6.1"/><rect x="1324.1" y="249.7" width="3" height="6.1"/><rect x="1369.1" y="249.7" width="3" height="6.1"/><rect x="1414.1" y="249.7" width="3" height="6.1"/><rect x="1459.1" y="249.7" width="3" height="10.9"/><rect x="1504.1" y="249.7" width="3" height="6.1"/><rect x="1549.1" y="249.7" width="3" height="6.1"/><rect x="1594.1" y="249.7" width="3" height="6.1"/><rect x="1639.1" y="249.7" width="3" height="6.1"/><rect x="1684.1" y="249.7" width="3" height="10.9"/><rect x="1729.1" y="249.7" width="3" height="6.1"/><rect x="1774.1" y="249.7" width="3" height="6.1"/><rect x="1819.1" y="249.7" width="3" height="6.1"/><rect x="1864.1" y="249.7" width="3" height="6.1"/><rect x="1909.1" y="249.7" width="3" height="10.9"/><rect x="1954.1" y="249.7" width="3" height="6.1"/><rect x="1999.1" y="249.7" width="3" height="6.1"/><rect x="2044.1" y="249.7" width="3" height="6.1"/><rect x="2089.1" y="249.7" width="3" height="6.1"/><rect x="2134.1" y="249.7" width="3" height="10.9"/><rect x="2179.1" y="249.7" width="3" height="6.1"/><rect x="2224.1" y="249.7" width="3" height="6.1"/><rect x="2269.1" y="249.7" width="3" height="6.1"/><rect x="2314.1" y="249.7" width="3" height="6.1"/><rect x="2359.1" y="249.7" width="3" height="10.9"/><rect x="2404.1" y="249.7" width="3" height="6.1"/><rect x="2449.1" y="249.7" width="3" height="6.1"/><rect x="2494.1" y="249.7" width="3" height="6.1"/><rect x="2539.1" y="249.7" width="3" height="6.1"/><rect x="2584.1" y="249.7" width="3" height="10.9"/><rect x="2629.1" y="249.7" width="3" height="6.1"/><rect x="2674.1" y="249.7" width="3" height="6.1"/><rect x="2719.1" y="249.7" width="3" height="6.1"/><rect x="2764.1" y="249.7" width="3" height="6.1"/><rect x="2809.1" y="249.7" width="3" height="10.9"/><rect x="2854.1" y="249.7" width="3" height="6.1"/><rect x="2899.1" y="249.7" width="3" height="6.1"/><rect x="2944.1" y="249.7" width="3" height="6.1"/><rect x="2989.1" y="249.7" width="3" height="6.1"/><rect x="3034.1" y="249.7" width="3" height="10.9"/><rect x="3079.1" y="249.7" width="3" height="6.1"/><rect x="3124.1" y="249.7" width="3" height="6.1"/><rect x="3169.1" y="249.7" width="3" height="6.1"/><rect x="3214.1" y="249.7" width="3" height="6.1"/><rect x="3259.1" y="249.7" width="3" height="10.9"/><rect x="3304.1" y="249.7" width="3" height="6.1"/><rect x="3349.1" y="249.7" width="3" height="6.1"/><rect x="3394.1" y="249.7" width="3" height="6.1"/><rect x="3439.1" y="249.7" width="3" height="6.1"/><rect x="3484.1" y="249.7" width="3" height="10.9"/><rect x="3529.1" y="249.7" width="3" height="6.1"/><rect x="3574.1" y="249.7" width="3" height="6.1"/><rect x="3619.1" y="249.7" width="3" height="6.1"/><rect x="3664.1" y="249.7" width="3" height="6.1"/><rect x="3709.1" y="249.7" width="3" height="10.9"/><rect x="130.15" y="316.37" width="3" height="226.7"/><rect x="110.1" y="539.87" width="3623" height="3.75"/><rect x="120.1" y="529.35" width="11.55" height="2.9"/><rect x="120.1" y="518.93" width="11.55" height="2.9"/><rect x="120.1" y="508.52" width="11.55" height="2.9"/><rect x="120.1" y="498.1" width="11.55" height="2.9"/><rect x="110.1" y="487.68" width="21.55" height="2.9"/><rect x="120.1" y="477.27" width="11.55" height="2.9"/><rect x="120.1" y="466.85" width="11.55" height="2.9"/><rect x="120.1" y="456.43" width="11.55" height="2.9"/><rect x="120.1" y="446.02" width="11.55" height="2.9"/><rect x="110.1" y="435.6" width="21.55" height="2.9"/><rect x="120.1" y="425.18" width="11.55" height="2.9"/><rect x="120.1" y="414.77" width="11.55" height="2.9"/><rect x="120.1" y="404.35" width="11.55" height="2.9"/><rect x="120.1" y="393.93" width="11.55" height="2.9"/><rect x="110.1" y="383.52" width="21.55" height="2.9"/><rect x="120.1" y="373.1" width="11.55" height="2.9"/><rect x="120.1" y="362.68" width="11.55" height="2.9"/><rect x="120.1" y="352.27" width="11.55" height="2.9"/><rect x="120.1" y="341.85" width="11.55" height="2.9"/><rect x="110.1" y="331.43" width="21.55" height="2.9"/><rect x="120.1" y="321.02" width="11.55" height="2.9"/><rect x="154.1" y="541.37" width="3" height="6.1"/><rect x="199.1" y="541.37" width="3" height="6.1"/><rect x="244.1" y="541.37" width="3" height="6.1"/><rect x="289.1" y="541.37" width="3" height="6.1"/><rect x="334.1" y="541.37" width="3" height="10.9"/><rect x="379.1" y="541.37" width="3" height="6.1"/><rect x="424.1" y="541.37" width="3" height="6.1"/><rect x="469.1" y="541.37" width="3" height="6.1"/><rect x="514.1" y="541.37" width="3" height="6.1"/><rect x="559.1" y="541.37" width="3" height="10.9"/><rect x="604.1" y="541.37" width="3" height="6.1"/><rect x="649.1" y="541.37" width="3" height="6.1"/><rect x="694.1" y="541.37" width="3" height="6.1"/><rect x="739.1" y="541.37" width="3" height="6.1"/><rect x="784.1" y="541.37" width="3" height="10.9"/><rect x="829.1" y="541.37" width="3" height="6.1"/><rect x="874.1" y="541.37" width="3" height="6.1"/><rect x="919.1" y="541.37" width="3" height="6.1"/><rect x="964.1" y="541.37" width="3" height="6.1"/><rect x="1009.1" y="541.37" width="3" height="10.9"/><rect x="1054.1" y="541.37" width="3" height="6.1"/><rect x="1099.1" y="541.37" width="3" height="6.1"/><rect x="1144.1" y="541.37" width="3" height="6.1"/><rect x="1189.1" y="541.37" width="3" height="6.1"/><rect x="1234.1" y="541.37" width="3" height="10.9"/><rect x="1279.1" y="541.37" width="3" height="6.1"/><rect x="1324.1" y="541.37" width="3" height="6.1"/><rect x="1369.1" y="541.37" width="3" height="6.1"/><rect x="1414.1" y="541.37" width="3" height="6.1"/><rect x="1459.1" y="541.37" width="3" height="10.9"/><rect x="1504.1" y="541.37" width="3" height="6.1"/><rect x="1549.1" y="541.37" width="3" height="6.1"/><rect x="1594.1" y="541.37" width="3" height="6.1"/><rect x="1639.1" y="541.37" width="3" height="6.1"/><rect x="1684.1" y="541.37" width="3" height="10.9"/><rect x="1729.1" y="541.37" width="3" height="6.1"/><rect x="1774.1" y="541.37" width="3" height="6.1"/><rect x="1819.1" y="541.37" width="3" height="6.1"/><rect x="1864.1" y="541.37" width="3" height="6.1"/><rect x="1909.1" y="541.37" width="3" height="10.9"/><rect x="1954.1" y="541.37" width="3" height="6.1"/><rect x="1999.1" y="541.37" width="3" height="6.1"/><rect x="2044.1" y="541.37" width="3" height="6.1"/><rect x="2089.1" y="541.37" width="3" height="6.1"/><rect x="2134.1" y="541.37" width="3" height="10.9"/><rect x="2179.1" y="541.37" width="3" height="6.1"/><rect x="2224.1" y="541.37" width="3" height="6.1"/><rect x="2269.1" y="541.37" width="3" height="6.1"/><rect x="2314.1" y="541.37" width="3" height="6.1"/><rect x="2359.1" y="541.37" width="3" height="10.9"/><rect x="2404.1" y="541.37" width="3" height="6.1"/><rect x="2449.1" y="541.37" width="3" height="6.1"/><rect x="2494.1" y="541.37" width="3" height="6.1"/><rect x="2539.1" y="541.37" width="3" height="6.1"/><rect x="2584.1" y="541.37" width="3" height="10.9"/><rect x="2629.1" y="541.37" width="3" height="6.1"/><rect x="2674.1" y="541.37" width="3" height="6.1"/><rect x="2719.1" y="541.37" width="3" height="6.1"/><rect x="2764.1" y="541.37" width="3" height="6.1"/><rect x="2809.1" y="541.37" width="3" height="10.9"/><rect x="2854.1" y="541.37" width="3" height="6.1"/><rect x="2899.1" y="541.37" width="3" height="6.1"/><rect x="2944.1" y="541.37" width="3" height="6.1"/><rect x="2989.1" y="541.37" width="3" height="6.1"/><rect x="3034.1" y="541.37" width="3" height="10.9"/><rect x="3079.1" y="541.37" width="3" height="6.1"/><rect x="3124.1" y="541.37" width="3" height="6.1"/><rect x="3169.1" y="541.37" width="3" height="6.1"/><rect x="3214.1" y="541.37" width="3" height="6.1"/><rect x="3259.1" y="541.37" width="3" height="10.9"/><rect x="3304.1" y="541.37" width="3" height="6.1"/><rect x="3349.1" y="541.37" width="3" height="6.1"/><rect x="3394.1" y="541.37" width="3" height="6.1"/><rect x="3439.1" y="541.37" width="3" height="6.1"/><rect x="3484.1" y="541.37" width="3" height="10.9"/><rect x="3529.1" y="541.37" width="3" height="6.1"/><rect x="3574.1" y="541.37" width="3" height="6.1"/><rect x="3619.1" y="541.37" width="3" height="6.1"/><rect x="3664.1" y="541.37" width="3" height="6.1"/><rect x="3709.1" y="541.37" width="3" height="10.9"/><rect x="130.15" y="608.04" width="3" height="226.7"/><rect x="110.1" y="831.53" width="3623" height="3.75"/><rect x="120.1" y="821.02" width="11.55" height="2.9"/><rect x="120.1" y="810.6" width="11.55" height="2.9"/><rect x="120.1" y="800.18" width="11.55" height="2.9"/><rect x="120.1" y="789.77" width="11.55" height="2.9"/><rect x="110.1" y="779.35" width="21.55" height="2.9"/><rect x="120.1" y="768.93" width="11.55" height="2.9"/><rect x="120.1" y="758.52" width="11.55" height="2.9"/><rect x="120.1" y="748.1" width="11.55" height="2.9"/><rect x="120.1" y="737.68" width="11.55" height="2.9"/><rect x="110.1" y="727.27" width="21.55" height="2.9"/><rect x="120.1" y="716.85" width="11.55" height="2.9"/><rect x="120.1" y="706.43" width="11.55" height="2.9"/><rect x="120.1" y="696.02" width="11.55" height="2.9"/><rect x="120.1" y="685.6" width="11.55" height="2.9"/><rect x="110.1" y="675.18" width="21.55" height="2.9"/><rect x="120.1" y="664.77" width="11.55" height="2.9"/><rect x="120.1" y="654.35" width="11.55" height="2.9"/><rect x="120.1" y="643.94" width="11.55" height="2.9"/><rect x="120.1" y="633.52" width="11.55" height="2.9"/><rect x="110.1" y="623.1" width="21.55" height="2.9"/><rect x="120.1" y="612.69" width="11.55" height="2.9"/><rect x="154.1" y="833.03" width="3" height="6.1"/><rect x="199.1" y="833.03" width="3" height="6.1"/><rect x="244.1" y="833.03" width="3" height="6.1"/><rect x="289.1" y="833.03" width="3" height="6.1"/><rect x="334.1" y="833.03" width="3" height="10.9"/><rect x="379.1" y="833.03" width="3" height="6.1"/><rect x="424.1" y="833.03" width="3" height="6.1"/><rect x="469.1" y="833.03" width="3" height="6.1"/><rect x="514.1" y="833.03" width="3" height="6.1"/><rect x="559.1" y="833.03" width="3" height="10.9"/><rect x="604.1" y="833.03" width="3" height="6.1"/><rect x="649.1" y="833.03" width="3" height="6.1"/><rect x="694.1" y="833.03" width="3" height="6.1"/><rect x="739.1" y="833.03" width="3" height="6.1"/><rect x="784.1" y="833.03" width="3" height="10.9"/><rect x="829.1" y="833.03" width="3" height="6.1"/><rect x="874.1" y="833.03" width="3" height="6.1"/><rect x="919.1" y="833.03" width="3" height="6.1"/><rect x="964.1" y="833.03" width="3" height="6.1"/><rect x="1009.1" y="833.03" width="3" height="10.9"/><rect x="1054.1" y="833.03" width="3" height="6.1"/><rect x="1099.1" y="833.03" width="3" height="6.1"/><rect x="1144.1" y="833.03" width="3" height="6.1"/><rect x="1189.1" y="833.03" width="3" height="6.1"/><rect x="1234.1" y="833.03" width="3" height="10.9"/><rect x="1279.1" y="833.03" width="3" height="6.1"/><rect x="1324.1" y="833.03" width="3" height="6.1"/><rect x="1369.1" y="833.03" width="3" height="6.1"/><rect x="1414.1" y="833.03" width="3" height="6.1"/><rect x="1459.1" y="833.03" width="3" height="10.9"/><rect x="1504.1" y="833.03" width="3" height="6.1"/><rect x="1549.1" y="833.03" width="3" height="6.1"/><rect x="1594.1" y="833.03" width="3" height="6.1"/><rect x="1639.1" y="833.03" width="3" height="6.1"/><rect x="1684.1" y="833.03" width="3" height="10.9"/><rect x="1729.1" y="833.03" width="3" height="6.1"/><rect x="1774.1" y="833.03" width="3" height="6.1"/><rect x="1819.1" y="833.03" width="3" height="6.1"/><rect x="1864.1" y="833.03" width="3" height="6.1"/><rect x="1909.1" y="833.03" width="3" height="10.9"/><rect x="1954.1" y="833.03" width="3" height="6.1"/><rect x="1999.1" y="833.03" width="3" height="6.1"/><rect x="2044.1" y="833.03" width="3" height="6.1"/><rect x="2089.1" y="833.03" width="3" height="6.1"/><rect x="2134.1" y="833.03" width="3" height="10.9"/><rect x="2179.1" y="833.03" width="3" height="6.1"/><rect x="2224.1" y="833.03" width="3" height="6.1"/><rect x="2269.1" y="833.03" width="3" height="6.1"/><rect x="2314.1" y="833.03" width="3" height="6.1"/><rect x="2359.1" y="833.03" width="3" height="10.9"/><rect x="2404.1" y="833.03" width="3" height="6.1"/><rect x="2449.1" y="833.03" width="3" height="6.1"/><rect x="2494.1" y="833.03" width="3" height="6.1"/><rect x="2539.1" y="833.03" width="3" height="6.1"/><rect x="2584.1" y="833.03" width="3" height="10.9"/><rect x="2629.1" y="833.03" width="3" height="6.1"/><rect x="2674.1" y="833.03" width="3" height="6.1"/><rect x="2719.1" y="833.03" width="3" height="6.1"/><rect x="2764.1" y="833.03" width="3" height="6.1"/><rect x="2809.1" y="833.03" width="3" height="10.9"/><rect x="2854.1" y="833.03" width="3" height="6.1"/><rect x="2899.1" y="833.03" width="3" height="6.1"/><rect x="2944.1" y="833.03" width="3" height="6.1"/><rect x="2989.1" y="833.03" width="3" height="6.1"/><rect x="3034.1" y="833.03" width="3" height="10.9"/><rect x="3079.1" y="833.03" width="3" height="6.1"/><rect x="3124.1" y="833.03" width="3" height="6.1"/><rect x="3169.1" y="833.03" width="3" height="6.1"/><rect x="3214.1" y="833.03" width="3" height="6.1"/><rect x="3259.1" y="833.03" width="3" height="10.9"/><rect x="3304.1" y="833.03" width="3" height="6.1"/><rect x="3349.1" y="833.03" width="3" height="6.1"/><rect x="3394.1" y="833.03" width="3" height="6.1"/><rect x="3439.1" y="833.03" width="3" height="6.1"/><rect x="3484.1" y="833.03" width="3" height="10.9"/><rect x="3529.1" y="833.03" width="3" height="6.1"/><rect x="3574.1" y="833.03" width="3" height="6.1"/><rect x="3619.1" y="833.03" width="3" height="6.1"/><rect x="3664.1" y="833.03" width="3" height="6.1"/><rect x="3709.1" y="833.03" width="3" height="10.9"/><rect x="130.15" y="899.7" width="3" height="226.7"/><rect x="110.1" y="1123.2" width="3623" height="3.75"/><rect x="120.1" y="1112.68" width="11.55" height="2.9"/><rect x="120.1" y="1102.27" width="11.55" height="2.9"/><rect x="120.1" y="1091.85" width="11.55" height="2.9"/><rect x="120.1" y="1081.43" width="11.55" height="2.9"/><rect x="110.1" y="1071.02" width="21.55" height="2.9"/><rect x="120.1" y="1060.6" width="11.55" height="2.9"/><rect x="120.1" y="1050.18" width="11.55" height="2.9"/><rect x="120.1" y="1039.77" width="11.55" height="2.9"/><rect x="120.1" y="1029.35" width="11.55" height="2.9"/><rect x="110.1" y="1018.94" width="21.55" height="2.9"/><rect x="120.1" y="1008.52" width="11.55" height="2.9"/><rect x="120.1" y="998.1" width="11.55" height="2.9"/><rect x="120.1" y="987.69" width="11.55" height="2.9"/><rect x="120.1" y="977.27" width="11.55" height="2.9"/><rect x="110.1" y="966.85" width="21.55" height="2.9"/><rect x="120.1" y="956.44" width="11.55" height="2.9"/><rect x="120.1" y="946.02" width="11.55" height="2.9"/><rect x="120.1" y="935.6" width="11.55" height="2.9"/><rect x="120.1" y="925.19" width="11.55" height="2.9"/><rect x="110.1" y="914.77" width="21.55" height="2.9"/><rect x="120.1" y="904.35" width="11.55" height="2.9"/><rect x="154.1" y="1124.7" width="3" height="6.1"/><rect x="199.1" y="1124.7" width="3" height="6.1"/><rect x="244.1" y="1124.7" width="3" height="6.1"/><rect x="289.1" y="1124.7" width="3" height="6.1"/><rect x="334.1" y="1124.7" width="3" height="10.9"/><rect x="379.1" y="1124.7" width="3" height="6.1"/><rect x="424.1" y="1124.7" width="3" height="6.1"/><rect x="469.1" y="1124.7" width="3" height="6.1"/><rect x="514.1" y="1124.7" width="3" height="6.1"/><rect x="559.1" y="1124.7" width="3" height="10.9"/><rect x="604.1" y="1124.7" width="3" height="6.1"/><rect x="649.1" y="1124.7" width="3" height="6.1"/><rect x="694.1" y="1124.7" width="3" height="6.1"/><rect x="739.1" y="1124.7" width="3" height="6.1"/><rect x="784.1" y="1124.7" width="3" height="10.9"/><rect x="829.1" y="1124.7" width="3" height="6.1"/><rect x="874.1" y="1124.7" width="3" height="6.1"/><rect x="919.1" y="1124.7" width="3" height="6.1"/><rect x="964.1" y="1124.7" width="3" height="6.1"/><rect x="1009.1" y="1124.7" width="3" height="10.9"/><rect x="1054.1" y="1124.7" width="3" height="6.1"/><rect x="1099.1" y="1124.7" width="3" height="6.1"/><rect x="1144.1" y="1124.7" width="3" height="6.1"/><rect x="1189.1" y="1124.7" width="3" height="6.1"/><rect x="1234.1" y="1124.7" width="3" height="10.9"/><rect x="1279.1" y="1124.7" width="3" height="6.1"/><rect x="1324.1" y="1124.7" width="3" height="6.1"/><rect x="1369.1" y="1124.7" width="3" height="6.1"/><rect x="1414.1" y="1124.7" width="3" height="6.1"/><rect x="1459.1" y="1124.7" width="3" height="10.9"/><rect x="1504.1" y="1124.7" width="3" height="6.1"/><rect x="1549.1" y="1124.7" width="3" height="6.1"/><rect x="1594.1" y="1124.7" width="3" height="6.1"/><rect x="1639.1" y="1124.7" width="3" height="6.1"/><rect x="1684.1" y="1124.7" width="3" height="10.9"/><rect x="1729.1" y="1124.7" width="3" height="6.1"/><rect x="1774.1" y="1124.7" width="3" height="6.1"/><rect x="1819.1" y="1124.7" width="3" height="6.1"/><rect x="1864.1" y="1124.7" width="3" height="6.1"/><rect x="1909.1" y="1124.7" width="3" height="10.9"/><rect x="1954.1" y="1124.7" width="3" height="6.1"/><rect x="1999.1" y="1124.7" width="3" height="6.1"/><rect x="2044.1" y="1124.7" width="3" height="6.1"/><rect x="2089.1" y="1124.7" width="3" height="6.1"/><rect x="2134.1" y="1124.7" width="3" height="10.9"/><rect x="2179.1" y="1124.7" width="3" height="6.1"/><rect x="2224.1" y="1124.7" width="3" height="6.1"/><rect x="2269.1" y="1124.7" width="3" height="6.1"/><rect x="2314.1" y="1124.7" width="3" height="6.1"/><rect x="2359.1" y="1124.7" width="3" height="10.9"/><rect x="2404.1" y="1124.7" width="3" height="6.1"/><rect x="2449.1" y="1124.7" width="3" height="6.1"/><rect x="2494.1" y="1124.7" width="3" height="6.1"/><rect x="2539.1" y="1124.7" width="3" height="6.1"/><rect x="2584.1" y="1124.7" width="3" height="10.9"/><rect x="2629.1" y="1124.7" width="3" height="6.1"/><rect x="2674.1" y="1124.7" width="3" height="6.1"/><rect x="2719.1" y="1124.7" width="3" height="6.1"/><rect x="2764.1" y="1124.7" width="3" height="6.1"/><rect x="2809.1" y="1124.7" width="3" height="10.9"/><rect x="2854.1" y="1124.7" width="3" height="6.1"/><rect x="2899.1" y="1124.7" width="3" height="6.1"/><rect x="2944.1" y="1124.7" width="3" height="6.1"/><rect x="2989.1" y="1124.7" width="3" height="6.1"/><rect x="3034.1" y="1124.7" width="3" height="10.9"/><rect x="3079.1" y="1124.7" width="3" height="6.1"/><rect x="3124.1" y="1124.7" width="3" height="6.1"/><rect x="3169.1" y="1124.7" width="3" height="6.1"/><rect x="3214.1" y="1124.7" width="3" height="6.1"/><rect x="3259.1" y="1124.7" width="3" height="10.9"/><rect x="3304.1" y="1124.7" width="3" height="6.1"/><rect x="3349.1" y="1124.7" width="3" height="6.1"/><rect x="3394.1" y="1124.7" width="3" height="6.1"/><rect x="3439.1" y="1124.7" width="3" height="6.1"/><rect x="3484.1" y="1124.7" width="3" height="10.9"/><rect x="3529.1" y="1124.7" width="3" height="6.1"/><rect x="3574.1" y="1124.7" width="3" height="6.1"/><rect x="3619.1" y="1124.7" width="3" height="6.1"/><rect x="3664.1" y="1124.7" width="3" height="6.1"/><rect x="3709.1" y="1124.7" width="3" height="10.9"/><rect x="130.15" y="1191.37" width="3" height="226.7"/><rect x="110.1" y="1414.87" width="3623" height="3.75"/><rect x="120.1" y="1404.35" width="11.55" height="2.9"/><rect x="120.1" y="1393.93" width="11.55" height="2.9"/><rect x="120.1" y="1383.52" width="11.55" height="2.9"/><rect x="120.1" y="1373.1" width="11.55" height="2.9"/><rect x="110.1" y="1362.68" width="21.55" height="2.9"/><rect x="120.1" y="1352.27" width="11.55" height="2.9"/><rect x="120.1" y="1341.85" width="11.55" height="2.9"/><rect x="120.1" y="1331.44" width="11.55" height="2.9"/><rect x="120.1" y="1321.02" width="11.55" height="2.9"/><rect x="110.1" y="1310.6" width="21.55" height="2.9"/><rect x="120.1" y="1300.19" width="11.55" height="2.9"/><rect x="120.1" y="1289.77" width="11.55" height="2.9"/><rect x="120.1" y="1279.35" width="11.55" height="2.9"/><rect x="120.1" y="1268.94" width="11.55" height="2.9"/><rect x="110.1" y="1258.52" width="21.55" height="2.9"/><rect x="120.1" y="1248.1" width="11.55" height="2.9"/><rect x="120.1" y="1237.69" width="11.55" height="2.9"/><rect x="120.1" y="1227.27" width="11.55" height="2.9"/><rect x="120.1" y="1216.85" width="11.55" height="2.9"/><rect x="110.1" y="1206.44" width="21.55" height="2.9"/><rect x="120.1" y="1196.02" width="11.55" height="2.9"/><rect x="154.1" y="1416.37" width="3" height="6.1"/><rect x="199.1" y="1416.37" width="3" height="6.1"/><rect x="244.1" y="1416.37" width="3" height="6.1"/><rect x="289.1" y="1416.37" width="3" height="6.1"/><rect x="334.1" y="1416.37" width="3" height="10.9"/><rect x="379.1" y="1416.37" width="3" height="6.1"/><rect x="424.1" y="1416.37" width="3" height="6.1"/><rect x="469.1" y="1416.37" width="3" height="6.1"/><rect x="514.1" y="1416.37" width="3" height="6.1"/><rect x="559.1" y="1416.37" width="3" height="10.9"/><rect x="604.1" y="1416.37" width="3" height="6.1"/><rect x="649.1" y="1416.37" width="3" height="6.1"/><rect x="694.1" y="1416.37" width="3" height="6.1"/><rect x="739.1" y="1416.37" width="3" height="6.1"/><rect x="784.1" y="1416.37" width="3" height="10.9"/><rect x="829.1" y="1416.37" width="3" height="6.1"/><rect x="874.1" y="1416.37" width="3" height="6.1"/><rect x="919.1" y="1416.37" width="3" height="6.1"/><rect x="964.1" y="1416.37" width="3" height="6.1"/><rect x="1009.1" y="1416.37" width="3" height="10.9"/><rect x="1054.1" y="1416.37" width="3" height="6.1"/><rect x="1099.1" y="1416.37" width="3" height="6.1"/><rect x="1144.1" y="1416.37" width="3" height="6.1"/><rect x="1189.1" y="1416.37" width="3" height="6.1"/><rect x="1234.1" y="1416.37" width="3" height="10.9"/><rect x="1279.1" y="1416.37" width="3" height="6.1"/><rect x="1324.1" y="1416.37" width="3" height="6.1"/><rect x="1369.1" y="1416.37" width="3" height="6.1"/><rect x="1414.1" y="1416.37" width="3" height="6.1"/><rect x="1459.1" y="1416.37" width="3" height="10.9"/><rect x="1504.1" y="1416.37" width="3" height="6.1"/><rect x="1549.1" y="1416.37" width="3" height="6.1"/><rect x="1594.1" y="1416.37" width="3" height="6.1"/><rect x="1639.1" y="1416.37" width="3" height="6.1"/><rect x="1684.1" y="1416.37" width="3" height="10.9"/><rect x="1729.1" y="1416.37" width="3" height="6.1"/><rect x="1774.1" y="1416.37" width="3" height="6.1"/><rect x="1819.1" y="1416.37" width="3" height="6.1"/><rect x="1864.1" y="1416.37" width="3" height="6.1"/><rect x="1909.1" y="1416.37" width="3" height="10.9"/><rect x="1954.1" y="1416.37" width="3" height="6.1"/><rect x="1999.1" y="1416.37" width="3" height="6.1"/><rect x="2044.1" y="1416.37" width="3" height="6.1"/><rect x="2089.1" y="1416.37" width="3" height="6.1"/><rect x="2134.1" y="1416.37" width="3" height="10.9"/><rect x="2179.1" y="1416.37" width="3" height="6.1"/><rect x="2224.1" y="1416.37" width="3" height="6.1"/><rect x="2269.1" y="1416.37" width="3" height="6.1"/><rect x="2314.1" y="1416.37" width="3" height="6.1"/><rect x="2359.1" y="1416.37" width="3" height="10.9"/><rect x="2404.1" y="1416.37" width="3" height="6.1"/><rect x="2449.1" y="1416.37" width="3" height="6.1"/><rect x="2494.1" y="1416.37" width="3" height="6.1"/><rect x="2539.1" y="1416.37" width="3" height="6.1"/><rect x="2584.1" y="1416.37" width="3" height="10.9"/><rect x="2629.1" y="1416.37" width="3" height="6.1"/><rect x="2674.1" y="1416.37" width="3" height="6.1"/><rect x="2719.1" y="1416.37" width="3" height="6.1"/><rect x="2764.1" y="1416.37" width="3" height="6.1"/><rect x="2809.1" y="1416.37" width="3" height="10.9"/><rect x="2854.1" y="1416.37" width="3" height="6.1"/><rect x="2899.1" y="1416.37" width="3" height="6.1"/><rect x="2944.1" y="1416.37" width="3" height="6.1"/><rect x="2989.1" y="1416.37" width="3" height="6.1"/><rect x="3034.1" y="1416.37" width="3" height="10.9"/><rect x="3079.1" y="1416.37" width="3" height="6.1"/><rect x="3124.1" y="1416.37" width="3" height="6.1"/><rect x="3169.1" y="1416.37" width="3" height="6.1"/><rect x="3214.1" y="1416.37" width="3" height="6.1"/><rect x="3259.1" y="1416.37" width="3" height="10.9"/><rect x="3304.1" y="1416.37" width="3" height="6.1"/><rect x="3349.1" y="1416.37" width="3" height="6.1"/><rect x="3394.1" y="1416.37" width="3" height="6.1"/><rect x="3439.1" y="1416.37" width="3" height="6.1"/><rect x="3484.1" y="1416.37" width="3" height="10.9"/><rect x="3529.1" y="1416.37" width="3" height="6.1"/><rect x="3574.1" y="1416.37" width="3" height="6.1"/><rect x="3619.1" y="1416.37" width="3" height="6.1"/><rect x="3664.1" y="1416.37" width="3" height="6.1"/><rect x="3709.1" y="1416.37" width="3" height="10.9"/><rect x="130.15" y="1483.04" width="3" height="226.7"/><rect x="110.1" y="1706.53" width="3623" height="3.75"/><rect x="120.1" y="1696.02" width="11.55" height="2.9"/><rect x="120.1" y="1685.6" width="11.55" height="2.9"/><rect x="120.1" y="1675.19" width="11.55" height="2.9"/><rect x="120.1" y="1664.77" width="11.55" height="2.9"/><rect x="110.1" y="1654.35" width="21.55" height="2.9"/><rect x="120.1" y="1643.94" width="11.55" height="2.9"/><rect x="120.1" y="1633.52" width="11.55" height="2.9"/><rect x="120.1" y="1623.1" width="11.55" height="2.9"/><rect x="120.1" y="1612.69" width="11.55" height="2.9"/><rect x="110.1" y="1602.27" width="21.55" height="2.9"/><rect x="120.1" y="1591.85" width="11.55" height="2.9"/><rect x="120.1" y="1581.44" width="11.55" height="2.9"/><rect x="120.1" y="1571.02" width="11.55" height="2.9"/><rect x="120.1" y="1560.6" width="11.55" height="2.9"/><rect x="110.1" y="1550.19" width="21.55" height="2.9"/><rect x="120.1" y="1539.77" width="11.55" height="2.9"/><rect x="120.1" y="1529.35" width="11.55" height="2.9"/><rect x="120.1" y="1518.94" width="11.55" height="2.9"/><rect x="120.1" y="1508.52" width="11.55" height="2.9"/><rect x="110.1" y="1498.1" width="21.55" height="2.9"/><rect x="120.1" y="1487.69" width="11.55" height="2.9"/><rect x="154.1" y="1708.03" width="3" height="6.1"/><rect x="199.1" y="1708.03" width="3" height="6.1"/><rect x="244.1" y="1708.03" width="3" height="6.1"/><rect x="289.1" y="1708.03" width="3" height="6.1"/><rect x="334.1" y="1708.03" width="3" height="10.9"/><rect x="379.1" y="1708.03" width="3" height="6.1"/><rect x="424.1" y="1708.03" width="3" height="6.1"/><rect x="469.1" y="1708.03" width="3" height="6.1"/><rect x="514.1" y="1708.03" width="3" height="6.1"/><rect x="559.1" y="1708.03" width="3" height="10.9"/><rect x="604.1" y="1708.03" width="3" height="6.1"/><rect x="649.1" y="1708.03" width="3" height="6.1"/><rect x="694.1" y="1708.03" width="3" height="6.1"/><rect x="739.1" y="1708.03" width="3" height="6.1"/><rect x="784.1" y="1708.03" width="3" height="10.9"/><rect x="829.1" y="1708.03" width="3" height="6.1"/><rect x="874.1" y="1708.03" width="3" height="6.1"/><rect x="919.1" y="1708.03" width="3" height="6.1"/><rect x="964.1" y="1708.03" width="3" height="6.1"/><rect x="1009.1" y="1708.03" width="3" height="10.9"/><rect x="1054.1" y="1708.03" width="3" height="6.1"/><rect x="1099.1" y="1708.03" width="3" height="6.1"/><rect x="1144.1" y="1708.03" width="3" height="6.1"/><rect x="1189.1" y="1708.03" width="3" height="6.1"/><rect x="1234.1" y="1708.03" width="3" height="10.9"/><rect x="1279.1" y="1708.03" width="3" height="6.1"/><rect x="1324.1" y="1708.03" width="3" height="6.1"/><rect x="1369.1" y="1708.03" width="3" height="6.1"/><rect x="1414.1" y="1708.03" width="3" height="6.1"/><rect x="1459.1" y="1708.03" width="3" height="10.9"/><rect x="1504.1" y="1708.03" width="3" height="6.1"/><rect x="1549.1" y="1708.03" width="3" height="6.1"/><rect x="1594.1" y="1708.03" width="3" height="6.1"/><rect x="1639.1" y="1708.03" width="3" height="6.1"/><rect x="1684.1" y="1708.03" width="3" height="10.9"/><rect x="1729.1" y="1708.03" width="3" height="6.1"/><rect x="1774.1" y="1708.03" width="3" height="6.1"/><rect x="1819.1" y="1708.03" width="3" height="6.1"/><rect x="1864.1" y="1708.03" width="3" height="6.1"/><rect x="1909.1" y="1708.03" width="3" height="10.9"/><rect x="1954.1" y="1708.03" width="3" height="6.1"/><rect x="1999.1" y="1708.03" width="3" height="6.1"/><rect x="2044.1" y="1708.03" width="3" height="6.1"/><rect x="2089.1" y="1708.03" width="3" height="6.1"/><rect x="2134.1" y="1708.03" width="3" height="10.9"/><rect x="2179.1" y="1708.03" width="3" height="6.1"/><rect x="2224.1" y="1708.03" width="3" height="6.1"/><rect x="2269.1" y="1708.03" width="3" height="6.1"/><rect x="2314.1" y="1708.03" width="3" height="6.1"/><rect x="2359.1" y="1708.03" width="3" height="10.9"/><rect x="2404.1" y="1708.03" width="3" height="6.1"/><rect x="2449.1" y="1708.03" width="3" height="6.1"/><rect x="2494.1" y="1708.03" width="3" height="6.1"/><rect x="2539.1" y="1708.03" width="3" height="6.1"/><rect x="2584.1" y="1708.03" width="3" height="10.9"/><rect x="2629.1" y="1708.03" width="3" height="6.1"/><rect x="2674.1" y="1708.03" width="3" height="6.1"/><rect x="2719.1" y="1708.03" width="3" height="6.1"/><rect x="2764.1" y="1708.03" width="3" height="6.1"/><rect x="2809.1" y="1708.03" width="3" height="10.9"/><rect x="2854.1" y="1708.03" width="3" height="6.1"/><rect x="2899.1" y="1708.03" width="3" height="6.1"/><rect x="2944.1" y="1708.03" width="3" height="6.1"/><rect x="2989.1" y="1708.03" width="3" height="6.1"/><rect x="3034.1" y="1708.03" width="3" height="10.9"/><rect x="3079.1" y="1708.03" width="3" height="6.1"/><rect x="3124.1" y="1708.03" width="3" height="6.1"/><rect x="3169.1" y="1708.03" width="3" height="6.1"/><rect x="3214.1" y="1708.03" width="3" height="6.1"/><rect x="3259.1" y="1708.03" width="3" height="10.9"/><rect x="3304.1" y="1708.03" width="3" height="6.1"/><rect x="3349.1" y="1708.03" width="3" height="6.1"/><rect x="3394.1" y="1708.03" width="3" height="6.1"/><rect x="3439.1" y="1708.03" width="3" height="6.1"/><rect x="3484.1" y="1708.03" width="3" height="10.9"/><rect x="3529.1" y="1708.03" width="3" height="6.1"/><rect x="3574.1" y="1708.03" width="3" height="6.1"/><rect x="3619.1" y="1708.03" width="3" height="6.1"/><rect x="3664.1" y="1708.03" width="3" height="6.1"/><rect x="3709.1" y="1708.03" width="3" height="10.9"/><rect x="130.15" y="1774.7" width="3" height="226.7"/><rect x="110.1" y="1998.2" width="3623" height="3.75"/><rect x="120.1" y="1987.69" width="11.55" height="2.9"/><rect x="120.1" y="1977.27" width="11.55" height="2.9"/><rect x="120.1" y="1966.85" width="11.55" height="2.9"/><rect x="120.1" y="1956.44" width="11.55" height="2.9"/><rect x="110.1" y="1946.02" width="21.55" height="2.9"/><rect x="120.1" y="1935.6" width="11.55" height="2.9"/><rect x="120.1" y="1925.19" width="11.55" height="2.9"/><rect x="120.1" y="1914.77" width="11.55" height="2.9"/><rect x="120.1" y="1904.35" width="11.55" height="2.9"/><rect x="110.1" y="1893.94" width="21.55" height="2.9"/><rect x="120.1" y="1883.52" width="11.55" height="2.9"/><rect x="120.1" y="1873.1" width="11.55" height="2.9"/><rect x="120.1" y="1862.69" width="11.55" height="2.9"/><rect x="120.1" y="1852.27" width="11.55" height="2.9"/><rect x="110.1" y="1841.85" width="21.55" height="2.9"/><rect x="120.1" y="1831.44" width="11.55" height="2.9"/><rect x="120.1" y="1821.02" width="11.55" height="2.9"/><rect x="120.1" y="1810.6" width="11.55" height="2.9"/><rect x="120.1" y="1800.19" width="11.55" height="2.9"/><rect x="110.1" y="1789.77" width="21.55" height="2.9"/><rect x="120.1" y="1779.35" width="11.55" height="2.9"/><rect x="154.1" y="1999.7" width="3" height="6.1"/><rect x="199.1" y="1999.7" width="3" height="6.1"/><rect x="244.1" y="1999.7" width="3" height="6.1"/><rect x="289.1" y="1999.7" width="3" height="6.1"/><rect x="334.1" y="1999.7" width="3" height="10.9"/><rect x="379.1" y="1999.7" width="3" height="6.1"/><rect x="424.1" y="1999.7" width="3" height="6.1"/><rect x="469.1" y="1999.7" width="3" height="6.1"/><rect x="514.1" y="1999.7" width="3" height="6.1"/><rect x="559.1" y="1999.7" width="3" height="10.9"/><rect x="604.1" y="1999.7" width="3" height="6.1"/><rect x="649.1" y="1999.7" width="3" height="6.1"/><rect x="694.1" y="1999.7" width="3" height="6.1"/><rect x="739.1" y="1999.7" width="3" height="6.1"/><rect x="784.1" y="1999.7" width="3" height="10.9"/><rect x="829.1" y="1999.7" width="3" height="6.1"/><rect x="874.1" y="1999.7" width="3" height="6.1"/><rect x="919.1" y="1999.7" width="3" height="6.1"/><rect x="964.1" y="1999.7" width="3" height="6.1"/><rect x="1009.1" y="1999.7" width="3" height="10.9"/><rect x="1054.1" y="1999.7" width="3" height="6.1"/><rect x="1099.1" y="1999.7" width="3" height="6.1"/><rect x="1144.1" y="1999.7" width="3" height="6.1"/><rect x="1189.1" y="1999.7" width="3" height="6.1"/><rect x="1234.1" y="1999.7" width="3" height="10.9"/><rect x="1279.1" y="1999.7" width="3" height="6.1"/><rect x="1324.1" y="1999.7" width="3" height="6.1"/><rect x="1369.1" y="1999.7" width="3" height="6.1"/><rect x="1414.1" y="1999.7" width="3" height="6.1"/><rect x="1459.1" y="1999.7" width="3" height="10.9"/><rect x="1504.1" y="1999.7" width="3" height="6.1"/><rect x="1549.1" y="1999.7" width="3" height="6.1"/><rect x="1594.1" y="1999.7" width="3" height="6.1"/><rect x="1639.1" y="1999.7" width="3" height="6.1"/><rect x="1684.1" y="1999.7" width="3" height="10.9"/><rect x="1729.1" y="1999.7" width="3" height="6.1"/><rect x="1774.1" y="1999.7" width="3" height="6.1"/><rect x="1819.1" y="1999.7" width="3" height="6.1"/><rect x="1864.1" y="1999.7" width="3" height="6.1"/><rect x="1909.1" y="1999.7" width="3" height="10.9"/><rect x="1954.1" y="1999.7" width="3" height="6.1"/><rect x="1999.1" y="1999.7" width="3" height="6.1"/><rect x="2044.1" y="1999.7" width="3" height="6.1"/><rect x="2089.1" y="1999.7" width="3" height="6.1"/><rect x="2134.1" y="1999.7" width="3" height="10.9"/><rect x="2179.1" y="1999.7" width="3" height="6.1"/><rect x="2224.1" y="1999.7" width="3" height="6.1"/><rect x="2269.1" y="1999.7" width="3" height="6.1"/><rect x="2314.1" y="1999.7" width="3" height="6.1"/><rect x="2359.1" y="1999.7" width="3" height="10.9"/><rect x="2404.1" y="1999.7" width="3" height="6.1"/><rect x="2449.1" y="1999.7" width="3" height="6.1"/><rect x="2494.1" y="1999.7" width="3" height="6.1"/><rect x="2539.1" y="1999.7" width="3" height="6.1"/><rect x="2584.1" y="1999.7" width="3" height="10.9"/><rect x="2629.1" y="1999.7" width="3" height="6.1"/><rect x="2674.1" y="1999.7" width="3" height="6.1"/><rect x="2719.1" y="1999.7" width="3" height="6.1"/><rect x="2764.1" y="1999.7" width="3" height="6.1"/><rect x="2809.1" y="1999.7" width="3" height="10.9"/><rect x="2854.1" y="1999.7" width="3" height="6.1"/><rect x="2899.1" y="1999.7" width="3" height="6.1"/><rect x="2944.1" y="1999.7" width="3" height="6.1"/><rect x="2989.1" y="1999.7" width="3" height="6.1"/><rect x="3034.1" y="1999.7" width="3" height="10.9"/><rect x="3079.1" y="1999.7" width="3" height="6.1"/><rect x="3124.1" y="1999.7" width="3" height="6.1"/><rect x="3169.1" y="1999.7" width="3" height="6.1"/><rect x="3214.1" y="1999.7" width="3" height="6.1"/><rect x="3259.1" y="1999.7" width="3" height="10.9"/><rect x="3304.1" y="1999.7" width="3" height="6.1"/><rect x="3349.1" y="1999.7" width="3" height="6.1"/><rect x="3394.1" y="1999.7" width="3" height="6.1"/><rect x="3439.1" y="1999.7" width="3" height="6.1"/><rect x="3484.1" y="1999.7" width="3" height="10.9"/><rect x="3529.1" y="1999.7" width="3" height="6.1"/><rect x="3574.1" y="1999.7" width="3" height="6.1"/><rect x="3619.1" y="1999.7" width="3" height="6.1"/><rect x="3664.1" y="1999.7" width="3" height="6.1"/><rect x="3709.1" y="1999.7" width="3" height="10.9"/><rect x="130.15" y="2066.37" width="3" height="226.7"/><rect x="110.1" y="2289.87" width="1238" height="3.75"/><rect x="120.1" y="2279.35" width="11.55" height="2.9"/><rect x="120.1" y="2268.94" width="11.55" height="2.9"/><rect x="120.1" y="2258.52" width="11.55" height="2.9"/><rect x="120.1" y="2248.1" width="11.55" height="2.9"/><rect x="110.1" y="2237.69" width="21.55" height="2.9"/><rect x="120.1" y="2227.27" width="11.55" height="2.9"/><rect x="120.1" y="2216.85" width="11.55" height="2.9"/><rect x="120.1" y="2206.44" width="11.55" height="2.9"/><rect x="120.1" y="2196.02" width="11.55" height="2.9"/><rect x="110.1" y="2185.6" width="21.55" height="2.9"/><rect x="120.1" y="2175.19" width="11.55" height="2.9"/><rect x="120.1" y="2164.77" width="11.55" height="2.9"/><rect x="120.1" y="2154.35" width="11.55" height="2.9"/><rect x="120.1" y="2143.94" width="11.55" height="2.9"/><rect x="110.1" y="2133.52" width="21.55" height="2.9"/><rect x="120.1" y="2123.1" width="11.55" height="2.9"/><rect x="120.1" y="2112.69" width="11.55" height="2.9"/><rect x="120.1" y="2102.27" width="11.55" height="2.9"/><rect x="120.1" y="2091.85" width="11.55" height="2.9"/><rect x="110.1" y="2081.44" width="21.55" height="2.9"/><rect x="120.1" y="2071.02" width="11.55" height="2.9"/><rect x="154.1" y="2291.37" width="3" height="6.1"/><rect x="199.1" y="2291.37" width="3" height="6.1"/><rect x="244.1" y="2291.37" width="3" height="6.1"/><rect x="289.1" y="2291.37" width="3" height="6.1"/><rect x="334.1" y="2291.37" width="3" height="10.9"/><rect x="379.1" y="2291.37" width="3" height="6.1"/><rect x="424.1" y="2291.37" width="3" height="6.1"/><rect x="469.1" y="2291.37" width="3" height="6.1"/><rect x="514.1" y="2291.37" width="3" height="6.1"/><rect x="559.1" y="2291.37" width="3" height="10.9"/><rect x="604.1" y="2291.37" width="3" height="6.1"/><rect x="649.1" y="2291.37" width="3" height="6.1"/><rect x="694.1" y="2291.37" width="3" height="6.1"/><rect x="739.1" y="2291.37" width="3" height="6.1"/><rect x="784.1" y="2291.37" width="3" height="10.9"/><rect x="829.1" y="2291.37" width="3" height="6.1"/><rect x="874.1" y="2291.37" width="3" height="6.1"/><rect x="919.1" y="2291.37" width="3" height="6.1"/><rect x="964.1" y="2291.37" width="3" height="6.1"/><rect x="1009.1" y="2291.37" width="3" height="10.9"/><rect x="1054.1" y="2291.37" width="3" height="6.1"/><rect x="1099.1" y="2291.37" width="3" height="6.1"/><rect x="1144.1" y="2291.37" width="3" height="6.1"/><rect x="1189.1" y="2291.37" width="3" height="6.1"/><rect x="1234.1" y="2291.37" width="3" height="10.9"/><rect x="1279.1" y="2291.37" width="3" height="6.1"/><rect x="1324.1" y="2291.37" width="3" height="6.1"/></g>
<g font-family="'Liberation Sans',sans-serif" font-size="33.3" fill="#000"><text transform="translate(108.3 263) scale(1 1.08)" text-anchor="end">0.0</text><text transform="translate(108.3 210.92) scale(1 1.08)" text-anchor="end">1.0</text><text transform="translate(108.3 158.83) scale(1 1.08)" text-anchor="end">2.0</text><text transform="translate(108.3 106.75) scale(1 1.08)" text-anchor="end">3.0</text><text transform="translate(108.3 54.67) scale(1 1.08)" text-anchor="end">4.0</text><text transform="translate(336.2 294.7) scale(1 1.08)" text-anchor="middle">5</text><text transform="translate(561.2 294.7) scale(1 1.08)" text-anchor="middle">10</text><text transform="translate(786.2 294.7) scale(1 1.08)" text-anchor="middle">15</text><text transform="translate(1011.2 294.7) scale(1 1.08)" text-anchor="middle">20</text><text transform="translate(1236.2 294.7) scale(1 1.08)" text-anchor="middle">25</text><text transform="translate(1461.2 294.7) scale(1 1.08)" text-anchor="middle">30</text><text transform="translate(1686.2 294.7) scale(1 1.08)" text-anchor="middle">35</text><text transform="translate(1911.2 294.7) scale(1 1.08)" text-anchor="middle">40</text><text transform="translate(2136.2 294.7) scale(1 1.08)" text-anchor="middle">45</text><text transform="translate(2361.2 294.7) scale(1 1.08)" text-anchor="middle">50</text><text transform="translate(2586.2 294.7) scale(1 1.08)" text-anchor="middle">55</text><text transform="translate(2811.2 294.7) scale(1 1.08)" text-anchor="middle">60</text><text transform="translate(3036.2 294.7) scale(1 1.08)" text-anchor="middle">65</text><text transform="translate(3261.2 294.7) scale(1 1.08)" text-anchor="middle">70</text><text transform="translate(3486.2 294.7) scale(1 1.08)" text-anchor="middle">75</text><text transform="translate(3711.2 294.7) scale(1 1.08)" text-anchor="middle">80</text><text transform="translate(50.3 138.2) rotate(-90)" text-anchor="middle" font-size="41.7">bits</text><text transform="translate(108.3 554.67) scale(1 1.08)" text-anchor="end">0.0</text><text transform="translate(108.3 502.58) scale(1 1.08)" text-anchor="end">1.0</text><text transform="translate(108.3 450.5) scale(1 1.08)" text-anchor="end">2.0</text><text transform="translate(108.3 398.42) scale(1 1.08)" text-anchor="end">3.0</text><text transform="translate(108.3 346.33) scale(1 1.08)" text-anchor="end">4.0</text><text transform="translate(336.2 586.37) scale(1 1.08)" text-anchor="middle">85</text><text transform="translate(561.2 586.37) scale(1 1.08)" text-anchor="middle">90</text><text transform="translate(786.2 586.37) scale(1 1.08)" text-anchor="middle">95</text><text transform="translate(1011.2 586.37) scale(1 1.08)" text-anchor="middle">100</text><text transform="translate(1236.2 586.37) scale(1 1.08)" text-anchor="middle">105</text><text transform="translate(1461.2 586.37) scale(1 1.08)" text-anchor="middle">110</text><text transform="translate(1686.2 586.37) scale(1 1.08)" text-anchor="middle">115</text><text transform="translate(1911.2 586.37) scale(1 1.08)" text-anchor="middle">120</text><text transform="translate(2136.2 586.37) scale(1 1.08)" text-anchor="middle">125</text><text transform="translate(2361.2 586.37) scale(1 1.08)" text-anchor="middle">130</text><text transform="translate(2586.2 586.37) scale(1 1.08)" text-anchor="middle">135</text><text transform="translate(2811.2 586.37) scale(1 1.08)" text-anchor="middle">140</text><text transform="translate(3036.2 586.37) scale(1 1.08)" text-anchor="middle">145</text><text transform="translate(3261.2 586.37) scale(1 1.08)" text-anchor="middle">150</text><text transform="translate(3486.2 586.37) scale(1 1.08)" text-anchor="middle">155</text><text transform="translate(3711.2 586.37) scale(1 1.08)" text-anchor="middle">160</text><text transform="translate(50.3 429.87) rotate(-90)" text-anchor="middle" font-size="41.7">bits</text><text transform="translate(108.3 846.33) scale(1 1.08)" text-anchor="end">0.0</text><text transform="translate(108.3 794.25) scale(1 1.08)" text-anchor="end">1.0</text><text transform="translate(108.3 742.17) scale(1 1.08)" text-anchor="end">2.0</text><text transform="translate(108.3 690.08) scale(1 1.08)" text-anchor="end">3.0</text><text transform="translate(108.3 638) scale(1 1.08)" text-anchor="end">4.0</text><text transform="translate(336.2 878.03) scale(1 1.08)" text-anchor="middle">165</text><text transform="translate(561.2 878.03) scale(1 1.08)" text-anchor="middle">170</text><text transform="translate(786.2 878.03) scale(1 1.08)" text-anchor="middle">175</text><text transform="translate(1011.2 878.03) scale(1 1.08)" text-anchor="middle">180</text><text transform="translate(1236.2 878.03) scale(1 1.08)" text-anchor="middle">185</text><text transform="translate(1461.2 878.03) scale(1 1.08)" text-anchor="middle">190</text><text transform="translate(1686.2 878.03) scale(1 1.08)" text-anchor="middle">195</text><text transform="translate(1911.2 878.03) scale(1 1.08)" text-anchor="middle">200</text><text transform="translate(2136.2 878.03) scale(1 1.08)" text-anchor="middle">205</text><text transform="translate(2361.2 878.03) scale(1 1.08)" text-anchor="middle">210</text><text transform="translate(2586.2 878.03) scale(1 1.08)" text-anchor="middle">215</text><text transform="translate(2811.2 878.03) scale(1 1.08)" text-anchor="middle">220</text><text transform="translate(3036.2 878.03) scale(1 1.08)" text-anchor="middle">225</text><text transform="translate(3261.2 878.03) scale(1 1.08)" text-anchor="middle">230</text><text transform="translate(3486.2 878.03) scale(1 1.08)" text-anchor="middle">235</text><text transform="translate(3711.2 878.03) scale(1 1.08)" text-anchor="middle">240</text><text transform="translate(50.3 721.53) rotate(-90)" text-anchor="middle" font-size="41.7">bits</text><text transform="translate(108.3 1138) scale(1 1.08)" text-anchor="end">0.0</text><text transform="translate(108.3 1085.92) scale(1 1.08)" text-anchor="end">1.0</text><text transform="translate(108.3 1033.84) scale(1 1.08)" text-anchor="end">2.0</text><text transform="translate(108.3 981.75) scale(1 1.08)" text-anchor="end">3.0</text><text transform="translate(108.3 929.67) scale(1 1.08)" text-anchor="end">4.0</text><text transform="translate(336.2 1169.7) scale(1 1.08)" text-anchor="middle">245</text><text transform="translate(561.2 1169.7) scale(1 1.08)" text-anchor="middle">250</text><text transform="translate(786.2 1169.7) scale(1 1.08)" text-anchor="middle">255</text><text transform="translate(1011.2 1169.7) scale(1 1.08)" text-anchor="middle">260</text><text transform="translate(1236.2 1169.7) scale(1 1.08)" text-anchor="middle">265</text><text transform="translate(1461.2 1169.7) scale(1 1.08)" text-anchor="middle">270</text><text transform="translate(1686.2 1169.7) scale(1 1.08)" text-anchor="middle">275</text><text transform="translate(1911.2 1169.7) scale(1 1.08)" text-anchor="middle">280</text><text transform="translate(2136.2 1169.7) scale(1 1.08)" text-anchor="middle">285</text><text transform="translate(2361.2 1169.7) scale(1 1.08)" text-anchor="middle">290</text><text transform="translate(2586.2 1169.7) scale(1 1.08)" text-anchor="middle">295</text><text transform="translate(2811.2 1169.7) scale(1 1.08)" text-anchor="middle">300</text><text transform="translate(3036.2 1169.7) scale(1 1.08)" text-anchor="middle">305</text><text transform="translate(3261.2 1169.7) scale(1 1.08)" text-anchor="middle">310</text><text transform="translate(3486.2 1169.7) scale(1 1.08)" text-anchor="middle">315</text><text transform="translate(3711.2 1169.7) scale(1 1.08)" text-anchor="middle">320</text><text transform="translate(50.3 1013.2) rotate(-90)" text-anchor="middle" font-size="41.7">bits</text><text transform="translate(108.3 1429.67) scale(1 1.08)" text-anchor="end">0.0</text><text transform="translate(108.3 1377.58) scale(1 1.08)" text-anchor="end">1.0</text><text transform="translate(108.3 1325.5) scale(1 1.08)" text-anchor="end">2.0</text><text transform="translate(108.3 1273.42) scale(1 1.08)" text-anchor="end">3.0</text><text transform="translate(108.3 1221.34) scale(1 1.08)" text-anchor="end">4.0</text><text transform="translate(336.2 1461.37) scale(1 1.08)" text-anchor="middle">325</text><text transform="translate(561.2 1461.37) scale(1 1.08)" text-anchor="middle">330</text><text transform="translate(786.2 1461.37) scale(1 1.08)" text-anchor="middle">335</text><text transform="translate(1011.2 1461.37) scale(1 1.08)" text-anchor="middle">340</text><text transform="translate(1236.2 1461.37) scale(1 1.08)" text-anchor="middle">345</text><text transform="translate(1461.2 1461.37) scale(1 1.08)" text-anchor="middle">350</text><text transform="translate(1686.2 1461.37) scale(1 1.08)" text-anchor="middle">355</text><text transform="translate(1911.2 1461.37) scale(1 1.08)" text-anchor="middle">360</text><text transform="translate(2136.2 1461.37) scale(1 1.08)" text-anchor="middle">365</text><text transform="translate(2361.2 1461.37) scale(1 1.08)" text-anchor="middle">370</text><text transform="translate(2586.2 1461.37) scale(1 1.08)" text-anchor="middle">375</text><text transform="translate(2811.2 1461.37) scale(1 1.08)" text-anchor="middle">380</text><text transform="translate(3036.2 1461.37) scale(1 1.08)" text-anchor="middle">385</text><text transform="translate(3261.2 1461.37) scale(1 1.08)" text-anchor="middle">390</text><text transform="translate(3486.2 1461.37) scale(1 1.08)" text-anchor="middle">395</text><text transform="translate(3711.2 1461.37) scale(1 1.08)" text-anchor="middle">400</text><text transform="translate(50.3 1304.87) rotate(-90)" text-anchor="middle" font-size="41.7">bits</text><text transform="translate(108.3 1721.33) scale(1 1.08)" text-anchor="end">0.0</text><text transform="translate(108.3 1669.25) scale(1 1.08)" text-anchor="end">1.0</text><text transform="translate(108.3 1617.17) scale(1 1.08)" text-anchor="end">2.0</text><text transform="translate(108.3 1565.09) scale(1 1.08)" text-anchor="end">3.0</text><text transform="translate(108.3 1513) scale(1 1.08)" text-anchor="end">4.0</text><text transform="translate(336.2 1753.03) scale(1 1.08)" text-anchor="middle">405</text><text transform="translate(561.2 1753.03) scale(1 1.08)" text-anchor="middle">410</text><text transform="translate(786.2 1753.03) scale(1 1.08)" text-anchor="middle">415</text><text transform="translate(1011.2 1753.03) scale(1 1.08)" text-anchor="middle">420</text><text transform="translate(1236.2 1753.03) scale(1 1.08)" text-anchor="middle">425</text><text transform="translate(1461.2 1753.03) scale(1 1.08)" text-anchor="middle">430</text><text transform="translate(1686.2 1753.03) scale(1 1.08)" text-anchor="middle">435</text><text transform="translate(1911.2 1753.03) scale(1 1.08)" text-anchor="middle">440</text><text transform="translate(2136.2 1753.03) scale(1 1.08)" text-anchor="middle">445</text><text transform="translate(2361.2 1753.03) scale(1 1.08)" text-anchor="middle">450</text><text transform="translate(2586.2 1753.03) scale(1 1.08)" text-anchor="middle">455</text><text transform="translate(2811.2 1753.03) scale(1 1.08)" text-anchor="middle">460</text><text transform="translate(3036.2 1753.03) scale(1 1.08)" text-anchor="middle">465</text><text transform="translate(3261.2 1753.03) scale(1 1.08)" text-anchor="middle">470</text><text transform="translate(3486.2 1753.03) scale(1 1.08)" text-anchor="middle">475</text><text transform="translate(3711.2 1753.03) scale(1 1.08)" text-anchor="middle">480</text><text transform="translate(50.3 1596.54) rotate(-90)" text-anchor="middle" font-size="41.7">bits</text><text transform="translate(108.3 2013) scale(1 1.08)" text-anchor="end">0.0</text><text transform="translate(108.3 1960.92) scale(1 1.08)" text-anchor="end">1.0</text><text transform="translate(108.3 1908.84) scale(1 1.08)" text-anchor="end">2.0</text><text transform="translate(108.3 1856.75) scale(1 1.08)" text-anchor="end">3.0</text><text transform="translate(108.3 1804.67) scale(1 1.08)" text-anchor="end">4.0</text><text transform="translate(336.2 2044.7) scale(1 1.08)" text-anchor="middle">485</text><text transform="translate(561.2 2044.7) scale(1 1.08)" text-anchor="middle">490</text><text transform="translate(786.2 2044.7) scale(1 1.08)" text-anchor="middle">495</text><text transform="translate(1011.2 2044.7) scale(1 1.08)" text-anchor="middle">500</text><text transform="translate(1236.2 2044.7) scale(1 1.08)" text-anchor="middle">505</text><text transform="translate(1461.2 2044.7) scale(1 1.08)" text-anchor="middle">510</text><text transform="translate(1686.2 2044.7) scale(1 1.08)" text-anchor="middle">515</text><text transform="translate(1911.2 2044.7) scale(1 1.08)" text-anchor="middle">520</text><text transform="translate(2136.2 2044.7) scale(1 1.08)" text-anchor="middle">525</text><text transform="translate(2361.2 2044.7) scale(1 1.08)" text-anchor="middle">530</text><text transform="translate(2586.2 2044.7) scale(1 1.08)" text-anchor="middle">535</text><text transform="translate(2811.2 2044.7) scale(1 1.08)" text-anchor="middle">540</text><text transform="translate(3036.2 2044.7) scale(1 1.08)" text-anchor="middle">545</text><text transform="translate(3261.2 2044.7) scale(1 1.08)" text-anchor="middle">550</text><text transform="translate(3486.2 2044.7) scale(1 1.08)" text-anchor="middle">555</text><text transform="translate(3711.2 2044.7) scale(1 1.08)" text-anchor="middle">560</text><text transform="translate(50.3 1888.2) rotate(-90)" text-anchor="middle" font-size="41.7">bits</text><text transform="translate(108.3 2304.67) scale(1 1.08)" text-anchor="end">0.0</text><text transform="translate(108.3 2252.59) scale(1 1.08)" text-anchor="end">1.0</text><text transform="translate(108.3 2200.5) scale(1 1.08)" text-anchor="end">2.0</text><text transform="translate(108.3 2148.42) scale(1 1.08)" text-anchor="end">3.0</text><text transform="translate(108.3 2096.34) scale(1 1.08)" text-anchor="end">4.0</text><text transform="translate(336.2 2336.37) scale(1 1.08)" text-anchor="middle">565</text><text transform="translate(561.2 2336.37) scale(1 1.08)" text-anchor="middle">570</text><text transform="translate(786.2 2336.37) scale(1 1.08)" text-anchor="middle">575</text><text transform="translate(1011.2 2336.37) scale(1 1.08)" text-anchor="middle">580</text><text transform="translate(1236.2 2336.37) scale(1 1.08)" text-anchor="middle">585</text><text transform="translate(50.3 2179.87) rotate(-90)" text-anchor="middle" font-size="41.7">bits</text>
<text x="3733" y="2366.7" text-anchor="end" font-size="25">WebLogo 3.7.12</text></g>
</svg>
</body></html>
